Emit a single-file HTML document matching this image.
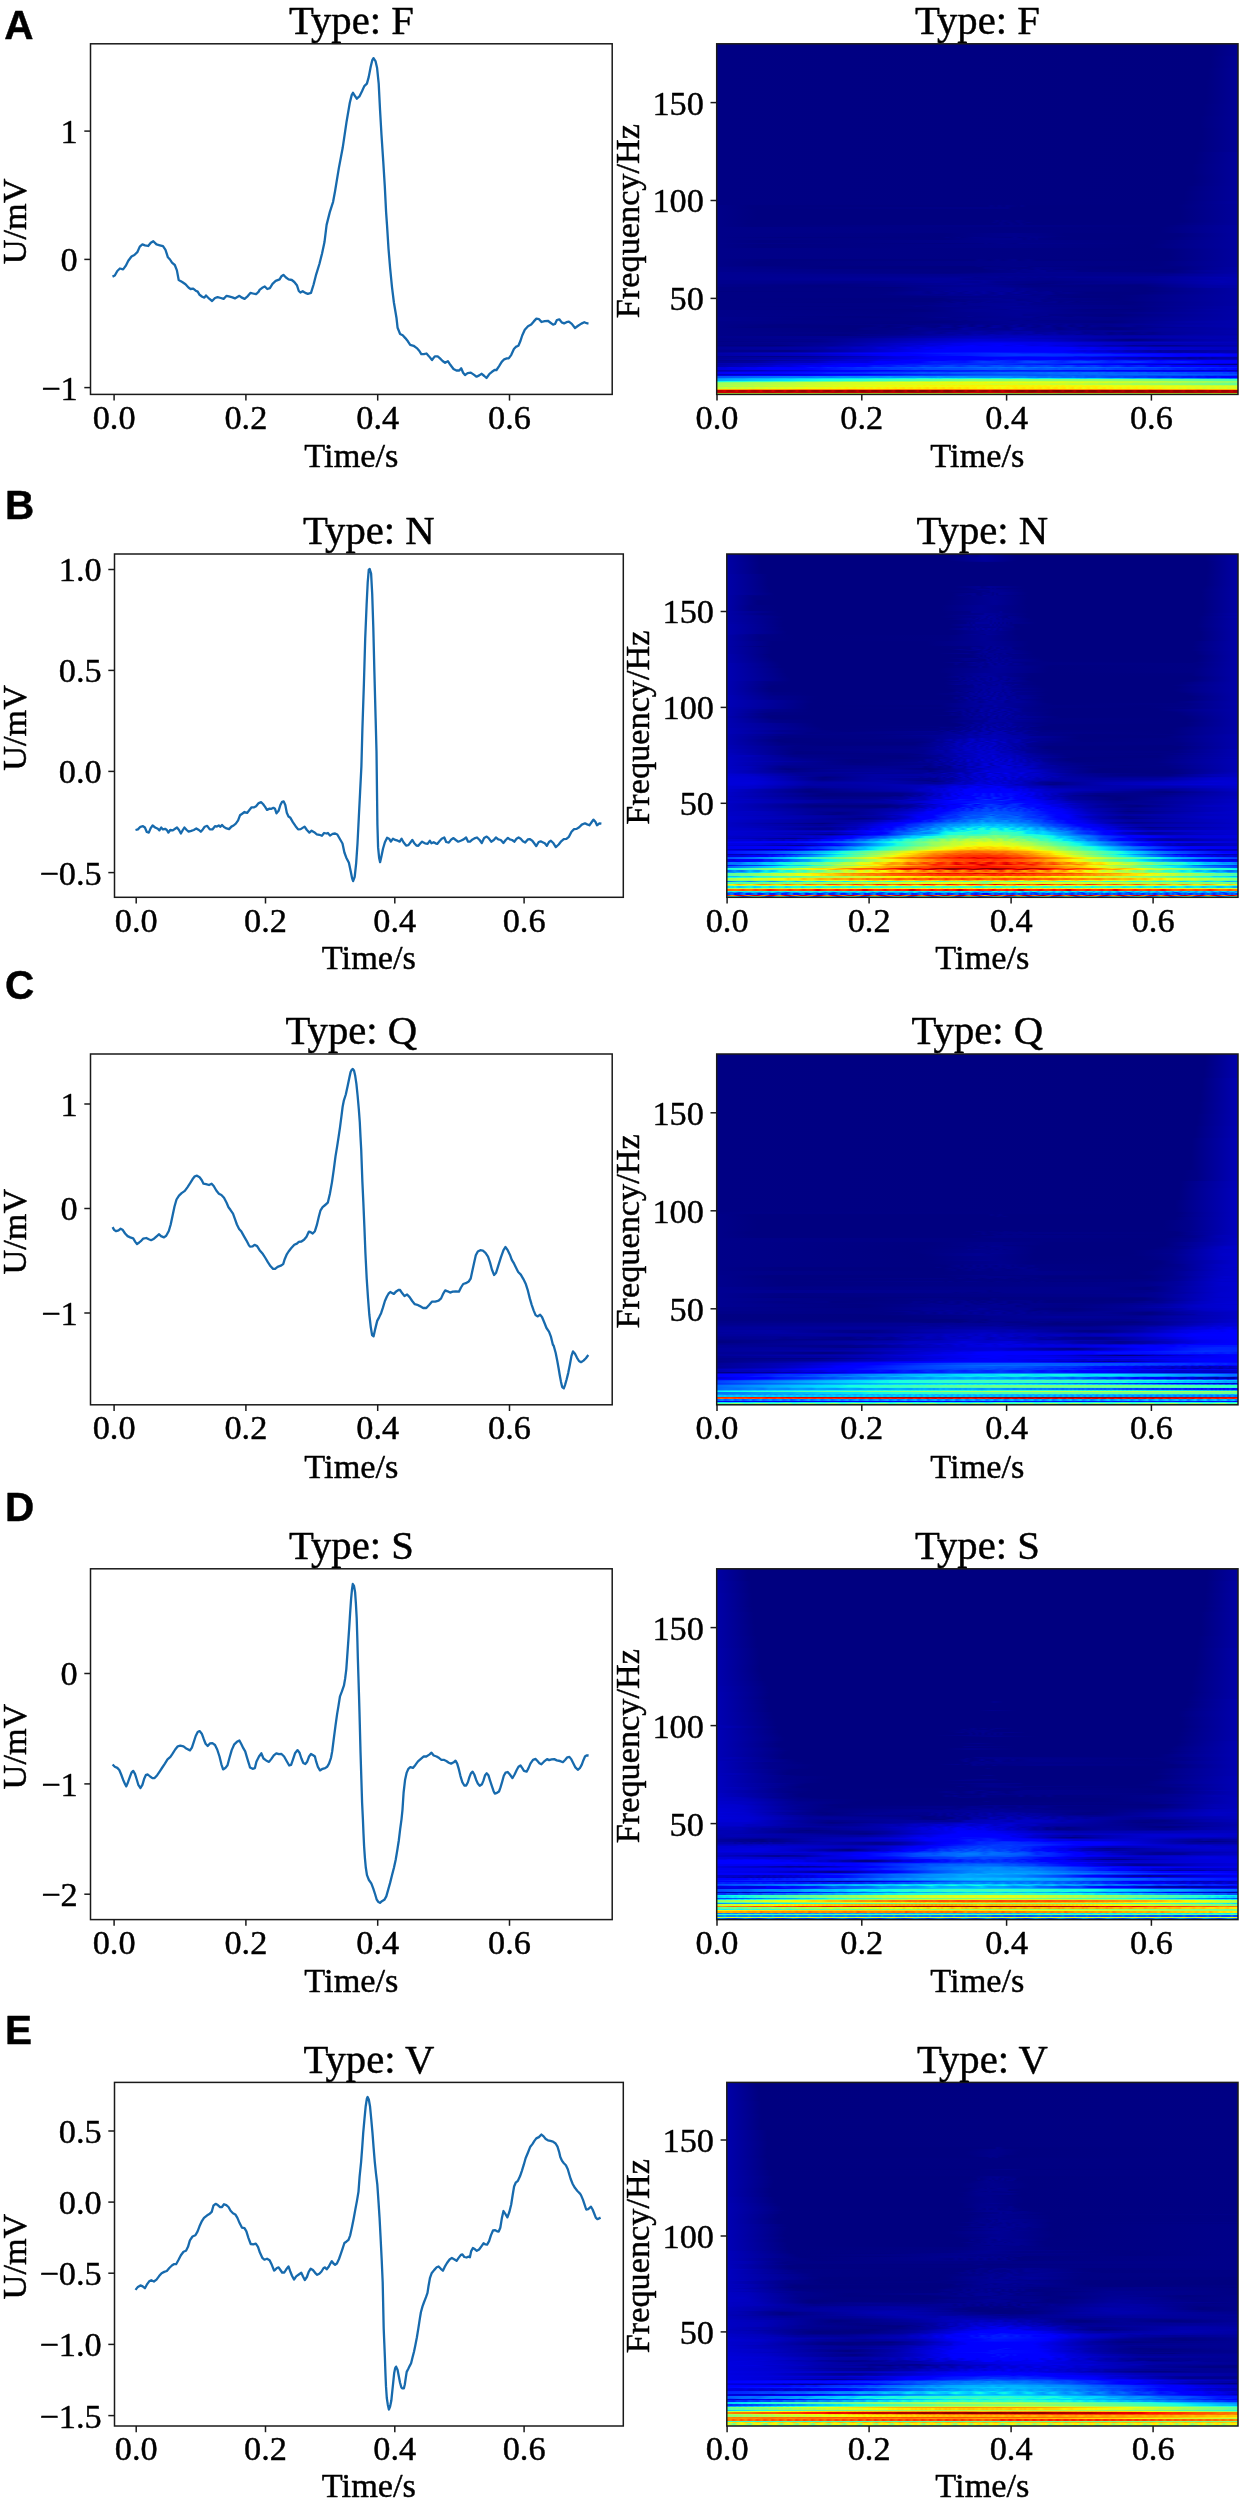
<!DOCTYPE html>
<html><head><meta charset="utf-8"><title>Figure</title>
<style>
html,body{margin:0;padding:0;background:#fff;}
#fig{position:relative;width:1245px;height:2500px;overflow:hidden;background:#fff;}
.sp{position:absolute;overflow:hidden;background:#00007f;}
.sp i{display:block;height:1px;background:linear-gradient(90deg,var(--g));}
.sp .h2{height:2px;}.sp .h3{height:3px;}.sp .h4{height:4px;}.sp .h5{height:5px;}.sp .h6{height:6px;}.sp .h7{height:7px;}.sp .h8{height:8px;}.sp .h9{height:9px;}.sp .h10{height:10px;}.sp .h11{height:11px;}.sp .h12{height:12px;}
svg{display:block;position:absolute;left:0;top:0;will-change:transform;}
text{fill:#000;stroke:#000;stroke-width:0.45px;stroke-linejoin:round;}
</style></head><body>
<div id="fig">
<div class="sp" style="left:717px;top:44px;width:521px;height:350px"><i class=h12 style="--g:#000084,#000080 494px,#000092"></i><i class=h12 style="--g:#000084,#000080 493px,#000095"></i><i class=h12 style="--g:#000084,#000080 491px,#000096"></i><i class=h12 style="--g:#000084,#000080 489px,#000096"></i><i class=h12 style="--g:#000084,#000080 489px,#000096"></i><i class=h12 style="--g:#000084,#000080 486px,#000096"></i><i class=h12 style="--g:#000084,#000080 483px,#000096"></i><i class=h12 style="--g:#000084,#000080 485px,#000096"></i><i class=h12 style="--g:#000084,#000080 481px,#000096"></i><i class=h12 style="--g:#000084,#000080 478px,#00009b"></i><i class=h10 style="--g:#000084,#000080 475px,#00009b"></i><i style="--g:#000084,#000080 476px,#00009b"></i><i class=h8 style="--g:#000084,#000080 477px,#00009b"></i><i class=h3 style="--g:#000084,#000080 475px,#00009b"></i><i class=h5 style="--g:#000084,#000080 469px,#00009b"></i><i class=h10 style="--g:#000084,#000080 467px,#00009b"></i><i class=h3 style="--g:#000084,#000080 465px,#00009e"></i><i style="--g:#000084,#000080 462px,#00009b"></i><i class=h2 style="--g:#000089,#000080 35px,#000080 271px,#000089 274px,#000080 279px,#000089 282px,#000080 287px,#000089 290px,#000080 302px,#000089 305px,#000080 309px,#000080 460px,#00009b"></i><i class=h2 style="--g:#000089,#000080 36px,#000089 291px,#000080 294px,#000080 461px,#00009b"></i><i class=h11 style="--g:#000089,#000080 40px,#000080 463px,#00009b"></i><i class=h2 style="--g:#000089,#000080 32px,#000080 276px,#000089 280px,#000080 283px,#000089 286px,#000080 297px,#000089 300px,#000080 311px,#000080 467px,#00009b"></i><i style="--g:#000089,#000080 35px,#000080 274px,#000089 277px,#000080 281px,#000089 284px,#000080 289px,#000089 292px,#000080 299px,#000089 302px,#000080 307px,#000089 311px,#000080 316px,#000080 464px,#00009b"></i><i class=h2 style="--g:#000089,#000080 32px,#000080 281px,#000089 284px,#000080 291px,#000089 294px,#000080 301px,#000089 304px,#000080 310px,#000080 458px,#00009b"></i><i class=h2 style="--g:#000089,#000080 36px,#000089 297px,#000080 448px,#00009f"></i><i class=h6 style="--g:#000089,#000080 443px,#00009f"></i><i class=h3 style="--g:#000089,#000080 227px,#00008d 296px,#000080 348px,#000080 461px,#00009f"></i><i style="--g:#000089,#000080 223px,#00008d 306px,#000080 356px,#000080 462px,#00009f"></i><i style="--g:#000089,#000080 62px,#000080 226px,#000089 230px,#000080 235px,#000089 242px,#000080 245px,#00008d 258px,#000084 294px,#000092 298px,#000084 302px,#00008d 318px,#000080 340px,#000080 455px,#00009f"></i><i class=h2 style="--g:#000089,#000080 227px,#00008d 272px,#00008d 304px,#000084 307px,#00008d 312px,#000084 316px,#00008d 320px,#000084 322px,#000080 348px,#000080 454px,#00009f"></i><i class=h3 style="--g:#000089,#000080 45px,#00008a 279px,#000080 436px,#00009f"></i><i style="--g:#000089,#000080 223px,#000084 266px,#00008d 269px,#000084 272px,#00008d 285px,#000084 298px,#00008d 303px,#000080 435px,#00009f"></i><i class=h4 style="--g:#000089,#000080 47px,#000089 290px,#000080 431px,#00009f"></i><i style="--g:#000089,#000080 443px,#00009f"></i><i class=h6 style="--g:#000089,#000080 451px,#00009f"></i><i style="--g:#000089,#000080 451px,#00009f"></i><i class=h2 style="--g:#000089,#000080 451px,#00009f"></i><i style="--g:#000089,#000080 453px,#00009f"></i><i class=h2 style="--g:#000089,#000080 54px,#000080 257px,#000089 262px,#000080 273px,#000089 281px,#000080 286px,#00008d 298px,#000080 302px,#000089 312px,#000080 319px,#000080 452px,#00009f"></i><i class=h5 style="--g:#000089,#000080 43px,#000089 294px,#000081 441px,#00009f"></i><i style="--g:#000089,#000080 107px,#000080 257px,#000089 262px,#000080 266px,#00008d 309px,#000084 312px,#000080 413px,#000084 459px,#00009f"></i><i class=h2 style="--g:#00008d,#000080 115px,#000080 265px,#000089 268px,#000084 312px,#00008d 319px,#000080 382px,#000084 463px,#0000a4"></i><i style="--g:#00008d,#000080 267px,#00008d 284px,#000084 292px,#000092 297px,#000084 302px,#000092 307px,#000084 315px,#000092 321px,#000084 326px,#00008d 335px,#000084 338px,#000080 456px,#0000a4"></i><i class=h2 style="--g:#00008d,#000080 265px,#000092 328px,#000089 330px,#00008d 356px,#000084 362px,#000080 455px,#00009b 489px,#0000a4"></i><i style="--g:#000092,#000080 239px,#000089 298px,#000092 301px,#000089 306px,#000092 328px,#000084 457px,#0000a8"></i><i style="--g:#000092,#000084 235px,#000092 290px,#000089 449px,#0000a8"></i><i class=h2 style="--g:#000092,#00008d 441px,#0000ad"></i><i style="--g:#000092,#000092 422px,#0000ad"></i><i style="--g:#000092,#000096 254px,#00008d 258px,#000096 280px,#00008d 285px,#000096 293px,#00008d 299px,#000096 306px,#00008d 312px,#000096 318px,#00008d 323px,#000096 330px,#00008d 336px,#000096 343px,#000096 437px,#0000b2 507px,#0000ad"></i><i class=h2 style="--g:#000092,#00009b 241px,#000092 247px,#00008d 338px,#000096 427px,#0000b2"></i><i style="--g:#00008d,#00009b 259px,#000089 331px,#000096 435px,#0000b2 499px,#0000ad"></i><i class=h2 style="--g:#00008d,#00008d 161px,#00009b 219px,#000092 261px,#00009b 267px,#00008d 280px,#000084 336px,#000092 432px,#0000b2 505px,#0000ad"></i><i style="--g:#00008d,#000089 147px,#000096 242px,#00009f 245px,#000080 329px,#00008d 365px,#00008d 434px,#0000ad 493px,#0000ad"></i><i style="--g:#000089,#000084 132px,#00009b 253px,#000080 313px,#000089 340px,#000084 423px,#0000ad 501px,#0000ad"></i><i class=h2 style="--g:#000089,#000080 108px,#000096 273px,#000084 317px,#000080 424px,#0000a4 488px,#0000a8"></i><i style="--g:#000084,#000080 180px,#000092 211px,#00009b 274px,#000089 311px,#000080 433px,#0000a4 492px,#0000a8"></i><i class=h3 style="--g:#000084,#000083 175px,#000099 246px,#000099 296px,#00008d 300px,#000095 306px,#00008a 320px,#000080 429px,#0000a4"></i><i style="--g:#000080,#000084 176px,#000092 204px,#000089 211px,#000096 217px,#00008d 225px,#00009b 229px,#00008d 237px,#00009f 242px,#00008d 249px,#00009f 254px,#000092 260px,#00009f 266px,#000092 272px,#00009f 278px,#000092 284px,#00009f 293px,#00008d 297px,#00009b 306px,#000089 310px,#000096 319px,#000089 322px,#000092 331px,#000084 336px,#00008d 344px,#000084 346px,#000080 435px,#0000a4"></i><i class=h2 style="--g:#000084,#000084 166px,#000092 203px,#000089 212px,#000096 219px,#00008d 230px,#00009b 235px,#00008d 244px,#00009b 249px,#000092 262px,#00009f 267px,#00008d 276px,#00009f 284px,#00008d 292px,#00009f 299px,#00008d 306px,#000092 334px,#000084 339px,#00008d 350px,#000080 370px,#000080 427px,#0000a4"></i><i style="--g:#000084,#000084 157px,#000092 209px,#000089 227px,#000096 232px,#00008d 253px,#00009f 259px,#000092 265px,#000092 278px,#00009f 285px,#000092 289px,#00008d 301px,#00009b 310px,#000089 317px,#000092 334px,#000084 341px,#000080 414px,#0000a4"></i><i style="--g:#000084,#000084 170px,#000096 260px,#00008d 270px,#00009b 278px,#00008d 283px,#000096 302px,#000089 317px,#000092 327px,#000084 334px,#000080 401px,#0000a4"></i><i class=h2 style="--g:#000084,#000084 200px,#000092 309px,#000080 359px,#000080 404px,#0000a4"></i><i style="--g:#000084,#000080 224px,#00008d 237px,#000096 283px,#00008d 287px,#000092 326px,#000084 332px,#00008d 338px,#000080 402px,#0000a4"></i><i class=h2 style="--g:#000084,#000080 218px,#000096 297px,#000089 301px,#000092 322px,#000089 325px,#000080 400px,#0000a4"></i><i style="--g:#000084,#000080 216px,#000089 227px,#000080 232px,#00008d 236px,#000084 248px,#000092 252px,#000089 264px,#000096 272px,#00008d 277px,#000096 307px,#000089 313px,#000096 322px,#000084 328px,#000092 338px,#000084 343px,#00008d 355px,#000080 360px,#000089 365px,#000080 409px,#0000a4"></i><i style="--g:#000084,#000080 127px,#000084 223px,#00008d 228px,#000084 235px,#000092 241px,#000089 261px,#000096 266px,#00008d 271px,#000096 314px,#000089 318px,#000092 338px,#000084 342px,#00008d 350px,#000084 354px,#000080 416px,#0000a4"></i><i class=h2 style="--g:#000084,#000084 209px,#000092 241px,#000089 248px,#000092 252px,#000096 299px,#00008d 306px,#000096 311px,#00008d 314px,#000080 410px,#0000a4"></i><i style="--g:#000084,#000084 173px,#000096 279px,#000084 420px,#0000a4"></i><i style="--g:#000084,#000080 113px,#000084 195px,#00008d 199px,#000084 209px,#000092 231px,#00008d 262px,#00009b 301px,#00008d 326px,#000084 415px,#0000a8"></i><i class=h2 style="--g:#000084,#000084 200px,#000096 290px,#000084 424px,#0000a8"></i><i style="--g:#000084,#000080 200px,#000096 262px,#00008d 289px,#00009b 297px,#000080 378px,#000080 417px,#0000a4 497px,#0000a4"></i><i class=h2 style="--g:#000089,#000080 208px,#000092 250px,#000096 317px,#000084 369px,#000084 420px,#0000a8"></i><i class=h2 style="--g:#000089,#000082 181px,#000096 299px,#000084 392px,#0000a8"></i><i class=h2 style="--g:#000089,#000084 185px,#000096 304px,#00008d 307px,#000092 330px,#000089 333px,#000080 401px,#0000a8"></i><i style="--g:#000089,#000080 147px,#00008d 249px,#000096 252px,#00008d 258px,#000096 314px,#000089 329px,#000092 337px,#000084 354px,#00008d 359px,#000080 390px,#0000a8"></i><i style="--g:#00008d,#000080 155px,#000084 204px,#000092 227px,#000089 237px,#000096 314px,#000089 320px,#000092 326px,#000089 409px,#0000a8"></i><i class=h2 style="--g:#00008d,#000084 86px,#000084 195px,#000092 275px,#000089 400px,#0000a8"></i><i style="--g:#00008d,#000084 109px,#000084 235px,#00008d 243px,#000084 249px,#00008d 252px,#000092 289px,#000089 296px,#000092 304px,#000089 311px,#000092 319px,#000089 323px,#000084 400px,#0000ad"></i><i class=h2 style="--g:#000089,#000080 223px,#000092 295px,#000080 395px,#0000a4 472px,#0000ad"></i><i style="--g:#000089,#000080 179px,#000092 315px,#000089 395px,#0000ad"></i><i style="--g:#000089,#000080 69px,#000089 189px,#000080 193px,#00008d 225px,#000084 243px,#000092 250px,#000084 255px,#000092 261px,#000089 281px,#000096 287px,#00008d 295px,#00009b 300px,#000089 306px,#000096 312px,#00008d 317px,#000096 326px,#000089 331px,#000096 337px,#000089 343px,#000096 350px,#000089 356px,#000092 360px,#000089 368px,#0000ad"></i><i class=h2 style="--g:#000089,#000080 52px,#000080 155px,#000089 164px,#000080 172px,#00008d 193px,#000084 222px,#000092 226px,#000092 233px,#000084 238px,#000096 243px,#000096 249px,#000084 255px,#00009b 261px,#00009b 265px,#000084 271px,#00009b 277px,#00009b 282px,#000089 288px,#00009f 297px,#000089 304px,#00009b 312px,#000089 321px,#00009b 332px,#000089 337px,#000096 349px,#000084 354px,#000096 364px,#000084 370px,#000092 375px,#000089 388px,#000096 412px,#00008d 420px,#0000a4 464px,#0000ad"></i><i style="--g:#000089,#000080 34px,#000080 143px,#000089 156px,#000080 168px,#00008d 183px,#000080 191px,#000096 201px,#000084 218px,#000096 223px,#00009b 231px,#000084 242px,#00009b 249px,#00009f 255px,#000084 267px,#0000a4 276px,#000089 290px,#0000a4 304px,#000089 316px,#00009b 331px,#000084 341px,#000096 353px,#000080 366px,#00008d 372px,#000080 391px,#0000ad"></i><i class=h2 style="--g:#000089,#000080 139px,#000089 147px,#000084 189px,#000096 197px,#000089 239px,#0000a4 247px,#000096 257px,#00008d 292px,#0000a4 297px,#0000a8 302px,#000096 309px,#000092 336px,#000084 342px,#000096 356px,#000089 363px,#000080 402px,#00009b 444px,#0000a8"></i><i style="--g:#000089,#000080 143px,#00009b 249px,#000092 414px,#0000ad"></i><i style="--g:#000089,#000080 130px,#00008d 200px,#00009b 216px,#000092 228px,#0000a8 264px,#000096 274px,#0000a4 284px,#0000a8 314px,#000096 320px,#00009f 362px,#000092 366px,#00009b 402px,#000092 420px,#0000ad"></i><i class=h2 style="--g:#000089,#000084 152px,#000092 202px,#00009f 213px,#000092 224px,#0000a4 232px,#00009b 250px,#0000a8 256px,#00009f 274px,#0000ad 291px,#00009f 299px,#0000ad 314px,#00009b 319px,#0000a8 338px,#000096 343px,#00009f 362px,#00008d 368px,#000096 386px,#000084 394px,#00008d 400px,#000084 416px,#000092 425px,#000089 436px,#000096 445px,#0000ad"></i><i style="--g:#000089,#000080 129px,#00008d 149px,#00008d 186px,#00009b 195px,#000092 201px,#0000a4 225px,#00009f 236px,#0000ad 242px,#00009f 251px,#0000b2 258px,#0000a4 268px,#0000b6 275px,#0000a8 281px,#0000b6 290px,#0000a8 297px,#0000b2 308px,#0000a4 312px,#0000b2 323px,#00009f 328px,#0000ad 338px,#00009b 345px,#0000a4 356px,#000096 360px,#00009b 373px,#00008d 378px,#000096 388px,#000089 392px,#000092 404px,#000089 406px,#000089 426px,#0000a4 477px,#0000a8"></i><i style="--g:#000089,#000080 129px,#0000bb 282px,#0000ad 366px,#00009f 386px,#0000ad"></i><i class=h2 style="--g:#00008d,#000092 149px,#0000c4 269px,#0000bb 280px,#0000c4 314px,#0000a8 396px,#0000b2"></i><i style="--g:#000089,#000096 127px,#0000c4 229px,#0000c8 291px,#0000d1 294px,#0000bf 314px,#00009b 418px,#0000b2 493px,#0000ad"></i><i class=h2 style="--g:#000089,#00008d 100px,#0000d6 257px,#0000c4 334px,#000080 414px,#00009f 461px,#0000b2"></i><i style="--g:#000084,#000089 100px,#0000cd 213px,#0000df 267px,#0000d6 317px,#0000a4 408px,#0000b6"></i><i style="--g:#000089,#000092 105px,#0000ed 265px,#0000e8 326px,#0000c4 398px,#0000bb"></i><i class=h2 style="--g:#000089,#000089 54px,#00009b 118px,#0000d1 192px,#0000d1 207px,#0000df 213px,#0000df 229px,#0000ed 237px,#0000fa 285px,#0000e8 316px,#0000ed 329px,#0000b6 426px,#0000b6"></i><i style="--g:#000084,#000080 65px,#00009b 106px,#000096 115px,#0000a8 127px,#0000a8 144px,#0000bb 153px,#0000bb 167px,#0000d1 180px,#0000c8 189px,#0000e3 203px,#0000da 216px,#0000f1 226px,#0000ed 243px,#0000ff 255px,#0000f1 264px,#0000ff 283px,#0000ed 289px,#0000ff 304px,#0000e3 315px,#0000f1 330px,#0000da 339px,#0000df 352px,#0000c4 366px,#0000c4 382px,#0000ad 389px,#0000ad 405px,#000092 416px,#00009b 430px,#00008d 436px,#00008d 459px,#00009b 468px,#0000ad"></i><i style="--g:#00008d,#00008d 54px,#00009f 106px,#0000ff 247px,#0000f6 325px,#0000bb 396px,#0000a4 440px,#0000b2"></i><i class=h2 style="--g:#000096,#0000a8 106px,#0000b6 114px,#0000b6 131px,#0000c4 137px,#0000c4 154px,#0000da 164px,#0000d1 176px,#0000ed 191px,#0000e3 201px,#0000fa 209px,#0000f1 224px,#0000ff 230px,#0000ff 355px,#0000ed 364px,#0000f6 376px,#0000e3 385px,#0000e8 399px,#0000d6 412px,#0000da 425px,#0000cd 435px,#0000bf"></i><i style="--g:#000092,#0000a4 107px,#0000c8 159px,#0000df 175px,#0000da 183px,#0000f1 198px,#0000f1 212px,#0000ff 219px,#0000ff 361px,#0000d6 422px,#0000bf"></i><i class=h2 style="--g:#00008d,#000084 71px,#0000a8 123px,#0000ff 215px,#0000ff 344px,#0000df 368px,#0000e8 372px,#0000d6 378px,#0000d6 388px,#0000c4 395px,#0000c8 404px,#0000b6 410px,#0000b6 421px,#0000a4 432px,#0000ad 437px,#00009b 443px,#0000a4 446px,#00009b 460px,#0000ad"></i><i style="--g:#00009b,#0000b2 89px,#0000ff 189px,#0014ff 269px,#0000ff 355px,#0000a4 452px,#0000ad 455px,#0000a4 458px,#0000ad 461px,#0000a4 463px,#0000ad 467px,#0000a4 469px,#0000ad 479px,#0000a4 489px,#0000b2 491px,#0000a8 501px,#0000b2 503px,#0000ad 519px,#0000b6"></i><i style="--g:#0000a8,#0000c4 73px,#0000ff 157px,#0000ff 189px,#001cff 230px,#0018ff 245px,#002cff 281px,#002cff 298px,#0020ff 306px,#0028ff 326px,#001cff 336px,#0020ff 347px,#0010ff 356px,#0018ff 365px,#000cff 370px,#000cff 393px,#0000ff 398px,#0000ff 443px,#0000ed 461px,#0000f6 469px,#0000e8 479px,#0000ed 490px,#0000e3 493px,#0000e8 503px,#0000da 509px,#0000da"></i><i class=h2 style="--g:#0000a4,#0000bf 89px,#0000ff 177px,#0000ff 202px,#0034ff 299px,#0028ff 379px,#0000ff 463px,#0000ff 503px,#0000f1"></i><i style="--g:#000092,#000089 61px,#000096 91px,#0000bf 148px,#0000e8 181px,#0000e8 196px,#0000ff 210px,#0000ff 254px,#0014ff 268px,#001cff 287px,#0010ff 309px,#001cff 336px,#0014ff 356px,#0008ff 358px,#0010ff 374px,#0000ff 396px,#0000ff 452px,#0000e8 475px,#0000e3"></i><i class=h2 style="--g:#000096,#0000a8 97px,#0000ff 223px,#0000ff 338px,#0000f1 352px,#0000f6 360px,#0000e8 364px,#0000ed 372px,#0000df 375px,#0000d6 396px,#0000c8 400px,#0000bf 420px,#0000b2 424px,#0000b6 432px,#0000a8 435px,#0000ad 444px,#00009f 447px,#0000a4 469px,#000096 472px,#0000a4 481px,#000096 483px,#0000a8 493px,#00009b 495px,#0000a8 502px,#0000a8"></i><i style="--g:#00009b,#0000c8 123px,#0000d6 132px,#0000df 160px,#0000ed 165px,#0000f1 192px,#0000ff 197px,#0000ff 274px,#000cff 279px,#0000ff 284px,#000cff 294px,#0000ff 303px,#0000ff 363px,#0000e8 388px,#0000ed 394px,#0000df 398px,#0000e8 400px,#0000cd 430px,#0000d6 433px,#0000c4 446px,#0000cd 449px,#0000bf 461px,#0000c8 466px,#0000bb 479px,#0000c8 481px,#0000bb 485px,#0000c4 497px,#0000bb"></i><i style="--g:#00008d,#000092 40px,#0000b2 100px,#0000da 141px,#0000d6 151px,#0000ed 164px,#0000e8 175px,#0000ff 187px,#0000ff 227px,#0010ff 236px,#0008ff 248px,#0020ff 261px,#0010ff 273px,#0028ff 284px,#0018ff 299px,#0030ff 310px,#001cff 320px,#0030ff 337px,#0018ff 347px,#002cff 362px,#0014ff 371px,#0028ff 385px,#0010ff 394px,#0020ff 409px,#0008ff 418px,#0014ff 434px,#0000ff 442px,#000cff 454px,#0000ff 464px,#0000f6"></i><i class=h2 style="--g:#000096,#00009b 38px,#0000bb 64px,#0000bb 97px,#0000df 116px,#0000df 150px,#0000ff 160px,#0000ff 203px,#0020ff 217px,#0010ff 248px,#003cff 266px,#0020ff 297px,#0040ff 307px,#004cff 317px,#0024ff 345px,#0040ff 357px,#0048ff 368px,#0020ff 394px,#0038ff 417px,#0010ff 442px,#0020ff 465px,#0000ff 489px,#0000ff"></i><i style="--g:#0000ad,#0000c8 62px,#0000ff 138px,#0000ff 169px,#0030ff 271px,#002cff 337px,#0000ff 423px,#0000ff 457px,#0000da"></i><i style="--g:#0000a4,#0000bb 30px,#0000b6 42px,#0000da 77px,#0000d6 90px,#0000e8 98px,#0000e8 112px,#0000ff 125px,#0000ff 163px,#0010ff 173px,#0008ff 185px,#001cff 193px,#0014ff 209px,#0024ff 219px,#001cff 230px,#002cff 237px,#0020ff 253px,#002cff 269px,#0020ff 280px,#0030ff 286px,#001cff 302px,#0020ff 317px,#0014ff 324px,#0020ff 336px,#0008ff 350px,#0000ff 394px,#0000f1 410px,#0000df 417px,#0000e3 431px,#0000b2 465px,#0000b6 477px,#00009f 491px,#00008d"></i><i class=h2 style="--g:#0000ad,#0000d1 55px,#0000df 60px,#0000da 73px,#0000f6 87px,#0000f1 102px,#0000ff 106px,#0004ff 149px,#001cff 157px,#0014ff 173px,#002cff 181px,#0020ff 197px,#003cff 207px,#002cff 220px,#0044ff 228px,#0044ff 235px,#0030ff 243px,#004cff 253px,#004cff 259px,#0034ff 268px,#0050ff 277px,#0050ff 283px,#003cff 289px,#0050ff 305px,#0038ff 312px,#004cff 330px,#0030ff 338px,#0048ff 351px,#0044ff 355px,#0028ff 361px,#003cff 378px,#001cff 387px,#0030ff 401px,#0010ff 410px,#0024ff 422px,#0020ff 427px,#0004ff 433px,#0014ff 451px,#0000ff 455px,#0000ff 501px,#0000ed 503px,#0000f6"></i><i style="--g:#0000df,#0000da 8px,#0000ed 14px,#0000e3 23px,#0000f6 29px,#0000ed 38px,#0000ff 43px,#0000ff 87px,#0014ff 94px,#000cff 103px,#0020ff 111px,#0018ff 119px,#0028ff 125px,#0024ff 136px,#0034ff 141px,#002cff 151px,#0040ff 158px,#0040ff 182px,#0054ff 191px,#004cff 200px,#005cff 206px,#0054ff 216px,#0064ff 223px,#0060ff 248px,#0070ff 268px,#0068ff 280px,#0074ff 286px,#0068ff 295px,#007cff 302px,#0068ff 310px,#0078ff 318px,#0068ff 325px,#0078ff 336px,#0064ff 342px,#0074ff 350px,#0064ff 357px,#0070ff 368px,#005cff 374px,#0068ff 381px,#0058ff 390px,#0060ff 401px,#0054ff 405px,#0048ff 448px,#0038ff 455px,#0040ff 463px,#0030ff 471px,#0034ff 481px,#0028ff 485px,#002cff 494px,#0014ff"></i><i class=h2 style="--g:#0000da,#0000ff 51px,#0004ff 95px,#0028ff 140px,#0030ff 169px,#003cff 174px,#003cff 193px,#0048ff 198px,#0040ff 205px,#004cff 209px,#004cff 243px,#005cff 269px,#0054ff 279px,#0060ff 282px,#0054ff 292px,#0064ff 306px,#0054ff 323px,#005cff 331px,#0050ff 340px,#005cff 342px,#0050ff 347px,#0050ff 379px,#0040ff 388px,#004cff 390px,#003cff 399px,#0040ff 415px,#0030ff 424px,#0034ff 439px,#0024ff 447px,#002cff 452px,#001cff 460px,#0020ff 475px,#0010ff 483px,#0018ff 488px,#0008ff 496px,#0010ff 501px,#0000ff 509px,#000cff 511px,#0000ff"></i><i style="--g:#0000ad,#0000bf 28px,#0000bb 44px,#0000d1 56px,#0000d6 83px,#0000f1 103px,#0000ff 134px,#0000ff 179px,#0014ff 190px,#0010ff 218px,#0024ff 237px,#0018ff 266px,#0028ff 276px,#0018ff 303px,#0024ff 326px,#000cff 351px,#0014ff 373px,#0000ff 386px,#0000ff 424px,#0000f6 428px,#0000ff 431px,#0000ed 437px,#0000e8 446px,#0000f1 451px,#0000e3 456px,#0000f1 459px,#0000da 466px,#0000e3 469px,#0000d1 475px,#0000da 479px,#0000c8 486px,#0000d6 489px,#0000c8 493px,#0000c8 497px,#0000d6 499px,#0000c4 504px,#0000d1 507px,#0000bb 513px,#0000c4 518px,#0000b6"></i><i style="--g:#0000c4,#0000ff 96px,#0000ff 135px,#0018ff 171px,#0018ff 198px,#0024ff 203px,#001cff 214px,#0028ff 219px,#001cff 237px,#0024ff 255px,#0030ff 258px,#0030ff 282px,#0024ff 286px,#0038ff 297px,#0028ff 326px,#002cff 364px,#0020ff 366px,#0028ff 372px,#001cff 374px,#0024ff 388px,#0018ff 390px,#0020ff 396px,#0014ff 398px,#001cff 404px,#0010ff 414px,#0018ff 420px,#000cff 422px,#0014ff 428px,#0008ff 430px,#0010ff 436px,#0004ff 439px,#000cff 445px,#0000ff 447px,#0000ff 493px,#0000f6 495px,#0000ff 501px,#0000f1 503px,#0000ff 509px,#0000ed 511px,#0000fa 517px,#0000e8 519px,#0000f1"></i><i class=h2 style="--g:#0000f1,#0000ff 16px,#0000ff 54px,#0014ff 102px,#0024ff 112px,#002cff 149px,#003cff 157px,#003cff 183px,#0054ff 207px,#004cff 212px,#0058ff 215px,#004cff 231px,#005cff 235px,#0060ff 242px,#005cff 274px,#006cff 283px,#0064ff 315px,#0070ff 323px,#0068ff 328px,#0074ff 332px,#0068ff 340px,#0074ff 346px,#0064ff 354px,#006cff 360px,#0060ff 362px,#0070ff 366px,#0070ff 380px,#0064ff 382px,#006cff 386px,#0060ff 389px,#006cff 394px,#005cff 402px,#0068ff 420px,#005cff 422px,#0064ff 429px,#0058ff 431px,#005cff 442px,#0050ff 445px,#005cff 448px,#0050ff 451px,#005cff 457px,#004cff 465px,#0054ff 469px,#0048ff 471px,#0048ff 505px,#003cff 507px,#0044ff 511px,#0038ff 513px,#0040ff 517px,#0030ff 519px,#0034ff"></i><i style="--g:#0000bf,#0000da 70px,#0000ff 115px,#0000ff 149px,#004cff 266px,#006cff 356px,#006cff 441px,#0050ff"></i><i style="--g:#0000e3,#0000ff 46px,#0000ff 88px,#0030ff 184px,#003cff 189px,#0038ff 200px,#0044ff 205px,#003cff 209px,#005cff 260px,#0064ff 301px,#0058ff 312px,#0058ff 328px,#0064ff 334px,#0058ff 344px,#0064ff 350px,#0058ff 360px,#0064ff 366px,#0058ff 370px,#0064ff 372px,#0058ff 376px,#0064ff 382px,#0058ff 386px,#0060ff 399px,#0054ff 402px,#005cff 421px,#0050ff 424px,#0050ff 469px,#0044ff 472px,#004cff 479px,#0040ff 483px,#004cff 485px,#003cff 489px,#0048ff 495px,#003cff 498px,#0040ff 511px,#0030ff"></i><i class=h2 style="--g:#0050ff,#0078ff 76px,#0074ff 90px,#0084ff 100px,#007cff 114px,#008cff 125px,#0084ff 140px,#0090ff 148px,#0088ff 163px,#0098ff 173px,#008cff 177px,#008cff 191px,#0098ff 197px,#008cff 212px,#0090ff 219px,#009cff 221px,#008cff 229px,#0098ff 246px,#008cff 253px,#008cff 294px,#0080ff 297px,#0088ff 308px,#0078ff 312px,#0080ff 318px,#0070ff 321px,#0070ff 330px,#007cff 332px,#006cff 336px,#0074ff 342px,#0064ff 346px,#0068ff 354px,#0074ff 356px,#0060ff 360px,#0068ff 366px,#0058ff 369px,#0058ff 378px,#0064ff 380px,#0048ff 394px,#0048ff 402px,#0054ff 405px,#0044ff 408px,#0048ff 415px,#0038ff 418px,#0044ff 429px,#0034ff 432px,#0038ff 438px,#0028ff 442px,#0034ff 453px,#0024ff 456px,#0028ff 463px,#0018ff 466px,#0018ff 475px,#0024ff 477px,#0010ff 481px,#0018ff 487px,#0008ff 490px,#0008ff 499px,#0014ff 501px,#0000ff 505px,#0000ff"></i><i style="--g:#008cff,#00a0ff 19px,#009cff 26px,#00b0ff 35px,#00acff 52px,#00b8ff 54px,#00c4ff 68px,#00bcff 74px,#00d0ff 84px,#00ccff 100px,#00dcfe 106px,#00e0fb 116px,#00d8ff 123px,#02e8f4 133px,#00e0fb 149px,#0cf4eb 159px,#02e8f4 171px,#0ff8e7 187px,#06ecf1 197px,#13fce4 201px,#16ffe1 210px,#0cf4eb 215px,#13fce4 217px,#09f0ee 219px,#0ff8e7 221px,#06ecf1 223px,#13fce4 226px,#16ffe1 231px,#0cf4eb 237px,#13fce4 239px,#09f0ee 241px,#19ffde 257px,#09f0ee 272px,#16ffe1 275px,#16ffe1 283px,#06ecf1 293px,#0ff8e7 296px,#13fce4 306px,#00e0fb 320px,#0cf4eb 324px,#0cf4eb 332px,#00dcfe 342px,#02e8f4 345px,#02e8f4 358px,#00d8ff 360px,#00e0fb 362px,#00d0ff 364px,#00d8ff 366px,#00ccff 368px,#00e0fb 372px,#00e0fb 380px,#00c0ff 394px,#00d4ff 398px,#00d4ff 402px,#00b4ff 416px,#00c4ff 420px,#00c4ff 428px,#00a4ff 442px,#00b4ff 446px,#00b4ff 455px,#0094ff 465px,#00a4ff 468px,#00a0ff 477px,#0084ff 487px,#008cff 489px,#007cff 491px,#0090ff 494px,#0090ff 503px,#0084ff 505px,#008cff 507px,#007cff 509px,#0084ff 511px,#0070ff 513px,#0084ff 517px,#0078ff 519px,#0080ff"></i><i class=h2 style="--g:#00a4ff,#00dcfe 68px,#16ffe1 105px,#5aff9d 217px,#80ff77 255px,#7dff7a 286px,#8dff6a 299px,#80ff77 326px,#87ff70 380px,#7dff7a 420px,#46ffb1"></i><i style="--g:#0cf4eb,#1cffdb 10px,#1fffd7 26px,#30ffc7 32px,#36ffc1 52px,#46ffb1 58px,#49ffad 74px,#5dff9a 84px,#5aff9d 96px,#6dff8a 106px,#6dff8a 122px,#7dff7a 128px,#77ff80 143px,#90ff66 158px,#8aff6d 165px,#9dff5a 177px,#9aff5d 193px,#adff49 203px,#a4ff53 213px,#baff3c 229px,#b1ff46 241px,#c1ff36 251px,#b7ff40 263px,#c7ff30 273px,#beff39 284px,#caff2c 300px,#beff39 311px,#ceff29 321px,#c4ff33 338px,#d1ff26 344px,#c1ff36 360px,#ceff29 374px,#beff39 386px,#caff2c 392px,#baff3c 402px,#c4ff33 418px,#b4ff43 428px,#baff3c 444px,#aaff4d 456px,#adff49 467px,#9dff5a 477px,#a4ff53 489px,#94ff63 499px,#90ff66 519px,#87ff70"></i><i style="--g:#7dff7a,#a7ff50 42px,#9aff5d 44px,#b4ff43 66px,#aaff4d 68px,#b1ff46 78px,#beff39 80px,#b7ff40 83px,#c4ff33 90px,#baff3c 96px,#d1ff26 114px,#c7ff30 121px,#d4ff23 124px,#dbff1c 138px,#d1ff26 145px,#deff19 148px,#d7ff1f 155px,#e4ff13 163px,#dbff1c 169px,#e7ff0f 172px,#deff19 179px,#eeff09 187px,#e1ff16 189px,#eeff09 197px,#e4ff13 203px,#f4f802 211px,#e4ff13 217px,#f4f802 221px,#e7ff0f 223px,#f1fc06 225px,#e7ff0f 227px,#f8f500 235px,#e7ff0f 241px,#f8f500 245px,#ebff0c 247px,#f8f500 259px,#ebff0c 266px,#f8f500 269px,#eeff09 271px,#f4f802 284px,#e7ff0f 290px,#f4f802 293px,#e7ff0f 296px,#e7ff0f 305px,#f1fc06 307px,#e7ff0f 314px,#f1fc06 318px,#e1ff16 320px,#e7ff0f 322px,#deff19 324px,#ebff0c 342px,#dbff1c 344px,#e4ff13 346px,#d7ff1f 348px,#d7ff1f 353px,#e4ff13 356px,#d7ff1f 358px,#e1ff16 360px,#d7ff1f 362px,#e4ff13 366px,#d1ff26 368px,#dbff1c 370px,#ceff29 372px,#d7ff1f 374px,#ceff29 377px,#deff19 380px,#ceff29 382px,#dbff1c 390px,#caff2c 392px,#d1ff26 394px,#c4ff33 396px,#ceff29 398px,#c4ff33 401px,#d1ff26 404px,#c4ff33 411px,#d1ff26 414px,#c1ff36 416px,#baff3c 420px,#c1ff36 422px,#b7ff40 425px,#c4ff33 428px,#baff3c 435px,#c4ff33 438px,#adff49 445px,#b4ff43 447px,#aaff4d 449px,#b7ff40 453px,#aaff4d 459px,#b4ff43 463px,#a4ff53 465px,#a7ff50 471px,#9aff5d 473px,#a7ff50 476px,#9aff5d 483px,#a7ff50 487px,#97ff60 489px,#97ff60 495px,#8aff6d 497px,#9aff5d 501px,#8aff6d 507px,#97ff60 511px,#83ff73 513px,#8aff6d 515px,#7dff7a 517px,#87ff70 519px,#7aff7d"></i><i class=h2 style="--g:#a0ff56,#d7ff1f 137px,#deff19 267px,#d1ff26 276px,#d7ff1f 300px,#ceff29 302px,#ceff29 332px,#c4ff33 334px,#c7ff30 348px,#baff3c 356px,#c1ff36 364px,#b4ff43 372px,#baff3c 380px,#adff49 384px,#aaff4d 412px,#9dff5a 416px,#a0ff56 428px,#63ff94"></i><i style="--g:#a7ff50,#baff3c 20px,#b1ff46 24px,#beff39 26px,#b4ff43 30px,#c1ff36 32px,#b7ff40 36px,#c4ff33 38px,#baff3c 42px,#caff2c 56px,#c4ff33 60px,#ceff29 62px,#c4ff33 66px,#d1ff26 68px,#c7ff30 72px,#dbff1c 92px,#d1ff26 96px,#e1ff16 110px,#d7ff1f 114px,#e4ff13 117px,#dbff1c 120px,#e7ff0f 129px,#deff19 132px,#eeff09 147px,#e4ff13 150px,#eeff09 153px,#e7ff0f 157px,#f1fc06 159px,#e7ff0f 169px,#f4f802 171px,#ebff0c 181px,#f8f500 183px,#ebff0c 187px,#f8f500 189px,#eeff09 199px,#fbf100 201px,#eeff09 205px,#fbf100 207px,#eeff09 211px,#fbf100 213px,#f1fc06 223px,#feed00 225px,#f1fc06 229px,#feed00 231px,#f1fc06 235px,#feed00 237px,#f1fc06 241px,#feed00 243px,#f4f802 253px,#feed00 255px,#f4f802 259px,#feed00 261px,#f4f802 265px,#feed00 267px,#f4f802 271px,#feed00 273px,#f4f802 277px,#feed00 279px,#f4f802 283px,#feed00 285px,#f4f802 289px,#feed00 292px,#f4f802 295px,#feed00 298px,#f4f802 302px,#feed00 304px,#f4f802 308px,#feed00 310px,#f1fc06 314px,#feed00 316px,#f1fc06 319px,#feed00 322px,#f1fc06 325px,#fbf100 328px,#eeff09 332px,#fbf100 334px,#eeff09 338px,#fbf100 340px,#eeff09 343px,#fbf100 346px,#ebff0c 350px,#f8f500 352px,#ebff0c 356px,#f8f500 358px,#e7ff0f 362px,#f8f500 364px,#e7ff0f 368px,#f4f802 370px,#e7ff0f 374px,#f4f802 376px,#e4ff13 380px,#f1fc06 382px,#e4ff13 386px,#eeff09 389px,#e1ff16 392px,#eeff09 394px,#e1ff16 398px,#ebff0c 401px,#deff19 404px,#ebff0c 406px,#deff19 410px,#e7ff0f 412px,#dbff1c 416px,#e4ff13 425px,#d7ff1f 428px,#e1ff16 431px,#d4ff23 434px,#deff19 443px,#ceff29 452px,#d7ff1f 461px,#caff2c 464px,#d4ff23 467px,#c7ff30 470px,#d1ff26 473px,#c4ff33 476px,#ceff29 479px,#beff39 489px,#caff2c 491px,#baff3c 495px,#c7ff30 497px,#b7ff40 501px,#c4ff33 503px,#b4ff43 507px,#c1ff36 509px,#b1ff46 513px,#beff39 515px,#adff49 519px,#baff3c"></i><i style="--g:#a0ff56,#9dff5a 10px,#b1ff46 28px,#a7ff50 32px,#b7ff40 42px,#adff49 44px,#c4ff33 76px,#beff39 85px,#caff2c 90px,#c7ff30 106px,#d7ff1f 124px,#d7ff1f 155px,#e7ff0f 173px,#deff19 176px,#f1fc06 213px,#e7ff0f 230px,#f4f802 235px,#ebff0c 238px,#f8f500 249px,#eeff09 287px,#feed00 297px,#f4f802 300px,#feed00 332px,#f1fc06 336px,#feed00 346px,#f4f802 348px,#fbf100 358px,#f1fc06 360px,#fbf100 366px,#fbf100 380px,#eeff09 388px,#f8f500 393px,#eeff09 396px,#f4f802 428px,#e7ff0f 436px,#eeff09 443px,#e4ff13 445px,#ebff0c 454px,#e1ff16 458px,#ebff0c 463px,#dbff1c 485px,#deff19 503px,#d4ff23 505px,#deff19 517px,#d4ff23"></i><i class=h2 style="--g:#caff2c,#beff39 4px,#d1ff26 9px,#c1ff36 12px,#d4ff23 18px,#c4ff33 20px,#d7ff1f 26px,#c7ff30 28px,#dbff1c 33px,#caff2c 36px,#dbff1c 39px,#deff19 42px,#ceff29 44px,#e1ff16 50px,#d1ff26 52px,#e4ff13 58px,#d4ff23 60px,#e7ff0f 66px,#d7ff1f 68px,#ebff0c 74px,#dbff1c 76px,#eeff09 82px,#deff19 84px,#f1fc06 90px,#e1ff16 92px,#f1fc06 97px,#e4ff13 100px,#f4f802 106px,#e7ff0f 109px,#f8f500 114px,#e7ff0f 117px,#f8f500 122px,#eeff09 126px,#fbf100 130px,#ebff0c 133px,#fbf100 138px,#ebff0c 141px,#feed00 146px,#eeff09 149px,#feed00 155px,#eeff09 157px,#ffea00 162px,#f1fc06 165px,#ffea00 171px,#f1fc06 173px,#ffe600 179px,#f1fc06 181px,#feed00 183px,#ffe200 187px,#f4f802 189px,#ffe200 195px,#f4f802 197px,#ffe200 203px,#f4f802 205px,#ffde00 211px,#f4f802 213px,#ffde00 219px,#f8f500 221px,#ffde00 227px,#f8f500 229px,#ffde00 235px,#f8f500 238px,#ffde00 243px,#f8f500 245px,#ffe200 251px,#f4f802 253px,#ffea00 259px,#eeff09 261px,#ffea00 267px,#eeff09 270px,#feed00 275px,#eeff09 278px,#feed00 283px,#eeff09 285px,#feed00 291px,#eeff09 294px,#ffe600 299px,#f4f802 302px,#ffe200 307px,#f4f802 310px,#ffe200 316px,#f4f802 318px,#ffe200 324px,#f4f802 326px,#ffe200 332px,#f1fc06 334px,#ffe600 338px,#ffe600 340px,#f1fc06 342px,#feed00 344px,#ffe600 348px,#eeff09 350px,#ffe200 356px,#eeff09 358px,#ffe600 364px,#eeff09 366px,#ffe600 372px,#ebff0c 374px,#ffea00 379px,#ebff0c 382px,#ffea00 388px,#ebff0c 390px,#feed00 395px,#ebff0c 398px,#feed00 404px,#e7ff0f 406px,#feed00 412px,#e7ff0f 414px,#fbf100 420px,#e7ff0f 422px,#f8f500 428px,#e4ff13 431px,#f8f500 436px,#e1ff16 439px,#f4f802 444px,#deff19 447px,#eeff09 452px,#dbff1c 455px,#eeff09 460px,#d7ff1f 463px,#ebff0c 468px,#d7ff1f 471px,#e7ff0f 477px,#d4ff23 479px,#e7ff0f 484px,#d1ff26 487px,#e4ff13 492px,#ceff29 495px,#e4ff13 501px,#ceff29 503px,#e1ff16 509px,#caff2c 511px,#deff19 516px,#c7ff30 519px,#d4ff23"></i><i style="--g:#ffa700,#ffa300 30px,#ff9100 36px,#ff9f00 50px,#ff9c00 69px,#ff8900 84px,#ff9100 119px,#ff8d00 128px,#ff7e00 132px,#ff8d00 147px,#ff8600 177px,#ff7700 181px,#ff8200 184px,#ff8600 216px,#ff8200 226px,#ff7300 229px,#ff8200 233px,#ff8600 243px,#ff8600 273px,#ff7a00 278px,#ff8d00 291px,#ff8900 330px,#ff7a00 336px,#ff8600 340px,#ff9100 368px,#ff8600 374px,#ff9100 378px,#ff8200 385px,#ff9400 398px,#ff9800 429px,#ff8900 433px,#ff9800 437px,#ff9400 443px,#ff9f00 447px,#ffa700 467px,#ff9c00 471px,#ffa700 476px,#ff9800 481px,#ffae00 495px,#ffb200"></i><i class=h2 style="--g:#b20000,#bf0000 5px,#da0000 8px,#b60000 10px,#ad0000 14px,#bb0000 17px,#da0000 20px,#b60000 22px,#ad0000 27px,#bf0000 30px,#da0000 32px,#b20000 34px,#a80000 38px,#bb0000 42px,#da0000 44px,#b20000 46px,#a40000 50px,#b60000 54px,#d60000 56px,#a80000 59px,#9f0000 62px,#b20000 66px,#d10000 68px,#ad0000 70px,#9b0000 74px,#ad0000 78px,#cd0000 80px,#ad0000 82px,#9b0000 85px,#9b0000 88px,#c80000 92px,#9f0000 95px,#960000 98px,#9f0000 101px,#c40000 104px,#bf0000 105px,#a80000 106px,#960000 109px,#960000 112px,#bf0000 116px,#9b0000 119px,#920000 122px,#9b0000 125px,#bb0000 128px,#bb0000 129px,#9b0000 131px,#920000 136px,#a80000 139px,#bb0000 140px,#bb0000 141px,#960000 143px,#8d0000 147px,#b60000 152px,#b60000 153px,#920000 155px,#8d0000 159px,#b60000 165px,#920000 167px,#8d0000 172px,#b60000 177px,#8d0000 179px,#890000 183px,#960000 186px,#b60000 189px,#890000 191px,#890000 196px,#9b0000 199px,#b60000 201px,#890000 203px,#840000 207px,#920000 210px,#b20000 213px,#890000 215px,#840000 219px,#920000 222px,#b20000 225px,#8d0000 227px,#840000 231px,#9b0000 235px,#b60000 237px,#8d0000 240px,#890000 243px,#960000 246px,#bb0000 249px,#9b0000 251px,#920000 253px,#960000 257px,#c40000 261px,#a40000 263px,#960000 267px,#9b0000 270px,#bf0000 273px,#9f0000 276px,#960000 280px,#a40000 283px,#c40000 285px,#c40000 286px,#a40000 288px,#960000 293px,#b20000 298px,#920000 300px,#840000 304px,#840000 306px,#a40000 310px,#890000 312px,#800000 316px,#800000 318px,#a40000 322px,#890000 324px,#800000 330px,#a80000 334px,#890000 336px,#800000 340px,#800000 342px,#a80000 346px,#890000 348px,#800000 354px,#ad0000 358px,#890000 360px,#800000 366px,#ad0000 370px,#890000 372px,#840000 377px,#840000 378px,#ad0000 382px,#8d0000 384px,#890000 388px,#8d0000 391px,#ad0000 394px,#8d0000 397px,#8d0000 402px,#ad0000 406px,#8d0000 409px,#8d0000 414px,#ad0000 418px,#8d0000 421px,#920000 426px,#ad0000 430px,#8d0000 433px,#920000 438px,#ad0000 442px,#920000 445px,#960000 451px,#ad0000 454px,#ad0000 455px,#920000 457px,#960000 462px,#b20000 467px,#920000 469px,#9b0000 475px,#b60000 479px,#960000 481px,#9b0000 486px,#bb0000 491px,#9b0000 493px,#9b0000 494px,#9f0000 499px,#bf0000 503px,#9b0000 505px,#9f0000 511px,#c40000 515px,#9f0000 517px,#a40000"></i><i style="--g:#d10000,#c80000 9px,#da0000 14px,#cd0000 16px,#c40000 25px,#d60000 30px,#c80000 32px,#bf0000 38px,#d10000 46px,#c40000 48px,#bb0000 56px,#d10000 61px,#bb0000 72px,#d60000 78px,#c40000 80px,#bb0000 86px,#bb0000 89px,#d10000 93px,#bb0000 106px,#d10000 110px,#b60000 119px,#cd0000 126px,#bf0000 129px,#b60000 138px,#cd0000 142px,#bb0000 145px,#b20000 151px,#c80000 158px,#b20000 170px,#c80000 175px,#ad0000 184px,#c80000 191px,#b60000 193px,#ad0000 199px,#ad0000 202px,#c40000 207px,#b60000 209px,#a80000 217px,#c40000 223px,#b60000 225px,#ad0000 233px,#c80000 239px,#b20000 249px,#d10000 255px,#bb0000 265px,#d10000 270px,#bf0000 282px,#d60000 287px,#b20000 299px,#bf0000 304px,#a80000 314px,#bb0000 320px,#a80000 330px,#bb0000 336px,#a80000 346px,#bb0000 352px,#a80000 362px,#bb0000 368px,#a80000 378px,#bb0000 384px,#a80000 395px,#bb0000 400px,#a80000 411px,#bb0000 416px,#a80000 427px,#bb0000 432px,#a80000 443px,#bb0000 449px,#a80000 458px,#a80000 461px,#bb0000 465px,#a80000 475px,#bb0000 481px,#ad0000 490px,#ad0000 494px,#bf0000 497px,#ad0000 507px,#bf0000 513px,#b60000"></i><i style="--g:#c1ff36,#c1ff36 2px,#adff49 4px,#beff39 9px,#b7ff40 19px,#c7ff30 26px,#b1ff46 28px,#c4ff33 38px,#baff3c 45px,#caff2c 50px,#b4ff43 52px,#c4ff33 61px,#baff3c 68px,#caff2c 74px,#b7ff40 76px,#c4ff33 85px,#baff3c 91px,#caff2c 98px,#b7ff40 100px,#c7ff30 110px,#beff39 117px,#caff2c 122px,#b7ff40 125px,#c7ff30 134px,#beff39 140px,#caff2c 146px,#b7ff40 149px,#c4ff33 153px,#beff39 163px,#caff2c 171px,#b4ff43 173px,#c7ff30 179px,#beff39 188px,#caff2c 195px,#b4ff43 197px,#c7ff30 201px,#c1ff36 212px,#caff2c 219px,#b7ff40 221px,#c7ff30 225px,#baff3c 233px,#c4ff33 243px,#adff49 245px,#c4ff33 250px,#b4ff43 257px,#beff39 267px,#aaff4d 269px,#c4ff33 275px,#b4ff43 282px,#beff39 289px,#b7ff40 292px,#a4ff53 294px,#c1ff36 298px,#caff2c 303px,#beff39 307px,#c4ff33 315px,#a7ff50 318px,#caff2c 324px,#beff39 331px,#c4ff33 339px,#a7ff50 342px,#caff2c 348px,#beff39 355px,#c4ff33 364px,#a7ff50 366px,#caff2c 372px,#caff2c 376px,#beff39 380px,#c4ff33 388px,#a7ff50 390px,#caff2c 397px,#beff39 404px,#c4ff33 412px,#aaff4d 414px,#ceff29 424px,#c1ff36 427px,#c7ff30 436px,#adff49 439px,#caff2c 445px,#ceff29 449px,#c1ff36 452px,#caff2c 460px,#adff49 463px,#d1ff26 472px,#c1ff36 477px,#caff2c 484px,#adff49 487px,#d1ff26 497px,#c1ff36 501px,#caff2c 509px,#adff49 511px,#d4ff23"></i></div>
<div class="sp" style="left:727px;top:554px;width:511px;height:343px"><i style="--g:#0000a4,#000080 33px,#000080 235px,#000096 258px,#000080 288px,#000080 479px,#0000a4"></i><i class=h2 style="--g:#0000a4,#000080 33px,#000080 235px,#000092 241px,#000089 250px,#00009b 255px,#000080 289px,#000080 479px,#0000a4"></i><i class=h4 style="--g:#0000a4,#000080 33px,#000080 221px,#00009a 258px,#000080 290px,#000080 478px,#0000a4"></i><i style="--g:#0000a4,#000080 33px,#000080 229px,#000096 259px,#000080 286px,#000080 480px,#0000a4"></i><i class=h12 style="--g:#0000a5,#000080 34px,#000080 480px,#0000a4"></i><i class=h12 style="--g:#0000a8,#000080 41px,#000080 479px,#0000a4"></i><i class=h2 style="--g:#0000a8,#000080 42px,#000080 228px,#000092 252px,#000084 255px,#000096 262px,#000080 297px,#000080 477px,#0000a4"></i><i style="--g:#0000a8,#000080 42px,#000080 240px,#00008d 248px,#000084 262px,#000092 264px,#000084 266px,#000092 268px,#000084 270px,#000080 298px,#000080 476px,#0000a4"></i><i style="--g:#0000a8,#000080 43px,#000080 233px,#000084 247px,#000096 252px,#000080 299px,#000080 475px,#0000a4"></i><i class=h2 style="--g:#0000a8,#000080 43px,#000080 218px,#000089 262px,#000096 264px,#000080 298px,#000080 474px,#0000a4"></i><i style="--g:#0000a8,#000080 45px,#000080 237px,#000084 254px,#000092 256px,#000084 262px,#000092 264px,#000084 266px,#000092 268px,#000092 278px,#000080 301px,#000080 475px,#0000a4"></i><i class=h2 style="--g:#0000a8,#000080 48px,#000080 225px,#000092 248px,#000084 250px,#000092 264px,#000084 266px,#000096 268px,#000084 270px,#000096 272px,#000080 301px,#000080 474px,#0000a4"></i><i style="--g:#0000a8,#000089 23px,#000080 47px,#000080 227px,#00008d 234px,#000084 243px,#000092 246px,#000084 254px,#00009b 257px,#000089 266px,#00009b 268px,#00008d 270px,#000080 298px,#000080 474px,#0000a4"></i><i class=h4 style="--g:#0000a8,#000084 27px,#000080 50px,#000080 223px,#000094 266px,#000080 301px,#000080 474px,#0000a4"></i><i class=h5 style="--g:#0000a8,#000080 31px,#000080 218px,#000095 268px,#000080 299px,#000080 476px,#0000a4"></i><i class=h6 style="--g:#0000a8,#000086 24px,#000080 49px,#000080 214px,#000095 254px,#000080 301px,#000080 476px,#0000a4"></i><i class=h2 style="--g:#0000a8,#000080 51px,#000080 213px,#000086 243px,#000096 245px,#00008e 272px,#00009b 274px,#00008b 276px,#000080 300px,#000080 476px,#0000a4"></i><i class=h2 style="--g:#0000a8,#000084 35px,#000080 57px,#000080 217px,#00008d 256px,#00009b 258px,#000080 302px,#000080 475px,#0000a8"></i><i style="--g:#0000a8,#000080 51px,#000080 217px,#00009f 260px,#00008d 262px,#00009b 268px,#000089 270px,#00009b 272px,#000089 278px,#000080 302px,#000080 475px,#0000a4"></i><i class=h2 style="--g:#0000a8,#000080 57px,#000080 212px,#00008d 248px,#00009f 258px,#00008d 260px,#00009f 263px,#000084 280px,#000092 282px,#000080 300px,#000080 472px,#0000a8"></i><i style="--g:#0000a8,#000080 54px,#000080 225px,#000096 244px,#000089 247px,#00009f 250px,#00008d 252px,#00009f 255px,#00008d 259px,#0000a4 262px,#00008d 264px,#00009f 268px,#000089 270px,#00009b 274px,#000089 276px,#000096 279px,#000084 282px,#000092 284px,#000080 304px,#000080 472px,#0000a4"></i><i style="--g:#0000a8,#000080 54px,#000080 219px,#000096 248px,#000089 251px,#00009f 253px,#000092 255px,#00009b 268px,#00008d 272px,#00009b 274px,#000089 276px,#000096 278px,#000080 306px,#000080 471px,#0000a4"></i><i class=h2 style="--g:#0000a8,#000080 57px,#000080 229px,#00009b 262px,#00008d 264px,#00009b 266px,#000080 302px,#000080 471px,#0000a8"></i><i class=h2 style="--g:#0000aa,#000080 56px,#000080 223px,#000084 239px,#000092 241px,#000086 243px,#000096 244px,#00008b 247px,#00009d 249px,#00009d 262px,#00008e 264px,#00009f 266px,#000089 268px,#00009d 270px,#000084 272px,#00009d 274px,#000084 276px,#000098 278px,#000084 280px,#000092 282px,#000082 284px,#00008d 286px,#000080 309px,#000080 471px,#0000a8"></i><i class=h2 style="--g:#0000ad,#000080 56px,#000080 223px,#000096 242px,#000089 244px,#00009f 247px,#000092 248px,#000092 262px,#0000a4 264px,#000089 266px,#00009f 268px,#000089 270px,#00009b 272px,#000089 274px,#000096 276px,#000080 288px,#000080 470px,#0000a8"></i><i style="--g:#0000ad,#000080 55px,#000080 227px,#000096 257px,#00008d 286px,#000080 288px,#000080 469px,#0000a8"></i><i style="--g:#0000ad,#000080 58px,#000080 235px,#00008d 237px,#000089 247px,#00009b 249px,#00008d 251px,#00009f 254px,#00008d 256px,#00008d 268px,#00009b 270px,#000089 272px,#00008d 286px,#000080 288px,#000080 471px,#0000a8"></i><i class=h2 style="--g:#0000ad,#000080 57px,#000080 221px,#000096 239px,#00008d 243px,#00009b 245px,#00008d 248px,#00009f 250px,#000092 254px,#0000a4 256px,#000092 259px,#0000a4 262px,#000092 265px,#00009f 268px,#00008d 271px,#00009b 274px,#00008d 276px,#000080 294px,#000080 472px,#0000a8"></i><i style="--g:#0000ad,#000080 58px,#000080 229px,#000096 251px,#000089 256px,#00009f 259px,#00008d 263px,#00009b 267px,#000089 270px,#000096 273px,#000080 289px,#000080 471px,#0000a8"></i><i class=h3 style="--g:#0000ad,#000080 60px,#000080 228px,#000096 260px,#000080 290px,#000080 473px,#0000a8"></i><i style="--g:#0000ad,#000089 30px,#000080 61px,#000080 228px,#000096 248px,#000089 258px,#00009b 260px,#000080 289px,#000080 473px,#0000a8"></i><i class=h6 style="--g:#0000a8,#000085 33px,#000080 69px,#000082 221px,#000094 257px,#000080 293px,#000080 473px,#0000a8"></i><i class=h5 style="--g:#0000a8,#000080 45px,#000080 200px,#000094 263px,#000080 302px,#000080 466px,#0000a8"></i><i style="--g:#0000a8,#000080 33px,#000080 219px,#000089 254px,#00009b 262px,#000084 264px,#000096 266px,#000096 270px,#000080 300px,#000080 464px,#0000a8"></i><i class=h2 style="--g:#0000a8,#000080 45px,#000080 213px,#000084 243px,#000096 246px,#000089 256px,#00009b 260px,#000089 263px,#00009b 268px,#000089 270px,#000096 276px,#000089 278px,#000092 284px,#000084 286px,#000080 302px,#000080 466px,#0000a8"></i><i style="--g:#0000a8,#000080 45px,#000080 224px,#000092 233px,#000084 243px,#00009f 252px,#00008d 255px,#00009b 258px,#000084 262px,#00009b 265px,#000089 268px,#00009f 272px,#000089 274px,#000092 286px,#000084 288px,#000080 302px,#000080 464px,#0000a8"></i><i style="--g:#0000a8,#000080 45px,#000080 231px,#000092 245px,#000089 254px,#000096 256px,#000089 260px,#000096 262px,#000089 266px,#000096 275px,#000080 303px,#000080 464px,#0000a8"></i><i class=h2 style="--g:#0000a8,#000080 45px,#000080 229px,#000084 249px,#00009b 260px,#000089 262px,#000096 270px,#000080 307px,#000080 468px,#0000a8"></i><i style="--g:#0000a8,#000080 45px,#000080 212px,#000092 240px,#000084 246px,#00009b 253px,#000089 256px,#000096 258px,#000089 260px,#00009b 262px,#000089 274px,#00009b 278px,#000084 280px,#000092 286px,#000080 307px,#000080 468px,#0000a8"></i><i style="--g:#0000ad,#000080 41px,#000080 235px,#000096 266px,#000084 268px,#00009b 270px,#00008d 272px,#000096 280px,#000089 282px,#000080 306px,#000080 469px,#0000a8"></i><i class=h2 style="--g:#0000ad,#000080 43px,#000080 244px,#000092 252px,#000084 254px,#000092 257px,#000084 258px,#000096 260px,#000080 309px,#000080 472px,#0000a8"></i><i style="--g:#0000ad,#000080 44px,#000080 231px,#000084 251px,#000092 252px,#000089 264px,#00009b 266px,#000089 268px,#00009b 270px,#000089 272px,#00009b 274px,#00008d 276px,#000096 284px,#000089 286px,#000080 313px,#000080 471px,#0000a8"></i><i style="--g:#0000ad,#000080 46px,#000080 221px,#000096 250px,#000089 252px,#000096 260px,#000084 262px,#00009f 264px,#000092 266px,#00009f 270px,#000089 272px,#00009b 274px,#000089 276px,#00009b 278px,#000089 286px,#000080 316px,#000080 471px,#0000a8"></i><i class=h2 style="--g:#0000ad,#000080 47px,#000080 231px,#00008d 238px,#000084 258px,#00009b 261px,#000089 264px,#00009b 266px,#00008d 273px,#00009b 276px,#000089 280px,#000096 282px,#000080 317px,#000080 470px,#0000a8"></i><i style="--g:#0000ad,#000080 50px,#000080 243px,#000096 265px,#000080 323px,#000080 469px,#0000a8"></i><i style="--g:#0000ad,#000080 52px,#000080 215px,#000092 233px,#000084 237px,#00009b 247px,#000089 252px,#00009f 256px,#00008d 258px,#0000a4 262px,#00008d 265px,#0000a4 270px,#00008d 272px,#00009f 276px,#00008d 278px,#00009b 284px,#000089 286px,#000084 300px,#000080 465px,#0000a8"></i><i class=h2 style="--g:#0000b2,#000080 53px,#000080 226px,#00008d 229px,#000080 234px,#000096 254px,#000089 260px,#00009f 264px,#000089 268px,#00009f 272px,#00008d 276px,#00009b 280px,#000089 284px,#000096 288px,#000084 299px,#000084 472px,#0000a8"></i><i style="--g:#0000b2,#000080 55px,#000080 223px,#000084 239px,#000096 246px,#00008d 254px,#00009b 256px,#00008d 259px,#00009f 266px,#000092 268px,#00009f 276px,#00008d 282px,#000080 327px,#000084 471px,#0000a8"></i><i class=h2 style="--g:#0000b2,#000080 53px,#000080 217px,#000089 250px,#00009b 254px,#000089 256px,#00009b 268px,#000080 322px,#000084 470px,#0000a8"></i><i class=h5 style="--g:#0000b2,#000080 58px,#000080 212px,#000098 270px,#000080 321px,#000084 467px,#0000a8"></i><i class=h3 style="--g:#0000b2,#000080 60px,#000080 219px,#00009c 258px,#000080 305px,#000081 464px,#0000a8"></i><i style="--g:#0000b2,#000080 61px,#000080 219px,#000092 231px,#000084 235px,#000092 240px,#000089 244px,#00009f 247px,#00008d 251px,#00009b 255px,#000092 259px,#0000a4 262px,#00008d 274px,#00009f 277px,#00008d 282px,#000080 303px,#000080 467px,#0000a8"></i><i style="--g:#0000b2,#000080 62px,#000080 214px,#00009f 261px,#00008d 264px,#0000a4 266px,#000092 273px,#00009b 277px,#000080 305px,#000080 469px,#0000a8"></i><i class=h2 style="--g:#0000b2,#000080 64px,#000080 217px,#000084 231px,#000092 233px,#000084 237px,#000096 240px,#00008d 247px,#00009f 251px,#00008d 254px,#00009f 262px,#000089 264px,#00009f 266px,#00009f 270px,#00008d 274px,#00009b 278px,#000089 282px,#000096 284px,#000080 301px,#000080 468px,#0000a8"></i><i style="--g:#0000b2,#000080 64px,#000080 219px,#000092 229px,#000089 235px,#00009b 237px,#00008d 242px,#0000a4 245px,#000089 249px,#0000a4 252px,#000092 257px,#0000a8 260px,#000092 263px,#0000a8 267px,#00008d 272px,#0000a4 274px,#000089 280px,#00009b 283px,#000089 287px,#000092 291px,#000080 303px,#000080 466px,#0000a8"></i><i style="--g:#0000b2,#000089 38px,#000080 64px,#000080 219px,#000084 233px,#000092 235px,#000084 239px,#000096 241px,#000092 253px,#0000a4 256px,#000092 258px,#0000a4 262px,#000092 268px,#00009f 276px,#000080 307px,#000080 462px,#0000a8"></i><i class=h2 style="--g:#0000b2,#000084 43px,#000080 62px,#000080 217px,#00009f 254px,#000092 256px,#00009f 272px,#00008d 280px,#000080 310px,#000080 453px,#0000a8"></i><i style="--g:#0000b2,#000084 41px,#000080 59px,#000080 219px,#000096 231px,#000089 239px,#00009b 241px,#00008d 245px,#00009f 247px,#00008d 254px,#0000ad 256px,#000092 260px,#00009f 262px,#000092 264px,#0000a8 267px,#00008d 270px,#0000a8 273px,#00008d 276px,#00009b 278px,#00008d 280px,#00009f 282px,#000089 286px,#00009b 288px,#000084 296px,#000080 311px,#000080 449px,#0000a8"></i><i style="--g:#0000b2,#000080 46px,#000080 223px,#00008d 246px,#0000a4 249px,#000092 252px,#0000a4 258px,#000096 260px,#000096 270px,#0000a4 272px,#00008d 284px,#00009b 286px,#00008d 288px,#000080 314px,#000080 444px,#0000a8"></i><i class=h2 style="--g:#0000b2,#000080 44px,#000080 217px,#00008d 246px,#00009b 248px,#00009f 274px,#000092 276px,#0000a4 278px,#00008d 286px,#000080 316px,#000080 450px,#0000a8"></i><i style="--g:#0000b2,#000080 42px,#000080 219px,#00009f 260px,#00008d 262px,#0000a4 265px,#000080 319px,#000080 448px,#0000a8"></i><i class=h2 style="--g:#0000b2,#000080 44px,#000080 224px,#00009b 252px,#00008d 254px,#0000a4 257px,#000092 260px,#00009f 262px,#00009f 274px,#000092 276px,#00009f 280px,#00008d 286px,#000080 321px,#000080 446px,#0000a8"></i><i style="--g:#0000b2,#000080 45px,#000080 227px,#00008d 230px,#000080 233px,#000096 240px,#000084 243px,#00009f 250px,#000089 252px,#0000a4 255px,#000092 262px,#0000a4 264px,#000096 272px,#0000a4 274px,#00008d 276px,#00009f 278px,#00009f 284px,#000089 286px,#000096 290px,#000080 319px,#000080 448px,#0000a8"></i><i style="--g:#0000b2,#000084 45px,#000080 81px,#000080 221px,#000092 232px,#000084 241px,#00009f 243px,#00008d 247px,#0000a8 249px,#00008d 252px,#00009f 254px,#000096 257px,#0000a4 260px,#00008d 262px,#0000ad 265px,#0000ad 266px,#000089 268px,#0000a8 270px,#0000a8 272px,#000092 274px,#0000a4 276px,#00008d 278px,#0000a4 282px,#000089 284px,#00009f 286px,#00008d 290px,#000080 316px,#000080 451px,#0000a8"></i><i class=h2 style="--g:#0000b2,#000084 47px,#000080 83px,#000080 207px,#00008d 239px,#00009f 246px,#000092 250px,#0000a4 252px,#000096 256px,#0000a8 258px,#000096 261px,#0000a8 264px,#000096 267px,#0000a8 270px,#000096 272px,#0000a4 276px,#000096 278px,#00009f 282px,#00008d 290px,#000080 321px,#000080 458px,#0000a8"></i><i style="--g:#0000b6,#000089 44px,#000080 85px,#000080 229px,#00009f 254px,#000096 266px,#0000a4 268px,#000096 272px,#00009f 278px,#000092 280px,#00009f 282px,#00008d 286px,#000096 292px,#000080 320px,#000080 461px,#0000a8"></i><i style="--g:#0000b6,#00008d 42px,#000080 93px,#000080 215px,#000084 232px,#000096 235px,#000089 241px,#00009f 244px,#000084 248px,#0000a4 252px,#000092 258px,#0000b2 261px,#000092 265px,#0000ad 270px,#00008d 274px,#0000a8 278px,#00008d 282px,#00009f 287px,#00008d 290px,#000096 295px,#000080 314px,#000080 465px,#0000a8"></i><i class=h2 style="--g:#0000b6,#00008d 44px,#000080 89px,#000080 225px,#000092 229px,#000084 235px,#0000a4 240px,#000089 243px,#0000a4 249px,#00008d 253px,#0000a8 257px,#000096 264px,#0000ad 266px,#0000ad 268px,#000096 270px,#0000a8 278px,#000092 280px,#00009f 288px,#00008d 290px,#000096 296px,#000080 318px,#000080 463px,#0000a8"></i><i style="--g:#0000b6,#00008d 48px,#000080 87px,#000080 221px,#000089 239px,#00009b 242px,#00008d 245px,#000096 260px,#0000ad 268px,#000096 271px,#0000a8 280px,#000096 282px,#00009b 292px,#00008d 294px,#000080 317px,#000080 465px,#0000a8"></i><i style="--g:#0000b6,#000080 85px,#000084 230px,#000092 233px,#000089 238px,#00009f 243px,#00008d 246px,#00009f 249px,#000096 256px,#0000ad 260px,#000096 262px,#0000a8 276px,#00008d 280px,#00009b 284px,#000080 318px,#000080 461px,#0000a8"></i><i class=h2 style="--g:#0000b6,#000080 87px,#000084 228px,#00009f 249px,#00008d 253px,#0000a8 264px,#00009b 268px,#0000a4 276px,#000092 278px,#00009b 290px,#000080 319px,#000080 448px,#0000a8"></i><i class=h2 style="--g:#0000b6,#000080 84px,#000084 216px,#0000a4 262px,#000080 327px,#000084 461px,#0000aa"></i><i class=h2 style="--g:#0000b6,#000080 83px,#000080 213px,#00009f 251px,#000092 254px,#00009f 257px,#000096 265px,#0000ad 268px,#00009f 271px,#000084 317px,#000080 419px,#000084 458px,#0000a8"></i><i style="--g:#0000b2,#000080 84px,#000084 223px,#000096 240px,#00008d 245px,#00009b 248px,#000092 254px,#0000a4 258px,#000096 276px,#0000a8 280px,#000092 288px,#000084 315px,#000080 416px,#000089 467px,#0000a8"></i><i style="--g:#0000b2,#000080 84px,#000084 227px,#0000a4 259px,#000096 266px,#0000ad 270px,#00009b 272px,#000096 282px,#0000a4 286px,#00008d 298px,#000080 331px,#000080 423px,#000084 458px,#0000a8"></i><i class=h2 style="--g:#0000b2,#00008d 40px,#000080 83px,#000080 217px,#000096 236px,#000089 240px,#00009f 246px,#000089 251px,#0000a8 254px,#000096 262px,#0000ad 264px,#000096 272px,#0000ad 276px,#000092 284px,#0000a4 288px,#00008d 296px,#000080 326px,#000080 431px,#0000a8"></i><i style="--g:#0000b2,#00008d 35px,#000080 85px,#000080 215px,#000096 227px,#000084 233px,#00009f 237px,#000084 241px,#0000a4 245px,#000084 250px,#0000b2 254px,#000092 259px,#0000b2 264px,#00008d 268px,#0000b2 272px,#00008d 278px,#0000ad 282px,#000092 288px,#00009f 292px,#00008d 296px,#000080 328px,#000080 442px,#0000a8"></i><i style="--g:#0000b2,#000084 45px,#000080 90px,#000080 227px,#000096 239px,#000089 243px,#00009b 247px,#000092 254px,#0000a4 258px,#000096 263px,#0000a8 269px,#000096 272px,#0000a8 278px,#000096 280px,#0000a4 286px,#000096 288px,#000080 327px,#000080 448px,#0000a8"></i><i class=h2 style="--g:#0000b2,#000084 38px,#000080 91px,#000080 221px,#00008d 225px,#000084 233px,#000096 236px,#00008d 240px,#00009f 243px,#00008d 246px,#0000a4 255px,#000096 260px,#0000ad 262px,#000096 266px,#0000a8 274px,#000096 279px,#0000ad 282px,#000096 285px,#000080 325px,#000080 451px,#0000a8"></i><i style="--g:#0000b2,#000080 44px,#000080 204px,#00008d 235px,#00009b 238px,#00008d 241px,#0000a4 244px,#000092 247px,#0000a8 250px,#000092 253px,#0000ad 256px,#000096 259px,#0000b2 262px,#000096 264px,#0000b2 268px,#000096 271px,#0000b2 274px,#000092 276px,#0000ad 280px,#000092 282px,#0000a8 286px,#000092 288px,#0000a4 292px,#00008d 294px,#00009b 298px,#00008d 300px,#000080 328px,#000080 454px,#0000a8"></i><i class=h2 style="--g:#0000ad,#000080 42px,#000080 229px,#000096 241px,#000089 245px,#00009b 247px,#000092 255px,#0000a4 257px,#000092 261px,#0000a8 267px,#000092 270px,#0000a4 272px,#00009b 276px,#0000a8 278px,#000096 280px,#0000a4 284px,#000092 286px,#00009f 288px,#000080 334px,#000080 458px,#0000a8"></i><i style="--g:#0000b2,#000080 47px,#000080 223px,#00009f 252px,#000096 260px,#0000a8 265px,#000092 268px,#0000a8 276px,#000096 280px,#00009f 290px,#000092 292px,#000084 321px,#000080 459px,#0000a8"></i><i style="--g:#0000b2,#000084 48px,#000080 91px,#000080 220px,#00009f 254px,#000092 257px,#0000a8 268px,#00009b 270px,#0000a4 280px,#000092 282px,#00009f 290px,#000084 322px,#000080 461px,#0000a8"></i><i class=h2 style="--g:#0000b2,#000089 45px,#000080 88px,#000080 221px,#000096 260px,#0000a8 262px,#000084 322px,#000080 462px,#0000a8"></i><i style="--g:#0000b2,#000089 49px,#000080 88px,#000080 223px,#000092 237px,#000089 244px,#00009b 247px,#000092 256px,#0000a4 258px,#000096 278px,#0000a8 280px,#000092 288px,#000084 318px,#000080 459px,#0000a8"></i><i style="--g:#0000b2,#000080 88px,#000080 229px,#000092 237px,#000089 246px,#0000a4 250px,#000092 256px,#0000a8 260px,#000092 268px,#0000a8 270px,#000096 278px,#0000a8 284px,#000096 288px,#000084 311px,#000080 460px,#0000a8"></i><i class=h2 style="--g:#0000b2,#000080 90px,#000080 233px,#00009b 246px,#000092 254px,#0000ad 256px,#000096 260px,#0000a8 268px,#000096 276px,#0000a8 278px,#00009b 280px,#0000a4 284px,#000096 286px,#000080 324px,#000080 460px,#0000a8"></i><i style="--g:#0000b2,#000080 92px,#000084 231px,#000096 234px,#000084 237px,#00009b 240px,#000089 243px,#0000a4 246px,#00008d 249px,#0000a8 252px,#000092 255px,#0000b2 258px,#000096 261px,#0000b2 264px,#00009b 266px,#00009b 268px,#0000b6 270px,#00009b 273px,#0000b2 276px,#000096 280px,#0000ad 282px,#000096 285px,#0000a8 288px,#000092 291px,#00009f 294px,#00008d 297px,#000092 306px,#000080 316px,#000080 456px,#0000a8"></i><i style="--g:#0000b2,#000080 95px,#000080 211px,#00008d 214px,#000084 227px,#000096 229px,#000089 235px,#00009b 237px,#000084 241px,#0000a8 244px,#00008d 248px,#0000a4 252px,#00008d 254px,#0000b2 258px,#000092 262px,#0000ad 265px,#000092 268px,#0000b2 272px,#000092 276px,#0000a8 278px,#000092 282px,#0000a8 286px,#00008d 290px,#00009b 292px,#000089 296px,#000096 300px,#000084 304px,#000080 317px,#000080 448px,#0000a8"></i><i class=h2 style="--g:#0000b6,#000080 98px,#000084 224px,#00009b 253px,#0000b2 256px,#000096 260px,#0000b2 264px,#00009f 271px,#000080 319px,#000080 446px,#0000a8"></i><i style="--g:#0000b6,#00008d 56px,#000080 117px,#000084 211px,#000096 215px,#000080 221px,#00009b 225px,#000089 233px,#0000a8 237px,#000089 243px,#0000b2 247px,#000092 253px,#0000b6 257px,#000096 262px,#0000b6 268px,#000096 273px,#0000b2 276px,#0000b2 278px,#000092 284px,#0000a8 287px,#00008d 294px,#00009b 298px,#000084 313px,#000080 444px,#0000a8"></i><i style="--g:#0000b6,#00008d 55px,#000080 122px,#000092 208px,#000084 215px,#00009b 221px,#000084 227px,#0000a8 235px,#00008d 239px,#0000b6 248px,#000092 253px,#0000bf 261px,#000092 266px,#0000a8 268px,#0000bb 274px,#000092 278px,#0000b2 286px,#00008d 290px,#00009f 298px,#000089 302px,#000092 310px,#000084 314px,#000080 443px,#0000a8"></i><i class=h2 style="--g:#0000b6,#000084 84px,#00008d 213px,#00009b 223px,#000092 233px,#0000a8 244px,#00009b 249px,#0000b2 254px,#0000b2 260px,#00009f 263px,#0000b2 266px,#0000b2 278px,#00009b 282px,#0000a4 294px,#000092 298px,#000089 313px,#000080 444px,#0000a8"></i><i style="--g:#0000b2,#000089 54px,#000084 157px,#00008d 210px,#0000a4 230px,#000096 236px,#0000b2 242px,#0000a4 247px,#0000b6 254px,#00009f 260px,#0000bb 268px,#0000a8 272px,#0000b2 282px,#000096 286px,#0000a4 294px,#000089 312px,#000080 357px,#000084 454px,#0000ad"></i><i style="--g:#0000b2,#000084 63px,#000084 150px,#00009b 228px,#0000ad 233px,#00009b 237px,#0000b2 244px,#00009f 250px,#0000b6 255px,#0000b6 267px,#00009f 300px,#00008d 304px,#000080 354px,#000080 442px,#0000ad"></i><i class=h2 style="--g:#0000b2,#000084 53px,#000084 144px,#00008d 198px,#0000b6 268px,#000080 352px,#000080 437px,#0000ad"></i><i style="--g:#0000b2,#000080 59px,#000089 195px,#0000a8 239px,#0000bf 243px,#0000b2 251px,#0000c8 255px,#0000b6 259px,#0000b2 285px,#00009f 292px,#0000ad 297px,#000096 305px,#000080 350px,#000084 448px,#0000ad"></i><i class=h2 style="--g:#0000b2,#000080 51px,#000084 185px,#00008d 207px,#00009f 211px,#000096 215px,#0000b2 224px,#00009f 227px,#0000b6 233px,#0000a8 237px,#0000cd 246px,#0000ad 250px,#0000c4 255px,#0000b2 262px,#0000cd 268px,#0000ad 274px,#0000bb 278px,#0000a8 282px,#0000b6 292px,#00009f 295px,#000096 304px,#000080 355px,#000084 447px,#0000ad"></i><i style="--g:#0000b2,#000080 53px,#000084 195px,#00009f 225px,#0000b6 229px,#0000ad 241px,#0000c8 245px,#0000ad 256px,#0000da 260px,#0000bf 263px,#0000ad 270px,#0000c8 274px,#0000a8 282px,#0000b6 290px,#000096 300px,#0000a4 306px,#00008d 313px,#000080 358px,#000084 447px,#0000ad"></i><i style="--g:#0000b2,#000080 58px,#000080 191px,#000089 203px,#00009b 207px,#000092 215px,#0000ad 219px,#00009b 227px,#0000c4 231px,#0000a4 238px,#0000d6 243px,#0000ad 248px,#0000d1 255px,#0000ad 260px,#0000d6 266px,#0000a8 272px,#0000cd 276px,#0000cd 278px,#0000b2 280px,#0000a4 284px,#0000bb 289px,#000096 296px,#0000a8 301px,#000092 306px,#000084 336px,#000084 451px,#0000ad"></i><i class=h2 style="--g:#0000b2,#000084 55px,#000080 92px,#000080 187px,#0000a4 223px,#0000bb 230px,#0000a8 235px,#0000c8 241px,#0000b2 245px,#0000c4 248px,#0000bb 265px,#0000cd 268px,#0000ad 272px,#0000bb 279px,#0000a4 286px,#0000a8 296px,#000092 300px,#000084 327px,#000084 453px,#0000ad"></i><i style="--g:#0000b6,#000089 52px,#000080 96px,#000084 188px,#00009f 219px,#0000ad 221px,#0000a4 225px,#0000bb 229px,#0000ad 234px,#0000c8 237px,#0000b2 241px,#0000cd 245px,#0000b6 249px,#0000da 252px,#0000ad 256px,#0000d6 260px,#0000bb 262px,#0000cd 266px,#0000b2 270px,#0000c4 274px,#0000ad 278px,#0000bb 282px,#0000a4 286px,#0000ad 290px,#00009b 294px,#0000a4 298px,#000092 302px,#000084 323px,#000080 444px,#0000ad"></i><i style="--g:#0000b6,#000084 70px,#000089 194px,#000092 207px,#0000a8 211px,#000096 215px,#0000ad 217px,#00009f 221px,#0000b6 224px,#0000a4 227px,#0000bf 231px,#0000ad 235px,#0000c8 237px,#0000b6 241px,#0000cd 243px,#0000b2 247px,#0000d1 251px,#0000b2 254px,#0000d1 258px,#0000b6 260px,#0000da 264px,#0000a8 268px,#0000c8 271px,#0000ad 274px,#0000c4 278px,#0000a8 280px,#0000bb 284px,#00009b 288px,#0000ad 292px,#000096 294px,#0000a4 298px,#000092 300px,#000080 320px,#000080 452px,#0000ad"></i><i class=h2 style="--g:#0000b6,#000084 68px,#000089 187px,#0000a8 225px,#0000c4 239px,#0000bb 248px,#0000cd 251px,#0000bf 254px,#0000cd 257px,#0000bb 260px,#0000cd 263px,#0000b6 266px,#0000c8 269px,#0000b2 272px,#0000c4 274px,#0000ad 278px,#0000bb 281px,#0000a4 284px,#0000b2 287px,#00009f 290px,#0000a8 293px,#000096 296px,#00009f 299px,#000080 319px,#000080 451px,#0000ad"></i><i style="--g:#0000bb,#000084 67px,#00008d 193px,#000096 207px,#0000a8 211px,#00009b 213px,#0000a4 221px,#0000bb 226px,#0000b2 235px,#0000cd 241px,#0000bb 250px,#0000cd 253px,#0000bf 263px,#0000d1 267px,#0000bb 270px,#0000c4 274px,#0000b2 276px,#0000bf 284px,#0000a8 286px,#00009f 292px,#000080 328px,#000080 448px,#0000b2"></i><i style="--g:#0000bb,#000084 63px,#00008d 197px,#0000ad 215px,#00009b 219px,#0000bf 229px,#0000a8 233px,#0000c8 238px,#0000bb 247px,#0000d1 251px,#0000d1 254px,#0000b6 257px,#0000cd 260px,#0000d1 267px,#0000b2 270px,#0000c4 276px,#0000a8 284px,#0000b2 290px,#00009b 294px,#000084 322px,#000080 442px,#0000b2"></i><i class=h2 style="--g:#0000bb,#000080 70px,#00008d 196px,#0000a8 216px,#00009f 219px,#0000bf 231px,#0000b6 237px,#0000c8 246px,#0000bb 249px,#0000d1 256px,#0000bf 262px,#0000cd 264px,#0000c8 272px,#0000b2 274px,#0000bb 283px,#0000a8 288px,#0000a8 297px,#000096 300px,#000084 327px,#000084 450px,#0000b2"></i><i style="--g:#0000bf,#000080 69px,#000084 181px,#0000bb 245px,#0000cd 249px,#0000c4 260px,#0000d6 262px,#00008d 317px,#000084 340px,#000080 433px,#0000b2"></i><i style="--g:#0000bf,#000084 65px,#000084 191px,#00009f 209px,#000096 213px,#0000a8 217px,#0000ad 228px,#0000bf 231px,#0000b2 235px,#0000c4 238px,#0000bf 249px,#0000d6 252px,#0000c4 256px,#0000d1 262px,#0000bf 270px,#0000d1 274px,#0000bb 278px,#0000bf 284px,#0000a8 293px,#0000b2 296px,#000096 310px,#000084 337px,#000084 446px,#0000b2"></i><i class=h2 style="--g:#0000bf,#0000bb 21px,#000089 67px,#000080 174px,#000096 215px,#0000a8 219px,#0000a8 229px,#0000c4 233px,#0000b2 237px,#0000d1 256px,#0000c4 264px,#0000df 266px,#0000bf 271px,#0000c8 281px,#0000b6 288px,#0000c4 290px,#0000a8 297px,#000084 341px,#000080 431px,#0000b2"></i><i style="--g:#0000c4,#000089 77px,#000080 176px,#000089 203px,#0000a4 214px,#000096 218px,#0000bb 229px,#0000a8 234px,#0000c4 237px,#0000bb 248px,#0000d6 252px,#0000bb 256px,#0000d6 258px,#0000c4 262px,#0000d6 267px,#0000bb 272px,#0000d1 274px,#0000bf 278px,#0000cd 282px,#0000b2 287px,#0000bf 290px,#0000b6 298px,#00009f 303px,#0000a8 306px,#000080 349px,#000080 430px,#0000b6"></i><i style="--g:#0000c4,#00008d 77px,#000080 177px,#00008d 203px,#0000bf 246px,#0000cd 248px,#0000c8 264px,#0000d6 266px,#0000c8 268px,#0000d6 272px,#0000c4 275px,#0000d1 278px,#0000bf 282px,#0000cd 284px,#0000b6 288px,#0000c4 290px,#0000a8 300px,#0000b2 302px,#00009b 311px,#000080 341px,#000084 437px,#0000b2"></i><i class=h2 style="--g:#0000c4,#000096 64px,#000080 126px,#000089 196px,#00009b 200px,#000092 211px,#0000a8 213px,#00009f 225px,#0000bf 227px,#0000ad 231px,#0000bf 235px,#0000ad 238px,#0000d6 241px,#0000bb 245px,#0000cd 249px,#0000b6 252px,#0000e3 255px,#0000c4 259px,#0000d6 262px,#0000bb 266px,#0000e3 269px,#0000bf 274px,#0000d6 276px,#0000b6 280px,#0000d6 282px,#0000da 284px,#0000b6 288px,#0000c8 290px,#0000ad 294px,#0000c4 297px,#0000a8 301px,#0000b2 304px,#00009f 307px,#0000a8 312px,#000096 316px,#000080 341px,#000084 432px,#0000b6"></i><i style="--g:#0000c4,#000080 126px,#000089 190px,#000096 193px,#000089 197px,#00009b 201px,#00008d 205px,#0000a8 209px,#00008d 213px,#0000b2 217px,#000096 221px,#0000bf 225px,#00009b 229px,#0000c8 233px,#0000a4 237px,#0000d1 241px,#0000ad 245px,#0000d6 249px,#0000bf 253px,#0000d1 258px,#0000c4 262px,#0000e3 266px,#0000bb 270px,#0000e3 274px,#0000b6 278px,#0000da 282px,#0000b2 286px,#0000d1 290px,#0000ad 294px,#0000c4 298px,#0000a4 302px,#0000b6 306px,#00009f 310px,#0000a8 314px,#000096 317px,#000080 350px,#000084 430px,#0000b6"></i><i style="--g:#0000c4,#00009b 57px,#000080 131px,#000096 209px,#0000a4 211px,#00009b 217px,#0000d1 264px,#0000cd 284px,#0000ad 302px,#0000b2 309px,#000096 323px,#000084 349px,#000084 427px,#0000b6"></i><i class=h2 style="--g:#0000c4,#000096 63px,#000084 127px,#00008d 204px,#00009f 209px,#000092 215px,#0000ad 221px,#00009b 227px,#0000bb 231px,#0000a8 239px,#0000cd 243px,#0000b2 251px,#0000da 257px,#0000da 260px,#0000b2 264px,#0000df 268px,#0000c4 276px,#0000da 282px,#0000bb 289px,#0000cd 294px,#0000b2 301px,#0000bb 306px,#000096 325px,#000084 361px,#000084 434px,#0000b6"></i><i style="--g:#0000c4,#000092 59px,#000089 160px,#000096 199px,#000089 203px,#0000a8 213px,#00008d 218px,#0000bb 228px,#000092 233px,#0000bf 239px,#0000cd 245px,#0000ad 250px,#0000e3 260px,#0000e3 262px,#0000ad 266px,#0000d6 270px,#0000e3 278px,#0000b2 282px,#0000d1 286px,#0000d6 294px,#0000ad 298px,#0000bf 305px,#0000a4 314px,#0000a4 327px,#000092 333px,#000080 398px,#000089 448px,#0000b6"></i><i class=h2 style="--g:#0000c4,#0000bb 21px,#00008d 55px,#000092 195px,#000084 198px,#000096 209px,#000089 213px,#00009b 218px,#00008d 223px,#0000ad 227px,#0000b6 235px,#0000a4 238px,#0000bb 241px,#0000ad 246px,#0000cd 250px,#0000d6 256px,#0000bb 262px,#0000d1 265px,#0000c8 272px,#0000df 276px,#0000da 284px,#0000bb 288px,#0000c8 290px,#0000c4 305px,#0000a8 314px,#000084 362px,#000084 439px,#0000b6"></i><i style="--g:#0000c4,#0000bb 19px,#000084 58px,#000096 157px,#000080 201px,#000096 223px,#0000ad 230px,#0000a4 237px,#0000c4 241px,#0000cd 246px,#0000b2 253px,#0000cd 260px,#0000da 281px,#0000c8 288px,#0000d1 298px,#0000b2 304px,#000080 375px,#000084 442px,#0000b6"></i><i style="--g:#0000c8,#0000bb 21px,#000080 61px,#000096 105px,#000096 169px,#000080 206px,#0000d6 268px,#0000cd 298px,#000096 339px,#000080 374px,#000084 449px,#0000b6"></i><i class=h2 style="--g:#0000c8,#000089 65px,#00009b 169px,#000092 200px,#000084 203px,#00009f 215px,#000096 219px,#0000ad 238px,#0000c8 243px,#0000b6 250px,#0000e8 260px,#0000d6 263px,#0000da 288px,#0000c8 292px,#0000d6 303px,#0000a8 325px,#000080 367px,#000080 443px,#0000b6"></i><i style="--g:#0000c8,#000092 62px,#00009f 143px,#000092 189px,#00009f 210px,#000092 215px,#0000b6 225px,#0000a8 229px,#0000bf 234px,#0000ad 238px,#0000b6 244px,#0000da 250px,#0000da 256px,#0000c4 261px,#0000ed 272px,#0000da 274px,#0000e3 279px,#0000cd 284px,#0000df 296px,#0000bf 305px,#0000bf 317px,#00009f 332px,#000080 369px,#000080 445px,#0000bb"></i><i style="--g:#0000cd,#000096 71px,#000096 195px,#0000ad 201px,#000092 207px,#00009f 213px,#0000bf 217px,#00009b 223px,#0000a4 227px,#0000d6 233px,#0000a8 239px,#0000b6 243px,#0000e3 248px,#0000bb 253px,#0000c4 258px,#0000fa 263px,#0000c8 268px,#0000cd 274px,#0000fa 279px,#0000cd 284px,#0000cd 290px,#0000ed 294px,#0000c4 300px,#0000d1 311px,#0000b6 316px,#0000b6 327px,#000092 350px,#000080 428px,#000084 452px,#0000bf"></i><i class=h2 style="--g:#0000d1,#0000cd 20px,#000096 74px,#000092 110px,#0000a4 147px,#0000a4 217px,#0000ad 229px,#0000c4 236px,#0000b6 241px,#0000d1 247px,#0000c8 258px,#0000df 262px,#0000e3 270px,#0000d1 275px,#0000e3 282px,#0000cd 286px,#0000da 294px,#0000c8 298px,#0000cd 307px,#00009f 339px,#000084 393px,#000084 442px,#0000b6 485px,#0000bf"></i><i style="--g:#0000d6,#0000cd 27px,#000089 99px,#0000a4 150px,#00009b 194px,#0000a8 209px,#00009b 211px,#0000b2 216px,#0000a4 221px,#0000bf 225px,#00009f 229px,#0000cd 234px,#0000b2 239px,#0000d1 243px,#0000bf 248px,#0000df 252px,#0000bb 257px,#0000ed 262px,#0000cd 266px,#0000e3 270px,#0000cd 276px,#0000e3 280px,#0000d1 284px,#0000e3 290px,#0000c4 294px,#0000df 299px,#0000c8 302px,#0000c4 317px,#0000b2 321px,#0000bb 327px,#0000a4 340px,#00008d 379px,#00008d 440px,#0000c4"></i><i style="--g:#0000d6,#0000d1 28px,#000080 98px,#0000a4 145px,#0000a4 191px,#000096 194px,#0000a4 199px,#000096 203px,#0000a8 207px,#000096 210px,#0000ad 215px,#000096 217px,#0000bb 221px,#00009b 225px,#0000c4 229px,#0000a4 233px,#0000d1 237px,#0000ad 241px,#0000da 245px,#0000bf 249px,#0000d6 252px,#0000c4 256px,#0000e3 260px,#0000d1 264px,#0000ed 266px,#0000e8 268px,#0000c4 270px,#0000ed 274px,#0000e3 276px,#0000bf 278px,#0000ed 282px,#0000bf 286px,#0000e3 290px,#0000bb 294px,#0000da 298px,#0000bb 302px,#0000d1 306px,#0000b6 310px,#0000c8 314px,#0000b2 318px,#0000bf 322px,#0000ad 325px,#0000b6 330px,#0000a8 333px,#000096 376px,#000096 433px,#0000c8 493px,#0000c8"></i><i class=h2 style="--g:#0000da,#0000cd 36px,#000084 96px,#0000a4 145px,#00008d 209px,#0000a4 215px,#00009b 226px,#0000bf 234px,#0000c4 241px,#0000b2 244px,#0000d6 248px,#0000c8 252px,#0000da 255px,#0000bf 259px,#0000e3 268px,#0000d1 272px,#0000df 274px,#0000c4 278px,#0000e3 282px,#0000cd 286px,#0000da 288px,#0000bf 292px,#0000cd 302px,#0000b2 312px,#0000bf 316px,#0000ad 325px,#00009f 365px,#00009f 432px,#0000c8 483px,#0000cd"></i><i style="--g:#0000da,#0000d6 28px,#00008d 96px,#0000a8 159px,#000084 201px,#0000da 262px,#0000a4 331px,#0000a8 426px,#0000d1 488px,#0000d1"></i><i style="--g:#0000da,#0000d6 31px,#00009b 94px,#0000a8 167px,#000092 203px,#000080 207px,#000096 217px,#0000ad 220px,#00009b 224px,#0000b2 229px,#0000ad 233px,#0000cd 236px,#0000b6 240px,#0000d1 245px,#0000bf 249px,#0000da 253px,#0000c8 258px,#0000ed 262px,#0000c8 267px,#0000d6 270px,#0000c8 274px,#0000e8 278px,#0000bf 284px,#0000d1 286px,#0000bb 290px,#0000d1 294px,#0000b2 298px,#0000bb 302px,#0000a8 306px,#0000b6 310px,#00009f 314px,#00009b 321px,#0000b6 432px,#0000d6 487px,#0000d1"></i><i class=h2 style="--g:#0000da,#0000da 26px,#0000a4 88px,#0000ad 152px,#000096 202px,#0000a4 222px,#0000c8 234px,#0000bb 238px,#0000c4 246px,#0000df 251px,#0000cd 260px,#0000e3 265px,#0000d1 268px,#0000df 273px,#0000c8 276px,#0000d6 280px,#0000c4 284px,#0000d1 289px,#000096 313px,#000089 329px,#0000b2 377px,#0000d6"></i><i style="--g:#0000da,#0000d6 28px,#0000a8 82px,#0000a4 117px,#0000b2 169px,#0000a8 193px,#0000b6 199px,#0000a8 211px,#0000cd 225px,#0000bf 238px,#0000d6 241px,#0000d1 245px,#0000e8 250px,#0000e3 259px,#0000c8 264px,#0000df 267px,#0000e3 277px,#0000d6 284px,#0000b2 290px,#0000bf 292px,#0000b6 302px,#000084 323px,#0000b6 383px,#0000d6 481px,#0000d1"></i><i style="--g:#0000d6,#0000d6 19px,#0000a4 81px,#0000a4 129px,#0000bf 207px,#0000ed 245px,#0000da 251px,#0000fa 264px,#0000e3 268px,#00009b 326px,#0000d1"></i><i class=h2 style="--g:#0000d1,#0000cd 28px,#00009b 79px,#0000a8 152px,#0000bb 195px,#0000d1 205px,#0000c4 215px,#0000ed 228px,#0000d6 237px,#0000ff 250px,#0000e3 258px,#0000ff 272px,#0000d6 282px,#0000e3 294px,#0000bf 303px,#0000bf 316px,#0000a8 327px,#0000b2 446px,#0000cd"></i><i style="--g:#0000d1,#0000cd 20px,#00008d 85px,#0000b2 180px,#0000f1 235px,#0000e3 238px,#0000ff 243px,#0000f1 254px,#0000ff 268px,#0000ed 271px,#0000ff 276px,#0000ed 280px,#0000f1 286px,#0000df 288px,#0000e8 292px,#0000d6 297px,#0000e3 300px,#0000cd 305px,#0000b6 329px,#0000ad 365px,#0000a4 452px,#0000c8"></i><i class=h2 style="--g:#0000cd,#000084 82px,#0000b2 185px,#0000c8 193px,#0000c4 203px,#0000da 207px,#0000d1 211px,#0000df 215px,#0000d1 217px,#0000f1 223px,#0000e8 227px,#0000f6 231px,#0000e3 234px,#0000ff 237px,#0000ff 248px,#0000f1 250px,#0000ff 254px,#0000ff 269px,#0000ed 272px,#0000ff 274px,#0000ff 284px,#0000e3 288px,#0000f6 294px,#0000e3 296px,#0000ed 300px,#0000d1 304px,#0000df 310px,#0000c4 320px,#000092 434px,#0000c4"></i><i style="--g:#0000cd,#000080 82px,#0000a8 180px,#0000ff 239px,#0000ff 288px,#0000da 308px,#0000a8 355px,#000084 439px,#0000bf"></i><i style="--g:#0000c8,#000084 82px,#000092 169px,#0000ad 194px,#0000e3 217px,#0000da 221px,#0000fa 230px,#0000ed 234px,#0000ff 237px,#0000ff 293px,#0000ed 296px,#0000f1 306px,#0000da 310px,#0000a4 350px,#000080 442px,#0000bb"></i><i class=h2 style="--g:#0000c8,#000080 100px,#000089 174px,#0000a8 197px,#0000bf 201px,#0000b6 205px,#0000d1 209px,#0000c4 213px,#0000e3 217px,#0000d1 221px,#0000f6 225px,#0000e3 229px,#0000ff 232px,#0000ed 236px,#0000ff 238px,#0000ff 246px,#0010ff 248px,#0000ff 254px,#0014ff 256px,#0000ff 262px,#001cff 265px,#0000ff 269px,#0014ff 274px,#0000ff 276px,#000cff 282px,#0000ff 292px,#0000ed 294px,#0000ff 298px,#0000df 302px,#0000f6 306px,#0000d6 310px,#0000e3 314px,#0000c8 317px,#0000d1 322px,#0000bb 325px,#0000c4 329px,#0000ad 333px,#000089 371px,#000089 438px,#0000bb"></i><i style="--g:#0000c8,#000080 92px,#000084 175px,#000096 178px,#00008d 183px,#0000ad 189px,#000096 193px,#0000bb 197px,#0000ad 203px,#0000d6 207px,#0000bf 213px,#0000f1 217px,#0000d1 222px,#0000ff 226px,#0000fa 229px,#0000df 231px,#0000ff 235px,#0000f1 241px,#0000ff 244px,#0014ff 246px,#0000ff 253px,#001cff 256px,#0000ff 262px,#0020ff 265px,#0000ff 269px,#0000ff 272px,#0018ff 274px,#0000ff 277px,#0010ff 284px,#0000f1 290px,#0000ff 291px,#0000ff 296px,#0000e3 299px,#0000fa 304px,#0000d1 309px,#0000e3 314px,#0000bf 319px,#0000cd 323px,#0000b2 328px,#0000b6 334px,#000092 347px,#000080 372px,#00008d 433px,#0000bb"></i><i style="--g:#0000c4,#000084 90px,#000089 163px,#000096 168px,#00008d 174px,#0000a4 181px,#00009b 185px,#0000cd 205px,#0000c4 209px,#0000e8 217px,#0000df 222px,#0000ff 228px,#0000f1 232px,#0000ff 235px,#0000ff 250px,#0014ff 258px,#0008ff 261px,#0014ff 266px,#0000ff 270px,#000cff 275px,#0000ff 292px,#00009f 340px,#000080 378px,#00008d 432px,#0000bf"></i><i class=h2 style="--g:#0000c8,#000089 98px,#00008d 141px,#00009f 180px,#0000b6 185px,#0000b6 197px,#0000d1 203px,#0000d1 214px,#0000f6 219px,#0000ed 230px,#0000ff 232px,#0000ff 247px,#001cff 250px,#0000ff 263px,#0028ff 267px,#0000ff 278px,#0000ff 281px,#0018ff 284px,#0000ff 288px,#0000ff 302px,#0000d6 312px,#0000e3 316px,#0000bb 327px,#0000bf 332px,#00009f 343px,#000080 392px,#0000bf"></i><i style="--g:#0000c4,#0000c4 21px,#000096 84px,#000096 151px,#0000a8 159px,#00009f 174px,#0000c4 183px,#0000b6 198px,#0000f6 209px,#0000da 223px,#0000ff 228px,#0014ff 233px,#0000ff 249px,#0030ff 259px,#0000ff 271px,#0000ff 275px,#0020ff 282px,#0000ff 291px,#0000ed 297px,#0000ff 300px,#0000ff 309px,#0000bf 323px,#0000c8 332px,#00009f 346px,#000080 390px,#0000c4"></i><i style="--g:#0000c4,#000096 119px,#00009f 157px,#0000bb 173px,#0000b2 187px,#0000ff 221px,#000cff 225px,#0000ff 242px,#0018ff 253px,#0014ff 268px,#0030ff 274px,#0000ff 286px,#0000ff 306px,#0000df 319px,#0000df 326px,#0000ad 340px,#000084 392px,#0000c4"></i><i class=h2 style="--g:#0000c8,#000096 116px,#0000a8 166px,#0000ff 222px,#001cff 257px,#0000ff 308px,#0000ad 350px,#00008d 387px,#000092 425px,#0000c4"></i><i style="--g:#0000c4,#00008d 97px,#000092 150px,#0000bb 186px,#0000ad 193px,#0000f1 207px,#0000e8 214px,#0000ff 222px,#0000ff 239px,#0038ff 251px,#001cff 255px,#0020ff 274px,#0004ff 280px,#001cff 285px,#0028ff 294px,#0008ff 299px,#0000ff 314px,#0000da 325px,#0000d6 339px,#0000ad 357px,#000092 387px,#000096 433px,#0000c8"></i><i style="--g:#0000c4,#000089 83px,#00008d 163px,#0000a8 175px,#00009f 185px,#0000d6 197px,#0000bf 205px,#0000ff 217px,#0000ed 227px,#0000ff 232px,#0030ff 243px,#0004ff 248px,#0000ff 251px,#0020ff 255px,#0040ff 264px,#000cff 274px,#0034ff 288px,#0000ff 297px,#000cff 312px,#0000ff 315px,#0000e8 321px,#0000e8 333px,#0000bf 343px,#000089 398px,#0000c8"></i><i class=h2 style="--g:#0000c4,#000080 89px,#000080 158px,#00009f 185px,#0000e3 212px,#0000df 216px,#0000ff 223px,#0000ff 234px,#001cff 244px,#000cff 248px,#0024ff 252px,#001cff 256px,#0030ff 261px,#0034ff 273px,#001cff 278px,#002cff 282px,#0028ff 290px,#0010ff 294px,#0000ff 322px,#0000ed 325px,#00009b 372px,#000080 410px,#0000bf 480px,#0000c8"></i><i style="--g:#0000c4,#000089 84px,#000084 159px,#000096 165px,#00008d 171px,#0000a8 177px,#00009f 183px,#0000bf 189px,#0000b2 195px,#0000da 201px,#0000cd 207px,#0000ff 213px,#0000e8 218px,#0000ff 222px,#0000ff 232px,#0024ff 236px,#0008ff 243px,#0034ff 248px,#0018ff 251px,#0014ff 254px,#004cff 259px,#0020ff 264px,#0044ff 269px,#0020ff 276px,#0040ff 282px,#001cff 287px,#0030ff 294px,#000cff 300px,#001cff 306px,#0000ff 310px,#0000fa 329px,#0000da 336px,#0000df 341px,#0000c8 345px,#00009f 370px,#000089 403px,#0000c8"></i><i style="--g:#0000c4,#000092 85px,#00008d 142px,#0000a4 164px,#00009b 170px,#0000b2 174px,#0000a4 180px,#0000bb 183px,#0000b6 189px,#0000d6 193px,#0000c8 199px,#0000f1 203px,#0000d1 207px,#0000ff 211px,#0000ff 214px,#0000e8 217px,#0000ff 220px,#0000ff 228px,#0020ff 231px,#000cff 237px,#0034ff 240px,#000cff 245px,#0038ff 250px,#0020ff 255px,#004cff 260px,#0028ff 264px,#0050ff 268px,#0024ff 272px,#0024ff 274px,#0050ff 278px,#0020ff 282px,#0040ff 288px,#0018ff 292px,#0034ff 296px,#0034ff 298px,#0010ff 302px,#0028ff 306px,#0000ff 310px,#0010ff 315px,#0000ff 319px,#0000ff 327px,#0000ed 330px,#0000f6 335px,#0000da 339px,#0000e3 343px,#0000c4 349px,#0000cd 353px,#0000b6 358px,#000092 403px,#0000c8"></i><i class=h2 style="--g:#0000c4,#000096 89px,#000096 135px,#0000b2 172px,#0000da 197px,#0000ed 200px,#0000e8 204px,#0000ff 208px,#0000ff 221px,#0020ff 232px,#0018ff 236px,#0030ff 240px,#001cff 245px,#0040ff 248px,#0034ff 253px,#0048ff 256px,#0048ff 262px,#0034ff 266px,#004cff 270px,#0034ff 274px,#0048ff 277px,#0030ff 282px,#0044ff 286px,#0028ff 290px,#003cff 294px,#0020ff 298px,#002cff 302px,#0014ff 306px,#0020ff 310px,#0008ff 314px,#0000fa 334px,#0000bb 360px,#00008d 401px,#0000c8"></i><i style="--g:#0000c4,#0000c4 24px,#000092 93px,#000092 127px,#0000ad 162px,#0000e3 196px,#0000ff 201px,#0000ff 217px,#001cff 226px,#0018ff 231px,#0038ff 235px,#0030ff 240px,#0044ff 246px,#0038ff 251px,#0048ff 260px,#003cff 264px,#0058ff 268px,#0048ff 275px,#0050ff 280px,#0038ff 284px,#003cff 294px,#0028ff 298px,#0038ff 302px,#0000ff 324px,#0000fa 337px,#0000b6 364px,#000080 402px,#0000cd"></i><i class=h2 style="--g:#0000c8,#0000bb 40px,#000084 112px,#00009f 146px,#0000d1 181px,#0000ff 201px,#0000ff 211px,#003cff 238px,#0054ff 261px,#0048ff 291px,#0004ff 324px,#0000ff 334px,#0000bb 365px,#000092 398px,#000092 422px,#0000c4 483px,#0000c8"></i><i style="--g:#0000c8,#0000bb 42px,#000084 106px,#00009f 146px,#0000f6 193px,#0000ff 206px,#004cff 241px,#0050ff 260px,#0070ff 264px,#0054ff 270px,#0060ff 274px,#0048ff 286px,#0050ff 290px,#0000ff 331px,#0000ff 338px,#0000b6 374px,#00009f 400px,#0000c8"></i><i style="--g:#0000c8,#000096 123px,#0000b6 167px,#0000f1 187px,#0000ff 206px,#0018ff 210px,#0014ff 215px,#0034ff 223px,#0024ff 229px,#0048ff 233px,#0040ff 239px,#0060ff 247px,#0054ff 253px,#0068ff 260px,#0048ff 266px,#006cff 270px,#0054ff 276px,#0064ff 283px,#003cff 290px,#0058ff 294px,#0038ff 300px,#003cff 307px,#0018ff 313px,#0024ff 318px,#000cff 323px,#0000ff 333px,#0000ff 341px,#0000d6 351px,#0000da 356px,#0000b6 372px,#00009f 398px,#0000c8"></i><i class=h2 style="--g:#0000cd,#000096 133px,#0000a8 157px,#0000c4 166px,#0000bf 172px,#0000d1 181px,#0000ff 191px,#0000ff 207px,#0034ff 217px,#0028ff 223px,#0038ff 233px,#0064ff 239px,#0050ff 244px,#0054ff 255px,#007cff 264px,#0060ff 270px,#0054ff 279px,#0068ff 290px,#0044ff 296px,#002cff 307px,#0030ff 316px,#0000ff 329px,#0000ff 341px,#0000c4 359px,#00008d 398px,#0000c4 478px,#0000c8"></i><i style="--g:#0000cd,#0000bb 57px,#000084 137px,#0000b6 169px,#0000ff 195px,#0000ff 202px,#0050ff 235px,#0058ff 248px,#007cff 255px,#0084ff 263px,#006cff 270px,#0068ff 284px,#0048ff 303px,#0000ff 333px,#0000fa 343px,#0000a8 377px,#000089 404px,#0000c4 483px,#0000c8"></i><i style="--g:#0000cd,#00008d 128px,#0000b2 164px,#0000ed 182px,#0000e3 185px,#0000ff 191px,#0000ff 197px,#0018ff 203px,#0010ff 209px,#002cff 213px,#0050ff 225px,#0040ff 231px,#0068ff 237px,#0078ff 247px,#0060ff 253px,#0080ff 258px,#0084ff 267px,#0060ff 278px,#0074ff 284px,#006cff 293px,#0044ff 300px,#004cff 306px,#003cff 315px,#0018ff 321px,#0000ff 337px,#0000da 360px,#0000c4 365px,#00009f 401px,#0000c8"></i><i class=h2 style="--g:#0000c8,#00009f 87px,#00009f 122px,#0000ad 145px,#0000da 164px,#0000d1 169px,#0000ff 184px,#0000ff 193px,#0020ff 198px,#0010ff 203px,#0038ff 209px,#002cff 213px,#005cff 221px,#0048ff 227px,#006cff 233px,#0060ff 238px,#0088ff 244px,#0074ff 250px,#0098ff 255px,#0074ff 260px,#0090ff 266px,#0078ff 270px,#0090ff 280px,#0068ff 284px,#007cff 290px,#0060ff 294px,#006cff 302px,#0044ff 308px,#0048ff 314px,#002cff 318px,#0030ff 325px,#0010ff 331px,#0014ff 336px,#0000ff 340px,#0000ff 348px,#0000bf 374px,#00009f 407px,#0000c8"></i><i style="--g:#0000c4,#000096 101px,#0000b6 138px,#0000ff 173px,#0000ff 181px,#007cff 231px,#0074ff 235px,#0090ff 245px,#0088ff 250px,#00a8ff 256px,#0094ff 259px,#009cff 268px,#0070ff 300px,#0000ff 342px,#0000f1 356px,#00009f 389px,#000089 408px,#0000c8"></i><i style="--g:#0000c4,#000080 96px,#0000bb 138px,#0000ff 168px,#0000ff 175px,#0070ff 217px,#00acff 258px,#008cff 294px,#0000ff 345px,#0000ff 353px,#0000ad 385px,#000092 408px,#0000c4"></i><i class=h2 style="--g:#0000c4,#000096 94px,#0000b6 130px,#0000fa 160px,#0000ff 169px,#000cff 177px,#0028ff 181px,#0034ff 191px,#0050ff 195px,#0058ff 205px,#0078ff 209px,#007cff 218px,#009cff 223px,#0090ff 227px,#00a8ff 237px,#0098ff 240px,#00b8ff 245px,#00b0ff 253px,#00c8ff 256px,#00b0ff 266px,#00c8ff 271px,#00a4ff 280px,#00bcff 284px,#0090ff 294px,#00a0ff 298px,#0080ff 303px,#0074ff 312px,#0054ff 316px,#005cff 320px,#003cff 328px,#0040ff 332px,#0000ff 351px,#0000ff 361px,#0000bb 391px,#0000a8 416px,#0000c8"></i><i style="--g:#0000c4,#0000a4 98px,#0000bf 129px,#0000ff 157px,#0000ff 164px,#0048ff 193px,#0078ff 205px,#0074ff 209px,#0090ff 213px,#0088ff 217px,#00a4ff 221px,#009cff 225px,#00b4ff 229px,#00a8ff 232px,#00c4ff 237px,#00b8ff 241px,#00e0fb 252px,#00ccff 257px,#02e8f4 260px,#00c4ff 266px,#00d8ff 270px,#00c0ff 274px,#00d0ff 278px,#00b4ff 282px,#00c4ff 286px,#00a8ff 290px,#00b4ff 294px,#009cff 298px,#008cff 310px,#005cff 322px,#0060ff 325px,#0048ff 329px,#0000ff 358px,#0000a8 416px,#0000c8"></i><i style="--g:#0000c8,#000096 102px,#0000b6 129px,#0000ff 157px,#0000ff 165px,#001cff 170px,#001cff 175px,#003cff 179px,#0030ff 183px,#005cff 189px,#0050ff 195px,#0070ff 199px,#006cff 203px,#008cff 209px,#0084ff 212px,#00b4ff 217px,#009cff 221px,#00ccff 227px,#00b0ff 231px,#00e0fb 237px,#00c0ff 241px,#09f0ee 246px,#00ccff 252px,#0ff8e7 256px,#00ccff 262px,#02e8f4 267px,#00d0ff 270px,#00e0fb 276px,#00c8ff 280px,#06ecf1 284px,#00b8ff 290px,#00d8ff 294px,#00a8ff 299px,#00c0ff 304px,#0090ff 309px,#00a4ff 314px,#0070ff 320px,#0078ff 324px,#0058ff 329px,#0058ff 333px,#0040ff 337px,#0048ff 341px,#0024ff 347px,#002cff 351px,#0008ff 357px,#0000ff 363px,#0000fa 372px,#0000df 377px,#0000df 382px,#0000ad 397px,#000089 422px,#0000c8"></i><i class=h2 style="--g:#0000c8,#0000c4 29px,#000092 83px,#000092 104px,#0000a4 110px,#00009f 116px,#0000bb 122px,#0000b6 128px,#0000da 135px,#0000d1 140px,#0000fa 146px,#0000f1 152px,#0000ff 156px,#0010ff 159px,#0004ff 165px,#0034ff 171px,#0024ff 177px,#005cff 183px,#0048ff 189px,#0084ff 194px,#0068ff 201px,#00acff 206px,#0088ff 213px,#00d0ff 218px,#00a4ff 224px,#06ecf1 229px,#06ecf1 231px,#00bcff 236px,#00e0fb 239px,#19ffde 241px,#0ff8e7 244px,#00ccff 248px,#00dcfe 250px,#19ffde 252px,#26ffd1 255px,#19ffde 257px,#00e0fb 260px,#00e4f8 262px,#19ffde 264px,#26ffd1 266px,#16ffe1 270px,#00d0ff 274px,#00e4f8 276px,#19ffde 278px,#1cffdb 280px,#00e0fb 283px,#00c0ff 286px,#0cf4eb 291px,#00acff 298px,#00d8ff 303px,#0094ff 310px,#00b4ff 314px,#00a4ff 317px,#0074ff 321px,#008cff 327px,#0050ff 334px,#0064ff 338px,#0030ff 345px,#003cff 350px,#0010ff 357px,#0018ff 362px,#0000ff 366px,#0000ff 375px,#0000df 381px,#0000df 387px,#0000c4 394px,#00009f 425px,#0000c8"></i><i style="--g:#0000cd,#0000b6 94px,#0000bf 110px,#0000f6 138px,#0000ff 151px,#0018ff 163px,#003cff 171px,#0040ff 178px,#0070ff 187px,#0070ff 194px,#00a4ff 203px,#00a0ff 210px,#00d4ff 219px,#00c8ff 226px,#0ff8e7 235px,#00e4f8 241px,#16ffe1 246px,#26ffd1 270px,#09f0ee 276px,#16ffe1 278px,#19ffde 285px,#00dcfe 292px,#02e8f4 300px,#00bcff 307px,#00bcff 315px,#0090ff 323px,#0088ff 332px,#0060ff 339px,#0054ff 348px,#0030ff 355px,#0000ff 376px,#0000ff 385px,#0000c8 420px,#0000d1"></i><i style="--g:#0000d1,#0000c4 87px,#0000d6 98px,#0000cd 109px,#0000f1 123px,#0000e3 130px,#0000ff 140px,#0010ff 146px,#0004ff 154px,#0030ff 166px,#0058ff 171px,#0048ff 179px,#0078ff 191px,#00a8ff 196px,#0094ff 203px,#00b8ff 209px,#00b4ff 213px,#00dcfe 217px,#0cf4eb 219px,#00d4ff 227px,#0cf4eb 232px,#09f0ee 237px,#1cffdb 240px,#39ffbe 243px,#16ffe1 250px,#26ffd1 255px,#1cffdb 262px,#46ffb1 267px,#19ffde 276px,#1fffd7 283px,#0cf4eb 288px,#2cffca 292px,#1cffdb 295px,#00dcfe 300px,#00e0fb 305px,#00c0ff 311px,#00d8ff 316px,#009cff 324px,#007cff 335px,#0088ff 340px,#004cff 350px,#002cff 361px,#0034ff 365px,#000cff 373px,#0000ff 380px,#0000ff 391px,#0000e8 396px,#0000df 412px,#0000c8 421px,#0000d1"></i><i class=h2 style="--g:#0000d1,#0000ad 105px,#0000ff 144px,#0000ff 155px,#0008ff 160px,#0034ff 165px,#0090ff 191px,#0080ff 199px,#00a4ff 209px,#00acff 211px,#02e8f4 215px,#16ffe1 222px,#33ffc4 238px,#13fce4 248px,#23ffd4 254px,#1cffdb 260px,#49ffad 265px,#33ffc4 290px,#16ffe1 296px,#00dcfe 300px,#00dcfe 306px,#00c4ff 310px,#00dcfe 316px,#007cff 342px,#0044ff 351px,#0024ff 361px,#0028ff 366px,#0000ff 377px,#0000ff 383px,#0000c8 397px,#0000a8 412px,#00009b 428px,#0000c8 477px,#0000d1"></i><i style="--g:#0000d1,#0000c4 44px,#000089 103px,#0000bb 126px,#0000ff 146px,#0000ff 152px,#00d8ff 210px,#16ffe1 222px,#49ffad 259px,#40ffb7 283px,#16ffe1 306px,#00d8ff 318px,#0000ff 379px,#0000ff 385px,#0000d1 399px,#0000a4 423px,#0000d1"></i><i style="--g:#0000cd,#0000c4 104px,#0000ff 128px,#0000ff 135px,#002cff 157px,#005cff 169px,#009cff 177px,#00a0ff 182px,#00bcff 187px,#00b0ff 195px,#00d4ff 205px,#19ffde 215px,#50ffa7 223px,#49ffad 229px,#5dff9a 234px,#40ffb7 239px,#46ffb1 249px,#53ffa4 259px,#7dff7a 268px,#66ff90 274px,#6aff8d 280px,#40ffb7 285px,#23ffd4 304px,#2cffca 313px,#16ffe1 318px,#02e8f4 326px,#00d4ff 328px,#00c0ff 330px,#007cff 349px,#006cff 361px,#0030ff 375px,#0000ff 395px,#0000ff 408px,#0000d6 442px,#0000da"></i><i class=h2 style="--g:#0000c8,#0000bb 68px,#0000d1 85px,#0000c8 89px,#0000ff 115px,#0000ff 125px,#0034ff 140px,#0034ff 146px,#0060ff 154px,#0060ff 158px,#0084ff 164px,#00b8ff 182px,#00d4ff 185px,#00d8ff 193px,#16ffe1 198px,#1fffd7 205px,#39ffbe 209px,#29ffce 215px,#56ffa0 222px,#53ffa4 228px,#6dff8a 233px,#56ffa0 239px,#7dff7a 245px,#73ff83 252px,#83ff73 258px,#70ff87 263px,#83ff73 269px,#70ff87 273px,#77ff80 280px,#53ffa4 284px,#6aff8d 292px,#4dffaa 298px,#50ffa7 303px,#29ffce 308px,#33ffc4 315px,#13fce4 322px,#13fce4 326px,#00c8ff 333px,#00d0ff 338px,#007cff 357px,#0080ff 360px,#0038ff 378px,#001cff 395px,#0000ff 402px,#0000ff 420px,#0000da 450px,#0000da"></i><i style="--g:#0000c4,#0000b2 32px,#000089 65px,#0000bf 95px,#0000e3 102px,#0000e8 109px,#0000ff 114px,#0004ff 123px,#0034ff 132px,#0040ff 142px,#006cff 148px,#007cff 158px,#00acff 164px,#00b0ff 172px,#00d0ff 176px,#06ecf1 179px,#06ecf1 188px,#19ffde 191px,#39ffbe 195px,#36ffc1 205px,#66ff90 211px,#5dff9a 221px,#8aff6d 227px,#73ff83 236px,#a4ff53 244px,#83ff73 251px,#b4ff43 258px,#80ff77 266px,#a0ff56 272px,#73ff83 282px,#8dff6a 288px,#56ffa0 298px,#66ff90 304px,#30ffc7 313px,#39ffbe 319px,#19ffde 325px,#00e4f8 330px,#06ecf1 335px,#00d4ff 339px,#00a8ff 345px,#00a8ff 351px,#0078ff 358px,#0064ff 368px,#003cff 374px,#002cff 383px,#0000ff 393px,#0000ff 401px,#0000e3 406px,#0000c4 420px,#0000ad 441px,#0000bb 446px,#0000b2 459px,#0000c8 477px,#0000d1"></i><i class=h2 style="--g:#0000d6,#0000d1 24px,#0000bf 33px,#0000cd 37px,#0000bb 44px,#0000c8 51px,#0000b6 57px,#0000cd 59px,#0000bf 69px,#0000d6 71px,#0000cd 80px,#0000e8 84px,#0000e3 92px,#0000ff 95px,#0000ff 105px,#0014ff 109px,#0010ff 115px,#0038ff 121px,#0034ff 126px,#0060ff 132px,#005cff 138px,#008cff 144px,#0088ff 150px,#00bcff 156px,#00b4ff 162px,#00d0ff 165px,#09f0ee 168px,#00e0fb 174px,#16ffe1 177px,#33ffc4 181px,#23ffd4 186px,#5aff9d 193px,#40ffb7 197px,#7dff7a 205px,#5dff9a 209px,#97ff60 215px,#9aff5d 217px,#77ff80 221px,#b1ff46 228px,#8dff6a 233px,#c1ff36 240px,#a4ff53 245px,#c4ff33 251px,#a4ff53 257px,#c4ff33 262px,#97ff60 267px,#baff3c 274px,#8aff6d 278px,#aaff4d 284px,#a7ff50 286px,#77ff80 290px,#90ff66 297px,#5dff9a 302px,#70ff87 308px,#6aff8d 310px,#3cffba 314px,#49ffad 320px,#19ffde 326px,#19ffde 334px,#00d8ff 337px,#00d8ff 344px,#00a4ff 349px,#00a0ff 357px,#0074ff 361px,#006cff 369px,#0044ff 373px,#0040ff 379px,#0018ff 385px,#0000ff 395px,#0000f6 405px,#0000d6 410px,#0000d1 417px,#0000b6 422px,#00009f 444px,#0000cd"></i><i style="--g:#0000e3,#0000ff 66px,#0010ff 84px,#006cff 126px,#00acff 142px,#00acff 146px,#00d4ff 152px,#00d8ff 157px,#19ffde 167px,#1fffd7 173px,#40ffb7 179px,#3cffba 183px,#66ff90 189px,#60ff97 193px,#8dff6a 207px,#83ff73 211px,#a4ff53 215px,#9aff5d 221px,#c4ff33 227px,#b1ff46 231px,#c7ff30 236px,#caff2c 245px,#baff3c 249px,#d1ff26 254px,#baff3c 258px,#dbff1c 264px,#beff39 268px,#baff3c 282px,#9dff5a 286px,#adff49 291px,#8aff6d 296px,#9dff5a 301px,#7aff7d 306px,#77ff80 312px,#5dff9a 320px,#43ffb4 323px,#43ffb4 329px,#1fffd7 334px,#29ffce 338px,#1cffdb 341px,#02e8f4 345px,#00d8ff 351px,#00c4ff 357px,#00a4ff 361px,#00a0ff 366px,#005cff 382px,#0000ff 419px,#0000e3 457px,#0000da"></i><i style="--g:#0000f1,#0000ff 59px,#001cff 84px,#0058ff 114px,#00d8ff 153px,#16ffe1 163px,#9aff5d 206px,#e7ff0f 253px,#dbff1c 256px,#e4ff13 262px,#caff2c 270px,#d7ff1f 274px,#c1ff36 278px,#ceff29 282px,#b4ff43 286px,#beff39 290px,#a4ff53 294px,#adff49 297px,#19ffde 346px,#06ecf1 349px,#00d4ff 356px,#0044ff 397px,#0000ff 429px,#0000da"></i><i class=h2 style="--g:#0000e3,#0000df 34px,#0000cd 47px,#0000d6 59px,#0000c8 61px,#0000da 67px,#0000cd 75px,#0000df 79px,#0000e3 89px,#0000f6 92px,#0000ff 104px,#0054ff 132px,#00d8ff 161px,#00e4f8 166px,#19ffde 170px,#6aff8d 192px,#6dff8a 199px,#97ff60 205px,#adff49 221px,#c7ff30 225px,#beff39 233px,#e1ff16 239px,#ceff29 247px,#ebff0c 252px,#ebff0c 258px,#dbff1c 268px,#e7ff0f 272px,#c4ff33 280px,#d7ff1f 286px,#b7ff40 294px,#aaff4d 305px,#7dff7a 314px,#83ff73 319px,#56ffa0 329px,#40ffb7 339px,#19ffde 346px,#0ff8e7 353px,#00dcfe 357px,#0068ff 382px,#0064ff 387px,#0030ff 397px,#0000ff 415px,#0000ff 421px,#0000bf 443px,#0000cd 446px,#0000b2 452px,#0000bf 454px,#0000ad 466px,#0000c8"></i><i style="--g:#0000da,#0000cd 29px,#00009b 69px,#0000ad 81px,#0000f6 102px,#0000ff 111px,#00d8ff 161px,#16ffe1 170px,#c1ff36 221px,#e7ff0f 245px,#eeff09 268px,#d1ff26 292px,#94ff63 316px,#16ffe1 352px,#00d8ff 360px,#0000ff 414px,#0000ff 422px,#0000c8 437px,#0000a8 460px,#0000c4"></i><i style="--g:#0000ed,#0000ff 72px,#0014ff 87px,#004cff 107px,#004cff 112px,#0080ff 124px,#007cff 128px,#00b0ff 138px,#00d8ff 151px,#16ffe1 162px,#3cffba 170px,#4dffaa 179px,#73ff83 186px,#80ff77 195px,#a0ff56 200px,#aaff4d 210px,#d1ff26 217px,#d1ff26 227px,#f1fc06 233px,#eeff09 244px,#ffe600 248px,#f8f500 254px,#ffde00 263px,#f1fc06 268px,#ffea00 275px,#eeff09 280px,#e4ff13 286px,#f4f802 290px,#d1ff26 297px,#d1ff26 306px,#aaff4d 314px,#a7ff50 321px,#73ff83 333px,#77ff80 337px,#3cffba 349px,#43ffb4 353px,#16ffe1 362px,#0cf4eb 369px,#00d8ff 373px,#007cff 397px,#0080ff 401px,#0060ff 406px,#0054ff 416px,#0034ff 422px,#0038ff 426px,#0014ff 438px,#0000ff 453px,#0000e3"></i><i class=h2 style="--g:#0000ed,#0000ff 59px,#0014ff 77px,#0030ff 85px,#002cff 91px,#006cff 109px,#006cff 114px,#00bcff 132px,#00bcff 138px,#00d8ff 142px,#16ffe1 154px,#56ffa0 169px,#60ff97 177px,#a7ff50 193px,#a4ff53 199px,#c7ff30 205px,#d7ff1f 215px,#ebff0c 217px,#e1ff16 224px,#feed00 229px,#fbf100 236px,#ffd300 241px,#ffea00 248px,#ffc400 253px,#ffe200 261px,#ffcc00 266px,#ffe200 272px,#ffd300 280px,#f4f802 286px,#ffe600 290px,#eeff09 295px,#eeff09 302px,#c7ff30 309px,#ceff29 314px,#aaff4d 322px,#adff49 326px,#83ff73 333px,#8aff6d 337px,#63ff94 344px,#5dff9a 351px,#36ffc1 357px,#36ffc1 363px,#16ffe1 368px,#00dcfe 379px,#009cff 394px,#001cff 442px,#0000ff 463px,#0000e8"></i><i style="--g:#0000c8,#0000a4 37px,#0000ad 45px,#00009f 47px,#0000ad 49px,#00009f 51px,#0000ad 53px,#00009f 55px,#0000b2 57px,#0000a4 59px,#0000bb 61px,#0000b2 63px,#0000cd 67px,#0000cd 73px,#0000ff 86px,#0004ff 94px,#00d4ff 144px,#16ffe1 152px,#baff3c 196px,#ceff29 205px,#e7ff0f 209px,#e7ff0f 216px,#ffea00 221px,#ffe200 229px,#ffc800 234px,#ffd300 242px,#ffbd00 247px,#ffc100 256px,#ffb200 259px,#ffcc00 268px,#ffc100 276px,#ffd700 282px,#ffe600 298px,#eeff09 303px,#f4f802 306px,#ceff29 314px,#a0ff56 333px,#7aff7d 340px,#66ff90 349px,#16ffe1 368px,#00d8ff 378px,#0034ff 416px,#0000ff 433px,#0000ed 448px,#0000c8 456px,#0000c4 470px,#0000b6 472px,#0000bf 478px,#0000ad 481px,#0000bf 503px,#0000b6"></i><i style="--g:#0000e8,#0000e3 29px,#0000ff 51px,#0004ff 69px,#0060ff 101px,#00d8ff 130px,#16ffe1 139px,#f8f500 202px,#ff8600 246px,#ff9c00 256px,#ff9100 262px,#ffa300 266px,#ffa700 280px,#ffea00 308px,#eeff09 314px,#19ffde 375px,#00d8ff 384px,#0050ff 416px,#0004ff 440px,#0000ff 450px,#0000e8 456px,#0000f1 458px,#0000da 464px,#0000c4 483px,#0000bf"></i><i class=h2 style="--g:#000cff,#0040ff 45px,#0090ff 81px,#02e8f4 110px,#16ffe1 115px,#f8f500 185px,#ff9f00 211px,#ff9f00 219px,#ff7300 233px,#ff7e00 241px,#ff6800 247px,#ff7a00 262px,#ff6f00 268px,#ff8200 272px,#ff7300 279px,#ff9800 288px,#ffa300 301px,#ffcc00 310px,#feed00 324px,#eeff09 327px,#16ffe1 394px,#00dcfe 401px,#00b4ff 416px,#0080ff 428px,#0044ff 453px,#0000ff 496px,#0000ff"></i><i style="--g:#0008ff,#0030ff 37px,#0048ff 43px,#0060ff 61px,#0080ff 67px,#00a4ff 85px,#00b8ff 87px,#02e8f4 102px,#1cffdb 110px,#f8f500 176px,#ffd700 182px,#ffd300 189px,#ffa700 195px,#ffab00 199px,#ff8900 208px,#ff8d00 213px,#ff6800 219px,#ff7300 223px,#ff5d00 229px,#ff6400 236px,#ff4700 241px,#ff5900 246px,#ff4700 256px,#ff6800 270px,#ff5500 276px,#ff6f00 280px,#ff6f00 288px,#ff8d00 293px,#ff8600 300px,#ffa300 304px,#ffab00 311px,#ffd000 318px,#ffcc00 322px,#feed00 327px,#f4f802 333px,#16ffe1 396px,#00d8ff 407px,#0080ff 432px,#0048ff 456px,#001cff 479px,#0000ff"></i><i style="--g:#0000b2,#0000bf 12px,#0000ad 15px,#0000c8 22px,#0000bb 25px,#0000d1 27px,#0000bf 31px,#0000f1 43px,#0000e8 47px,#0000fa 49px,#0000ff 57px,#0014ff 59px,#001cff 67px,#0030ff 69px,#0030ff 73px,#0044ff 75px,#0070ff 89px,#00d8ff 110px,#19ffde 121px,#43ffb4 128px,#50ffa7 136px,#83ff73 144px,#87ff70 150px,#beff39 159px,#caff2c 167px,#eeff09 172px,#feed00 176px,#ffea00 182px,#ffb200 192px,#ffb600 197px,#ff7e00 207px,#ff8600 214px,#ff5900 222px,#ff6400 230px,#ff4700 236px,#ff4e00 254px,#ff3f00 257px,#ff3f00 261px,#ff5d00 266px,#ff4a00 275px,#ff7300 282px,#ff6800 290px,#ff9800 298px,#ff9100 305px,#ffc800 314px,#ffc800 321px,#ffea00 327px,#eeff09 329px,#e1ff16 338px,#b4ff43 345px,#94ff63 357px,#73ff83 361px,#6aff8d 368px,#36ffc1 377px,#16ffe1 388px,#00dcfe 393px,#00ccff 400px,#0098ff 408px,#0080ff 417px,#0054ff 424px,#0058ff 428px,#001cff 440px,#0020ff 444px,#0000ff 449px,#0000ff 459px,#0000df 465px,#0000e8 469px,#0000d1 472px,#0000da 475px,#0000bf 481px,#0000cd 485px,#0000bb 487px,#0000c4 491px,#0000b2 497px,#0000bf"></i><i class=h2 style="--g:#0000e3,#0000e3 16px,#0000ff 25px,#0000ff 40px,#0014ff 43px,#0008ff 45px,#0034ff 55px,#0028ff 57px,#0044ff 61px,#003cff 63px,#0058ff 67px,#0050ff 69px,#006cff 73px,#007cff 81px,#00d8ff 101px,#16ffe1 111px,#eeff09 166px,#feed00 171px,#ff6400 211px,#ff3f00 229px,#ff2d00 252px,#ff3400 270px,#ff5d00 294px,#ffe600 335px,#eeff09 341px,#16ffe1 396px,#00dcfe 405px,#0064ff 432px,#0028ff 450px,#0030ff 452px,#0018ff 456px,#0020ff 458px,#0008ff 462px,#0000fa 482px,#0000e3 485px,#0000f1 487px,#0000da 491px,#0000e8 494px,#0000d6 497px,#0000e3 505px,#0000d1 509px,#0000df"></i><i style="--g:#0048ff,#0070ff 27px,#008cff 33px,#0090ff 41px,#00b0ff 47px,#00b4ff 55px,#00dcfe 64px,#00e4f8 70px,#16ffe1 76px,#5dff9a 103px,#80ff77 110px,#80ff77 116px,#adff49 124px,#b4ff43 131px,#eeff09 145px,#ffea00 152px,#ffc800 159px,#ffc800 164px,#ff9800 172px,#ff9c00 178px,#ff6800 186px,#ff7700 191px,#ff3f00 201px,#ff4300 211px,#ff1600 219px,#ff2d00 225px,#ff1300 230px,#ed0400 233px,#ff1e00 238px,#f60b00 244px,#df0000 247px,#ff1300 251px,#ff1300 258px,#e40000 261px,#ff1e00 272px,#fa0f00 280px,#ff3800 286px,#ff2500 294px,#ff5200 300px,#ff4e00 309px,#ff8200 320px,#ff8900 328px,#ffb200 334px,#ffb900 342px,#ffe200 347px,#ffea00 355px,#e7ff0f 359px,#ceff29 371px,#6dff8a 395px,#60ff97 404px,#46ffb1 408px,#16ffe1 426px,#0ff8e7 432px,#00dcfe 437px,#009cff 457px,#0094ff 466px,#007cff 470px,#0030ff"></i><i style="--g:#0050ff,#0080ff 31px,#00e4f8 67px,#16ffe1 73px,#5dff9a 101px,#f8f500 149px,#ff9400 176px,#ff4a00 203px,#ff1300 241px,#fa0f00 248px,#e80000 251px,#ff1600 260px,#f60b00 269px,#ff3b00 301px,#ff7a00 325px,#ffea00 357px,#eeff09 362px,#16ffe1 432px,#00d8ff 442px,#0060ff 490px,#0040ff"></i><i class=h2 style="--g:#0000f1,#0000df 7px,#0000fa 10px,#0008ff 35px,#0024ff 38px,#0024ff 45px,#003cff 47px,#0040ff 55px,#0058ff 57px,#0058ff 61px,#0078ff 66px,#00a4ff 82px,#00c0ff 85px,#00d0ff 93px,#02e8f4 95px,#1cffdb 104px,#70ff87 130px,#aaff4d 142px,#adff49 148px,#ceff29 152px,#eeff09 165px,#ffea00 170px,#ff8200 200px,#ff8900 205px,#ff5d00 211px,#ff6400 217px,#ff4300 229px,#ff4300 244px,#ff3000 248px,#ff3f00 253px,#ff3000 257px,#ff4700 263px,#ff2d00 267px,#ff5d00 290px,#ff5900 296px,#ff9100 310px,#ff8600 316px,#ffa700 321px,#ffea00 343px,#eeff09 346px,#e1ff16 353px,#9aff5d 369px,#a0ff56 372px,#7aff7d 379px,#19ffde 407px,#00dcfe 415px,#00a8ff 426px,#0098ff 434px,#0084ff 436px,#0078ff 443px,#0040ff 456px,#0038ff 463px,#0008ff 474px,#0000ff 491px,#0000e8 493px,#0000f6 501px,#0000da 504px,#0000e8"></i><i style="--g:#0000df,#0000fa 7px,#0000e8 10px,#0000ff 14px,#0000ff 24px,#0018ff 31px,#000cff 33px,#0030ff 40px,#002cff 45px,#005cff 55px,#004cff 57px,#0080ff 66px,#0078ff 69px,#00a4ff 76px,#00a4ff 81px,#00c4ff 85px,#00d4ff 93px,#16ffe1 99px,#19ffde 105px,#3cffba 110px,#3cffba 116px,#60ff97 121px,#66ff90 128px,#90ff66 134px,#90ff66 140px,#b7ff40 145px,#baff3c 152px,#dbff1c 156px,#ebff0c 165px,#ffea00 168px,#ffe600 175px,#ffb900 181px,#ffc100 187px,#ff9400 193px,#ff9f00 199px,#ff7700 205px,#ff8200 211px,#ff5900 217px,#ff6c00 223px,#ff4a00 227px,#ff5900 235px,#ff3b00 239px,#ff5200 246px,#ff2d00 251px,#ff5d00 258px,#ff3400 266px,#ff5200 271px,#ff3b00 278px,#ff5d00 284px,#ff4a00 290px,#ff6f00 296px,#ff6000 302px,#ff8600 308px,#ff7a00 313px,#ff9f00 318px,#ff9c00 325px,#ffc100 330px,#ffc100 336px,#ffea00 342px,#ffea00 347px,#ebff0c 352px,#d7ff1f 361px,#b7ff40 366px,#adff49 373px,#90ff66 377px,#87ff70 384px,#66ff90 389px,#5dff9a 396px,#43ffb4 400px,#16ffe1 415px,#00e4f8 422px,#00a4ff 436px,#00acff 438px,#007cff 448px,#0070ff 455px,#0054ff 460px,#005cff 462px,#0034ff 471px,#003cff 474px,#0014ff 483px,#001cff 486px,#0000ff 494px,#0000fa"></i><i class=h2 style="--g:#0064ff,#007cff 4px,#0074ff 13px,#00a4ff 21px,#0098ff 29px,#00c8ff 37px,#00c8ff 47px,#0cf4eb 53px,#0cf4eb 63px,#33ffc4 69px,#33ffc4 78px,#5dff9a 85px,#60ff97 95px,#8aff6d 101px,#8aff6d 111px,#baff3c 118px,#b4ff43 126px,#e7ff0f 132px,#e1ff16 142px,#f8f500 145px,#ffd000 148px,#ffcc00 150px,#ffde00 158px,#ff9800 165px,#ffab00 175px,#ff6800 181px,#ff8600 190px,#ff3f00 197px,#ff4300 200px,#ff6800 205px,#ff6000 207px,#ff2500 211px,#ff1e00 215px,#ff4e00 221px,#ff4700 223px,#ff1a00 226px,#e80000 229px,#ff1600 233px,#ff3b00 237px,#ff1a00 241px,#e80000 243px,#da0000 246px,#ed0400 249px,#ff1300 250px,#ff3800 254px,#ff1a00 258px,#e80000 261px,#da0000 264px,#ed0400 266px,#ff3400 271px,#ff1300 275px,#f10800 276px,#e40000 280px,#ff1a00 283px,#ff4300 288px,#ff1600 292px,#fa0f00 295px,#ff5500 303px,#ff2900 310px,#ff7300 319px,#ff4e00 326px,#ff9800 335px,#ff7a00 342px,#ffc400 351px,#ffab00 358px,#f8f500 367px,#ffde00 373px,#feed00 377px,#ebff0c 379px,#ceff29 383px,#deff19 387px,#d7ff1f 391px,#a4ff53 398px,#b1ff46 404px,#a7ff50 408px,#7aff7d 414px,#7aff7d 424px,#4dffaa 430px,#56ffa0 436px,#26ffd1 446px,#2cffca 452px,#16ffe1 458px,#00e4f8 462px,#02e8f4 471px,#00b8ff 478px,#00bcff 488px,#0090ff 496px,#0098ff 503px,#0070ff"></i><i style="--g:#0070ff,#0070ff 7px,#0094ff 16px,#00a8ff 31px,#00d4ff 40px,#00e4f8 53px,#16ffe1 58px,#2cffca 63px,#39ffbe 76px,#70ff87 88px,#80ff77 103px,#baff3c 112px,#c7ff30 128px,#fbf100 134px,#ffe200 142px,#ffea00 150px,#ff9400 161px,#ffa700 173px,#ff5200 183px,#ff6c00 197px,#ff1a00 207px,#ff3f00 221px,#ff1a00 226px,#e40000 229px,#da0000 232px,#ff1600 237px,#ff2500 243px,#ff1a00 248px,#e40000 251px,#c80000 255px,#fa0f00 261px,#ff2900 270px,#fa0f00 275px,#d10000 279px,#e80000 284px,#ff1300 286px,#ff3b00 295px,#f60b00 304px,#ff4a00 312px,#ff6400 319px,#ff3b00 327px,#ff7e00 336px,#ff9c00 343px,#ff7a00 351px,#ffb900 359px,#ffd700 368px,#ffc800 375px,#feed00 380px,#ebff0c 383px,#ceff29 393px,#dbff1c 398px,#83ff73 417px,#8dff6a 424px,#46ffb1 440px,#4dffaa 447px,#0cf4eb 464px,#0ff8e7 471px,#00d8ff 478px,#00b4ff 488px,#00b8ff 493px,#0094ff 508px,#007cff"></i><i style="--g:#0004ff,#0030ff 15px,#003cff 31px,#0074ff 47px,#00d4ff 64px,#00d0ff 72px,#02e8f4 81px,#16ffe1 86px,#50ffa7 102px,#90ff66 111px,#8aff6d 120px,#9aff5d 128px,#ebff0c 151px,#feed00 153px,#ffb200 160px,#ffcc00 168px,#ffbd00 178px,#ff8900 191px,#ff8200 199px,#ff3800 206px,#ff2900 209px,#ff5500 217px,#ff5500 228px,#ff3b00 238px,#ff4300 246px,#ff1300 252px,#e40000 254px,#da0000 256px,#ed0400 259px,#ff1600 261px,#ff3800 265px,#ff4a00 274px,#ff4a00 289px,#ff6000 296px,#ff2900 306px,#ff7700 314px,#ffd300 345px,#ffb200 355px,#feed00 361px,#eeff09 363px,#8aff6d 393px,#90ff66 404px,#3cffba 417px,#16ffe1 430px,#00e4f8 438px,#00d0ff 443px,#00d8ff 452px,#009cff 464px,#0080ff 466px,#0058ff 478px,#0024ff"></i><i class=h2 style="--g:#005cff,#00d8ff 44px,#16ffe1 56px,#f8f500 133px,#ff6000 185px,#ff1600 234px,#ff1600 269px,#ff3400 295px,#ff8900 334px,#ffea00 365px,#eeff09 372px,#16ffe1 443px,#00e4f8 451px,#0080ff 482px,#0038ff"></i><i style="--g:#26ffd1,#26ffd1 12px,#7dff7a 35px,#a0ff56 51px,#94ff63 61px,#ceff29 70px,#eeff09 81px,#fbf100 83px,#ffd300 96px,#feed00 105px,#ffe200 108px,#ff9800 116px,#ff6800 128px,#ff4a00 145px,#ff7700 154px,#ff1a00 163px,#e80000 173px,#cd0000 189px,#e40000 193px,#ff1a00 196px,#ff1e00 201px,#da0000 204px,#9f0000 209px,#890000 222px,#960000 238px,#f10800 246px,#e80000 248px,#890000 255px,#800000 257px,#800000 267px,#9b0000 272px,#9f0000 281px,#b20000 284px,#e80000 288px,#ff1600 290px,#ff2200 292px,#fa0f00 295px,#c40000 299px,#b20000 302px,#c40000 313px,#e80000 319px,#ff1e00 331px,#ff6f00 339px,#ff3400 350px,#ff8900 374px,#ffe200 385px,#ffb900 393px,#ffb900 397px,#ffea00 409px,#eeff09 413px,#d1ff26 423px,#97ff60 432px,#adff49 444px,#2cffca 478px,#39ffbe 489px,#19ffde 501px,#00e0fb"></i><i style="--g:#13fce4,#06ecf1 2px,#0ff8e7 5px,#4dffaa 17px,#36ffc1 26px,#73ff83 35px,#87ff70 41px,#6aff8d 50px,#b1ff46 59px,#c1ff36 64px,#b1ff46 71px,#9dff5a 73px,#f8f500 85px,#dbff1c 96px,#ebff0c 99px,#ffcc00 103px,#ffae00 109px,#ffdb00 120px,#ff7e00 128px,#ff6c00 132px,#ff9f00 144px,#ff4700 151px,#ff3400 154px,#ff3400 158px,#ff6400 164px,#ff6800 168px,#fa0f00 175px,#e80000 178px,#f10800 182px,#ff4a00 189px,#ff3b00 192px,#ff1300 195px,#ed0400 196px,#c40000 199px,#b60000 203px,#d10000 207px,#fa0f00 210px,#ff2d00 213px,#ff1a00 216px,#e80000 218px,#a80000 222px,#9b0000 227px,#a80000 229px,#e40000 233px,#ff1600 236px,#ff1300 239px,#e40000 241px,#a80000 244px,#8d0000 247px,#a40000 251px,#ed0400 256px,#ff1300 260px,#e80000 262px,#a80000 266px,#920000 269px,#ad0000 275px,#df0000 278px,#ff1300 280px,#ff1300 285px,#e80000 287px,#a80000 292px,#b20000 296px,#df0000 300px,#ff1600 302px,#ff3000 304px,#ff3400 307px,#ff1600 311px,#e80000 313px,#d60000 316px,#e40000 320px,#ff1600 323px,#ff5900 328px,#ff5500 332px,#ff2900 337px,#ff2200 341px,#ff3800 345px,#ff6c00 349px,#ff8600 354px,#ff5900 364px,#ffbd00 377px,#ff9c00 388px,#ffb200 392px,#ffea00 397px,#f8f500 400px,#ffde00 409px,#ffea00 413px,#e7ff0f 417px,#caff2c 420px,#baff3c 425px,#ceff29 434px,#83ff73 444px,#94ff63 456px,#50ffa7 467px,#5aff9d 479px,#49ffad 484px,#19ffde 491px,#26ffd1 501px,#16ffe1 507px,#02e8f4"></i><i class=h2 style="--g:#0050ff,#009cff 8px,#0084ff 10px,#0070ff 15px,#00c4ff 23px,#00a0ff 28px,#00a0ff 32px,#00d4ff 36px,#0cf4eb 39px,#00c4ff 45px,#02e8f4 50px,#19ffde 52px,#36ffc1 55px,#0ff8e7 60px,#0ff8e7 63px,#5dff9a 71px,#33ffc4 78px,#83ff73 86px,#60ff97 91px,#60ff97 95px,#adff49 102px,#80ff77 109px,#90ff66 112px,#d7ff1f 118px,#a4ff53 125px,#f8f500 133px,#f8f500 135px,#c7ff30 140px,#eeff09 145px,#ffc400 150px,#f4f802 154px,#eeff09 158px,#ffe600 160px,#ffa300 165px,#ffe200 172px,#ffcc00 175px,#ff7e00 181px,#ffc400 188px,#ff6400 197px,#ffae00 203px,#ffab00 205px,#ff5500 211px,#ff4e00 213px,#ff9c00 219px,#ff9400 221px,#ff3f00 228px,#ff3f00 229px,#ff9100 235px,#ff8900 237px,#ff3b00 243px,#ff3f00 245px,#ff8600 250px,#ff8200 253px,#ff4a00 259px,#ff9100 266px,#ff3400 274px,#ff4300 276px,#ff9100 280px,#ff9800 282px,#ff4a00 288px,#ff4300 290px,#ffa300 297px,#ff9f00 299px,#ff5d00 304px,#ff5900 306px,#ffab00 311px,#ffb900 313px,#ff7300 321px,#ff7e00 323px,#ffc800 327px,#ffd300 329px,#ff9100 337px,#ffa300 339px,#ffea00 343px,#f8f500 345px,#ffb600 352px,#ffbd00 354px,#eeff09 358px,#dbff1c 361px,#ebff0c 364px,#ffde00 367px,#ffea00 370px,#e4ff13 372px,#baff3c 376px,#e4ff13 384px,#9aff5d 391px,#9aff5d 394px,#beff39 400px,#73ff83 407px,#94ff63 416px,#50ffa7 422px,#49ffad 424px,#6dff8a 430px,#6aff8d 432px,#29ffce 438px,#2cffca 443px,#46ffb1 446px,#1cffdb 451px,#00e4f8 455px,#19ffde 463px,#00e4f8 466px,#00b8ff 470px,#00bcff 474px,#00d8ff 478px,#008cff 487px,#00acff 494px,#0068ff 501px,#0068ff 505px,#0084ff 509px,#007cff"></i><i style="--g:#00a0ff,#0094ff 7px,#00b8ff 10px,#00b4ff 19px,#00d8ff 22px,#00dcfe 25px,#00d0ff 31px,#0cf4eb 34px,#13fce4 37px,#09f0ee 43px,#23ffd4 45px,#30ffc7 49px,#23ffd4 55px,#43ffb4 58px,#40ffb7 67px,#60ff97 71px,#5dff9a 79px,#73ff83 81px,#80ff77 85px,#77ff80 90px,#9aff5d 96px,#90ff66 102px,#b7ff40 108px,#aaff4d 114px,#d1ff26 120px,#c4ff33 126px,#e7ff0f 131px,#deff19 138px,#f8f500 141px,#ffea00 144px,#f4f802 150px,#ffd000 156px,#ffde00 161px,#ffbd00 166px,#ffc800 173px,#ffa700 179px,#ffb600 185px,#ff9100 191px,#ffa300 197px,#ff8200 203px,#ff9400 209px,#ff7700 214px,#ff8900 221px,#ff6c00 227px,#ff8200 233px,#ff6c00 237px,#ff7e00 245px,#ff6400 250px,#ff8600 257px,#ff7e00 268px,#ff6400 273px,#ff8600 280px,#ff6800 285px,#ff8900 290px,#ff7300 298px,#ff9400 302px,#ff8200 310px,#ffa300 314px,#ff9100 321px,#ffb600 327px,#ffa300 333px,#ffc800 338px,#ffb900 345px,#ffde00 350px,#ffd000 357px,#f4f802 362px,#ffea00 369px,#e1ff16 373px,#ebff0c 380px,#c7ff30 385px,#d1ff26 392px,#adff49 397px,#b7ff40 404px,#94ff63 409px,#9dff5a 416px,#80ff77 419px,#80ff77 428px,#60ff97 432px,#66ff90 440px,#4dffaa 442px,#43ffb4 445px,#4dffaa 451px,#29ffce 456px,#33ffc4 463px,#13fce4 467px,#16ffe1 475px,#00dcfe 479px,#00e4f8 487px,#00c0ff 490px,#00c8ff 499px,#00a8ff 501px,#00a0ff 503px,#00acff"></i><i style="--g:#53ffa4,#77ff80 14px,#6dff8a 19px,#b1ff46 41px,#c1ff36 51px,#b7ff40 57px,#d4ff23 61px,#d7ff1f 66px,#f1fc06 70px,#e7ff0f 75px,#ffea00 79px,#fbf100 83px,#ffc800 98px,#ffd700 105px,#ffb900 108px,#ff9400 117px,#ff9f00 122px,#ff8200 127px,#ff8d00 130px,#ff6f00 137px,#ff7a00 140px,#ff6800 146px,#ff7e00 151px,#ff3f00 164px,#ff4a00 170px,#ff3000 175px,#ff3f00 178px,#ff3000 184px,#ff4a00 189px,#ff2d00 193px,#ff2200 199px,#f60b00 201px,#ff1e00 207px,#ed0400 211px,#ff1a00 215px,#ed0400 221px,#ff1300 225px,#f10800 231px,#ff2900 236px,#f60b00 241px,#f60b00 245px,#df0000 248px,#f60b00 253px,#df0000 259px,#f60b00 263px,#ed0400 268px,#ff2900 273px,#fa0f00 278px,#ff1300 282px,#e40000 286px,#ff1600 290px,#f10800 297px,#ff2200 300px,#ff1300 306px,#ff2d00 310px,#ff2500 315px,#ff4e00 320px,#ff3000 334px,#ff4e00 339px,#ff4300 344px,#ff6000 348px,#ff5200 353px,#ff6f00 358px,#ff6c00 363px,#ff9800 369px,#ff8600 381px,#ffa300 385px,#ff9c00 391px,#ffb900 396px,#ffb900 401px,#ffe200 406px,#ffd700 419px,#f4f802 424px,#feed00 428px,#e1ff16 433px,#e7ff0f 438px,#ceff29 442px,#d1ff26 447px,#adff49 453px,#adff49 466px,#94ff63 471px,#83ff73 485px,#63ff94 490px,#63ff94 503px,#4dffaa"></i><i class=h2 style="--g:#5dff9a,#53ffa4 2px,#6dff8a 8px,#63ff94 11px,#7aff7d 15px,#73ff83 19px,#a7ff50 39px,#a0ff56 43px,#b7ff40 47px,#b1ff46 51px,#c7ff30 55px,#beff39 59px,#d7ff1f 63px,#ceff29 67px,#e4ff13 71px,#eeff09 83px,#feed00 86px,#fbf100 91px,#ffdb00 95px,#ffe600 97px,#ffcc00 102px,#ffd000 107px,#ffab00 118px,#ffb200 122px,#ff9c00 126px,#ffa700 128px,#ff8d00 134px,#ff9800 137px,#ff7e00 142px,#ff8900 145px,#ff7300 150px,#ff7e00 152px,#ff6800 158px,#ff7300 160px,#ff6000 165px,#ff4e00 192px,#ff3b00 197px,#ff4700 200px,#ff3400 205px,#ff4300 207px,#ff3000 213px,#ff3800 239px,#ff2900 244px,#ff5500 255px,#ff2500 265px,#ff2500 268px,#ff3b00 270px,#ff2500 274px,#ff2500 276px,#ff3f00 278px,#ff2900 284px,#ff4300 286px,#ff3000 292px,#ff4700 294px,#ff3400 299px,#ff4e00 302px,#ff3b00 307px,#ff5200 310px,#ff4e00 323px,#ff6000 325px,#ff5900 331px,#ff6c00 333px,#ff6000 338px,#ff7700 341px,#ff6c00 346px,#ff8200 349px,#ff7a00 355px,#ff9100 357px,#ff8600 362px,#ff9f00 365px,#ff8d00 367px,#ffab00 373px,#ff9c00 375px,#ffb900 381px,#ffab00 383px,#ffc400 389px,#ffc100 394px,#ffd300 396px,#ffe200 410px,#f8f500 412px,#ffea00 414px,#e7ff0f 420px,#f1fc06 423px,#d7ff1f 428px,#e4ff13 430px,#c7ff30 436px,#d4ff23 438px,#baff3c 444px,#c7ff30 446px,#adff49 452px,#b7ff40 454px,#9dff5a 460px,#a7ff50 462px,#8dff6a 468px,#97ff60 470px,#60ff97 491px,#6aff8d 493px,#50ffa7 499px,#5aff9d 502px,#3cffba 507px,#4dffaa 509px,#46ffb1"></i><i style="--g:#00c4ff,#00c4ff 10px,#06ecf1 15px,#00d4ff 24px,#09f0ee 27px,#19ffde 32px,#23ffd4 44px,#40ffb7 49px,#39ffbe 57px,#5dff9a 63px,#40ffb7 71px,#7dff7a 83px,#77ff80 91px,#90ff66 96px,#8aff6d 104px,#adff49 110px,#90ff66 118px,#c4ff33 128px,#c1ff36 138px,#deff19 144px,#c1ff36 152px,#f4f802 162px,#eeff09 171px,#fbf100 174px,#fbf100 185px,#ffd300 191px,#f1fc06 199px,#ffc400 209px,#ffd300 217px,#ffc100 223px,#ffcc00 233px,#ffb600 237px,#ffe200 246px,#ffb600 256px,#ffc800 264px,#ffb600 271px,#ffe600 280px,#ffbd00 291px,#ffd700 298px,#ffc800 303px,#ffe200 312px,#ffd300 318px,#feed00 323px,#eeff09 325px,#eeff09 330px,#ffe600 336px,#ebff0c 345px,#f1fc06 351px,#d4ff23 359px,#e1ff16 365px,#b4ff43 373px,#c4ff33 384px,#a7ff50 393px,#b1ff46 397px,#80ff77 407px,#90ff66 416px,#70ff87 426px,#6dff8a 436px,#56ffa0 440px,#5dff9a 445px,#33ffc4 454px,#3cffba 463px,#1cffdb 474px,#16ffe1 483px,#00dcfe 487px,#00e4f8 498px,#00c0ff 507px,#00c8ff"></i><i style="--g:#0cf4eb,#1cffdb 4px,#13fce4 8px,#26ffd1 10px,#19ffde 13px,#2cffca 16px,#23ffd4 19px,#36ffc1 22px,#2cffca 25px,#40ffb7 28px,#36ffc1 31px,#49ffad 34px,#40ffb7 37px,#53ffa4 40px,#49ffad 43px,#5dff9a 45px,#50ffa7 49px,#66ff90 51px,#5aff9d 55px,#70ff87 57px,#63ff94 61px,#7aff7d 63px,#6dff8a 67px,#83ff73 69px,#77ff80 73px,#8dff6a 75px,#8aff6d 84px,#a7ff50 93px,#a4ff53 102px,#beff39 110px,#b4ff43 114px,#c7ff30 116px,#baff3c 120px,#ceff29 122px,#c4ff33 126px,#d7ff1f 128px,#caff2c 132px,#e1ff16 134px,#d1ff26 138px,#e7ff0f 140px,#dbff1c 144px,#eeff09 146px,#e7ff0f 156px,#fbf100 158px,#f1fc06 162px,#ffea00 164px,#f4f802 167px,#ffde00 176px,#feed00 179px,#ffd700 182px,#ffe600 185px,#ffd300 189px,#ffe200 191px,#ffd000 193px,#ffde00 197px,#ffc800 199px,#ffdb00 203px,#ffc400 205px,#ffd700 209px,#ffc100 211px,#ffd300 215px,#ffbd00 217px,#ffd000 221px,#ffb900 223px,#ffcc00 227px,#ffb900 229px,#ffc800 233px,#ffb600 235px,#ffc400 238px,#ffb600 248px,#ffc400 250px,#ffb200 253px,#ffc400 256px,#ffb200 259px,#ffc400 262px,#ffb200 265px,#ffc400 268px,#ffb600 272px,#ffc800 274px,#ffb600 278px,#ffc800 280px,#ffb900 284px,#ffcc00 286px,#ffb900 290px,#ffd000 292px,#ffbd00 294px,#ffd000 298px,#ffc100 300px,#ffd300 304px,#ffc400 307px,#ffd700 310px,#ffc800 313px,#ffdb00 316px,#ffcc00 318px,#ffde00 322px,#ffd000 325px,#ffe200 327px,#ffd700 331px,#ffea00 333px,#ffdb00 337px,#fbf100 339px,#ffe200 343px,#f4f802 345px,#ffe600 349px,#eeff09 351px,#feed00 355px,#e7ff0f 357px,#f8f500 361px,#e1ff16 363px,#f1fc06 367px,#dbff1c 369px,#ebff0c 372px,#d4ff23 375px,#e4ff13 378px,#ceff29 381px,#dbff1c 384px,#c7ff30 387px,#d4ff23 389px,#c1ff36 393px,#ceff29 396px,#baff3c 398px,#c4ff33 402px,#b1ff46 405px,#beff39 408px,#aaff4d 410px,#b4ff43 414px,#a0ff56 416px,#adff49 420px,#97ff60 422px,#a4ff53 426px,#8dff6a 428px,#9aff5d 432px,#83ff73 434px,#94ff63 438px,#7aff7d 440px,#87ff70 444px,#70ff87 446px,#80ff77 449px,#6aff8d 452px,#77ff80 455px,#60ff97 458px,#6dff8a 461px,#56ffa0 464px,#63ff94 467px,#4dffaa 470px,#5aff9d 472px,#46ffb1 476px,#53ffa4 479px,#3cffba 481px,#49ffad 485px,#33ffc4 487px,#40ffb7 491px,#29ffce 493px,#36ffc1 497px,#1fffd7 499px,#2cffca 503px,#16ffe1 505px,#23ffd4 509px,#0cf4eb"></i><i class=h2 style="--g:#aaff4d,#a4ff53 7px,#c7ff30 14px,#baff3c 23px,#e1ff16 30px,#d1ff26 39px,#f8f500 45px,#eeff09 56px,#ffe600 60px,#ffd700 61px,#feed00 65px,#feed00 71px,#ffc100 77px,#ffd700 81px,#ffd700 86px,#ffab00 93px,#ffc100 102px,#ff9400 108px,#ffae00 118px,#ff9c00 122px,#ff7e00 124px,#ff9800 128px,#ff9c00 134px,#ff8900 136px,#ff8d00 138px,#ff6c00 140px,#ff8600 144px,#ff8900 148px,#ff7a00 154px,#ff5d00 156px,#ff7700 160px,#ff7a00 166px,#ff4e00 172px,#ff7300 180px,#ff6400 185px,#ff4300 187px,#ff5d00 191px,#ff6800 197px,#ff5900 201px,#ff3800 203px,#ff5500 207px,#ff6000 213px,#ff5200 217px,#ff3000 219px,#ff5200 223px,#ff5d00 227px,#ff4a00 233px,#ff3000 235px,#ff6000 243px,#ff4e00 248px,#ff3000 251px,#ff6400 258px,#ff6f00 264px,#ff5200 266px,#ff5900 270px,#ff3b00 278px,#ff6000 284px,#ff4300 292px,#ff6800 300px,#ff4e00 308px,#ff6f00 316px,#ff5900 324px,#ff7e00 333px,#ff6800 339px,#ff8d00 348px,#ff7700 356px,#ff9c00 363px,#ff8900 372px,#ffb200 379px,#ff9c00 387px,#ffc400 395px,#ffb200 403px,#ffdb00 411px,#ffc400 418px,#f8f500 427px,#ffdb00 434px,#ffea00 436px,#eeff09 440px,#e4ff13 444px,#f4f802 450px,#ceff29 458px,#dbff1c 466px,#baff3c 473px,#c4ff33 481px,#a0ff56 490px,#aaff4d 497px,#8aff6d 505px,#8aff6d"></i><i style="--g:#77ff80,#73ff83 2px,#90ff66 5px,#77ff80 11px,#83ff73 14px,#7aff7d 21px,#adff49 29px,#90ff66 35px,#a0ff56 37px,#90ff66 39px,#9dff5a 43px,#90ff66 45px,#adff49 47px,#a7ff50 49px,#c4ff33 51px,#caff2c 53px,#b7ff40 55px,#beff39 57px,#a7ff50 59px,#beff39 61px,#aaff4d 63px,#aaff4d 69px,#caff2c 71px,#c4ff33 73px,#e4ff13 76px,#c1ff36 83px,#d4ff23 85px,#c1ff36 87px,#ceff29 90px,#c4ff33 92px,#e1ff16 95px,#e1ff16 97px,#feed00 100px,#eeff09 102px,#d7ff1f 106px,#e7ff0f 108px,#d4ff23 116px,#f4f802 118px,#eeff09 120px,#ffd700 123px,#feed00 128px,#e4ff13 130px,#ffea00 132px,#e7ff0f 134px,#f4f802 138px,#e4ff13 140px,#ffde00 142px,#ffea00 144px,#ffc100 147px,#ffdb00 152px,#f8f500 154px,#ffde00 156px,#f8f500 158px,#f8f500 163px,#ffb200 170px,#ffc800 175px,#ffe200 177px,#ffd000 179px,#ffe600 182px,#ffdb00 185px,#ffea00 187px,#ffc400 189px,#ffc800 191px,#ffa700 194px,#ffbd00 199px,#ffdb00 201px,#ffc100 203px,#ffdb00 205px,#ffd000 209px,#ffe200 211px,#ffb600 213px,#ffc100 215px,#ff9c00 217px,#ffb900 223px,#ffd300 225px,#ffb900 227px,#ffd700 229px,#ffc400 231px,#ffd700 235px,#ffb200 237px,#ffb900 239px,#ffa300 240px,#ff9c00 242px,#ffd000 248px,#ffbd00 250px,#ffd300 253px,#ffc400 255px,#ffde00 258px,#ffc100 260px,#ffc800 262px,#ffb600 265px,#ffdb00 268px,#ffde00 272px,#ffb600 274px,#ffbd00 276px,#ff9800 278px,#ff9f00 280px,#ffbd00 282px,#ffb900 284px,#ffd300 286px,#ffb900 288px,#ffdb00 290px,#ffe600 292px,#ffe600 296px,#ffb900 298px,#ffc100 300px,#ffa300 302px,#ffde00 310px,#ffcc00 312px,#feed00 315px,#ffea00 320px,#ffc800 322px,#ffd000 323px,#ffb200 326px,#ffea00 333px,#ffde00 336px,#eeff09 339px,#f8f500 341px,#ebff0c 343px,#ffdb00 345px,#ffe200 347px,#ffc400 349px,#ffea00 353px,#ffe600 355px,#eeff09 357px,#ffea00 359px,#e1ff16 362px,#dbff1c 367px,#feed00 369px,#f4f802 371px,#ffd700 373px,#ffe600 375px,#eeff09 377px,#dbff1c 381px,#ebff0c 383px,#caff2c 387px,#ceff29 391px,#e7ff0f 393px,#e4ff13 395px,#f8f500 397px,#c7ff30 404px,#d1ff26 407px,#b1ff46 410px,#b1ff46 414px,#ceff29 416px,#c7ff30 418px,#deff19 420px,#aaff4d 428px,#beff39 430px,#97ff60 434px,#a4ff53 436px,#97ff60 438px,#b7ff40 440px,#aaff4d 442px,#c4ff33 444px,#a0ff56 448px,#a4ff53 450px,#90ff66 452px,#a0ff56 454px,#7dff7a 458px,#80ff77 462px,#9aff5d 464px,#a4ff53 468px,#77ff80 475px,#80ff77 478px,#60ff97 481px,#60ff97 485px,#7aff7d 487px,#73ff83 489px,#87ff70 491px,#56ffa0 499px,#66ff90 501px,#43ffb4 505px,#50ffa7 507px,#43ffb4 509px,#60ff97"></i><i style="--g:#0068ff,#00b0ff 10px,#00bcff 14px,#00acff 19px,#0088ff 22px,#008cff 24px,#00d8ff 35px,#00c8ff 39px,#00a0ff 43px,#00a0ff 47px,#00d4ff 55px,#13fce4 61px,#00e4f8 67px,#00bcff 69px,#00d8ff 74px,#19ffde 79px,#26ffd1 83px,#13fce4 87px,#00d8ff 90px,#00dcfe 96px,#19ffde 101px,#40ffb7 108px,#2cffca 114px,#06ecf1 117px,#06ecf1 120px,#16ffe1 123px,#4dffaa 130px,#5aff9d 134px,#3cffba 140px,#1cffdb 142px,#1cffdb 144px,#5aff9d 152px,#66ff90 156px,#26ffd1 164px,#26ffd1 167px,#77ff80 181px,#5dff9a 187px,#3cffba 189px,#39ffbe 191px,#77ff80 199px,#83ff73 203px,#6dff8a 207px,#40ffb7 211px,#3cffba 213px,#8dff6a 228px,#70ff87 234px,#49ffad 238px,#8aff6d 247px,#90ff66 251px,#50ffa7 258px,#49ffad 261px,#94ff63 276px,#46ffb1 286px,#56ffa0 291px,#8dff6a 298px,#94ff63 302px,#4dffaa 310px,#4dffaa 312px,#80ff77 319px,#8aff6d 324px,#3cffba 333px,#83ff73 349px,#3cffba 358px,#70ff87 367px,#77ff80 371px,#29ffce 381px,#66ff90 396px,#53ffa4 400px,#19ffde 406px,#4dffaa 418px,#53ffa4 423px,#0ff8e7 432px,#3cffba 440px,#40ffb7 444px,#16ffe1 450px,#00dcfe 453px,#02e8f4 459px,#16ffe1 463px,#26ffd1 470px,#16ffe1 473px,#00c8ff 479px,#0ff8e7 488px,#0ff8e7 492px,#00d8ff 496px,#00a8ff 501px,#00ccff"></i><i class=h2 style="--g:#36ffc1,#4dffaa 2px,#3cffba 4px,#50ffa7 6px,#40ffb7 8px,#53ffa4 10px,#46ffb1 12px,#56ffa0 14px,#49ffad 15px,#5aff9d 18px,#4dffaa 20px,#5dff9a 21px,#50ffa7 24px,#60ff97 26px,#53ffa4 27px,#66ff90 29px,#56ffa0 31px,#6aff8d 33px,#56ffa0 35px,#6dff8a 37px,#5dff9a 39px,#70ff87 41px,#60ff97 43px,#77ff80 45px,#60ff97 47px,#7aff7d 49px,#63ff94 51px,#80ff77 53px,#66ff90 55px,#83ff73 57px,#6aff8d 59px,#87ff70 61px,#6dff8a 63px,#8aff6d 65px,#70ff87 67px,#8dff6a 69px,#73ff83 71px,#90ff66 73px,#77ff80 75px,#90ff66 77px,#7dff7a 79px,#94ff63 81px,#80ff77 83px,#97ff60 85px,#83ff73 87px,#97ff60 89px,#87ff70 91px,#9aff5d 93px,#8dff6a 94px,#9dff5a 100px,#90ff66 102px,#a0ff56 104px,#97ff60 107px,#a7ff50 108px,#97ff60 110px,#aaff4d 112px,#9aff5d 114px,#adff49 116px,#9dff5a 118px,#b4ff43 120px,#9dff5a 122px,#b7ff40 124px,#a0ff56 126px,#baff3c 128px,#a4ff53 130px,#beff39 132px,#a7ff50 134px,#c4ff33 136px,#aaff4d 138px,#c4ff33 140px,#aaff4d 142px,#c4ff33 144px,#adff49 146px,#c7ff30 148px,#b1ff46 150px,#c7ff30 152px,#b4ff43 154px,#caff2c 156px,#b7ff40 158px,#caff2c 160px,#b7ff40 162px,#caff2c 164px,#beff39 166px,#d1ff26 168px,#c1ff36 170px,#d4ff23 172px,#c4ff33 173px,#d7ff1f 176px,#c7ff30 177px,#dbff1c 179px,#caff2c 181px,#deff19 183px,#caff2c 185px,#e1ff16 187px,#caff2c 189px,#e1ff16 191px,#caff2c 193px,#e4ff13 195px,#ceff29 197px,#e7ff0f 199px,#ceff29 201px,#e7ff0f 203px,#ceff29 205px,#ebff0c 207px,#ceff29 209px,#eeff09 211px,#d1ff26 213px,#ebff0c 215px,#d1ff26 217px,#eeff09 219px,#d4ff23 221px,#eeff09 223px,#d4ff23 225px,#ebff0c 227px,#d4ff23 229px,#ebff0c 231px,#d4ff23 233px,#ebff0c 235px,#d7ff1f 237px,#ebff0c 239px,#d7ff1f 241px,#e7ff0f 243px,#d4ff23 244px,#dbff1c 246px,#c1ff36 248px,#beff39 250px,#83ff73 256px,#94ff63 258px,#8aff6d 260px,#adff49 262px,#b1ff46 264px,#dbff1c 266px,#deff19 267px,#e4ff13 270px,#d4ff23 272px,#e4ff13 274px,#d4ff23 276px,#e4ff13 278px,#d4ff23 280px,#e4ff13 282px,#d4ff23 284px,#e4ff13 286px,#d4ff23 288px,#e4ff13 290px,#d4ff23 292px,#e4ff13 294px,#d1ff26 296px,#e1ff16 298px,#d1ff26 300px,#e1ff16 306px,#d1ff26 308px,#deff19 310px,#d1ff26 312px,#deff19 318px,#ceff29 331px,#dbff1c 333px,#caff2c 339px,#d7ff1f 345px,#c4ff33 351px,#d4ff23 357px,#c1ff36 359px,#d4ff23 361px,#c1ff36 363px,#d1ff26 365px,#beff39 367px,#ceff29 373px,#baff3c 379px,#c7ff30 385px,#aaff4d 410px,#b7ff40 412px,#a7ff50 414px,#b4ff43 416px,#a4ff53 418px,#b1ff46 420px,#a0ff56 422px,#b1ff46 424px,#a0ff56 426px,#adff49 428px,#9aff5d 434px,#aaff4d 436px,#97ff60 438px,#a7ff50 440px,#94ff63 442px,#a4ff53 444px,#94ff63 446px,#a0ff56 448px,#90ff66 450px,#9aff5d 456px,#87ff70 462px,#83ff73 487px,#70ff87 493px,#7dff7a 495px,#6dff8a 497px,#77ff80 503px,#63ff94 505px,#73ff83 507px,#63ff94 509px,#70ff87"></i><i style="--g:#f4f802,#feed00 6px,#ffae00 12px,#feed00 24px,#ff8900 35px,#ff9400 40px,#ffcc00 49px,#ffc100 53px,#ff7700 60px,#ffc100 71px,#ffab00 75px,#ff6400 81px,#ff6400 83px,#ffab00 93px,#ff9c00 96px,#ff4e00 102px,#ff4300 104px,#ff5200 109px,#ff9c00 118px,#ff8900 122px,#ff3b00 128px,#ff3b00 130px,#ff7e00 138px,#ff8600 141px,#ff7a00 144px,#ff1e00 151px,#ff2d00 156px,#ff7a00 165px,#ff6400 170px,#ff1a00 176px,#ff7700 188px,#ff6800 191px,#fa0f00 197px,#f10800 199px,#fa0f00 202px,#ff6800 213px,#ff5d00 217px,#f60b00 223px,#ff6f00 235px,#ff6000 238px,#fa0f00 245px,#ff1a00 248px,#ff6800 257px,#ff6000 260px,#ff1e00 265px,#e80000 268px,#ff2900 275px,#ff7700 282px,#ff6400 286px,#ff1300 292px,#ff2500 296px,#ff6c00 303px,#ff6c00 307px,#f60b00 315px,#ff3400 322px,#ff7e00 329px,#ff7700 333px,#ff2500 340px,#ff3f00 344px,#ff8d00 351px,#ff8200 355px,#ff5200 359px,#ff2900 361px,#ff2900 363px,#ff3b00 367px,#ff9400 377px,#ff8d00 381px,#ff4700 387px,#ff5d00 391px,#ffae00 399px,#ff9c00 403px,#ff5900 408px,#ff5200 411px,#ffbd00 424px,#ffb900 428px,#ff7300 434px,#ff8600 438px,#ffdb00 446px,#ffcc00 450px,#ff8d00 456px,#ff9f00 460px,#ffe200 467px,#ffe600 471px,#ff9c00 479px,#ffb900 485px,#f1fc06 492px,#ebff0c 497px,#ffe600 499px,#ffe200 501px,#ffc400 503px,#f1fc06"></i><i style="--g:#9aff5d,#9dff5a 2px,#d4ff23 8px,#beff39 10px,#deff19 17px,#adff49 21px,#a7ff50 23px,#c4ff33 29px,#e1ff16 31px,#caff2c 34px,#f1fc06 41px,#c1ff36 44px,#b4ff43 47px,#d4ff23 53px,#f4f802 55px,#d7ff1f 57px,#f1fc06 63px,#ffea00 65px,#d4ff23 67px,#c4ff33 71px,#e7ff0f 77px,#ffea00 79px,#e4ff13 81px,#f8f500 84px,#ffe600 89px,#eeff09 90px,#ceff29 94px,#ebff0c 100px,#ffde00 102px,#f1fc06 105px,#ffd000 112px,#f1fc06 114px,#d7ff1f 118px,#e7ff0f 121px,#fbf100 124px,#ffcc00 126px,#fbf100 128px,#ffc100 136px,#f4f802 138px,#dbff1c 142px,#e4ff13 144px,#ffea00 146px,#ffe600 148px,#ffc400 150px,#ffea00 152px,#ffbd00 159px,#ffc100 160px,#f8f500 162px,#e7ff0f 167px,#ffea00 169px,#ffc400 173px,#ffde00 176px,#ffb600 183px,#feed00 186px,#eeff09 191px,#ffde00 193px,#ffde00 195px,#ffb900 197px,#ffdb00 199px,#ffae00 207px,#ffea00 209px,#e7ff0f 213px,#ffea00 216px,#ffdb00 219px,#ffb600 221px,#ffde00 223px,#ffb600 231px,#ffea00 233px,#eeff09 238px,#ffe200 240px,#ffc100 244px,#ffdb00 247px,#ffb200 254px,#feed00 257px,#ebff0c 260px,#ffea00 264px,#fbf100 266px,#ffd700 268px,#ebff0c 270px,#f1fc06 274px,#ffbd00 278px,#ffe600 280px,#ffcc00 282px,#ffd700 284px,#ffb900 288px,#f8f500 290px,#ffde00 292px,#f1fc06 293px,#deff19 294px,#ebff0c 298px,#ffc800 302px,#ffea00 304px,#ffd300 306px,#ffdb00 308px,#ffc400 311px,#f4f802 314px,#fbf100 316px,#e1ff16 317px,#d7ff1f 318px,#e7ff0f 322px,#ffd300 325px,#fbf100 328px,#ffcc00 335px,#f1fc06 337px,#f8f500 339px,#d1ff26 341px,#d7ff1f 345px,#feed00 348px,#ffdb00 349px,#eeff09 351px,#ffea00 353px,#f8f500 355px,#ffd700 359px,#f8f500 360px,#deff19 361px,#f1fc06 363px,#c1ff36 365px,#ceff29 369px,#e7ff0f 371px,#ffe600 373px,#eeff09 374px,#e1ff16 375px,#f4f802 377px,#ebff0c 379px,#ffea00 382px,#feed00 383px,#d4ff23 385px,#deff19 387px,#b7ff40 389px,#c4ff33 393px,#f1fc06 396px,#d7ff1f 399px,#f4f802 406px,#ceff29 408px,#aaff4d 412px,#baff3c 417px,#e4ff13 420px,#c7ff30 422px,#e7ff0f 430px,#b7ff40 432px,#b4ff43 434px,#97ff60 436px,#aaff4d 438px,#a4ff53 440px,#d4ff23 444px,#b4ff43 446px,#d4ff23 453px,#d1ff26 454px,#a4ff53 456px,#8aff6d 460px,#97ff60 464px,#beff39 467px,#a7ff50 470px,#c1ff36 477px,#9dff5a 479px,#7dff7a 483px,#80ff77 487px,#adff49 491px,#94ff63 493px,#adff49 501px,#83ff73 503px,#87ff70 505px,#66ff90 507px,#77ff80 509px,#6dff8a"></i><i class=h2 style="--g:#00d0ff,#0cf4eb 4px,#02e8f4 6px,#13fce4 8px,#00c8ff 12px,#16ffe1 23px,#0ff8e7 25px,#00d0ff 28px,#00e0fb 29px,#02e8f4 33px,#19ffde 35px,#13fce4 41px,#00d8ff 43px,#16ffe1 50px,#26ffd1 55px,#19ffde 57px,#00dcfe 59px,#1fffd7 66px,#1cffdb 69px,#2cffca 71px,#1cffdb 73px,#00e4f8 75px,#16ffe1 80px,#33ffc4 87px,#09f0ee 91px,#30ffc7 98px,#36ffc1 103px,#0ff8e7 107px,#3cffba 118px,#0ff8e7 122px,#43ffb4 134px,#13fce4 138px,#43ffb4 146px,#36ffc1 148px,#43ffb4 150px,#19ffde 154px,#43ffb4 162px,#46ffb1 166px,#1cffdb 170px,#43ffb4 177px,#49ffad 182px,#23ffd4 186px,#4dffaa 197px,#43ffb4 199px,#1fffd7 201px,#49ffad 209px,#3cffba 211px,#50ffa7 213px,#1fffd7 217px,#49ffad 225px,#40ffb7 227px,#4dffaa 229px,#23ffd4 233px,#49ffad 241px,#43ffb4 245px,#0ff8e7 249px,#0cf4eb 253px,#53ffa4 262px,#43ffb4 264px,#49ffad 267px,#1cffdb 270px,#2cffca 274px,#49ffad 276px,#50ffa7 282px,#19ffde 286px,#2cffca 290px,#49ffad 292px,#40ffb7 296px,#4dffaa 298px,#19ffde 302px,#46ffb1 308px,#49ffad 314px,#19ffde 318px,#43ffb4 324px,#46ffb1 329px,#16ffe1 334px,#40ffb7 340px,#36ffc1 343px,#43ffb4 345px,#36ffc1 347px,#0ff8e7 349px,#40ffb7 357px,#30ffc7 359px,#40ffb7 361px,#1cffdb 364px,#09f0ee 365px,#1cffdb 367px,#39ffbe 373px,#2cffca 375px,#39ffbe 377px,#16ffe1 380px,#09f0ee 381px,#33ffc4 388px,#33ffc4 393px,#06ecf1 397px,#2cffca 404px,#29ffce 409px,#00e4f8 413px,#29ffce 420px,#19ffde 426px,#00d8ff 428px,#06ecf1 432px,#23ffd4 436px,#16ffe1 441px,#00d4ff 444px,#00e4f8 448px,#16ffe1 450px,#16ffe1 456px,#00ccff 460px,#0ff8e7 468px,#0cf4eb 472px,#00c4ff 476px,#09f0ee 483px,#02e8f4 488px,#00bcff 491px,#00c4ff 495px,#00e4f8 499px,#00e0fb 503px,#00acff 507px,#00b8ff"></i><i style="--g:#9dff5a,#b4ff43 2px,#8dff6a 4px,#b7ff40 8px,#90ff66 10px,#b7ff40 14px,#94ff63 16px,#baff3c 20px,#9aff5d 22px,#c1ff36 25px,#9dff5a 28px,#c4ff33 31px,#a0ff56 34px,#caff2c 37px,#a4ff53 39px,#a4ff53 40px,#ceff29 43px,#a7ff50 45px,#a7ff50 46px,#d4ff23 49px,#a7ff50 51px,#b4ff43 53px,#d7ff1f 55px,#a7ff50 57px,#dbff1c 61px,#aaff4d 63px,#dbff1c 67px,#adff49 69px,#deff19 73px,#b1ff46 75px,#deff19 79px,#b4ff43 81px,#deff19 85px,#b7ff40 87px,#deff19 90px,#deff19 91px,#baff3c 93px,#e1ff16 96px,#beff39 99px,#e4ff13 102px,#e1ff16 103px,#c1ff36 105px,#ebff0c 108px,#c7ff30 110px,#caff2c 112px,#eeff09 114px,#c7ff30 116px,#c7ff30 117px,#f1fc06 120px,#c7ff30 122px,#c7ff30 123px,#f4f802 126px,#c7ff30 128px,#d1ff26 130px,#f8f500 132px,#c7ff30 134px,#d4ff23 136px,#fbf100 138px,#caff2c 140px,#d7ff1f 142px,#fbf100 144px,#caff2c 146px,#fbf100 150px,#ceff29 152px,#fbf100 156px,#d1ff26 158px,#fbf100 162px,#d1ff26 164px,#fbf100 167px,#fbf100 168px,#d4ff23 170px,#e7ff0f 172px,#feed00 173px,#d7ff1f 176px,#ebff0c 178px,#feed00 179px,#d7ff1f 182px,#eeff09 184px,#ffea00 185px,#dbff1c 188px,#f1fc06 190px,#ffe600 191px,#dbff1c 194px,#f4f802 196px,#ffe200 197px,#f8f500 198px,#deff19 199px,#e4ff13 201px,#ffde00 203px,#f4f802 204px,#dbff1c 205px,#e4ff13 207px,#ffdb00 209px,#f4f802 210px,#dbff1c 211px,#e7ff0f 213px,#ffdb00 215px,#deff19 217px,#ebff0c 219px,#ffdb00 221px,#f1fc06 222px,#deff19 223px,#ebff0c 225px,#ffde00 227px,#f1fc06 228px,#deff19 229px,#eeff09 231px,#ffde00 233px,#f1fc06 234px,#e1ff16 235px,#f1fc06 237px,#ffe200 239px,#eeff09 240px,#e1ff16 241px,#f4f802 243px,#ffe200 244px,#ffe200 245px,#eeff09 246px,#e7ff0f 248px,#ffde00 250px,#ebff0c 252px,#e7ff0f 254px,#ffde00 256px,#ebff0c 258px,#ebff0c 260px,#ffdb00 262px,#ffea00 263px,#e7ff0f 264px,#ebff0c 266px,#ffd700 268px,#ffea00 269px,#e7ff0f 270px,#ebff0c 272px,#ffd700 274px,#feed00 275px,#e4ff13 276px,#ebff0c 278px,#ffd300 280px,#feed00 281px,#e4ff13 282px,#ebff0c 284px,#ffd300 286px,#e1ff16 288px,#eeff09 290px,#ffd700 292px,#e4ff13 294px,#eeff09 296px,#ffd700 298px,#e4ff13 300px,#eeff09 302px,#ffdb00 304px,#e4ff13 306px,#f1fc06 308px,#ffde00 310px,#f1fc06 311px,#e4ff13 312px,#f1fc06 314px,#ffe200 315px,#ffe200 316px,#f1fc06 317px,#e7ff0f 319px,#ffe200 321px,#ffe200 322px,#eeff09 323px,#e7ff0f 325px,#ffe200 327px,#ebff0c 329px,#e7ff0f 331px,#ffde00 333px,#ffea00 334px,#e7ff0f 335px,#e1ff16 336px,#f4f802 338px,#ffde00 339px,#feed00 340px,#e4ff13 341px,#e4ff13 343px,#ffde00 345px,#e4ff13 347px,#e4ff13 349px,#ffde00 351px,#e1ff16 353px,#e4ff13 355px,#ffdb00 357px,#f8f500 358px,#deff19 359px,#e4ff13 361px,#ffde00 363px,#f4f802 364px,#dbff1c 365px,#e4ff13 367px,#ffe200 369px,#f1fc06 370px,#dbff1c 371px,#e4ff13 373px,#ffe600 375px,#eeff09 376px,#dbff1c 377px,#ffea00 381px,#ebff0c 382px,#dbff1c 384px,#feed00 387px,#d7ff1f 389px,#fbf100 392px,#fbf100 393px,#d7ff1f 395px,#fbf100 398px,#f8f500 399px,#d4ff23 401px,#fbf100 404px,#d4ff23 407px,#fbf100 410px,#d7ff1f 412px,#d4ff23 414px,#fbf100 416px,#d1ff26 419px,#f8f500 422px,#d1ff26 424px,#d1ff26 426px,#f8f500 428px,#ceff29 430px,#d1ff26 432px,#f8f500 434px,#caff2c 436px,#ceff29 438px,#f4f802 440px,#c7ff30 442px,#ceff29 444px,#f1fc06 446px,#c7ff30 448px,#ceff29 450px,#eeff09 452px,#c4ff33 454px,#e7ff0f 458px,#c4ff33 460px,#e4ff13 464px,#c1ff36 466px,#c1ff36 467px,#e1ff16 470px,#beff39 472px,#deff19 475px,#baff3c 478px,#deff19 481px,#c1ff36 483px,#baff3c 485px,#deff19 487px,#b7ff40 490px,#b7ff40 491px,#dbff1c 493px,#baff3c 495px,#b4ff43 497px,#dbff1c 499px,#b1ff46 502px,#d7ff1f 505px,#b1ff46 507px,#b1ff46 509px,#d7ff1f"></i><i class=h2 style="--g:#ff5d00,#ff7700 10px,#ff4a00 16px,#ff6c00 19px,#ff7300 24px,#ff4300 29px,#ff6800 33px,#ff4700 39px,#ff2500 41px,#ff1a00 43px,#ff6000 53px,#ff5900 59px,#ff2d00 63px,#ff5500 67px,#ff5d00 71px,#ff2d00 77px,#ff4e00 81px,#ff3400 86px,#ed0400 90px,#ed0400 92px,#ff2200 94px,#ff4a00 101px,#ff4300 106px,#ff1a00 110px,#ff4300 114px,#ff4a00 118px,#ff1a00 124px,#ff3f00 128px,#ff2900 130px,#ff1e00 134px,#df0000 136px,#df0000 140px,#ff1e00 142px,#ff1a00 144px,#ff3f00 148px,#ff3400 154px,#f60b00 158px,#ff3800 162px,#ff3b00 166px,#fa0f00 171px,#ff2d00 175px,#ff1300 181px,#d60000 183px,#c80000 185px,#cd0000 187px,#ff1300 190px,#ff1600 192px,#ff3800 195px,#ff2d00 201px,#ff1600 203px,#e80000 205px,#ff1600 207px,#ff2d00 209px,#ff2d00 215px,#ed0400 219px,#ff2900 223px,#ff1300 228px,#bf0000 232px,#cd0000 235px,#f60b00 237px,#ff1600 240px,#ff3400 243px,#ff2d00 248px,#ed0400 252px,#ff2500 256px,#ff2d00 260px,#ff1300 264px,#e80000 266px,#ff2d00 270px,#ff3000 275px,#fa0f00 280px,#ff3000 284px,#ff1300 288px,#f60b00 290px,#c80000 292px,#bf0000 294px,#cd0000 296px,#fa0f00 298px,#ff1300 301px,#ff3400 304px,#ff2900 310px,#f10800 314px,#ff3400 318px,#ff3800 322px,#f60b00 327px,#ff3400 331px,#ff1600 337px,#c80000 341px,#d10000 343px,#e80000 344px,#ff1300 345px,#ff1300 347px,#ff3b00 351px,#ff3800 357px,#fa0f00 361px,#ff3b00 365px,#ff4300 369px,#ff1600 375px,#ff3f00 379px,#ff1e00 385px,#e40000 387px,#df0000 390px,#ff1a00 392px,#ff4a00 399px,#ff4700 404px,#ff2200 408px,#ff4e00 413px,#ff5200 417px,#ff2d00 422px,#ff5200 426px,#ff3800 432px,#ff1300 434px,#f60b00 436px,#ff1600 438px,#ff3b00 440px,#ff3b00 442px,#ff6000 446px,#ff5d00 451px,#ff3800 456px,#ff6800 460px,#ff6800 464px,#ff4700 469px,#ff6400 474px,#ff5200 479px,#ff2500 483px,#ff7a00 493px,#ff7700 499px,#ff5200 503px,#ff7e00 507px,#ff8200"></i><i style="--g:#16ffe1,#06ecf1 4px,#26ffd1 6px,#06ecf1 11px,#26ffd1 14px,#06ecf1 19px,#26ffd1 22px,#06ecf1 27px,#26ffd1 30px,#06ecf1 35px,#26ffd1 37px,#06ecf1 43px,#26ffd1 45px,#06ecf1 51px,#29ffce 53px,#02e8f4 59px,#16ffe1 60px,#29ffce 61px,#06ecf1 67px,#29ffce 69px,#09f0ee 74px,#26ffd1 77px,#09f0ee 83px,#29ffce 85px,#06ecf1 90px,#26ffd1 93px,#06ecf1 98px,#26ffd1 101px,#02e8f4 106px,#26ffd1 109px,#02e8f4 114px,#23ffd4 116px,#00e4f8 122px,#26ffd1 124px,#00e0fb 130px,#13fce4 131px,#26ffd1 132px,#00e0fb 138px,#13fce4 139px,#26ffd1 140px,#00e4f8 146px,#16ffe1 147px,#26ffd1 148px,#00e4f8 153px,#00e4f8 154px,#16ffe1 155px,#23ffd4 156px,#02e8f4 161px,#23ffd4 164px,#00e0fb 169px,#1fffd7 172px,#00dcfe 177px,#19ffde 179px,#1cffdb 180px,#00d8ff 185px,#02e8f4 186px,#1cffdb 187px,#1cffdb 188px,#00d4ff 193px,#1cffdb 195px,#00d4ff 201px,#1fffd7 203px,#19ffde 204px,#00d0ff 209px,#23ffd4 211px,#00e0fb 215px,#00d0ff 217px,#1fffd7 219px,#02e8f4 222px,#00d4ff 225px,#1fffd7 227px,#00d4ff 232px,#00d8ff 233px,#0ff8e7 234px,#1cffdb 235px,#00d8ff 240px,#1cffdb 243px,#02e8f4 245px,#00bcff 248px,#00e0fb 250px,#00e0fb 251px,#0088ff 256px,#00bcff 258px,#00a8ff 262px,#00b0ff 264px,#00d8ff 265px,#1cffdb 266px,#26ffd1 267px,#13fce4 270px,#00c0ff 272px,#00dcfe 273px,#19ffde 274px,#13fce4 277px,#0cf4eb 278px,#00b8ff 280px,#00e0fb 281px,#1cffdb 282px,#13fce4 285px,#00b8ff 288px,#00e4f8 289px,#1fffd7 290px,#0ff8e7 293px,#00bcff 296px,#02e8f4 297px,#1fffd7 298px,#0ff8e7 301px,#00bcff 304px,#02e8f4 305px,#1cffdb 306px,#0cf4eb 309px,#00c4ff 311px,#00c0ff 312px,#06ecf1 313px,#1cffdb 314px,#13fce4 316px,#00e0fb 318px,#00c0ff 319px,#00c4ff 320px,#09f0ee 321px,#16ffe1 323px,#09f0ee 325px,#00bcff 327px,#16ffe1 330px,#06ecf1 333px,#00b8ff 335px,#00c8ff 336px,#0ff8e7 337px,#16ffe1 338px,#06ecf1 341px,#00b0ff 343px,#00ccff 344px,#0ff8e7 345px,#06ecf1 349px,#00b0ff 351px,#00d0ff 352px,#0ff8e7 353px,#13fce4 354px,#02e8f4 357px,#00a8ff 359px,#00d4ff 360px,#13fce4 361px,#02e8f4 365px,#00acff 367px,#00d4ff 368px,#0ff8e7 369px,#00e4f8 373px,#00acff 375px,#00d8ff 376px,#0ff8e7 377px,#06ecf1 380px,#00b0ff 383px,#0cf4eb 385px,#02e8f4 388px,#00b4ff 390px,#00b0ff 391px,#0cf4eb 393px,#00e4f8 396px,#00b0ff 398px,#00b4ff 399px,#09f0ee 401px,#06ecf1 403px,#00e4f8 404px,#00acff 406px,#00b8ff 407px,#00e0fb 408px,#06ecf1 410px,#00e0fb 412px,#00a8ff 414px,#00e4f8 416px,#06ecf1 418px,#00dcfe 420px,#00a0ff 422px,#00e4f8 424px,#06ecf1 425px,#00dcfe 428px,#009cff 430px,#02e8f4 432px,#00d8ff 436px,#009cff 438px,#02e8f4 440px,#00d4ff 444px,#009cff 446px,#00e4f8 448px,#00dcfe 451px,#009cff 454px,#00e4f8 456px,#00d8ff 459px,#00a0ff 462px,#00e0fb 464px,#00d4ff 467px,#00a4ff 469px,#00a4ff 470px,#00e0fb 472px,#00d4ff 475px,#00a0ff 477px,#00a4ff 478px,#00ccff 479px,#00dcfe 480px,#00dcfe 481px,#00d0ff 483px,#0098ff 485px,#00dcfe 488px,#00d0ff 491px,#0094ff 493px,#00d0ff 495px,#00d8ff 497px,#00ccff 499px,#0090ff 501px,#00d4ff 503px,#00d8ff 505px,#00ccff 507px,#0088ff 509px,#00d4ff"></i><i style="--g:#00a8ff,#007cff 2px,#0068ff 4px,#00a0ff 8px,#0058ff 11px,#0040ff 13px,#0048ff 14px,#00a4ff 17px,#00b0ff 18px,#008cff 23px,#009cff 24px,#00c4ff 25px,#00ccff 26px,#0098ff 30px,#0088ff 33px,#00d0ff 35px,#00d4ff 36px,#0098ff 40px,#0090ff 42px,#0094ff 43px,#00e0fb 45px,#0068ff 51px,#00a4ff 55px,#004cff 59px,#0044ff 61px,#00b4ff 65px,#008cff 69px,#0094ff 71px,#00d8ff 73px,#008cff 79px,#009cff 81px,#00e0fb 83px,#00a0ff 87px,#0094ff 90px,#00a4ff 91px,#00d0ff 92px,#00dcfe 93px,#0070ff 98px,#006cff 99px,#00a0ff 102px,#009cff 103px,#0054ff 106px,#0048ff 108px,#00acff 112px,#0090ff 117px,#00b8ff 120px,#00c0ff 122px,#00a0ff 124px,#0090ff 128px,#00e4f8 130px,#009cff 135px,#0094ff 137px,#0098ff 138px,#02e8f4 140px,#0068ff 146px,#00a4ff 150px,#005cff 153px,#0044ff 155px,#0048ff 156px,#00b0ff 160px,#0090ff 164px,#00bcff 169px,#0090ff 175px,#00d0ff 177px,#00dcfe 178px,#00a0ff 182px,#0098ff 185px,#00e0fb 187px,#00dcfe 188px,#006cff 193px,#0078ff 195px,#00a8ff 197px,#0048ff 201px,#003cff 203px,#00b4ff 207px,#0094ff 212px,#00bcff 215px,#00c0ff 217px,#00a0ff 219px,#0090ff 222px,#0098ff 223px,#00e0fb 225px,#00a4ff 229px,#0098ff 232px,#00a4ff 233px,#00d0ff 234px,#00e4f8 235px,#0070ff 240px,#0068ff 241px,#00a0ff 244px,#00a0ff 245px,#0050ff 248px,#0040ff 250px,#0064ff 252px,#00a8ff 254px,#00b0ff 255px,#0094ff 260px,#00b4ff 262px,#00bcff 264px,#0094ff 267px,#008cff 270px,#00d0ff 272px,#00a0ff 276px,#008cff 280px,#00e4f8 282px,#00a0ff 286px,#0090ff 288px,#00a8ff 290px,#02e8f4 292px,#0070ff 297px,#0068ff 298px,#00a4ff 302px,#0058ff 305px,#0040ff 307px,#0044ff 308px,#00b0ff 312px,#0090ff 317px,#00d0ff 320px,#0098ff 324px,#008cff 327px,#00d0ff 329px,#00d8ff 330px,#0090ff 335px,#009cff 337px,#00e0fb 339px,#0064ff 345px,#0074ff 347px,#00a4ff 349px,#0044ff 353px,#0038ff 355px,#00b0ff 359px,#008cff 363px,#008cff 365px,#00d0ff 367px,#0098ff 371px,#0088ff 374px,#0090ff 375px,#00d8ff 377px,#00a4ff 380px,#008cff 383px,#00dcfe 387px,#0088ff 390px,#0068ff 392px,#0064ff 393px,#0098ff 396px,#0098ff 397px,#004cff 400px,#0034ff 402px,#005cff 404px,#00a0ff 406px,#00a8ff 407px,#0084ff 412px,#00c4ff 414px,#00c4ff 415px,#0098ff 418px,#0084ff 422px,#00d0ff 424px,#0098ff 428px,#008cff 432px,#00e0fb 434px,#0074ff 438px,#005cff 440px,#0098ff 444px,#003cff 448px,#0038ff 449px,#0038ff 450px,#00a4ff 454px,#0084ff 459px,#00c4ff 462px,#0080ff 468px,#0080ff 469px,#00bcff 471px,#00c8ff 472px,#0084ff 477px,#0084ff 479px,#00c4ff 481px,#00c4ff 482px,#005cff 487px,#0064ff 489px,#0090ff 491px,#0040ff 495px,#0034ff 497px,#0098ff 501px,#007cff 505px,#0080ff 507px,#00c4ff 509px,#00a8ff"></i><i class=h2 style="--g:#0020ff,#0070ff 4px,#0074ff 5px,#0068ff 6px,#0010ff 8px,#0028ff 10px,#0024ff 12px,#0064ff 15px,#007cff 17px,#0068ff 18px,#002cff 19px,#0014ff 20px,#001cff 23px,#0068ff 27px,#007cff 29px,#0060ff 30px,#0028ff 31px,#0018ff 32px,#001cff 35px,#006cff 39px,#0080ff 41px,#001cff 43px,#001cff 47px,#0070ff 51px,#0084ff 53px,#0014ff 55px,#0024ff 57px,#0018ff 59px,#0074ff 63px,#0084ff 65px,#0014ff 67px,#0024ff 69px,#001cff 71px,#0078ff 75px,#0080ff 76px,#0078ff 77px,#0014ff 79px,#0020ff 83px,#0078ff 87px,#0080ff 88px,#0070ff 89px,#0038ff 90px,#0018ff 91px,#0024ff 95px,#0084ff 100px,#0068ff 101px,#002cff 102px,#0018ff 103px,#0028ff 107px,#0070ff 110px,#0088ff 112px,#0024ff 114px,#001cff 115px,#0020ff 118px,#0074ff 122px,#008cff 124px,#001cff 126px,#002cff 128px,#0020ff 130px,#0078ff 134px,#008cff 136px,#0018ff 138px,#0030ff 140px,#0024ff 142px,#0084ff 147px,#0080ff 148px,#0018ff 150px,#0030ff 152px,#0028ff 154px,#0058ff 156px,#0084ff 159px,#0074ff 160px,#003cff 161px,#001cff 162px,#0034ff 164px,#0030ff 166px,#006cff 169px,#0080ff 171px,#0068ff 172px,#0030ff 173px,#001cff 174px,#0030ff 178px,#005cff 180px,#0080ff 183px,#0028ff 185px,#0020ff 186px,#0030ff 187px,#0028ff 189px,#0070ff 193px,#0080ff 195px,#0020ff 197px,#0034ff 199px,#0024ff 201px,#0074ff 205px,#0080ff 207px,#0018ff 209px,#0034ff 211px,#0024ff 213px,#0054ff 215px,#007cff 218px,#007cff 219px,#0018ff 221px,#0034ff 223px,#0028ff 225px,#006cff 228px,#0080ff 230px,#0078ff 231px,#0040ff 232px,#0020ff 233px,#003cff 235px,#0030ff 237px,#0074ff 240px,#008cff 242px,#0078ff 243px,#0040ff 244px,#0024ff 245px,#0030ff 246px,#0014ff 249px,#004cff 253px,#0048ff 254px,#0000f6 256px,#0000e3 257px,#0000f1 258px,#0000e8 260px,#0000fa 261px,#0080ff 266px,#0040ff 268px,#0058ff 270px,#0024ff 274px,#007cff 278px,#0034ff 280px,#0058ff 282px,#0024ff 286px,#007cff 290px,#0034ff 292px,#005cff 294px,#0028ff 298px,#0070ff 301px,#0078ff 302px,#0038ff 304px,#0058ff 306px,#0034ff 308px,#002cff 310px,#0074ff 313px,#0074ff 314px,#004cff 315px,#003cff 316px,#0054ff 318px,#0028ff 321px,#0030ff 322px,#0078ff 325px,#006cff 326px,#0048ff 327px,#0050ff 330px,#0028ff 333px,#007cff 337px,#0040ff 339px,#0058ff 341px,#0024ff 345px,#007cff 349px,#003cff 351px,#005cff 353px,#0020ff 357px,#0080ff 361px,#003cff 363px,#0060ff 365px,#0024ff 369px,#007cff 373px,#0040ff 375px,#0060ff 377px,#0038ff 379px,#0028ff 381px,#0074ff 385px,#0044ff 387px,#0060ff 389px,#0028ff 392px,#0028ff 393px,#0070ff 396px,#004cff 399px,#0060ff 401px,#0024ff 404px,#0070ff 408px,#004cff 410px,#0068ff 412px,#0020ff 416px,#0074ff 420px,#0048ff 422px,#006cff 424px,#001cff 428px,#0078ff 432px,#0044ff 434px,#0070ff 436px,#001cff 440px,#0074ff 444px,#0044ff 446px,#0070ff 448px,#0020ff 452px,#0070ff 456px,#0048ff 458px,#006cff 460px,#0028ff 463px,#0024ff 464px,#0068ff 467px,#006cff 468px,#0050ff 469px,#004cff 470px,#0068ff 472px,#0024ff 475px,#0024ff 476px,#006cff 479px,#004cff 481px,#0068ff 483px,#0020ff 487px,#006cff 491px,#0048ff 493px,#0068ff 495px,#001cff 499px,#0070ff 503px,#0040ff 505px,#006cff 507px,#001cff"></i><i style="--g:#f10800,#ff7300 4px,#ff8600 6px,#f60b00 10px,#e80000 11px,#da0000 14px,#f60b00 16px,#ff6000 19px,#ff8200 21px,#ff7e00 22px,#f10800 26px,#da0000 28px,#df0000 31px,#fa0f00 32px,#ff6400 35px,#ff8600 37px,#ff5d00 39px,#ff1600 41px,#ed0400 42px,#d10000 45px,#df0000 47px,#ff1300 48px,#ff6400 51px,#ff8600 53px,#ff3400 56px,#e80000 58px,#cd0000 61px,#e40000 63px,#ff1a00 64px,#ff6800 67px,#ff8200 69px,#ff5200 71px,#ff2900 72px,#f10800 73px,#df0000 74px,#cd0000 76px,#ed0400 79px,#ff1e00 80px,#ff5200 82px,#ff7a00 85px,#ff2200 88px,#da0000 90px,#c80000 92px,#ed0400 95px,#ff2200 96px,#ff7a00 100px,#ff7700 101px,#ff1a00 104px,#ed0400 105px,#c80000 108px,#d60000 110px,#f10800 111px,#ff2500 112px,#ff7a00 116px,#ff5500 118px,#fa0f00 120px,#df0000 121px,#c40000 124px,#d60000 126px,#f60b00 127px,#ff2900 128px,#ff7e00 132px,#ff2900 135px,#f10800 136px,#da0000 137px,#c40000 139px,#d60000 142px,#fa0f00 143px,#ff5d00 146px,#ff7a00 148px,#ff2200 151px,#ed0400 152px,#d60000 153px,#bf0000 155px,#df0000 158px,#ff1300 159px,#ff7300 163px,#ff7300 164px,#ff1a00 167px,#e40000 168px,#bf0000 171px,#e40000 174px,#ff1a00 175px,#ff7300 179px,#ff6c00 180px,#fa0f00 183px,#df0000 184px,#c80000 185px,#bf0000 187px,#cd0000 189px,#e80000 190px,#ff1e00 191px,#ff7300 195px,#ff4a00 197px,#f10800 199px,#c40000 201px,#bb0000 203px,#cd0000 205px,#ed0400 206px,#ff2500 207px,#ff7700 211px,#ff2500 214px,#ed0400 215px,#d60000 216px,#bb0000 218px,#cd0000 221px,#f60b00 222px,#ff2900 223px,#ff5900 225px,#ff6f00 227px,#ff1a00 230px,#df0000 231px,#bb0000 233px,#b60000 236px,#c80000 237px,#f10800 238px,#ff4300 240px,#ff6400 242px,#ff6000 243px,#f60b00 246px,#da0000 247px,#cd0000 249px,#e40000 251px,#ff2200 253px,#ff9100 256px,#ffb900 258px,#ff9100 260px,#ff1e00 263px,#e80000 264px,#ad0000 268px,#cd0000 270px,#f10800 271px,#ff2500 272px,#ff7a00 276px,#ff2200 279px,#ed0400 280px,#df0000 281px,#ad0000 284px,#d10000 286px,#f60b00 287px,#ff6000 290px,#ff7700 292px,#ff1a00 295px,#e80000 296px,#b20000 300px,#d60000 302px,#fa0f00 303px,#ff6000 306px,#ff7300 308px,#ff1600 311px,#e40000 312px,#b20000 316px,#df0000 318px,#ff1600 319px,#ff5200 321px,#ff7300 323px,#ff6c00 324px,#fa0f00 327px,#e40000 328px,#b20000 331px,#b60000 332px,#e80000 334px,#ff1e00 335px,#ff7700 339px,#ff2500 342px,#df0000 344px,#b20000 347px,#cd0000 349px,#f10800 350px,#ff5d00 353px,#ff7a00 355px,#ff2200 358px,#ed0400 359px,#df0000 360px,#b20000 363px,#d10000 365px,#f60b00 366px,#ff2d00 367px,#ff6000 369px,#ff7700 371px,#ff1e00 374px,#da0000 376px,#b20000 379px,#da0000 381px,#ff1300 382px,#ff7700 386px,#ff7300 387px,#ff1600 390px,#e40000 391px,#bb0000 395px,#e80000 397px,#ff1e00 398px,#ff7700 402px,#ff6c00 403px,#ff1300 406px,#e40000 407px,#bb0000 410px,#bf0000 411px,#ed0400 413px,#ff2200 414px,#ff7e00 418px,#fa0f00 422px,#e40000 423px,#b60000 426px,#d10000 428px,#f60b00 429px,#ff6000 432px,#ff8600 434px,#ff2500 437px,#ed0400 438px,#df0000 439px,#bb0000 442px,#df0000 444px,#ff1600 445px,#ff6800 448px,#ff7a00 450px,#ff1e00 453px,#ed0400 454px,#df0000 455px,#bf0000 458px,#e80000 460px,#ff1e00 461px,#ff7a00 465px,#ff7a00 466px,#ff1e00 469px,#df0000 471px,#c40000 474px,#ed0400 476px,#ff2500 477px,#ff5d00 479px,#ff7e00 481px,#ff7300 482px,#ff1600 485px,#da0000 487px,#bf0000 489px,#da0000 491px,#fa0f00 492px,#ff6400 495px,#ff8600 497px,#ff3000 500px,#e80000 502px,#bf0000 505px,#df0000 507px,#ff1600 508px,#ff6c00"></i><i style="--g:#00c8ff,#09f0ee 1px,#23ffd4 2px,#1cffdb 4px,#4dffaa 7px,#4dffaa 8px,#29ffce 10px,#00e4f8 11px,#0094ff 14px,#0060ff 15px,#0044ff 16px,#0050ff 19px,#0070ff 21px,#00d0ff 24px,#13fce4 25px,#50ffa7 31px,#39ffbe 33px,#1cffdb 34px,#00d4ff 35px,#00acff 37px,#0050ff 39px,#0048ff 40px,#0054ff 43px,#0078ff 45px,#00e0fb 48px,#23ffd4 49px,#1fffd7 51px,#46ffb1 53px,#53ffa4 55px,#36ffc1 57px,#0ff8e7 58px,#00c8ff 59px,#00a8ff 61px,#0044ff 63px,#006cff 68px,#00c4ff 71px,#09f0ee 72px,#26ffd1 73px,#26ffd1 75px,#50ffa7 78px,#50ffa7 79px,#2cffca 81px,#02e8f4 82px,#00c4ff 83px,#0098ff 85px,#0044ff 87px,#0058ff 90px,#0078ff 92px,#00d4ff 95px,#16ffe1 96px,#53ffa4 102px,#40ffb7 104px,#1fffd7 105px,#00dcfe 106px,#00b0ff 108px,#0058ff 110px,#0048ff 111px,#005cff 114px,#007cff 116px,#00e0fb 119px,#23ffd4 120px,#23ffd4 122px,#49ffad 124px,#53ffa4 126px,#39ffbe 128px,#13fce4 129px,#00ccff 130px,#00acff 132px,#0048ff 134px,#0048ff 135px,#005cff 138px,#0084ff 140px,#00c4ff 142px,#09f0ee 143px,#29ffce 144px,#23ffd4 146px,#4dffaa 148px,#53ffa4 150px,#33ffc4 152px,#0cf4eb 153px,#00c8ff 154px,#00a0ff 156px,#0048ff 158px,#0058ff 161px,#0078ff 163px,#00d8ff 166px,#16ffe1 167px,#26ffd1 170px,#50ffa7 173px,#46ffb1 175px,#30ffc7 176px,#09f0ee 177px,#00d4ff 178px,#00c0ff 179px,#0060ff 181px,#004cff 182px,#0070ff 186px,#02e8f4 190px,#23ffd4 191px,#1cffdb 193px,#53ffa4 197px,#49ffad 199px,#26ffd1 200px,#02e8f4 201px,#00d0ff 202px,#00bcff 203px,#0050ff 205px,#0050ff 206px,#0064ff 209px,#008cff 211px,#00d0ff 213px,#0ff8e7 214px,#2cffca 215px,#1cffdb 217px,#46ffb1 219px,#53ffa4 221px,#43ffb4 223px,#1fffd7 224px,#00e4f8 225px,#00acff 227px,#004cff 229px,#006cff 233px,#00e4f8 237px,#1fffd7 238px,#30ffc7 239px,#2cffca 241px,#50ffa7 243px,#5aff9d 245px,#43ffb4 247px,#1fffd7 248px,#02e8f4 249px,#00ccff 250px,#0060ff 252px,#004cff 253px,#0084ff 259px,#00c0ff 262px,#00c0ff 264px,#00d8ff 265px,#13fce4 266px,#46ffb1 268px,#60ff97 270px,#39ffbe 274px,#06ecf1 275px,#00a0ff 276px,#0044ff 278px,#0094ff 284px,#00c4ff 286px,#00c0ff 288px,#00e4f8 289px,#1fffd7 290px,#50ffa7 292px,#60ff97 294px,#30ffc7 298px,#00d4ff 299px,#0090ff 300px,#0048ff 302px,#00c4ff 310px,#00ccff 312px,#26ffd1 314px,#53ffa4 316px,#5dff9a 318px,#40ffb7 321px,#1cffdb 322px,#00bcff 323px,#0080ff 324px,#0058ff 325px,#0050ff 326px,#0084ff 330px,#00c0ff 333px,#00c0ff 335px,#00d8ff 336px,#13fce4 337px,#49ffad 339px,#60ff97 341px,#3cffba 345px,#0cf4eb 346px,#00a4ff 347px,#0050ff 349px,#0078ff 353px,#00c8ff 357px,#00c0ff 359px,#00e4f8 360px,#1cffdb 361px,#50ffa7 363px,#63ff94 365px,#36ffc1 369px,#00dcfe 370px,#0094ff 371px,#004cff 373px,#0078ff 377px,#00ccff 381px,#00d0ff 383px,#26ffd1 385px,#53ffa4 387px,#5dff9a 389px,#40ffb7 392px,#23ffd4 393px,#00c8ff 394px,#0064ff 396px,#0054ff 397px,#007cff 401px,#00c4ff 404px,#00c8ff 406px,#00dcfe 407px,#13fce4 408px,#2cffca 409px,#60ff97 412px,#40ffb7 416px,#13fce4 417px,#00b4ff 418px,#0084ff 419px,#005cff 420px,#0058ff 421px,#0070ff 424px,#00ccff 428px,#00ccff 430px,#1fffd7 432px,#4dffaa 434px,#60ff97 436px,#3cffba 440px,#02e8f4 441px,#00a4ff 442px,#0054ff 444px,#0074ff 448px,#00d0ff 452px,#00d8ff 454px,#0ff8e7 455px,#26ffd1 456px,#50ffa7 458px,#5aff9d 460px,#29ffce 464px,#00d8ff 465px,#0070ff 467px,#0058ff 468px,#0078ff 472px,#00c4ff 475px,#00d8ff 477px,#19ffde 479px,#5dff9a 483px,#40ffb7 487px,#1cffdb 488px,#00c8ff 489px,#0068ff 491px,#0060ff 492px,#0070ff 495px,#0090ff 497px,#00d0ff 499px,#00dcfe 501px,#23ffd4 503px,#50ffa7 505px,#5dff9a 507px,#43ffb4 509px,#43ffb4"></i></div>
<div class="sp" style="left:717px;top:1054px;width:521px;height:351px"><i class=h12 style="--g:#000084,#000080 488px,#0000ad"></i><i class=h12 style="--g:#000084,#000080 487px,#0000ad"></i><i class=h12 style="--g:#000084,#000080 485px,#0000b2"></i><i class=h12 style="--g:#000084,#000080 483px,#0000b2"></i><i class=h12 style="--g:#000084,#000080 482px,#0000b2"></i><i class=h12 style="--g:#000084,#000080 480px,#0000b2"></i><i class=h12 style="--g:#000084,#000080 478px,#0000b4"></i><i class=h12 style="--g:#000084,#000080 475px,#0000b6"></i><i class=h12 style="--g:#000084,#000080 474px,#0000b6"></i><i class=h8 style="--g:#000084,#000080 474px,#0000b6"></i><i class=h11 style="--g:#000084,#000080 466px,#000086 480px,#0000b9"></i><i class=h7 style="--g:#000084,#000080 463px,#0000bb"></i><i class=h12 style="--g:#000084,#000080 462px,#0000bd"></i><i class=h12 style="--g:#000084,#000080 458px,#0000bf"></i><i class=h2 style="--g:#000086,#000080 462px,#0000bf"></i><i class=h2 style="--g:#000089,#000080 34px,#000080 272px,#000089 274px,#000080 279px,#000089 283px,#000080 287px,#000080 460px,#0000bf"></i><i style="--g:#000089,#000080 34px,#000080 278px,#000089 281px,#000080 284px,#000089 288px,#000080 292px,#000080 462px,#0000bf"></i><i class=h3 style="--g:#000089,#000080 39px,#000080 458px,#0000bf"></i><i class=h11 style="--g:#000089,#000080 41px,#000080 446px,#00008c 473px,#0000bf"></i><i style="--g:#000089,#000080 33px,#000080 257px,#000089 261px,#000080 271px,#000089 274px,#000080 285px,#000089 288px,#000080 300px,#000089 303px,#000080 307px,#000080 458px,#0000bf"></i><i class=h2 style="--g:#000089,#000080 32px,#000080 263px,#000089 266px,#000080 271px,#000089 285px,#000080 461px,#0000bf"></i><i style="--g:#000089,#000080 36px,#000080 254px,#000089 257px,#000080 263px,#000089 267px,#000080 273px,#000089 277px,#000080 283px,#000089 287px,#000080 294px,#000089 297px,#000080 304px,#000089 308px,#000080 314px,#000080 459px,#0000bf"></i><i style="--g:#000089,#000080 37px,#000080 276px,#000089 279px,#000080 461px,#000096 485px,#0000b6 504px,#0000bf"></i><i class=h2 style="--g:#000089,#000080 40px,#000080 257px,#000089 276px,#000080 453px,#00008d 477px,#0000b2 501px,#0000bf"></i><i class=h4 style="--g:#000089,#000080 446px,#00008d 471px,#0000c4"></i><i class=h3 style="--g:#000089,#000080 214px,#00008c 278px,#000080 331px,#000080 448px,#0000c4"></i><i style="--g:#000089,#000080 209px,#00008d 285px,#000084 287px,#000080 325px,#000080 448px,#0000c8"></i><i style="--g:#000089,#000080 199px,#000084 248px,#00008d 251px,#000084 259px,#000092 265px,#000084 270px,#000092 275px,#000080 316px,#000080 444px,#00008d 467px,#0000c4 508px,#0000c8"></i><i class=h2 style="--g:#000089,#000080 205px,#00008d 290px,#000080 320px,#000080 437px,#00008d 464px,#0000c8 509px,#0000c8"></i><i style="--g:#000089,#000080 201px,#000089 250px,#000092 252px,#000089 255px,#000092 259px,#000089 273px,#000092 275px,#000084 280px,#000092 284px,#000084 287px,#00008d 292px,#000080 318px,#000080 429px,#00008d 459px,#0000bf 499px,#0000c8"></i><i class=h3 style="--g:#000089,#000080 192px,#00008d 280px,#000080 319px,#000080 413px,#00008d 457px,#0000c4 502px,#0000cb"></i><i style="--g:#000089,#000080 200px,#000092 265px,#000089 272px,#000092 275px,#000080 318px,#000080 416px,#000092 461px,#0000c8 506px,#0000cd"></i><i class=h2 style="--g:#000089,#000080 205px,#000092 261px,#000080 317px,#000080 412px,#00008d 454px,#0000c8 505px,#0000cd"></i><i class=h4 style="--g:#000089,#000080 205px,#00008d 274px,#000080 318px,#000081 422px,#00008d 456px,#0000c4 502px,#0000cd"></i><i style="--g:#000089,#000080 214px,#000092 267px,#000080 318px,#000080 441px,#0000cd"></i><i class=h3 style="--g:#000089,#000080 209px,#00008d 284px,#000081 312px,#000080 443px,#0000cd"></i><i style="--g:#000089,#000080 219px,#000092 280px,#000084 312px,#000080 439px,#00008d 462px,#0000bf 500px,#0000cd"></i><i class=h2 style="--g:#000089,#000080 229px,#00008d 242px,#000080 245px,#00008d 248px,#000084 254px,#000092 257px,#000084 261px,#000092 265px,#000084 269px,#000092 273px,#000084 279px,#000092 283px,#000089 286px,#000092 292px,#000084 296px,#00008d 298px,#000084 304px,#00008d 316px,#000084 319px,#000080 437px,#00008d 461px,#0000c4 504px,#0000cd"></i><i style="--g:#000089,#000080 64px,#000080 217px,#000089 221px,#000080 226px,#00008d 257px,#00008d 309px,#000084 312px,#000080 435px,#000092 465px,#0000c8 509px,#0000c8"></i><i style="--g:#000089,#000080 66px,#000080 226px,#000089 233px,#000080 238px,#00008d 245px,#000080 249px,#000092 256px,#000084 261px,#000092 266px,#000084 273px,#000092 278px,#000084 287px,#000092 291px,#000084 299px,#000092 306px,#000084 311px,#00008d 320px,#000084 323px,#000080 434px,#000092 465px,#0000bb 496px,#0000cd"></i><i class=h2 style="--g:#000089,#000080 68px,#000080 227px,#000089 238px,#000080 241px,#00008d 253px,#000084 256px,#00008d 261px,#000084 275px,#00008d 278px,#000084 291px,#00008d 315px,#000084 323px,#000080 432px,#000096 469px,#0000c8 509px,#0000c8"></i><i class=h4 style="--g:#00008a,#000080 222px,#00008b 318px,#000080 419px,#00008d 454px,#0000c3 502px,#0000cd"></i><i style="--g:#00008d,#000080 56px,#000080 218px,#00008d 268px,#000084 273px,#000080 430px,#00008d 455px,#0000bf 495px,#0000cd"></i><i class=h2 style="--g:#00008d,#000080 50px,#000080 227px,#00008d 279px,#000080 330px,#000080 432px,#000096 465px,#0000cd 508px,#0000cd"></i><i style="--g:#00008d,#000080 63px,#000089 226px,#000080 237px,#00008d 243px,#000080 251px,#00008d 259px,#000080 265px,#00008d 273px,#000080 279px,#00008d 288px,#000080 294px,#000089 301px,#000080 309px,#000089 319px,#000080 325px,#000080 428px,#000092 460px,#0000c4 498px,#0000cd"></i><i class=h2 style="--g:#00008d,#000080 63px,#000084 438px,#000096 462px,#0000cd 505px,#0000cd"></i><i style="--g:#00008d,#000080 66px,#000089 194px,#000089 226px,#000080 229px,#00008d 233px,#000080 239px,#00008d 253px,#000080 275px,#000089 280px,#000080 302px,#000089 306px,#000080 311px,#000089 316px,#000080 320px,#000089 325px,#000080 330px,#000084 417px,#00008d 446px,#0000c4 496px,#0000cd"></i><i style="--g:#00008d,#000080 66px,#000089 429px,#00009b 460px,#0000cd 503px,#0000d1"></i><i class=h3 style="--g:#00008d,#000080 68px,#000089 426px,#00009c 461px,#0000cd 504px,#0000d1"></i><i style="--g:#00008d,#000084 58px,#000089 439px,#0000c8 498px,#0000d1"></i><i class=h3 style="--g:#000092,#000086 78px,#00008d 384px,#000080 431px,#0000c8 500px,#0000d1"></i><i class=h2 style="--g:#000092,#00008d 269px,#000084 273px,#00008d 277px,#000089 438px,#0000c8 497px,#0000d1"></i><i style="--g:#000092,#00008d 235px,#000084 239px,#00008d 245px,#000084 259px,#00008d 266px,#000084 281px,#00008d 286px,#000089 423px,#0000a4 468px,#0000cd 504px,#0000d1"></i><i style="--g:#000092,#000084 72px,#00008d 427px,#00009f 461px,#0000cd 502px,#0000d1"></i><i class=h3 style="--g:#000092,#000083 66px,#000089 394px,#000092 439px,#0000cd 502px,#0000d1"></i><i style="--g:#000092,#000080 63px,#000084 427px,#0000c4 491px,#0000d1"></i><i class=h2 style="--g:#000092,#000080 142px,#000089 217px,#000080 272px,#00008d 277px,#000084 281px,#000080 428px,#0000cd 500px,#0000d1"></i><i style="--g:#000092,#000080 150px,#000084 211px,#00008d 215px,#000084 219px,#00008d 247px,#000080 251px,#00008d 255px,#000080 261px,#00008d 266px,#000084 270px,#00008d 306px,#000080 321px,#000089 324px,#000080 330px,#000080 424px,#000096 454px,#0000cd 499px,#0000d1"></i><i class=h2 style="--g:#000092,#000084 66px,#000089 110px,#000080 115px,#000084 194px,#00008d 197px,#000084 218px,#000092 223px,#000084 229px,#000092 235px,#000084 241px,#000092 249px,#000084 255px,#00008d 258px,#000084 267px,#000092 273px,#000084 280px,#000092 288px,#000084 292px,#00008d 313px,#000080 318px,#000089 322px,#000080 330px,#000084 415px,#000092 431px,#00008d 440px,#0000c4 485px,#0000d6"></i><i style="--g:#000092,#000084 89px,#000084 191px,#00008d 195px,#000084 208px,#000092 215px,#000084 223px,#000092 235px,#000084 241px,#000092 245px,#000092 253px,#000084 258px,#000096 268px,#000084 273px,#000092 279px,#000092 288px,#000084 292px,#000092 299px,#000084 308px,#00008d 315px,#000084 380px,#00009b 444px,#0000d1 500px,#0000d6"></i><i style="--g:#000092,#000080 146px,#000092 224px,#000089 236px,#000096 252px,#000089 260px,#000096 279px,#000084 285px,#000092 292px,#000092 304px,#000084 308px,#00008d 316px,#000084 360px,#000096 429px,#0000cd 491px,#0000d1"></i><i class=h2 style="--g:#000092,#000080 150px,#000096 246px,#000089 249px,#000092 254px,#000092 297px,#000084 300px,#00008d 306px,#000084 355px,#000092 406px,#0000a8 450px,#0000c8 479px,#0000d6"></i><i style="--g:#00008d,#000080 145px,#000092 210px,#000092 288px,#000084 347px,#000096 411px,#0000cd 491px,#0000d6"></i><i class=h2 style="--g:#00008d,#000084 159px,#000096 216px,#000092 258px,#00009f 264px,#00008d 277px,#000092 310px,#000084 319px,#000080 356px,#00009f 439px,#0000ad 463px,#0000bf 473px,#0000d6"></i><i style="--g:#00008d,#000084 155px,#000089 202px,#000096 207px,#00008d 226px,#00009b 230px,#00008d 249px,#00009f 253px,#00008d 272px,#00009f 279px,#000089 292px,#000096 303px,#000080 318px,#00008d 325px,#000080 347px,#00009f 455px,#0000ad 460px,#0000b2 477px,#0000c4 488px,#0000cd"></i><i style="--g:#000089,#000084 165px,#000092 191px,#000089 198px,#000096 221px,#000092 282px,#00009b 286px,#00008d 293px,#000096 304px,#000089 312px,#000092 320px,#000084 348px,#000092 389px,#00008d 435px,#0000c4 499px,#0000c8"></i><i class=h2 style="--g:#000089,#000084 182px,#000092 198px,#000089 206px,#000096 211px,#000089 218px,#00009b 223px,#00008d 228px,#00009b 234px,#00008d 240px,#00009b 249px,#00008d 254px,#00009f 258px,#00008d 266px,#00009f 270px,#000092 275px,#00009f 283px,#00008d 287px,#00009b 292px,#00008d 299px,#00009b 307px,#00008d 311px,#000096 316px,#00008d 323px,#000096 329px,#00008d 334px,#000092 381px,#000080 432px,#0000b2 482px,#0000c8"></i><i style="--g:#000084,#000080 147px,#00009b 279px,#000092 298px,#00009b 302px,#000092 306px,#000092 394px,#000080 428px,#0000a4 477px,#0000b2 481px,#0000c8"></i><i style="--g:#000084,#000080 162px,#00008d 266px,#000096 269px,#00008d 429px,#0000c8"></i><i class=h2 style="--g:#000084,#000080 177px,#00009b 338px,#000092 418px,#0000c8"></i><i style="--g:#000084,#000080 173px,#000096 314px,#000092 405px,#00009f 451px,#0000c8"></i><i class=h2 style="--g:#000084,#000080 240px,#00008d 259px,#000084 269px,#000092 275px,#00008d 415px,#0000cd"></i><i style="--g:#000089,#000080 249px,#00008d 254px,#000084 263px,#00008d 266px,#000089 312px,#000092 319px,#000089 322px,#000084 417px,#0000cd"></i><i style="--g:#000089,#000089 200px,#000080 211px,#000089 235px,#000080 242px,#00008d 248px,#000084 267px,#000092 273px,#000092 286px,#000084 291px,#00008d 324px,#000080 342px,#000089 348px,#000080 418px,#0000d1"></i><i class=h2 style="--g:#00008d,#000096 279px,#000080 338px,#000084 404px,#000092 440px,#0000d1 503px,#0000d6"></i><i style="--g:#000092,#000092 201px,#00009b 209px,#000092 216px,#00009b 230px,#000092 274px,#00009b 282px,#00008d 289px,#000096 307px,#000089 315px,#000084 374px,#00009f 442px,#0000da 505px,#0000d1 508px,#0000d6"></i><i style="--g:#000096,#000096 189px,#00009f 194px,#000096 223px,#0000a4 231px,#00009b 235px,#00009f 278px,#000096 285px,#00009f 290px,#000092 306px,#00008d 371px,#0000a8 438px,#0000b6 444px,#0000bf 469px,#0000d6 485px,#0000d1 493px,#0000e3 503px,#0000da 506px,#0000df"></i><i class=h2 style="--g:#00009b,#00009b 184px,#0000a8 280px,#00009b 301px,#000096 382px,#0000a8 426px,#0000b6 432px,#0000b6 443px,#0000df 481px,#0000da 491px,#0000e8 496px,#0000df 501px,#0000f1 513px,#0000e3 517px,#0000e8"></i><i style="--g:#00009b,#000096 169px,#0000ad 231px,#0000ad 287px,#000096 349px,#000096 392px,#0000bf 446px,#0000df 472px,#0000da 477px,#0000f1 497px,#0000e8 501px,#0000f6 509px,#0000ed 519px,#0000f6"></i><i class=h2 style="--g:#00009f,#0000a4 58px,#000089 128px,#000089 158px,#0000a8 205px,#0000bb 268px,#0000ad 287px,#0000b6 296px,#0000a8 302px,#0000ad 312px,#000084 368px,#000084 382px,#0000a8 422px,#0000e3 465px,#0000fa 501px,#0000f1 505px,#0000ff 513px,#0000fa"></i><i style="--g:#00009b,#0000a4 62px,#000084 146px,#0000c4 273px,#0000b6 285px,#0000b6 306px,#000092 378px,#000096 394px,#0000fa 486px,#0000ff"></i><i style="--g:#00009f,#0000a4 69px,#000096 156px,#0000c8 268px,#0000bb 284px,#0000c4 297px,#0000ad 342px,#0000b2 358px,#0000a8 362px,#0000b2 368px,#0000a8 372px,#0000b2 376px,#0000ad 392px,#0000bf 406px,#0000bb 412px,#0000f1 465px,#0000ed 470px,#0000fa 474px,#0000ff"></i><i class=h2 style="--g:#00009b,#00009f 163px,#0000bb 214px,#0000b6 224px,#0000c4 229px,#0000bf 248px,#0000cd 253px,#0000bb 259px,#0000cd 264px,#0000bf 272px,#0000d1 278px,#0000bf 284px,#0000c8 294px,#0000bb 298px,#0000c8 305px,#0000bb 309px,#0000c4 318px,#0000b6 322px,#0000bf 341px,#0000b2 359px,#0000cd 422px,#0000ff 477px,#0000ff"></i><i style="--g:#000096,#000096 142px,#0000a4 163px,#00009f 174px,#0000ad 179px,#0000a4 189px,#0000b6 196px,#0000ad 205px,#0000bf 211px,#0000b2 221px,#0000c8 229px,#0000b6 237px,#0000cd 243px,#0000bb 252px,#0000cd 259px,#0000bf 270px,#0000d1 277px,#0000bb 286px,#0000cd 295px,#0000b6 302px,#0000c4 312px,#0000b2 318px,#0000bf 326px,#0000ad 333px,#0000b6 343px,#0000a8 348px,#0000b2 355px,#0000a8 367px,#0000bf 415px,#0000fa 472px,#0000ff"></i><i class=h2 style="--g:#000092,#000096 59px,#00008d 68px,#000096 81px,#000084 133px,#000092 141px,#000089 153px,#00009b 163px,#000092 175px,#0000ad 188px,#0000a4 201px,#0000bb 210px,#0000b2 223px,#0000c4 231px,#0000bb 251px,#0000cd 256px,#0000cd 265px,#0000b6 274px,#0000cd 283px,#0000b2 299px,#0000bf 308px,#0000a4 324px,#0000ad 332px,#000096 345px,#00008d 384px,#0000fa 482px,#0000ff"></i><i style="--g:#00008d,#000092 56px,#000089 62px,#000084 141px,#000092 159px,#00008d 171px,#0000b2 199px,#0000ad 223px,#0000c4 232px,#0000cd 248px,#0000c8 266px,#0000b6 271px,#0000c4 278px,#0000c4 304px,#0000b6 317px,#00009f 324px,#000092 381px,#000096 397px,#0000c4 434px,#0000c4 447px,#0000f1 478px,#0000ff"></i><i style="--g:#000084,#000096 150px,#0000cd 252px,#0000a4 393px,#0000b6 431px,#0000ed 484px,#0000ff"></i><i class=h2 style="--g:#000080,#0000ad 178px,#0000c4 197px,#0000bf 223px,#0000cd 239px,#0000df 246px,#0000c8 269px,#0000df 293px,#0000bf 314px,#0000c4 340px,#00009f 363px,#00009f 385px,#00008d 401px,#0000a8 433px,#0000ed 485px,#0000ff"></i><i style="--g:#000089,#00009f 129px,#0000c4 196px,#0000bf 205px,#0000d1 221px,#0000df 270px,#0000df 293px,#0000d1 300px,#0000d6 318px,#0000c8 324px,#0000c4 344px,#0000ad 361px,#000092 402px,#0000a8 419px,#0000a4 427px,#0000c4 443px,#0000bf 450px,#0000da 459px,#0000e3 468px,#0000da 471px,#0000f6 482px,#0000ff"></i><i style="--g:#00008d,#00009b 136px,#0000a4 139px,#00009f 152px,#0000ad 158px,#0000a4 167px,#0000b6 175px,#0000ad 183px,#0000bf 190px,#0000b6 199px,#0000c8 205px,#0000bb 213px,#0000d6 222px,#0000c4 231px,#0000df 239px,#0000cd 245px,#0000e3 254px,#0000d1 262px,#0000e8 272px,#0000d6 278px,#0000ed 284px,#0000d6 292px,#0000e8 299px,#0000e8 303px,#0000d6 307px,#0000e8 318px,#0000d1 324px,#0000df 336px,#0000d1 339px,#0000da 352px,#0000cd 356px,#0000d6 368px,#0000c8 373px,#0000d1 386px,#0000c4 392px,#0000d1 397px,#0000c8 408px,#0000da 416px,#0000d1 424px,#0000e3 431px,#0000da 439px,#0000f1 447px,#0000e8 455px,#0000ff 464px,#0000ff"></i><i class=h2 style="--g:#000096,#000089 127px,#000096 163px,#0000c4 215px,#0000bf 221px,#0000cd 227px,#0000c8 234px,#0000d6 241px,#0000cd 247px,#0000da 251px,#0000e3 273px,#0000da 280px,#0000e3 284px,#0000df 363px,#0000ff 423px,#0000ff 457px,#000cff 462px,#0004ff 468px,#0010ff 473px,#0018ff"></i><i style="--g:#000096,#00009b 62px,#000089 138px,#0000d6 249px,#0000da 293px,#0000cd 308px,#0000c8 358px,#0000d6 386px,#0000ff 423px,#0000ff 443px,#0024ff 501px,#0020ff"></i><i class=h2 style="--g:#00009b,#00009f 123px,#0000cd 220px,#0000d6 277px,#000089 358px,#0000ff 430px,#0000ff 445px,#0024ff 484px,#0024ff"></i><i style="--g:#00009b,#0000ad 142px,#0000d1 199px,#0000c8 209px,#0000df 233px,#0000d6 243px,#0000df 247px,#0000d6 257px,#0000df 284px,#0000d1 291px,#0000d1 316px,#0000bf 326px,#0000bb 347px,#0000c4 350px,#0000bf 366px,#0000cd 371px,#0000c8 380px,#0000ff 418px,#0000ff 435px,#002cff 489px,#0028ff"></i><i style="--g:#00009b,#00009f 128px,#0000f6 275px,#0000ff 395px,#0030ff 487px,#0024ff"></i><i class=h2 style="--g:#000096,#000096 50px,#000080 109px,#00009f 153px,#0000da 210px,#0000da 221px,#0000e8 226px,#0000e8 237px,#0000f6 243px,#0000f1 254px,#0000ff 260px,#0000ff 376px,#000cff 382px,#000cff 428px,#0020ff 469px,#0018ff 477px,#0024ff 485px,#0018ff 489px,#0024ff 495px,#0018ff 504px,#0024ff 511px,#0014ff"></i><i style="--g:#00009b,#00009b 94px,#0000a8 140px,#0000bb 155px,#0000b6 163px,#0000c4 168px,#0000c8 187px,#0000d6 193px,#0000da 211px,#0000e8 217px,#0000ff 260px,#0000ff 332px,#0000f6 356px,#0000e8 363px,#0000ed 380px,#0000df 388px,#0000e8 394px,#0000da 398px,#0000e8 404px,#0000df 416px,#0000ed 422px,#0000e3 426px,#0000ed 434px,#0000e3 436px,#0000f1 439px,#0000fa 446px,#0000f1 451px,#0000ff 456px,#0000f6 460px,#0000ff 462px,#0004ff"></i><i style="--g:#00009b,#0000b2 127px,#0000c8 170px,#0000da 184px,#0000d6 196px,#0000e8 211px,#0000ff 285px,#0000f1 292px,#0000f6 305px,#0000d1 350px,#000080 406px,#000092 424px,#0000b6 438px,#0000bb 451px,#0000d6 461px,#0000d6 473px,#0000ed 483px,#0000e8 491px,#0000ff 505px,#0000fa"></i><i class=h2 style="--g:#000092,#0000a4 117px,#0000ff 267px,#0000ed 334px,#0000d1 384px,#0000ff"></i><i style="--g:#00008d,#000084 101px,#0000a4 153px,#0000b6 163px,#0000cd 203px,#0000df 213px,#0000da 224px,#0000ed 232px,#0000e8 247px,#0000fa 255px,#0000f1 267px,#0000ff 277px,#0000f6 287px,#0000ff 330px,#0000f1 358px,#0000ff"></i><i class=h2 style="--g:#00008d,#000096 101px,#0000bb 153px,#0000b6 162px,#0000cd 179px,#0000c8 185px,#0000ed 225px,#0000fa 264px,#0000f6 290px,#0000ed 292px,#0000f6 300px,#0000e3 316px,#0000ed 324px,#0000e3 338px,#0000d6 340px,#0000df 349px,#0000c8 368px,#0000da 372px,#0000c8 378px,#0000d1 386px,#0000c4 392px,#0000d1 396px,#0000c8 398px,#0000d6 405px,#0000cd 417px,#0000e3 430px,#0000da 437px,#0000f1 453px,#0000f1 471px,#0000ff 477px,#0000ff"></i><i style="--g:#000089,#0000a8 90px,#0000d1 157px,#0000ed 183px,#0000ff 226px,#0000f6 301px,#0000d6 327px,#0000d6 336px,#0000c4 343px,#0000c4 352px,#0000ad 360px,#0000b6 362px,#0000a8 366px,#0000b2 368px,#00009b 376px,#0000a4 379px,#000096 382px,#0000a4 384px,#000092 388px,#00009b 390px,#000092 392px,#000096 398px,#0000a4 400px,#0000a8 415px,#0000cd 437px,#0000f1 472px,#0000ff 493px,#0000ff"></i><i style="--g:#00008d,#0000a8 65px,#0000ff 170px,#0000ff 197px,#001cff 251px,#001cff 304px,#0000ff 380px,#0010ff 488px,#0008ff"></i><i class=h2 style="--g:#000096,#0000bf 78px,#0000ff 141px,#0000ff 161px,#0030ff 207px,#0050ff 255px,#0060ff 320px,#0050ff 404px,#0044ff 412px,#004cff 418px,#0040ff 426px,#0048ff 432px,#0034ff 455px,#0038ff 467px,#0028ff 475px,#0034ff 481px,#0024ff 489px,#002cff 495px,#001cff 503px,#0028ff 509px,#001cff 511px,#001cff"></i><i style="--g:#00009b,#0000a8 36px,#0000c8 79px,#0000ff 128px,#0000ff 145px,#0054ff 229px,#0070ff 276px,#0064ff 314px,#006cff 320px,#0060ff 330px,#0068ff 344px,#005cff 346px,#0064ff 352px,#0058ff 354px,#0060ff 360px,#0054ff 362px,#005cff 368px,#0050ff 370px,#0058ff 376px,#0048ff 378px,#0054ff 384px,#0044ff 386px,#0050ff 392px,#0040ff 396px,#004cff 400px,#0038ff 403px,#0044ff 408px,#0034ff 410px,#0040ff 416px,#002cff 419px,#003cff 424px,#0028ff 427px,#0038ff 432px,#0024ff 434px,#0030ff 440px,#001cff 443px,#002cff 447px,#0018ff 451px,#0028ff 456px,#0014ff 459px,#0024ff 464px,#000cff 467px,#001cff 473px,#0008ff 475px,#001cff 480px,#0004ff 483px,#0014ff 487px,#0014ff 489px,#0000ff 491px,#0010ff 496px,#0000ff 499px,#000cff 504px,#0000ff 506px,#0004ff"></i><i class=h2 style="--g:#000096,#0000b6 56px,#0000f1 114px,#0000ff 119px,#0004ff 144px,#003cff 197px,#005cff 256px,#0050ff 289px,#0058ff 298px,#0034ff 338px,#0030ff 356px,#0010ff 376px,#0010ff 384px,#0004ff 386px,#0000ff 415px,#0000f1 417px,#0000f6 422px,#0000e3 425px,#0000e8 432px,#0000d6 435px,#0000df 442px,#0000cd 447px,#0000da 452px,#0000bf 455px,#0000d6 463px,#0000bb 465px,#0000d6 472px,#0000b6 475px,#0000c8 481px,#0000ad 483px,#0000c8 490px,#0000c8 491px,#0000ad 493px,#0000c8 501px,#0000ad 503px,#0000cd 511px,#0000b2 513px,#0000d6"></i><i style="--g:#0000a4,#0000cd 62px,#0000ff 105px,#0004ff 134px,#0030ff 180px,#004cff 227px,#0048ff 270px,#0054ff 277px,#0044ff 283px,#004cff 290px,#0038ff 307px,#0040ff 314px,#0030ff 320px,#0038ff 326px,#0024ff 335px,#0030ff 338px,#001cff 344px,#0024ff 351px,#0010ff 357px,#001cff 362px,#0000ff 372px,#0010ff 374px,#0000ff 378px,#0000f6 395px,#0000ff 401px,#0000e8 407px,#0000fa 411px,#0000da 419px,#0000f1 423px,#0000cd 431px,#0000e3 435px,#0000bf 444px,#0000da 447px,#0000b6 456px,#0000d1 459px,#0000ad 467px,#0000b2 469px,#0000cd 471px,#0000a8 479px,#0000ad 481px,#0000c4 483px,#0000a8 490px,#0000a8 493px,#0000c4 495px,#0000a8 503px,#0000a8 505px,#0000bf 507px,#0000ad 514px,#0000bf"></i><i style="--g:#0000bb,#0000d6 56px,#0000ff 95px,#0004ff 136px,#0014ff 143px,#001cff 169px,#0034ff 191px,#0034ff 215px,#0040ff 220px,#0038ff 231px,#0048ff 238px,#0040ff 249px,#004cff 253px,#0040ff 265px,#0050ff 271px,#003cff 280px,#0048ff 289px,#0034ff 313px,#003cff 322px,#0030ff 328px,#002cff 353px,#001cff 362px,#0024ff 368px,#0014ff 377px,#0010ff 402px,#0004ff 408px,#0000ff 467px,#0000f1 475px,#0000fa 481px,#0000ed 494px,#0000f6 497px,#0000e8 503px,#0000ed 514px,#0000e3"></i><i class=h2 style="--g:#0000ad,#0000bb 18px,#0000b6 34px,#0000c4 40px,#0000bf 55px,#0000d6 66px,#0000cd 79px,#0000e3 89px,#0000df 103px,#0000fa 114px,#0000f1 128px,#0000ff 133px,#0000ff 156px,#0014ff 163px,#0004ff 176px,#0024ff 187px,#0010ff 199px,#0030ff 210px,#001cff 224px,#0038ff 234px,#0020ff 248px,#003cff 258px,#0024ff 270px,#003cff 284px,#0020ff 295px,#0020ff 302px,#0034ff 310px,#0014ff 320px,#0010ff 326px,#0024ff 334px,#0000ff 349px,#0010ff 356px,#0000ff 363px,#0000ff 387px,#0000ed 394px,#0000fa 398px,#0000ed 400px,#0000f6 407px,#0000df 416px,#0000e8 422px,#0000da 424px,#0000d6 447px,#0000c8 449px,#0000d1 452px,#0000c4 466px,#0000d1 478px,#0000c4 488px,#0000cd"></i><i style="--g:#000084,#000080 13px,#000096 36px,#000096 56px,#0000a8 64px,#0000a8 73px,#0000c4 86px,#0000c4 106px,#0000da 115px,#0000df 126px,#0000fa 136px,#0000f1 147px,#0000ff 157px,#0000ff 175px,#001cff 185px,#0014ff 205px,#0028ff 215px,#0020ff 225px,#003cff 235px,#002cff 245px,#002cff 276px,#0040ff 283px,#0028ff 302px,#0030ff 313px,#0018ff 324px,#0024ff 336px,#0000ff 370px,#0000ff 389px,#0000e8 402px,#0000e8 414px,#0000cd 422px,#0000da 427px,#0000bb 452px,#0000bf 467px,#0000b2 472px,#0000d1 475px,#0000b2 505px,#0000bf"></i><i style="--g:#0000c4,#0000da 42px,#0000ff 81px,#0000ff 103px,#0068ff 213px,#008cff 289px,#0080ff 368px,#0028ff"></i><i class=h2 style="--g:#0000ff,#0008ff 35px,#0038ff 71px,#0034ff 82px,#006cff 118px,#0064ff 129px,#0088ff 145px,#008cff 157px,#00a0ff 166px,#0098ff 178px,#00b8ff 191px,#00b8ff 203px,#00ccff 211px,#00c0ff 226px,#00e0fb 239px,#00dcfe 252px,#06ecf1 262px,#00dcfe 276px,#0cf4eb 285px,#09f0ee 301px,#13fce4 306px,#00e4f8 318px,#0ff8e7 338px,#0cf4eb 355px,#00d8ff 370px,#02e8f4 379px,#00e0fb 402px,#00c0ff 418px,#00c0ff 446px,#009cff 464px,#00a0ff 481px,#0094ff 495px,#0070ff 513px,#0074ff"></i><i style="--g:#0000ff,#0004ff 27px,#001cff 38px,#001cff 51px,#0038ff 62px,#0038ff 75px,#0054ff 88px,#0050ff 98px,#006cff 107px,#0064ff 118px,#0088ff 130px,#007cff 142px,#00a4ff 155px,#0098ff 167px,#00bcff 178px,#00acff 189px,#00d0ff 202px,#00bcff 213px,#00e0fb 226px,#00ccff 238px,#06ecf1 249px,#06ecf1 253px,#00d0ff 261px,#09f0ee 271px,#09f0ee 276px,#00d0ff 285px,#09f0ee 295px,#06ecf1 301px,#00ccff 309px,#06ecf1 318px,#06ecf1 323px,#00c4ff 333px,#00e4f8 344px,#00bcff 356px,#00c8ff 358px,#00d4ff 370px,#00acff 380px,#00bcff 382px,#00c4ff 392px,#009cff 403px,#00acff 407px,#00b0ff 416px,#0088ff 428px,#009cff 431px,#009cff 439px,#0074ff 452px,#0088ff 455px,#0088ff 462px,#0060ff 476px,#0074ff 479px,#0074ff 485px,#004cff 500px,#0060ff 503px,#0060ff 509px,#0044ff"></i><i class=h2 style="--g:#0000da,#0000ff 26px,#0000ff 50px,#0014ff 59px,#0038ff 101px,#004cff 109px,#0048ff 116px,#005cff 123px,#0058ff 131px,#006cff 138px,#0068ff 148px,#007cff 155px,#0078ff 165px,#008cff 171px,#0084ff 181px,#0098ff 187px,#0090ff 197px,#00a4ff 205px,#0094ff 213px,#00a8ff 219px,#009cff 228px,#00acff 234px,#009cff 243px,#00b0ff 250px,#009cff 259px,#00acff 266px,#009cff 274px,#00a8ff 283px,#008cff 291px,#00a0ff 300px,#0084ff 306px,#0094ff 316px,#0074ff 323px,#0088ff 331px,#0064ff 339px,#0078ff 347px,#0050ff 356px,#0064ff 360px,#0064ff 363px,#003cff 372px,#004cff 374px,#0050ff 379px,#0024ff 388px,#003cff 392px,#003cff 395px,#0010ff 404px,#0028ff 410px,#0000ff 418px,#0000ff 421px,#0010ff 423px,#0000ff 433px,#0000f1 436px,#0000ff 438px,#0000ff 445px,#0000da 451px,#0000fa 456px,#0000c4 468px,#0000e8 471px,#0000d6 477px,#0000ad 484px,#0000b2 485px,#0000d6 487px,#0000a4 499px,#0000a4 501px,#0000cd 503px,#0000a8 511px,#00009f 516px,#00009f 517px,#0000c8 519px,#0000bf"></i><i style="--g:#0000ff,#0000ff 19px,#0074ff 119px,#00b0ff 182px,#00a8ff 185px,#00b8ff 193px,#00b8ff 209px,#00c8ff 219px,#00c0ff 224px,#00ccff 229px,#00c8ff 247px,#00d4ff 251px,#00c8ff 258px,#00d4ff 267px,#00c8ff 271px,#00d8ff 277px,#00c8ff 282px,#00d0ff 291px,#00c4ff 293px,#00d0ff 300px,#00c0ff 306px,#00ccff 315px,#00b8ff 318px,#00c8ff 326px,#00b4ff 330px,#00c0ff 340px,#00a8ff 342px,#00b8ff 352px,#00a0ff 354px,#00b0ff 364px,#0098ff 366px,#00a8ff 376px,#0090ff 378px,#00a0ff 388px,#0084ff 390px,#0094ff 398px,#0094ff 400px,#007cff 402px,#008cff 412px,#0070ff 414px,#0084ff 424px,#0064ff 427px,#0078ff 436px,#0058ff 439px,#006cff 448px,#004cff 451px,#0060ff 460px,#0040ff 463px,#0058ff 472px,#0034ff 475px,#0050ff 484px,#002cff 487px,#0044ff 497px,#0020ff 499px,#0040ff 508px,#0040ff 509px,#001cff 511px,#0038ff"></i><i style="--g:#0030ff,#0084ff 77px,#00d8ff 140px,#00dcfe 152px,#16ffe1 178px,#49ffad 265px,#43ffb4 286px,#50ffa7 314px,#43ffb4 324px,#4dffaa 331px,#43ffb4 334px,#49ffad 352px,#40ffb7 354px,#49ffad 362px,#3cffba 364px,#43ffb4 370px,#36ffc1 372px,#3cffba 390px,#33ffc4 392px,#39ffbe 400px,#2cffca 402px,#33ffc4 410px,#26ffd1 413px,#2cffca 418px,#23ffd4 420px,#29ffce 428px,#1cffdb 431px,#23ffd4 438px,#16ffe1 441px,#19ffde 449px,#0cf4eb 451px,#0ff8e7 457px,#06ecf1 459px,#0cf4eb 466px,#00e4f8 469px,#06ecf1 476px,#00dcfe 479px,#00e4f8 487px,#00d0ff 490px,#00d8ff 497px,#00c8ff 499px,#00ccff 505px,#00bcff 507px,#00c4ff 515px,#00b8ff"></i><i class=h2 style="--g:#0040ff,#00c0ff 109px,#00d8ff 139px,#0ff8e7 165px,#0cf4eb 171px,#16ffe1 173px,#39ffbe 245px,#33ffc4 267px,#3cffba 269px,#30ffc7 283px,#39ffbe 286px,#30ffc7 308px,#39ffbe 310px,#2cffca 324px,#36ffc1 326px,#26ffd1 340px,#33ffc4 342px,#23ffd4 348px,#30ffc7 350px,#1fffd7 356px,#2cffca 358px,#1cffdb 364px,#29ffce 366px,#19ffde 372px,#26ffd1 374px,#16ffe1 380px,#1fffd7 383px,#13fce4 388px,#1cffdb 390px,#0ff8e7 396px,#16ffe1 400px,#0cf4eb 404px,#16ffe1 407px,#06ecf1 412px,#0ff8e7 414px,#00e0fb 428px,#06ecf1 431px,#00d8ff 436px,#00e4f8 438px,#00d4ff 444px,#00e0fb 447px,#00ccff 452px,#00d8ff 455px,#00c4ff 460px,#00d0ff 463px,#00bcff 468px,#00c8ff 471px,#00b4ff 477px,#00c0ff 479px,#00b0ff 484px,#00bcff 487px,#00acff 493px,#00b8ff 495px,#00a4ff 501px,#00b0ff 503px,#009cff 509px,#00a8ff 511px,#0094ff 517px,#009cff"></i><i style="--g:#0034ff,#00acff 134px,#00a8ff 147px,#00bcff 168px,#00bcff 207px,#00c8ff 223px,#00bcff 227px,#00c4ff 238px,#00b8ff 241px,#00c0ff 266px,#00acff 276px,#00b4ff 285px,#00a4ff 289px,#00b0ff 291px,#00b0ff 300px,#00a0ff 303px,#00a8ff 306px,#0098ff 310px,#00a0ff 320px,#0088ff 326px,#0094ff 328px,#0088ff 330px,#0094ff 334px,#0080ff 338px,#0090ff 340px,#007cff 346px,#008cff 348px,#0074ff 352px,#0084ff 354px,#0068ff 360px,#0078ff 362px,#0064ff 366px,#0074ff 368px,#0058ff 373px,#0064ff 376px,#0054ff 380px,#0064ff 382px,#0050ff 386px,#0064ff 388px,#0048ff 394px,#0058ff 396px,#003cff 400px,#004cff 402px,#0030ff 408px,#003cff 411px,#002cff 414px,#003cff 416px,#0024ff 420px,#0038ff 423px,#001cff 428px,#002cff 431px,#0018ff 434px,#0028ff 437px,#0008ff 442px,#0018ff 444px,#0008ff 449px,#0018ff 451px,#0000ff 454px,#0000ff 474px,#0000f6 476px,#0000ff 480px,#0000ed 483px,#0000ff 484px,#0000ff 486px,#0000da 490px,#0000da 491px,#0000f6 493px,#0000da 497px,#0000f6 499px,#0000c8 505px,#0000e8 507px,#0000c8 511px,#0000ed 513px,#0000c8 517px,#0000ed 519px,#0000da"></i><i style="--g:#0044ff,#0098ff 84px,#009cff 98px,#00a8ff 102px,#00a0ff 104px,#00acff 108px,#00b0ff 123px,#00bcff 126px,#00b4ff 129px,#00c0ff 132px,#00ccff 150px,#00c4ff 153px,#00d0ff 156px,#00c8ff 159px,#00d4ff 162px,#00ccff 165px,#00d8ff 168px,#00d0ff 171px,#00e0fb 181px,#00d4ff 183px,#00e4f8 187px,#00d8ff 189px,#02e8f4 198px,#00dcfe 201px,#06ecf1 205px,#00e0fb 207px,#06ecf1 210px,#00e0fb 213px,#09f0ee 217px,#00e4f8 219px,#09f0ee 222px,#00e4f8 225px,#0cf4eb 229px,#00e4f8 231px,#0cf4eb 235px,#02e8f4 237px,#0cf4eb 241px,#02e8f4 243px,#0cf4eb 246px,#02e8f4 250px,#0ff8e7 253px,#02e8f4 255px,#0ff8e7 259px,#02e8f4 261px,#0ff8e7 265px,#02e8f4 267px,#0ff8e7 271px,#02e8f4 273px,#0ff8e7 277px,#02e8f4 279px,#0cf4eb 290px,#00e4f8 292px,#0cf4eb 295px,#00e4f8 298px,#0cf4eb 301px,#00e0fb 304px,#09f0ee 307px,#00e0fb 310px,#09f0ee 314px,#00dcfe 316px,#06ecf1 319px,#00dcfe 322px,#06ecf1 326px,#00d8ff 328px,#02e8f4 332px,#00d4ff 334px,#02e8f4 338px,#00d0ff 340px,#00e4f8 343px,#00d0ff 346px,#00e4f8 350px,#00ccff 352px,#00e0fb 356px,#00c8ff 358px,#00e0fb 362px,#00c4ff 364px,#00dcfe 368px,#00c0ff 370px,#00d8ff 374px,#00bcff 376px,#00d4ff 380px,#00b8ff 382px,#00d0ff 386px,#00b4ff 388px,#00ccff 392px,#00b4ff 394px,#00c8ff 398px,#00b0ff 400px,#00c4ff 404px,#00acff 406px,#00c0ff 410px,#00a8ff 412px,#00bcff 416px,#00a4ff 419px,#00b8ff 422px,#009cff 425px,#00b4ff 428px,#0098ff 431px,#00b0ff 434px,#0094ff 437px,#00a8ff 440px,#0090ff 443px,#00a4ff 446px,#0088ff 449px,#00a0ff 452px,#0084ff 455px,#009cff 458px,#0080ff 461px,#0098ff 464px,#007cff 467px,#0090ff 470px,#0078ff 473px,#008cff 477px,#0070ff 479px,#0088ff 483px,#006cff 485px,#0084ff 489px,#0068ff 491px,#0084ff 495px,#0064ff 497px,#0080ff 501px,#005cff 503px,#007cff 507px,#0058ff 509px,#0078ff 513px,#0054ff 515px,#0074ff 519px,#0050ff"></i><i class=h2 style="--g:#006cff,#00d8ff 99px,#09f0ee 125px,#16ffe1 132px,#23ffd4 157px,#36ffc1 167px,#30ffc7 173px,#3cffba 177px,#39ffbe 189px,#4dffaa 199px,#43ffb4 205px,#56ffa0 214px,#4dffaa 221px,#5dff9a 225px,#60ff97 235px,#56ffa0 237px,#66ff90 241px,#6aff8d 247px,#60ff97 253px,#6dff8a 257px,#66ff90 270px,#77ff80 279px,#6dff8a 286px,#7dff7a 305px,#73ff83 308px,#80ff77 327px,#77ff80 340px,#83ff73 344px,#77ff80 350px,#83ff73 360px,#77ff80 366px,#80ff77 370px,#73ff83 372px,#80ff77 376px,#73ff83 382px,#7dff7a 392px,#70ff87 399px,#7aff7d 402px,#6dff8a 404px,#77ff80 408px,#6aff8d 415px,#73ff83 418px,#63ff94 430px,#6dff8a 440px,#5aff9d 447px,#63ff94 457px,#50ffa7 463px,#5aff9d 473px,#49ffad 479px,#53ffa4 489px,#3cffba 495px,#46ffb1 505px,#33ffc4 511px,#40ffb7 515px,#33ffc4 517px,#39ffbe"></i><i style="--g:#0068ff,#0090ff 46px,#00a4ff 53px,#00a8ff 70px,#00bcff 76px,#00c0ff 94px,#00d4ff 100px,#00d8ff 118px,#06ecf1 124px,#06ecf1 139px,#16ffe1 148px,#19ffde 167px,#29ffce 173px,#1fffd7 181px,#29ffce 183px,#26ffd1 191px,#39ffbe 197px,#2cffca 205px,#43ffb4 221px,#39ffbe 229px,#49ffad 235px,#43ffb4 239px,#50ffa7 245px,#43ffb4 253px,#56ffa0 270px,#4dffaa 273px,#5aff9d 284px,#4dffaa 298px,#60ff97 308px,#53ffa4 316px,#5dff9a 318px,#50ffa7 322px,#63ff94 332px,#50ffa7 346px,#60ff97 352px,#56ffa0 360px,#60ff97 362px,#53ffa4 364px,#5dff9a 366px,#4dffaa 370px,#60ff97 380px,#53ffa4 384px,#5dff9a 386px,#50ffa7 388px,#5aff9d 390px,#49ffad 394px,#5dff9a 404px,#4dffaa 408px,#50ffa7 415px,#43ffb4 418px,#53ffa4 429px,#3cffba 442px,#49ffad 453px,#39ffbe 457px,#40ffb7 463px,#33ffc4 466px,#40ffb7 477px,#30ffc7 481px,#29ffce 490px,#33ffc4 501px,#1fffd7 509px,#29ffce 511px,#1cffdb 519px,#26ffd1"></i><i class=h2 style="--g:#0068ff,#0074ff 9px,#0070ff 21px,#0084ff 35px,#0078ff 46px,#0090ff 52px,#0088ff 72px,#0094ff 74px,#009cff 84px,#0090ff 95px,#00a4ff 100px,#0094ff 120px,#00acff 132px,#009cff 143px,#00acff 149px,#00a4ff 153px,#00b0ff 159px,#009cff 169px,#00b4ff 181px,#00a0ff 191px,#00a0ff 195px,#00b0ff 197px,#00a4ff 200px,#00b0ff 203px,#00a8ff 205px,#00b4ff 207px,#00a0ff 213px,#00a8ff 215px,#0098ff 217px,#00a8ff 219px,#00a0ff 221px,#00b8ff 223px,#00a4ff 227px,#00b4ff 229px,#00a0ff 235px,#00a8ff 237px,#0098ff 239px,#00a4ff 241px,#0098ff 243px,#00a8ff 245px,#0098ff 249px,#00a8ff 251px,#00a0ff 253px,#00acff 255px,#0090ff 265px,#00a8ff 272px,#0098ff 275px,#009cff 282px,#0084ff 291px,#0094ff 294px,#0080ff 297px,#0094ff 304px,#0088ff 306px,#0090ff 308px,#0080ff 310px,#0088ff 312px,#0078ff 314px,#0088ff 316px,#007cff 318px,#0090ff 320px,#0078ff 324px,#0088ff 326px,#007cff 328px,#0088ff 330px,#0078ff 332px,#0080ff 334px,#0070ff 336px,#007cff 338px,#006cff 340px,#0080ff 342px,#0064ff 346px,#0078ff 348px,#006cff 350px,#0080ff 352px,#006cff 354px,#0078ff 356px,#0064ff 358px,#0074ff 360px,#005cff 362px,#0070ff 364px,#005cff 366px,#0078ff 368px,#0058ff 372px,#006cff 374px,#005cff 376px,#0070ff 378px,#0058ff 380px,#0068ff 382px,#0050ff 384px,#0060ff 386px,#004cff 388px,#0064ff 390px,#0058ff 392px,#0070ff 394px,#004cff 398px,#0060ff 400px,#004cff 402px,#0058ff 404px,#0044ff 406px,#0050ff 408px,#003cff 410px,#004cff 412px,#003cff 414px,#0054ff 416px,#0034ff 420px,#0048ff 422px,#003cff 424px,#0048ff 427px,#0034ff 432px,#0040ff 434px,#002cff 436px,#003cff 438px,#0030ff 440px,#0048ff 443px,#0028ff 446px,#0038ff 448px,#002cff 450px,#0038ff 453px,#0028ff 455px,#0030ff 457px,#0020ff 459px,#0030ff 461px,#0020ff 463px,#0038ff 465px,#0014ff 469px,#0028ff 471px,#0018ff 473px,#0028ff 475px,#0014ff 477px,#0024ff 479px,#0010ff 481px,#0020ff 483px,#000cff 485px,#0024ff 487px,#0014ff 489px,#0030ff 491px,#0008ff 495px,#001cff 497px,#0008ff 499px,#001cff 501px,#0004ff 503px,#0018ff 505px,#0000ff 507px,#0018ff 509px,#0004ff 511px,#0024ff 513px,#0004ff 516px,#0000ff 517px,#0014ff 519px,#0000ff"></i><i style="--g:#00b0ff,#00bcff 2px,#00b4ff 4px,#00c0ff 10px,#00b8ff 12px,#00c4ff 14px,#00c0ff 24px,#00ccff 26px,#00c4ff 32px,#00d4ff 38px,#00c8ff 40px,#00d8ff 46px,#00ccff 48px,#00dcfe 50px,#00d0ff 52px,#00e0fb 58px,#00d4ff 60px,#00e4f8 66px,#00d8ff 68px,#00e4f8 70px,#00dcfe 76px,#02e8f4 78px,#00dcfe 80px,#02e8f4 82px,#00e0fb 92px,#06ecf1 94px,#02e8f4 108px,#0cf4eb 110px,#06ecf1 141px,#0ff8e7 143px,#06ecf1 149px,#0ff8e7 151px,#09f0ee 157px,#13fce4 159px,#09f0ee 161px,#13fce4 163px,#09f0ee 165px,#16ffe1 167px,#0cf4eb 173px,#19ffde 175px,#0cf4eb 177px,#19ffde 179px,#0cf4eb 181px,#19ffde 183px,#0cf4eb 185px,#19ffde 187px,#0cf4eb 189px,#19ffde 191px,#0cf4eb 193px,#19ffde 195px,#0cf4eb 197px,#19ffde 199px,#0cf4eb 201px,#1cffdb 203px,#0cf4eb 205px,#1cffdb 207px,#0cf4eb 209px,#1cffdb 211px,#0ff8e7 213px,#1cffdb 215px,#0ff8e7 217px,#1cffdb 219px,#0ff8e7 221px,#1fffd7 227px,#13fce4 229px,#1fffd7 231px,#13fce4 233px,#1fffd7 235px,#13fce4 237px,#1fffd7 239px,#13fce4 241px,#1fffd7 243px,#13fce4 245px,#1cffdb 247px,#0ff8e7 249px,#16ffe1 252px,#0cf4eb 253px,#16ffe1 255px,#09f0ee 257px,#16ffe1 259px,#06ecf1 261px,#13fce4 263px,#06ecf1 265px,#13fce4 267px,#0cf4eb 269px,#19ffde 271px,#13fce4 273px,#23ffd4 275px,#19ffde 277px,#26ffd1 279px,#1cffdb 282px,#29ffce 283px,#1cffdb 285px,#26ffd1 287px,#1cffdb 290px,#29ffce 292px,#1cffdb 294px,#29ffce 296px,#1cffdb 298px,#29ffce 299px,#1cffdb 302px,#29ffce 303px,#1cffdb 306px,#29ffce 308px,#1cffdb 310px,#29ffce 312px,#1cffdb 314px,#29ffce 316px,#19ffde 318px,#29ffce 320px,#19ffde 322px,#29ffce 324px,#16ffe1 326px,#29ffce 328px,#16ffe1 330px,#26ffd1 332px,#16ffe1 334px,#26ffd1 336px,#13fce4 338px,#26ffd1 340px,#13fce4 342px,#26ffd1 344px,#0ff8e7 346px,#26ffd1 348px,#0ff8e7 350px,#23ffd4 352px,#0cf4eb 354px,#23ffd4 356px,#0cf4eb 358px,#23ffd4 360px,#09f0ee 362px,#1fffd7 364px,#09f0ee 366px,#1fffd7 368px,#06ecf1 370px,#1cffdb 372px,#06ecf1 374px,#1cffdb 376px,#06ecf1 378px,#19ffde 380px,#06ecf1 382px,#19ffde 384px,#06ecf1 386px,#19ffde 388px,#02e8f4 390px,#16ffe1 392px,#02e8f4 394px,#16ffe1 396px,#06ecf1 398px,#19ffde 400px,#06ecf1 402px,#16ffe1 404px,#02e8f4 406px,#16ffe1 408px,#02e8f4 410px,#13fce4 412px,#00e4f8 414px,#0ff8e7 416px,#00e4f8 418px,#0ff8e7 420px,#00e4f8 422px,#0cf4eb 424px,#00e0fb 426px,#09f0ee 428px,#00dcfe 430px,#06ecf1 432px,#00dcfe 434px,#06ecf1 436px,#00dcfe 438px,#06ecf1 441px,#00dcfe 442px,#02e8f4 445px,#00d8ff 447px,#02e8f4 448px,#00d8ff 450px,#02e8f4 453px,#00d4ff 455px,#02e8f4 457px,#00d4ff 459px,#00e4f8 461px,#00d0ff 463px,#00e4f8 465px,#00d0ff 467px,#00e0fb 469px,#00ccff 471px,#00e0fb 473px,#00c8ff 475px,#00dcfe 477px,#00c4ff 479px,#00d8ff 481px,#00c0ff 483px,#00d4ff 485px,#00bcff 487px,#00d0ff 489px,#00b4ff 491px,#00ccff 493px,#00b0ff 495px,#00c8ff 497px,#00acff 499px,#00c8ff 501px,#00acff 503px,#00c4ff 505px,#00a8ff 507px,#00c4ff 509px,#00a8ff 511px,#00c4ff 513px,#00a4ff 515px,#00c0ff 517px,#00a0ff 519px,#00bcff"></i><i style="--g:#06ecf1,#16ffe1 15px,#13fce4 24px,#2cffca 38px,#29ffce 54px,#3cffba 64px,#33ffc4 72px,#4dffaa 86px,#49ffad 98px,#60ff97 108px,#56ffa0 121px,#6dff8a 135px,#6aff8d 147px,#80ff77 161px,#73ff83 169px,#8dff6a 187px,#7dff7a 191px,#9aff5d 205px,#8dff6a 221px,#a4ff53 235px,#94ff63 243px,#aaff4d 257px,#a0ff56 266px,#b7ff40 276px,#a4ff53 288px,#b7ff40 302px,#b7ff40 310px,#aaff4d 314px,#baff3c 320px,#beff39 332px,#aaff4d 336px,#beff39 354px,#aaff4d 358px,#b4ff43 360px,#aaff4d 362px,#baff3c 364px,#b1ff46 366px,#beff39 368px,#b4ff43 370px,#c1ff36 372px,#b7ff40 374px,#c1ff36 380px,#adff49 384px,#b7ff40 386px,#adff49 388px,#b7ff40 390px,#b1ff46 396px,#beff39 398px,#b4ff43 400px,#baff3c 402px,#a7ff50 406px,#baff3c 420px,#b7ff40 429px,#a7ff50 432px,#b1ff46 451px,#9dff5a 454px,#a7ff50 461px,#a0ff56 467px,#aaff4d 469px,#a0ff56 471px,#aaff4d 473px,#97ff60 481px,#a0ff56 483px,#9aff5d 489px,#a4ff53 491px,#9aff5d 493px,#a4ff53 495px,#9aff5d 497px,#a0ff56 499px,#8dff6a 503px,#97ff60 505px,#8aff6d 507px,#94ff63 509px,#8aff6d 511px,#97ff60 513px,#8aff6d 515px,#97ff60 517px,#8dff6a 519px,#97ff60"></i><i class=h2 style="--g:#0070ff,#0084ff 28px,#009cff 42px,#0098ff 52px,#00a8ff 56px,#00acff 76px,#00bcff 80px,#00b8ff 87px,#00c4ff 90px,#00bcff 93px,#00d0ff 104px,#00d8ff 122px,#00e4f8 128px,#00e4f8 142px,#13fce4 153px,#0cf4eb 159px,#1fffd7 177px,#1cffdb 189px,#2cffca 197px,#29ffce 207px,#3cffba 225px,#36ffc1 231px,#49ffad 259px,#40ffb7 262px,#50ffa7 274px,#50ffa7 304px,#60ff97 317px,#56ffa0 328px,#63ff94 332px,#5dff9a 338px,#66ff90 341px,#5dff9a 352px,#6aff8d 356px,#63ff94 362px,#6dff8a 366px,#63ff94 376px,#70ff87 380px,#66ff90 401px,#73ff83 413px,#6aff8d 424px,#73ff83 428px,#6aff8d 448px,#73ff83 453px,#6aff8d 472px,#73ff83 487px,#66ff90 496px,#70ff87 501px,#63ff94"></i><i style="--g:#0080ff,#0094ff 3px,#0080ff 10px,#0090ff 13px,#0084ff 16px,#009cff 20px,#0084ff 26px,#0098ff 30px,#0088ff 32px,#00a0ff 35px,#0090ff 38px,#0098ff 40px,#0088ff 42px,#00a0ff 46px,#0090ff 48px,#00a8ff 52px,#0098ff 54px,#00a0ff 56px,#008cff 58px,#00a4ff 62px,#0098ff 64px,#00b0ff 67px,#0094ff 74px,#00acff 78px,#009cff 80px,#00b4ff 84px,#0098ff 90px,#00b0ff 94px,#00a0ff 96px,#00bcff 100px,#009cff 106px,#00b4ff 110px,#00a8ff 112px,#00c0ff 115px,#00a4ff 123px,#00b8ff 126px,#00acff 128px,#00c8ff 132px,#00a8ff 138px,#00bcff 142px,#00b0ff 145px,#00c8ff 147px,#00c8ff 149px,#00b4ff 151px,#00b8ff 153px,#00a8ff 155px,#00c0ff 158px,#00b0ff 161px,#00c8ff 163px,#00ccff 165px,#00b4ff 167px,#00bcff 169px,#00a8ff 171px,#00c4ff 175px,#00b4ff 177px,#00d0ff 180px,#00b8ff 183px,#00c0ff 185px,#00acff 187px,#00c8ff 191px,#00b4ff 193px,#00d4ff 197px,#00b8ff 199px,#00c4ff 201px,#00acff 203px,#00ccff 207px,#00b4ff 209px,#00d0ff 211px,#00d8ff 213px,#00bcff 215px,#00c8ff 217px,#00b0ff 219px,#00ccff 223px,#00b4ff 225px,#00d8ff 229px,#00bcff 231px,#00c8ff 233px,#00b0ff 235px,#00ccff 239px,#00b4ff 241px,#00d4ff 245px,#00bcff 247px,#00c8ff 249px,#00b0ff 251px,#00ccff 255px,#00b8ff 257px,#00d8ff 261px,#00c0ff 263px,#00c8ff 265px,#00b4ff 267px,#00c8ff 271px,#00acff 274px,#00c4ff 277px,#00b0ff 280px,#00bcff 281px,#00acff 284px,#00c8ff 287px,#00b0ff 290px,#00c8ff 293px,#00b4ff 295px,#00bcff 298px,#00acff 300px,#00c8ff 303px,#00b0ff 306px,#00c8ff 310px,#00b0ff 312px,#00c0ff 314px,#00acff 316px,#00c8ff 319px,#00b0ff 322px,#00c8ff 326px,#00b0ff 328px,#00c0ff 330px,#00acff 332px,#00ccff 336px,#00b0ff 338px,#00ccff 342px,#00b0ff 344px,#00c4ff 346px,#00a8ff 348px,#00ccff 352px,#00acff 354px,#00ccff 358px,#00acff 360px,#00c4ff 362px,#00a4ff 364px,#00ccff 368px,#00acff 370px,#00ccff 374px,#00acff 376px,#00c0ff 378px,#00a8ff 380px,#00ccff 384px,#00acff 386px,#00c8ff 390px,#00b0ff 392px,#00c0ff 394px,#00acff 396px,#00ccff 400px,#00b0ff 402px,#00c8ff 406px,#00b0ff 408px,#00bcff 410px,#00a8ff 412px,#00c8ff 416px,#00b0ff 418px,#00c4ff 422px,#00b0ff 424px,#00b8ff 427px,#00a8ff 428px,#00c4ff 432px,#00acff 435px,#00c4ff 438px,#00b0ff 440px,#00b8ff 443px,#00a8ff 445px,#00c4ff 448px,#00acff 451px,#00c4ff 454px,#00acff 457px,#00bcff 459px,#00a8ff 461px,#00c4ff 464px,#00a8ff 467px,#00c0ff 471px,#00acff 473px,#00bcff 475px,#00a4ff 477px,#00c0ff 480px,#00c0ff 481px,#00a4ff 483px,#00c0ff 487px,#00a8ff 489px,#00b8ff 491px,#00a0ff 493px,#00c0ff 497px,#00a4ff 499px,#00c0ff 503px,#00a8ff 505px,#00b8ff 507px,#009cff 509px,#00bcff 513px,#00a0ff 515px,#00c0ff 519px,#00a4ff"></i><i class=h2 style="--g:#00bcff,#00ccff 2px,#00bcff 6px,#00d0ff 8px,#00bcff 10px,#00bcff 12px,#00d0ff 14px,#00bcff 17px,#00d0ff 20px,#00bcff 24px,#00d4ff 26px,#00bcff 29px,#00d4ff 32px,#00bcff 35px,#00d4ff 38px,#00bcff 42px,#00d4ff 44px,#00b8ff 48px,#00d4ff 50px,#00bcff 53px,#00d4ff 56px,#00bcff 60px,#00d4ff 62px,#00bcff 66px,#00d4ff 68px,#00bcff 72px,#00d4ff 74px,#00bcff 78px,#00d4ff 80px,#00bcff 84px,#00d4ff 86px,#00bcff 90px,#00d4ff 92px,#00bcff 96px,#00d4ff 98px,#00bcff 102px,#00d4ff 104px,#00bcff 108px,#00d4ff 111px,#00bcff 114px,#00d4ff 117px,#00b8ff 120px,#00d4ff 123px,#00b8ff 126px,#00d4ff 129px,#00b8ff 132px,#00d4ff 135px,#00b8ff 138px,#00d4ff 141px,#00b8ff 144px,#00d4ff 147px,#00b8ff 150px,#00d4ff 153px,#00b8ff 157px,#00d4ff 159px,#00bcff 161px,#00b8ff 163px,#00d4ff 165px,#00bcff 167px,#00b8ff 169px,#00d4ff 171px,#00b4ff 175px,#00d4ff 177px,#00b4ff 181px,#00d4ff 183px,#00b0ff 187px,#00d4ff 189px,#00b0ff 193px,#00d4ff 195px,#00b0ff 199px,#00d4ff 201px,#00acff 205px,#00d4ff 207px,#00acff 211px,#00d4ff 213px,#00acff 217px,#00d0ff 219px,#00acff 223px,#00d0ff 225px,#00a8ff 229px,#00d0ff 231px,#00a8ff 235px,#00ccff 237px,#00a8ff 241px,#00ccff 243px,#00a8ff 247px,#00c8ff 249px,#00a4ff 253px,#00c8ff 255px,#00a4ff 259px,#00c4ff 261px,#00a4ff 265px,#00c4ff 267px,#00a4ff 271px,#00c4ff 273px,#00a4ff 277px,#00c4ff 280px,#00a0ff 283px,#00c4ff 286px,#00a0ff 289px,#00c4ff 292px,#00a0ff 295px,#00c0ff 298px,#00a0ff 302px,#00c0ff 304px,#009cff 307px,#00c0ff 310px,#009cff 313px,#009cff 314px,#00c0ff 316px,#00a4ff 318px,#009cff 320px,#00c0ff 322px,#0098ff 326px,#00c0ff 328px,#0098ff 331px,#0098ff 332px,#00c0ff 334px,#0098ff 337px,#0094ff 338px,#00bcff 340px,#0090ff 344px,#00bcff 346px,#0090ff 350px,#00bcff 352px,#008cff 356px,#00bcff 358px,#008cff 362px,#00bcff 364px,#0088ff 368px,#00b8ff 370px,#0088ff 374px,#00b8ff 376px,#0088ff 380px,#00b4ff 382px,#0084ff 386px,#00b4ff 388px,#0084ff 392px,#00b0ff 394px,#0084ff 398px,#00acff 400px,#0084ff 404px,#00acff 406px,#0080ff 410px,#00a8ff 412px,#00a8ff 413px,#0080ff 416px,#00a8ff 418px,#0080ff 422px,#00a4ff 424px,#00a4ff 425px,#0080ff 428px,#0088ff 429px,#00a4ff 430px,#00a4ff 431px,#007cff 434px,#00a0ff 436px,#00a4ff 437px,#007cff 440px,#00a4ff 443px,#007cff 446px,#00a4ff 449px,#007cff 452px,#00a0ff 455px,#0084ff 457px,#007cff 459px,#0098ff 460px,#00a0ff 461px,#0078ff 464px,#007cff 465px,#00a0ff 467px,#0078ff 470px,#0078ff 471px,#00a0ff 473px,#0078ff 476px,#0078ff 477px,#00a0ff 479px,#0078ff 482px,#0074ff 483px,#009cff 485px,#0070ff 489px,#009cff 491px,#0070ff 495px,#009cff 497px,#006cff 501px,#009cff 503px,#006cff 507px,#009cff 509px,#0068ff 513px,#0098ff 515px,#0068ff 519px,#0098ff"></i><i style="--g:#ff3400,#ff2900 2px,#ff2900 8px,#ff3800 13px,#ff1e00 22px,#ff2900 28px,#fa0f00 36px,#ff1e00 42px,#ff1300 48px,#ed0400 50px,#ff1600 62px,#f10800 64px,#f10800 68px,#e40000 70px,#f10800 76px,#d60000 85px,#e80000 90px,#cd0000 98px,#d60000 102px,#cd0000 104px,#df0000 109px,#c80000 118px,#d60000 124px,#b60000 132px,#c40000 139px,#ad0000 146px,#c40000 159px,#b20000 161px,#b60000 164px,#a80000 167px,#bb0000 173px,#a80000 175px,#ad0000 179px,#9f0000 182px,#b20000 187px,#9f0000 189px,#960000 195px,#a80000 199px,#9f0000 201px,#b20000 207px,#9f0000 209px,#9b0000 215px,#a80000 221px,#960000 223px,#960000 227px,#890000 229px,#9f0000 235px,#920000 237px,#890000 244px,#a40000 249px,#9b0000 251px,#a80000 255px,#960000 257px,#920000 264px,#9f0000 269px,#920000 271px,#890000 278px,#9b0000 284px,#840000 291px,#960000 298px,#800000 306px,#9f0000 317px,#8d0000 320px,#920000 324px,#840000 326px,#9b0000 331px,#8d0000 334px,#920000 338px,#840000 340px,#9b0000 346px,#8d0000 348px,#920000 352px,#840000 354px,#8d0000 360px,#a80000 366px,#960000 368px,#9b0000 372px,#8d0000 374px,#a40000 380px,#960000 382px,#9b0000 386px,#8d0000 388px,#a40000 394px,#920000 403px,#b60000 414px,#a40000 417px,#9f0000 422px,#b60000 428px,#a80000 430px,#ad0000 434px,#9f0000 436px,#b20000 442px,#a40000 451px,#c80000 462px,#b60000 470px,#cd0000 476px,#bb0000 485px,#d10000 491px,#c40000 493px,#c40000 499px,#e80000 510px,#da0000 513px,#e40000"></i><i style="--g:#ff5900,#ff5500 2px,#ff7300 4px,#ff4e00 9px,#ff4e00 10px,#ff6c00 12px,#ff4a00 18px,#ff6c00 20px,#ff5500 22px,#ff4700 26px,#ff6800 28px,#ff4a00 31px,#ff3f00 34px,#ff6400 36px,#ff4700 39px,#ff3b00 42px,#ff6000 44px,#ff4700 46px,#ff3400 50px,#ff5900 52px,#ff4300 54px,#ff3000 58px,#ff5500 60px,#ff3000 66px,#ff5500 68px,#ff2d00 74px,#ff5200 76px,#ff2900 82px,#ff4e00 84px,#ff2900 90px,#ff4a00 92px,#ff2500 98px,#ff4300 100px,#ff4300 101px,#ff2200 106px,#ff3f00 108px,#ff3f00 109px,#ff1e00 114px,#ff3f00 117px,#ff1a00 122px,#ff3b00 125px,#ff1600 130px,#ff3800 133px,#ff1300 138px,#ff3800 141px,#ff1600 145px,#ff1600 147px,#ff3800 149px,#fa0f00 154px,#ff1300 155px,#ff3400 157px,#fa0f00 162px,#fa0f00 163px,#ff3400 165px,#ff1600 168px,#fa0f00 171px,#ff3400 173px,#ff1a00 175px,#f60b00 178px,#f60b00 179px,#ff3000 181px,#ff1300 184px,#f10800 187px,#ff3000 189px,#ff1600 191px,#ed0400 195px,#ff1a00 196px,#ff2d00 197px,#ff1300 199px,#e80000 203px,#ff1600 204px,#ff2d00 205px,#ff1300 207px,#e80000 210px,#e40000 211px,#ff1300 212px,#ff2900 213px,#fa0f00 215px,#e80000 218px,#e40000 219px,#fa0f00 220px,#ff2500 221px,#e80000 226px,#e40000 227px,#fa0f00 228px,#ff2500 229px,#e80000 234px,#df0000 235px,#ff2200 237px,#e40000 243px,#fa0f00 244px,#ff2500 245px,#ed0400 251px,#ff1300 252px,#ff2900 253px,#ff2900 254px,#ed0400 259px,#ff1300 260px,#ff2d00 261px,#ff2d00 262px,#ed0400 267px,#ff2500 269px,#ff2900 270px,#fa0f00 272px,#df0000 275px,#e80000 276px,#ff1600 277px,#ff1a00 278px,#ed0400 280px,#d60000 283px,#df0000 284px,#fa0f00 285px,#ff1600 286px,#e80000 288px,#d60000 291px,#df0000 292px,#fa0f00 293px,#ff1600 294px,#e80000 296px,#d60000 299px,#da0000 300px,#f60b00 301px,#ff1600 302px,#e80000 304px,#d10000 307px,#ff1600 310px,#e80000 312px,#d10000 315px,#d60000 316px,#ff1600 318px,#e80000 320px,#d10000 323px,#d60000 324px,#ff1600 326px,#ed0400 328px,#d60000 331px,#d60000 332px,#ff1600 334px,#ed0400 336px,#d60000 339px,#d60000 340px,#ff1a00 342px,#ed0400 344px,#d10000 348px,#ed0400 349px,#ff1a00 350px,#ed0400 352px,#d10000 356px,#ed0400 357px,#ff1a00 358px,#ed0400 360px,#d10000 364px,#ed0400 365px,#ff1a00 366px,#ed0400 368px,#d10000 372px,#e80000 373px,#ff1a00 374px,#ed0400 376px,#d10000 380px,#e80000 381px,#ff1600 382px,#ff1300 383px,#e80000 385px,#d10000 388px,#e80000 389px,#ff1600 390px,#e80000 393px,#d60000 396px,#ed0400 397px,#ff1a00 398px,#ed0400 401px,#da0000 404px,#ed0400 405px,#ff1a00 406px,#ff1a00 407px,#e80000 410px,#da0000 412px,#ed0400 413px,#ff1a00 414px,#ff1a00 415px,#ed0400 417px,#d60000 420px,#e80000 421px,#ff1600 422px,#ff1300 424px,#df0000 428px,#ed0400 429px,#ff1a00 430px,#ff1600 432px,#df0000 436px,#ed0400 437px,#ff1a00 438px,#ff2200 439px,#df0000 444px,#e80000 445px,#ff1a00 446px,#ff2200 447px,#e80000 451px,#e80000 453px,#ff1a00 454px,#ff2200 455px,#f10800 458px,#e80000 461px,#ff1a00 462px,#ff2500 463px,#ff1300 465px,#e80000 468px,#ed0400 469px,#ff1a00 470px,#ff2500 471px,#ff1600 473px,#e80000 476px,#ed0400 477px,#ff1a00 478px,#ff2900 479px,#ff1300 482px,#ed0400 484px,#f10800 485px,#ff3000 487px,#f60b00 493px,#ff3800 495px,#f60b00 501px,#ff3800 503px,#f60b00 509px,#ff3b00 511px,#f60b00 517px,#ff3f00 519px,#ff2900"></i><i class=h2 style="--g:#0060ff,#0084ff 5px,#0080ff 6px,#0058ff 8px,#008cff 15px,#0088ff 16px,#0058ff 18px,#0084ff 24px,#004cff 26px,#0090ff 34px,#0054ff 36px,#009cff 44px,#0060ff 46px,#0094ff 54px,#0064ff 56px,#0098ff 64px,#0064ff 66px,#0068ff 68px,#0090ff 72px,#0058ff 74px,#0058ff 75px,#006cff 78px,#009cff 82px,#0064ff 84px,#0060ff 85px,#00a4ff 92px,#0070ff 94px,#006cff 95px,#00a0ff 102px,#0074ff 104px,#006cff 105px,#00a0ff 112px,#0068ff 115px,#00a0ff 122px,#0094ff 123px,#0074ff 124px,#006cff 125px,#00a0ff 130px,#0098ff 131px,#0068ff 133px,#00a8ff 140px,#00a0ff 141px,#006cff 143px,#00a8ff 150px,#00a0ff 151px,#0070ff 153px,#00a0ff 159px,#00a0ff 161px,#006cff 163px,#00a8ff 170px,#00a4ff 171px,#0070ff 173px,#00a8ff 179px,#0068ff 181px,#00acff 188px,#00b0ff 189px,#0070ff 191px,#00b4ff 199px,#0074ff 201px,#00b0ff 209px,#0070ff 211px,#00b4ff 219px,#0074ff 221px,#00b4ff 227px,#0074ff 229px,#0074ff 230px,#00b8ff 237px,#007cff 239px,#0078ff 240px,#00b8ff 247px,#0084ff 249px,#0080ff 250px,#00b4ff 257px,#0080ff 259px,#0078ff 260px,#00b4ff 267px,#0080ff 269px,#0078ff 270px,#00b4ff 275px,#00a8ff 276px,#0084ff 277px,#0074ff 278px,#00b8ff 285px,#0074ff 288px,#00b8ff 295px,#00b0ff 296px,#0080ff 298px,#00b8ff 305px,#00b0ff 306px,#008cff 307px,#007cff 308px,#00b8ff 315px,#00b4ff 316px,#007cff 318px,#00b4ff 323px,#00b4ff 324px,#0074ff 326px,#00bcff 333px,#00bcff 334px,#0078ff 336px,#00c0ff 343px,#00c0ff 344px,#0080ff 346px,#00c0ff 354px,#007cff 356px,#00b8ff 362px,#00c0ff 364px,#007cff 366px,#00c0ff 372px,#0078ff 374px,#008cff 377px,#00c4ff 382px,#0080ff 384px,#0080ff 385px,#00bcff 390px,#00c8ff 392px,#008cff 394px,#0088ff 395px,#00c4ff 402px,#0088ff 404px,#00c0ff 412px,#0088ff 414px,#0084ff 415px,#00bcff 420px,#00acff 421px,#0084ff 422px,#007cff 423px,#00c4ff 430px,#00b4ff 431px,#008cff 432px,#0080ff 433px,#00ccff 440px,#00c0ff 441px,#0098ff 442px,#0088ff 443px,#00c4ff 450px,#0088ff 453px,#00c8ff 460px,#00bcff 461px,#0084ff 463px,#00b8ff 468px,#00b4ff 469px,#0074ff 471px,#00c8ff 478px,#00c4ff 479px,#0080ff 481px,#00ccff 488px,#00ccff 489px,#0088ff 491px,#00c8ff 499px,#0088ff 501px,#00c8ff 508px,#00c8ff 509px,#0080ff 511px,#00c0ff 517px,#0074ff 519px,#0088ff"></i><i style="--g:#0000fa,#0000ff 162px,#000cff 165px,#0000ff 166px,#0000ff 174px,#000cff 177px,#0000ff 178px,#0000ff 186px,#0010ff 189px,#0000ff 190px,#0000ff 198px,#0014ff 201px,#0000ff 203px,#0000ff 209px,#0014ff 213px,#0000ff 215px,#0000ff 221px,#0014ff 225px,#0000ff 227px,#0000ff 231px,#0018ff 237px,#0000ff 239px,#0000ff 242px,#0020ff 249px,#0000ff 252px,#0024ff 261px,#0004ff 264px,#0020ff 273px,#0004ff 276px,#001cff 285px,#000cff 288px,#001cff 298px,#0008ff 300px,#001cff 309px,#000cff 315px,#0020ff 322px,#000cff 324px,#0020ff 333px,#0010ff 336px,#0010ff 340px,#0024ff 346px,#0010ff 348px,#0010ff 353px,#0024ff 358px,#0010ff 360px,#0010ff 365px,#0024ff 370px,#0010ff 372px,#0010ff 377px,#0024ff 382px,#0010ff 385px,#0014ff 391px,#0024ff 394px,#0010ff 397px,#0014ff 403px,#0024ff 406px,#0010ff 409px,#0014ff 415px,#0024ff 418px,#0010ff 421px,#0010ff 425px,#0024ff 430px,#0010ff 437px,#0024ff 442px,#0010ff 445px,#0020ff 455px,#000cff 459px,#0020ff 467px,#000cff 469px,#001cff 479px,#000cff 481px,#0008ff 485px,#001cff 491px,#0008ff 493px,#0004ff 496px,#0020ff 503px,#0008ff 505px,#000cff 512px,#0020ff 515px,#0008ff 517px,#0008ff"></i><i style="--g:#00e4f8,#06ecf1 6px,#00d8ff 12px,#06ecf1 23px,#00dcfe 29px,#09f0ee 38px,#00dcfe 45px,#09f0ee 56px,#00dcfe 61px,#0ff8e7 70px,#00e4f8 77px,#0ff8e7 86px,#02e8f4 92px,#0ff8e7 104px,#02e8f4 108px,#0ff8e7 118px,#02e8f4 124px,#0ff8e7 136px,#00e4f8 141px,#0ff8e7 150px,#00e4f8 157px,#0ff8e7 168px,#00e4f8 173px,#0ff8e7 182px,#02e8f4 191px,#13fce4 199px,#02e8f4 207px,#13fce4 215px,#02e8f4 221px,#0ff8e7 232px,#00e4f8 237px,#0cf4eb 242px,#00e0fb 252px,#06ecf1 264px,#00dcfe 270px,#16ffe1 278px,#1cffdb 282px,#0ff8e7 287px,#19ffde 298px,#0cf4eb 303px,#1cffdb 314px,#0cf4eb 319px,#1cffdb 330px,#0ff8e7 334px,#1cffdb 345px,#0ff8e7 350px,#1cffdb 361px,#0ff8e7 366px,#1cffdb 377px,#0ff8e7 384px,#1cffdb 393px,#13fce4 400px,#1cffdb 411px,#0ff8e7 416px,#1cffdb 435px,#19ffde 459px,#0ff8e7 462px,#19ffde 475px,#0cf4eb 479px,#16ffe1 491px,#09f0ee 495px,#19ffde 507px,#09f0ee 512px,#13fce4"></i><i class=h2 style="--g:#7aff7d,#6aff8d 2px,#46ffb1 4px,#53ffa4 9px,#87ff70 16px,#90ff66 19px,#77ff80 25px,#46ffb1 28px,#63ff94 36px,#90ff66 42px,#8dff6a 46px,#73ff83 50px,#46ffb1 52px,#63ff94 60px,#90ff66 66px,#87ff70 71px,#73ff83 74px,#49ffad 76px,#46ffb1 78px,#94ff63 91px,#73ff83 98px,#4dffaa 100px,#46ffb1 101px,#4dffaa 104px,#94ff63 115px,#90ff66 118px,#77ff80 122px,#46ffb1 125px,#53ffa4 129px,#83ff73 135px,#97ff60 139px,#94ff63 142px,#7dff7a 146px,#49ffad 149px,#50ffa7 152px,#97ff60 163px,#80ff77 170px,#4dffaa 173px,#4dffaa 174px,#56ffa0 177px,#87ff70 183px,#9aff5d 187px,#7aff7d 195px,#4dffaa 197px,#53ffa4 201px,#9aff5d 211px,#83ff73 218px,#7dff7a 219px,#50ffa7 221px,#4dffaa 222px,#50ffa7 225px,#83ff73 231px,#97ff60 235px,#7dff7a 243px,#53ffa4 245px,#49ffad 247px,#4dffaa 249px,#90ff66 259px,#7dff7a 267px,#53ffa4 269px,#49ffad 272px,#8aff6d 280px,#9dff5a 284px,#87ff70 291px,#5aff9d 293px,#49ffad 295px,#53ffa4 298px,#9dff5a 308px,#87ff70 315px,#4dffaa 318px,#49ffad 319px,#50ffa7 322px,#87ff70 328px,#9dff5a 332px,#87ff70 339px,#7dff7a 340px,#4dffaa 342px,#49ffad 343px,#50ffa7 346px,#87ff70 352px,#9dff5a 356px,#83ff73 364px,#4dffaa 366px,#49ffad 368px,#9dff5a 380px,#9aff5d 384px,#83ff73 388px,#50ffa7 390px,#4dffaa 391px,#53ffa4 394px,#94ff63 402px,#a4ff53 406px,#90ff66 411px,#4dffaa 415px,#50ffa7 418px,#94ff63 427px,#a4ff53 431px,#8dff6a 436px,#50ffa7 439px,#56ffa0 443px,#97ff60 452px,#a0ff56 455px,#8dff6a 460px,#60ff97 462px,#4dffaa 464px,#50ffa7 467px,#87ff70 474px,#a0ff56 479px,#8aff6d 484px,#4dffaa 487px,#56ffa0 493px,#7aff7d 497px,#9aff5d 503px,#97ff60 507px,#87ff70 509px,#50ffa7 511px,#56ffa0 517px,#77ff80"></i></div>
<div class="sp" style="left:717px;top:1569px;width:521px;height:351px"><i class=h12 style="--g:#0000a4,#000080 31px,#000080 490px,#00009f"></i><i class=h12 style="--g:#0000a6,#000080 34px,#000080 489px,#0000a3"></i><i class=h12 style="--g:#0000a8,#000080 35px,#000080 488px,#0000a4"></i><i style="--g:#0000a8,#000080 35px,#000080 487px,#0000a4"></i><i style="--g:#0000a8,#000080 34px,#000080 486px,#0000a4"></i><i class=h2 style="--g:#0000a8,#000080 36px,#000080 488px,#0000a4"></i><i style="--g:#0000a8,#000080 36px,#000080 487px,#0000a4"></i><i class=h2 style="--g:#0000a8,#000080 35px,#000080 486px,#0000a4"></i><i class=h12 style="--g:#0000a8,#000080 37px,#000080 484px,#0000a4"></i><i class=h12 style="--g:#0000a8,#000080 38px,#000080 484px,#0000a4"></i><i class=h12 style="--g:#0000a8,#000080 40px,#000080 481px,#0000a4"></i><i class=h12 style="--g:#0000aa,#000080 42px,#000080 480px,#0000a8"></i><i class=h5 style="--g:#0000ad,#000080 44px,#000080 478px,#0000a8"></i><i class=h2 style="--g:#0000ad,#000080 43px,#000080 478px,#0000a8"></i><i class=h3 style="--g:#0000ad,#000080 43px,#000080 477px,#0000a8"></i><i class=h2 style="--g:#0000ad,#000080 43px,#000080 477px,#0000a8"></i><i class=h2 style="--g:#0000ad,#000080 44px,#000080 477px,#0000a8"></i><i class=h3 style="--g:#0000ad,#000080 45px,#000080 476px,#0000a8"></i><i class=h4 style="--g:#0000ad,#000080 46px,#000080 475px,#0000a8"></i><i class=h2 style="--g:#0000ad,#000080 49px,#000080 474px,#0000a8"></i><i class=h3 style="--g:#0000ad,#000080 50px,#000080 474px,#0000a8"></i><i class=h6 style="--g:#0000b0,#000080 52px,#000080 474px,#0000a8"></i><i style="--g:#0000b2,#000080 53px,#000080 476px,#0000a8"></i><i style="--g:#0000b2,#000080 52px,#000080 474px,#0000a8"></i><i class=h2 style="--g:#0000b2,#000080 52px,#000080 473px,#0000a8"></i><i style="--g:#0000b2,#000080 51px,#000080 472px,#0000a8"></i><i class=h2 style="--g:#0000b2,#000080 50px,#000080 471px,#0000a8"></i><i style="--g:#0000b2,#000080 53px,#000080 471px,#0000ad"></i><i style="--g:#0000b2,#000080 50px,#000080 469px,#0000ad"></i><i class=h2 style="--g:#0000b2,#000080 51px,#000080 273px,#00008d 277px,#000080 286px,#000080 471px,#0000ad"></i><i style="--g:#0000b2,#000080 50px,#000080 469px,#0000ad"></i><i class=h2 style="--g:#0000b2,#000080 52px,#000080 470px,#0000ad"></i><i style="--g:#0000b2,#000080 52px,#000080 469px,#0000ad"></i><i style="--g:#0000b2,#000080 52px,#000080 469px,#0000ad"></i><i class=h2 style="--g:#0000b2,#000080 52px,#000080 465px,#0000ad"></i><i style="--g:#0000b2,#000080 53px,#000080 262px,#00008d 275px,#000080 300px,#000080 466px,#0000ad"></i><i style="--g:#0000b2,#000080 52px,#000080 462px,#0000ad"></i><i class=h2 style="--g:#0000b2,#000080 56px,#000080 462px,#0000ad"></i><i style="--g:#0000b2,#000080 56px,#000080 461px,#0000ad"></i><i class=h2 style="--g:#0000b2,#000080 57px,#000080 461px,#0000ad"></i><i style="--g:#0000b2,#000080 56px,#000080 465px,#0000ad"></i><i style="--g:#0000b2,#000080 57px,#000080 463px,#0000ad"></i><i class=h2 style="--g:#0000b2,#000080 58px,#000080 465px,#0000ad"></i><i class=h4 style="--g:#0000b2,#000080 59px,#000080 464px,#0000ad"></i><i style="--g:#0000b6,#000080 58px,#000080 465px,#0000ad"></i><i class=h2 style="--g:#0000b2,#0000b2 11px,#000080 61px,#000080 466px,#0000ad"></i><i style="--g:#0000b2,#000080 60px,#000080 250px,#00008d 257px,#000080 261px,#00008d 267px,#000080 272px,#00008d 280px,#000080 297px,#000080 463px,#0000ad"></i><i style="--g:#0000b2,#000080 59px,#000080 243px,#00008d 247px,#000080 251px,#00008d 256px,#000080 261px,#000080 272px,#00008d 275px,#000080 279px,#000080 463px,#0000ad"></i><i class=h2 style="--g:#0000b6,#000080 63px,#000080 229px,#00008d 268px,#000080 277px,#000080 464px,#0000ad"></i><i style="--g:#0000b6,#000080 62px,#000080 235px,#00008d 245px,#000080 249px,#00008d 253px,#000080 255px,#00008d 259px,#000084 263px,#000092 266px,#000084 269px,#00008d 293px,#000080 310px,#000080 462px,#0000ad"></i><i class=h2 style="--g:#0000b6,#000080 64px,#000080 251px,#00008d 254px,#000080 257px,#00008d 260px,#000080 263px,#00008d 266px,#000080 269px,#00008d 272px,#000080 275px,#00008d 278px,#000080 281px,#00008d 284px,#000080 287px,#000080 462px,#0000ad"></i><i style="--g:#0000b6,#000080 66px,#000080 217px,#00008d 251px,#000080 308px,#000080 462px,#0000ad"></i><i style="--g:#0000b6,#000080 66px,#000080 245px,#00008d 276px,#000080 322px,#000080 460px,#0000ad"></i><i class=h4 style="--g:#0000b6,#000080 68px,#000080 460px,#0000ad"></i><i class=h2 style="--g:#0000b6,#000080 64px,#000080 462px,#0000b2"></i><i style="--g:#0000b6,#000080 61px,#000080 243px,#00008d 261px,#000080 279px,#000080 460px,#0000b2"></i><i class=h2 style="--g:#0000b6,#000080 62px,#000080 459px,#0000b2"></i><i style="--g:#0000b6,#000080 61px,#000080 245px,#00008d 248px,#000080 299px,#000080 455px,#0000b2"></i><i style="--g:#0000b6,#000080 65px,#000080 454px,#0000b2"></i><i class=h2 style="--g:#0000b6,#000080 69px,#000080 229px,#00008d 252px,#000080 299px,#000080 452px,#0000b2"></i><i style="--g:#0000b6,#000080 73px,#000080 450px,#0000b2"></i><i style="--g:#0000b6,#000080 70px,#000080 454px,#0000b2"></i><i class=h2 style="--g:#0000b6,#000080 69px,#000080 450px,#0000b2"></i><i class=h3 style="--g:#0000b6,#000080 67px,#000080 442px,#0000b2"></i><i style="--g:#0000b6,#0000b2 17px,#000080 66px,#000080 254px,#00008d 260px,#000080 434px,#000089 466px,#0000b2"></i><i style="--g:#0000b6,#0000b6 12px,#000080 66px,#000080 247px,#00008d 250px,#000080 255px,#00008d 272px,#000084 456px,#0000b2"></i><i class=h2 style="--g:#0000b6,#000080 79px,#000080 241px,#00008d 248px,#000080 255px,#000084 261px,#000096 265px,#000084 269px,#000084 276px,#000092 279px,#000084 292px,#000092 296px,#000084 300px,#00008d 313px,#000080 430px,#000089 467px,#0000b2"></i><i style="--g:#0000bb,#000080 80px,#000080 244px,#000092 249px,#000080 253px,#00008d 259px,#000080 266px,#000092 270px,#000080 276px,#000092 283px,#000084 287px,#00008d 320px,#000080 443px,#0000b2"></i><i class=h2 style="--g:#0000bb,#00008d 50px,#000080 88px,#000080 251px,#00008d 255px,#000080 446px,#0000b2"></i><i style="--g:#0000bb,#00008d 53px,#000080 98px,#000080 222px,#00008d 241px,#000080 245px,#00008d 250px,#000080 253px,#000092 257px,#000084 261px,#000092 266px,#000084 269px,#00008d 328px,#000080 455px,#0000b2"></i><i style="--g:#0000bb,#00008d 55px,#000080 101px,#000080 253px,#00008d 256px,#000084 274px,#000092 277px,#000084 281px,#00008d 318px,#000080 457px,#0000b2"></i><i class=h2 style="--g:#0000bb,#00008d 53px,#000080 96px,#000080 456px,#0000b2"></i><i style="--g:#0000bb,#00008d 53px,#000080 95px,#000080 267px,#00008d 271px,#000080 275px,#000080 445px,#0000b2"></i><i style="--g:#0000bb,#000080 78px,#000080 439px,#0000b2"></i><i class=h2 style="--g:#0000bb,#000080 72px,#000080 440px,#0000b2"></i><i style="--g:#0000bb,#000080 70px,#000080 441px,#0000b2"></i><i class=h2 style="--g:#0000bb,#0000b6 17px,#000080 70px,#000080 436px,#0000b2"></i><i style="--g:#0000bb,#000080 82px,#000080 259px,#00008d 273px,#000080 279px,#000080 443px,#0000b2"></i><i class=h3 style="--g:#0000bf,#000089 67px,#000080 117px,#000080 441px,#0000b6"></i><i style="--g:#0000bf,#000089 66px,#000080 107px,#000080 240px,#00008d 263px,#00008d 277px,#000080 282px,#000080 435px,#0000b6"></i><i style="--g:#0000bf,#00008d 62px,#000080 106px,#000080 227px,#00008d 247px,#000080 302px,#000080 436px,#0000b6"></i><i class=h2 style="--g:#0000bf,#00008d 61px,#000080 107px,#000080 429px,#0000b6"></i><i style="--g:#0000bf,#000080 92px,#000080 226px,#00008d 264px,#00008d 303px,#000080 307px,#000080 429px,#0000b6"></i><i class=h2 style="--g:#0000bf,#000080 87px,#000080 248px,#00008d 275px,#000080 304px,#000080 418px,#00008d 464px,#0000b6"></i><i style="--g:#0000bf,#000080 83px,#000080 237px,#00008d 244px,#000080 250px,#00008d 268px,#000080 433px,#0000b6"></i><i style="--g:#0000bf,#0000bb 17px,#000080 82px,#000080 241px,#00008d 300px,#000080 308px,#000080 422px,#000084 449px,#0000b6"></i><i class=h2 style="--g:#0000bf,#0000b2 27px,#00008d 61px,#000080 95px,#000084 453px,#0000b6"></i><i style="--g:#0000bf,#000089 66px,#000080 97px,#000080 253px,#000092 264px,#000080 272px,#000080 298px,#00008d 308px,#000080 447px,#0000b2 502px,#0000b6"></i><i class=h2 style="--g:#0000bf,#000084 72px,#000080 91px,#000080 220px,#00008d 229px,#000080 243px,#000092 255px,#000080 262px,#000092 276px,#000080 289px,#00008d 299px,#000080 446px,#0000b6"></i><i style="--g:#0000c4,#000080 84px,#000080 230px,#00008d 237px,#000080 245px,#00008d 256px,#000080 260px,#000092 268px,#000084 273px,#00008d 287px,#000080 290px,#00008d 300px,#000084 448px,#0000b6"></i><i style="--g:#0000c4,#000080 82px,#000080 262px,#00008d 266px,#000084 432px,#0000b6"></i><i class=h2 style="--g:#0000c4,#000080 83px,#000080 225px,#00008d 229px,#000084 235px,#000092 238px,#000084 243px,#000089 263px,#000096 266px,#000084 271px,#000084 300px,#000092 304px,#000080 309px,#00008d 322px,#000080 327px,#00008d 332px,#000080 338px,#000084 403px,#000092 463px,#0000b2 498px,#0000b6"></i><i style="--g:#0000c4,#0000bf 20px,#000092 57px,#000080 94px,#000080 239px,#00008d 243px,#000080 292px,#000084 402px,#000092 455px,#0000bb"></i><i style="--g:#0000c8,#0000bb 27px,#00008d 69px,#000080 105px,#000080 382px,#00008d 445px,#0000bb"></i><i class=h2 style="--g:#0000c8,#0000bb 30px,#000089 82px,#000080 151px,#000080 385px,#00008d 445px,#0000bb"></i><i style="--g:#0000cd,#0000c4 24px,#00008d 83px,#000080 144px,#000080 265px,#00008d 269px,#000080 275px,#000080 391px,#00008d 452px,#0000bb"></i><i class=h2 style="--g:#0000cd,#0000bf 34px,#000092 77px,#000080 138px,#000084 429px,#0000bb"></i><i style="--g:#0000cd,#0000cd 17px,#000096 73px,#000080 118px,#000080 429px,#000084 450px,#0000b2 496px,#0000bb"></i><i style="--g:#0000d1,#0000cd 24px,#00009f 64px,#000080 115px,#000084 260px,#000092 269px,#000080 445px,#0000b2 495px,#0000bb"></i><i class=h2 style="--g:#0000d1,#0000cd 25px,#000092 81px,#000080 123px,#00008d 232px,#000084 243px,#000092 255px,#000089 275px,#000096 278px,#000089 285px,#000089 298px,#000096 303px,#000089 308px,#000092 326px,#000084 341px,#000084 444px,#0000b6 499px,#0000bb"></i><i style="--g:#0000d6,#0000cd 27px,#00009f 67px,#000084 108px,#000089 239px,#000096 258px,#000084 368px,#000089 435px,#0000bf"></i><i style="--g:#0000d6,#0000d1 21px,#000092 80px,#000084 110px,#000092 211px,#000089 225px,#000096 229px,#000089 241px,#000096 244px,#00008d 258px,#00009b 267px,#00009b 276px,#00008d 279px,#00009b 285px,#00008d 296px,#000096 318px,#000089 329px,#000084 384px,#000092 440px,#0000bb 494px,#0000bf"></i><i class=h2 style="--g:#0000d6,#0000cd 27px,#000084 102px,#00009b 263px,#000084 386px,#00009b 447px,#0000bf 496px,#0000bf"></i><i style="--g:#0000da,#0000d1 26px,#00009f 65px,#000080 104px,#000092 172px,#00008d 211px,#00009b 221px,#000092 233px,#000096 247px,#0000a4 251px,#000092 260px,#00009f 263px,#0000a4 272px,#000096 275px,#0000a8 285px,#00009b 289px,#0000a4 300px,#000096 309px,#000080 379px,#0000c4 500px,#0000c4"></i><i class=h2 style="--g:#0000d6,#0000cd 32px,#000096 76px,#000080 110px,#000092 151px,#00008d 212px,#00009b 215px,#00008d 219px,#00009b 223px,#00008d 228px,#00009f 231px,#00008d 235px,#00009f 239px,#000092 243px,#00009f 247px,#000092 251px,#0000a4 255px,#000096 260px,#0000a8 263px,#00009b 268px,#0000b2 273px,#00009b 277px,#0000a8 281px,#0000a8 299px,#00009b 302px,#0000a8 306px,#00009b 310px,#0000a4 314px,#000084 360px,#000084 379px,#0000c4 499px,#0000bf"></i><i style="--g:#0000da,#0000d1 29px,#000089 104px,#000089 208px,#000096 213px,#000089 218px,#00009b 223px,#000089 227px,#00009f 233px,#00008d 238px,#0000a4 243px,#000092 248px,#0000a8 253px,#00009b 257px,#0000a8 262px,#00009f 269px,#0000ad 272px,#00009f 276px,#00009f 286px,#0000b2 290px,#00009f 295px,#0000b2 302px,#00009f 306px,#0000ad 312px,#00009f 315px,#0000a8 323px,#00009b 326px,#00008d 388px,#0000c4 499px,#0000bf"></i><i style="--g:#0000d6,#0000d1 32px,#000096 91px,#000089 193px,#000092 200px,#000084 205px,#000084 217px,#000092 221px,#000084 227px,#000096 231px,#000092 249px,#0000a4 254px,#00009b 261px,#0000ad 265px,#0000a4 277px,#0000b2 280px,#0000a8 289px,#0000b6 294px,#0000a8 298px,#0000b6 306px,#0000a4 311px,#0000b2 320px,#00009f 324px,#0000ad 332px,#00009b 336px,#0000a8 343px,#000096 348px,#0000a4 354px,#000092 374px,#0000bf"></i><i class=h2 style="--g:#0000da,#0000d1 36px,#00009b 92px,#000092 187px,#00008d 203px,#000080 207px,#00008d 223px,#000084 235px,#00009f 240px,#00008d 251px,#0000ad 257px,#00009b 269px,#0000bf 274px,#0000a4 285px,#0000a8 288px,#0000bf 291px,#0000a4 302px,#0000bf 310px,#0000a4 319px,#0000b6 329px,#00009f 336px,#0000b2 343px,#00009f 351px,#0000a8 362px,#00009b 369px,#0000a4 376px,#000096 424px,#0000bf"></i><i style="--g:#0000d6,#0000d1 36px,#000096 97px,#00009b 179px,#000084 217px,#000084 227px,#00009f 233px,#000096 252px,#0000b2 257px,#0000b6 264px,#0000b2 275px,#0000a4 279px,#0000bf 284px,#0000bb 298px,#0000ad 302px,#0000bf 307px,#0000bf 313px,#0000bb 324px,#0000ad 328px,#0000b6 337px,#0000a4 353px,#0000ad 360px,#00008d 436px,#0000bb"></i><i class=h2 style="--g:#0000d6,#0000d6 29px,#0000a4 72px,#000089 112px,#00009f 192px,#000096 243px,#0000b6 249px,#0000c4 282px,#0000ad 295px,#0000c4 299px,#0000c4 318px,#0000bb 337px,#0000a8 345px,#0000b2 352px,#000089 416px,#000084 447px,#0000ad 489px,#0000b6"></i><i style="--g:#0000d1,#0000cd 32px,#000080 114px,#0000c8 285px,#0000bb 331px,#000080 428px,#0000b2"></i><i style="--g:#0000cd,#0000cd 30px,#000084 116px,#00009f 153px,#00009f 174px,#0000bf 208px,#0000b2 220px,#0000da 254px,#0000c4 262px,#0000c8 287px,#0000d6 292px,#0000b6 320px,#000089 425px,#00008d 463px,#0000b2"></i><i class=h2 style="--g:#0000cd,#0000cd 24px,#0000bf 31px,#0000bf 48px,#0000a4 72px,#000092 110px,#000096 138px,#0000b6 175px,#0000ad 183px,#0000c8 198px,#0000bb 208px,#0000da 223px,#0000c4 231px,#0000e3 246px,#0000c8 254px,#0000e3 271px,#0000c4 278px,#0000d6 285px,#0000d6 294px,#0000bb 301px,#0000c4 318px,#0000ad 324px,#000089 427px,#0000ad"></i><i style="--g:#0000c4,#0000c4 26px,#0000a8 60px,#00009b 115px,#00009f 140px,#0000c8 206px,#0000da 217px,#0000d1 222px,#0000e3 233px,#0000d6 238px,#0000e8 249px,#0000da 255px,#0000e8 267px,#0000d6 274px,#0000da 280px,#0000a8 322px,#0000ad 329px,#00009b 337px,#000096 404px,#000084 437px,#000084 454px,#0000b2"></i><i style="--g:#0000c4,#000096 92px,#0000ad 162px,#0000c4 179px,#0000bf 187px,#0000d1 193px,#0000c8 199px,#0000df 205px,#0000d1 211px,#0000e8 216px,#0000d6 223px,#0000f1 229px,#0000da 235px,#0000f6 241px,#0000df 247px,#0000f6 253px,#0000da 259px,#0000f6 265px,#0000d6 270px,#0000e3 274px,#0000cd 281px,#0000d6 289px,#0000bb 294px,#0000c8 300px,#0000ad 306px,#0000b6 312px,#00009f 317px,#0000a8 324px,#00008d 330px,#00009b 336px,#000089 340px,#000092 347px,#000084 351px,#000096 368px,#000096 405px,#000080 450px,#0000a8 492px,#0000b2"></i><i class=h2 style="--g:#0000bb,#0000bb 24px,#0000a8 36px,#0000ad 42px,#00009f 45px,#00009f 62px,#000092 64px,#00008d 93px,#0000ad 165px,#0000df 209px,#0000d6 213px,#0000ed 219px,#0000df 225px,#0000f1 229px,#0000e3 233px,#0000f6 238px,#0000f6 247px,#0000e3 253px,#0000f6 258px,#0000e3 261px,#0000f1 267px,#0000d6 279px,#0000df 285px,#0000c4 291px,#0000d1 295px,#0000bb 301px,#0000c4 306px,#00009f 318px,#0000a8 324px,#00008d 330px,#000096 335px,#000084 340px,#00009b 389px,#00008d 446px,#0000b6"></i><i style="--g:#0000b2,#0000b6 21px,#000080 91px,#0000a4 163px,#0000cd 202px,#0000da 205px,#0000d6 210px,#0000e3 213px,#0000df 218px,#0000ed 222px,#0000e3 226px,#0000f1 229px,#0000e8 234px,#0000f6 237px,#0000fa 245px,#0000f6 268px,#0000e3 273px,#0000ed 277px,#0000df 280px,#0000c4 310px,#0000b6 313px,#000096 354px,#0000a4 384px,#00009f 453px,#0000b6 481px,#0000bb"></i><i class=h2 style="--g:#0000b6,#0000b2 25px,#000089 76px,#00008d 145px,#00009f 169px,#0000da 207px,#0000f1 238px,#0000ff 241px,#0000f6 278px,#0000bb 326px,#0000ad 358px,#0000bf"></i><i style="--g:#0000b6,#000084 150px,#0000ff 242px,#0000ff 273px,#0000bb 352px,#0000c8"></i><i style="--g:#0000b2,#0000b6 24px,#00008d 149px,#0000ff 235px,#0000ff 284px,#0000f1 291px,#0000f6 298px,#0000e3 302px,#0000e3 314px,#0000d6 317px,#0000bb 349px,#0000d1 442px,#0000c8"></i><i class=h2 style="--g:#0000ad,#0000b6 14px,#0000a4 72px,#0000a4 147px,#0000b6 171px,#0000ed 205px,#0000e3 210px,#0000ff 224px,#0000ff 292px,#0000e8 296px,#0000ed 303px,#0000c8 320px,#0000a8 348px,#0000ad 354px,#00009f 358px,#0000d1 432px,#0000d1 495px,#0000c4"></i><i style="--g:#0000ad,#0000a4 69px,#0000b2 136px,#0000d6 187px,#0000ed 196px,#0000fa 209px,#0000f1 213px,#0000ff 217px,#0000ff 242px,#000cff 246px,#0000ff 295px,#0000c8 316px,#0000c8 324px,#0000a8 334px,#000080 356px,#0000b2 387px,#0000cd 422px,#0000bb"></i><i style="--g:#0000a8,#000096 56px,#0000bf 146px,#0000ff 214px,#0008ff 258px,#0018ff 271px,#0000ff 287px,#0000ff 303px,#0000ad 351px,#0000ad 371px,#0000c8 408px,#0000c8 436px,#0000ad 483px,#0000b2"></i><i class=h2 style="--g:#00009f,#000084 46px,#000092 52px,#000089 56px,#0000ad 96px,#0000cd 176px,#0000e3 198px,#0000ff 209px,#0000ff 239px,#001cff 253px,#000cff 263px,#0020ff 275px,#0004ff 286px,#0000ff 324px,#0000e3 334px,#0000e3 349px,#0000d1 357px,#0000cd 421px,#000096 482px,#0000a4 487px,#000096 497px,#0000a4"></i><i style="--g:#00009f,#00009b 18px,#00008d 24px,#000096 28px,#000084 38px,#000092 42px,#000084 44px,#000084 48px,#000092 52px,#000089 54px,#0000b2 116px,#0000b2 167px,#0000c4 189px,#0000f6 216px,#0000ff 236px,#0008ff 247px,#0018ff 251px,#0014ff 257px,#0024ff 262px,#001cff 282px,#0028ff 285px,#0020ff 299px,#0010ff 304px,#0018ff 313px,#0000ff 328px,#0000ff 359px,#0000d6 418px,#000080 490px,#00009b"></i><i class=h2 style="--g:#0000ad,#0000ad 16px,#00009f 18px,#0000ad 22px,#00009b 28px,#0000a8 32px,#00009b 34px,#0000a8 37px,#00009b 44px,#0000a8 48px,#00009b 50px,#0000ad 54px,#00009f 56px,#00009f 66px,#0000ad 70px,#0000a4 77px,#0000b2 102px,#00008d 159px,#0000a4 183px,#0000ff 227px,#0004ff 241px,#0018ff 257px,#002cff 263px,#0024ff 269px,#0034ff 290px,#0000ff 358px,#0000ff 382px,#00009b 475px,#0000a4"></i><i style="--g:#0000bb,#0000bb 86px,#000092 167px,#0000a4 182px,#0000ff 224px,#0038ff 281px,#0028ff 326px,#0000ff 364px,#0000ff 385px,#0000bf 458px,#0000c4 467px,#0000b6 471px,#0000b6"></i><i style="--g:#0000c8,#0000c4 18px,#0000d1 24px,#0000c4 32px,#0000d1 44px,#0000c4 47px,#0000d1 52px,#0000c4 54px,#0000cd 58px,#0000bf 66px,#0000c8 73px,#0000b2 147px,#0000bb 171px,#0000d6 195px,#0000ed 201px,#0000ed 208px,#0000ff 213px,#0000ff 226px,#0020ff 243px,#0028ff 257px,#0038ff 262px,#0030ff 271px,#0040ff 276px,#0034ff 285px,#0040ff 293px,#0030ff 299px,#0038ff 308px,#0000ff 355px,#0000ff 369px,#0000da 408px,#0000c8 469px,#0000d1 479px,#0000c4 484px,#0000cd 493px,#0000bf 498px,#0000c4"></i><i class=h2 style="--g:#0000d6,#0000d6 56px,#0000bb 134px,#0000d1 169px,#0000ff 199px,#0000ff 213px,#0030ff 241px,#002cff 247px,#0040ff 258px,#0038ff 263px,#0048ff 267px,#003cff 271px,#0034ff 300px,#0000ff 335px,#0000fa 349px,#0000c8 376px,#0000bb 400px,#0000d1 468px,#0000c8"></i><i style="--g:#0000d6,#0000df 46px,#0000a8 133px,#0000cd 169px,#0000ff 193px,#0000ff 209px,#0014ff 214px,#0010ff 219px,#0028ff 223px,#0020ff 229px,#0034ff 233px,#0028ff 239px,#0040ff 244px,#0034ff 249px,#0048ff 254px,#0038ff 259px,#004cff 263px,#003cff 268px,#0048ff 274px,#0038ff 278px,#0040ff 283px,#0034ff 286px,#0040ff 293px,#002cff 297px,#0034ff 303px,#001cff 308px,#0024ff 313px,#0010ff 317px,#0014ff 323px,#0000ff 326px,#0000ff 335px,#0000e3 346px,#0000e8 349px,#0000b6 366px,#00008d 391px,#0000c4 457px,#0000d1 503px,#0000c8"></i><i class=h2 style="--g:#0000da,#0000df 46px,#0000c4 82px,#000080 132px,#0000b2 153px,#0000b2 158px,#0000cd 165px,#0000cd 171px,#0000e8 177px,#0000e8 183px,#0000ff 187px,#0008ff 207px,#0024ff 213px,#001cff 219px,#0038ff 225px,#002cff 231px,#0048ff 237px,#003cff 244px,#0054ff 249px,#003cff 255px,#0058ff 261px,#0044ff 267px,#0054ff 273px,#003cff 281px,#0048ff 288px,#0030ff 293px,#0038ff 301px,#0020ff 305px,#0024ff 312px,#000cff 317px,#0000ff 338px,#0000ed 342px,#0000ed 349px,#0000d1 354px,#0000d1 362px,#0000bb 366px,#00009f 391px,#0000c8 488px,#0000c8"></i><i style="--g:#0000df,#0000e3 38px,#0000d1 60px,#0000d6 72px,#0000c8 78px,#0000cd 88px,#0000bf 93px,#0000c4 106px,#0000b6 111px,#0000b6 133px,#0000c8 140px,#0000c4 149px,#0000df 157px,#0000df 167px,#0000ff 174px,#0000ff 187px,#0014ff 193px,#000cff 200px,#0030ff 207px,#0028ff 217px,#004cff 224px,#003cff 233px,#0060ff 241px,#0048ff 249px,#0068ff 257px,#004cff 264px,#0064ff 275px,#0040ff 282px,#0058ff 291px,#0030ff 298px,#0044ff 306px,#0018ff 315px,#0028ff 324px,#0000ff 331px,#000cff 337px,#0000ff 345px,#0000f1 348px,#0000ff 354px,#0000d6 364px,#0000df 374px,#0000c4 380px,#0000c8 392px,#0000b6 396px,#0000bb 408px,#0000ad 413px,#0000a8 429px,#0000c4"></i><i style="--g:#0000d6,#0000da 119px,#0000ff 150px,#0000ff 170px,#0018ff 177px,#0024ff 196px,#0040ff 203px,#0044ff 221px,#0060ff 227px,#0064ff 239px,#0058ff 245px,#0070ff 251px,#006cff 263px,#0054ff 269px,#006cff 275px,#006cff 281px,#0058ff 291px,#0040ff 295px,#0054ff 303px,#0048ff 311px,#0020ff 320px,#002cff 326px,#0020ff 336px,#0000ff 343px,#0000ff 363px,#0000df 370px,#0000df 383px,#0000bb 395px,#000092 442px,#0000bf"></i><i class=h2 style="--g:#0000cd,#0000c4 82px,#0000cd 97px,#0000e8 109px,#0000e3 118px,#0000ff 148px,#002cff 184px,#0050ff 200px,#0058ff 213px,#004cff 217px,#0068ff 226px,#0068ff 237px,#007cff 249px,#0078ff 261px,#005cff 267px,#0070ff 274px,#005cff 304px,#004cff 312px,#0024ff 320px,#0030ff 330px,#0000ff 358px,#0000ff 366px,#0000e3 371px,#0000e8 380px,#00009b 424px,#000092 440px,#000096 466px,#0000ad 475px,#0000c4"></i><i style="--g:#0000c8,#00009b 56px,#00009b 76px,#0000ff 138px,#0000ff 150px,#0058ff 209px,#0074ff 251px,#0058ff 300px,#0000ff 359px,#0000ff 373px,#0000da 398px,#0000bf 431px,#0000cd"></i><i style="--g:#0000c4,#0000c4 23px,#000096 62px,#0000a8 64px,#0000a8 86px,#0000d6 111px,#0000ff 148px,#0014ff 176px,#002cff 189px,#0048ff 196px,#0048ff 223px,#005cff 237px,#0070ff 241px,#0054ff 265px,#0054ff 284px,#0060ff 290px,#0030ff 311px,#0020ff 335px,#0000ff 350px,#0000ff 367px,#0000ed 375px,#0000d1 420px,#0000d1 470px,#0000df 488px,#0000d6"></i><i class=h2 style="--g:#0000da,#0000cd 88px,#0000da 90px,#0000e8 132px,#0000ff 147px,#0000ff 170px,#0038ff 217px,#003cff 236px,#004cff 241px,#0040ff 261px,#0050ff 266px,#0024ff 312px,#0000ff 329px,#0000ff 342px,#0000c8 373px,#0000b6 396px,#0000e3 491px,#0000da"></i><i style="--g:#0000ed,#0000e8 8px,#0000f6 12px,#0000e8 24px,#0000f6 28px,#0000e8 40px,#0000f6 44px,#0000e3 56px,#0000f1 58px,#0000df 72px,#0000ed 77px,#0000da 87px,#0000e3 95px,#0000cd 118px,#0000d6 127px,#0000c8 133px,#0000d6 141px,#0000c8 149px,#0000da 157px,#0000d1 165px,#0000e8 171px,#0000df 180px,#0000ff 187px,#0000ff 213px,#0020ff 219px,#0010ff 228px,#0034ff 237px,#001cff 243px,#003cff 251px,#0024ff 260px,#0044ff 267px,#0028ff 273px,#0038ff 283px,#001cff 289px,#002cff 298px,#000cff 306px,#0018ff 314px,#0000ff 319px,#0000ff 333px,#0000e3 339px,#0000ed 347px,#0000c4 355px,#0000cd 362px,#0000a8 370px,#0000a8 379px,#00008d 386px,#000089 394px,#000089 408px,#0000a4 418px,#0000d6 467px,#0000df"></i><i class=h2 style="--g:#0000ff,#0000ff 51px,#0000ed 66px,#0000f6 72px,#0000e3 78px,#0000e8 85px,#0000d6 90px,#0000da 98px,#0000c8 102px,#0000cd 109px,#0000b6 114px,#0000bb 121px,#0000a4 126px,#0000a4 133px,#00008d 139px,#000084 148px,#000089 157px,#0000bb 174px,#0000bf 182px,#0000da 187px,#0000da 194px,#0000f6 200px,#0000f1 206px,#0000ff 209px,#0000ff 220px,#0014ff 225px,#0008ff 230px,#0020ff 235px,#0014ff 243px,#002cff 248px,#0020ff 255px,#0034ff 260px,#0028ff 264px,#0034ff 272px,#0024ff 275px,#0034ff 283px,#0020ff 288px,#002cff 295px,#0018ff 301px,#0024ff 306px,#000cff 312px,#0014ff 320px,#0000ff 324px,#0000ff 345px,#0000df 361px,#0000c4 397px,#0000e3"></i><i style="--g:#0000ff,#0000ff 73px,#0000d6 140px,#0000df 162px,#0000f6 175px,#0000ed 180px,#0000ff 184px,#0000ff 201px,#0018ff 213px,#0018ff 228px,#002cff 233px,#0028ff 239px,#0040ff 251px,#002cff 256px,#003cff 261px,#0030ff 268px,#0040ff 271px,#0034ff 275px,#0040ff 290px,#0028ff 295px,#0034ff 300px,#0020ff 305px,#002cff 309px,#001cff 315px,#0020ff 328px,#0008ff 333px,#000cff 340px,#0000ff 343px,#0000ff 368px,#0000ed 372px,#0000f6 378px,#0000df 392px,#0000d1 430px,#0000e3"></i><i style="--g:#0000ff,#0000ff 136px,#0040ff 213px,#0054ff 260px,#004cff 266px,#0058ff 271px,#0034ff 313px,#0000ff 346px,#0000ff 357px,#0000d1 382px,#0000ad 414px,#0000da"></i><i class=h2 style="--g:#0000f1,#0000ed 68px,#0000e3 70px,#0000ed 80px,#0000e3 82px,#0000f1 88px,#0000e8 91px,#0000fa 114px,#0000f1 117px,#0000ff 120px,#0000ff 141px,#004cff 201px,#0044ff 207px,#0058ff 213px,#0054ff 221px,#0068ff 233px,#0060ff 242px,#006cff 247px,#0060ff 253px,#006cff 261px,#0064ff 283px,#0050ff 289px,#0058ff 297px,#0048ff 303px,#0044ff 317px,#0028ff 324px,#002cff 330px,#0000ff 355px,#0000ff 364px,#0000bb 395px,#000096 420px,#00009f 443px,#0000cd 485px,#0000da"></i><i style="--g:#0000df,#0000c8 40px,#00009f 72px,#0000a4 82px,#000096 84px,#0000a4 88px,#00009b 91px,#0000a8 94px,#00009f 97px,#0000ad 100px,#0000b2 109px,#0000ff 147px,#0000ff 157px,#0054ff 207px,#0078ff 249px,#0078ff 280px,#0060ff 311px,#0000ff 379px,#0000ff 400px,#0000e3 426px,#0000da 457px,#0000e3"></i><i style="--g:#0000df,#0000c8 40px,#0000d1 46px,#0000bf 56px,#0000c8 63px,#0000b6 72px,#0000c8 78px,#0000bb 82px,#0000bf 92px,#0000cd 94px,#0000c4 104px,#0000da 110px,#0000d6 120px,#0000f1 127px,#0000ff 154px,#0070ff 224px,#0090ff 282px,#007cff 290px,#0088ff 298px,#0074ff 306px,#007cff 316px,#0068ff 322px,#0054ff 348px,#0040ff 356px,#0004ff 408px,#0000e3"></i><i class=h2 style="--g:#0000ed,#0000ed 76px,#0000fa 82px,#0000f1 87px,#0000ff 102px,#0000ff 138px,#001cff 155px,#0018ff 162px,#002cff 168px,#0034ff 185px,#004cff 192px,#0054ff 208px,#0068ff 215px,#0070ff 233px,#0080ff 238px,#0080ff 254px,#0090ff 261px,#0084ff 272px,#0094ff 277px,#0080ff 295px,#008cff 303px,#0070ff 320px,#0078ff 323px,#0064ff 330px,#0058ff 347px,#0040ff 354px,#0034ff 370px,#0014ff 382px,#0014ff 390px,#0000ff 396px,#0000ff 410px,#0000ed 416px,#0000ed 423px,#0000da 426px,#0000df 433px,#0000cd 436px,#0000d1 447px,#0000bb 461px,#0000cd"></i><i style="--g:#0000f6,#0000d6 117px,#0000e3 139px,#0000ff 154px,#0000ff 167px,#0058ff 219px,#0084ff 258px,#0090ff 282px,#0080ff 317px,#0060ff 343px,#0000ff 395px,#0000ff 404px,#0000b2 438px,#000092 461px,#0000a4 464px,#00009f 487px,#0000b2 490px,#0000b6 509px,#0000c8"></i><i class=h2 style="--g:#0000f1,#0000df 49px,#000092 118px,#0000b6 140px,#0000ff 170px,#0000ff 179px,#0050ff 218px,#0084ff 253px,#0084ff 263px,#0094ff 268px,#0094ff 315px,#0000ff 445px,#0000ff 491px,#0000f1 497px,#0000fa 503px,#0000ed"></i><i style="--g:#0000fa,#0004ff 131px,#0028ff 159px,#0028ff 169px,#0044ff 181px,#0054ff 201px,#0068ff 207px,#0070ff 223px,#0088ff 232px,#0084ff 245px,#00a0ff 252px,#0094ff 267px,#00a8ff 273px,#00a0ff 295px,#00acff 300px,#0098ff 313px,#00a4ff 322px,#0088ff 337px,#0090ff 347px,#0080ff 352px,#0078ff 371px,#0060ff 384px,#0060ff 394px,#004cff 403px,#0030ff 436px,#0000ff"></i><i style="--g:#0000f6,#0000ff 77px,#0010ff 101px,#0058ff 169px,#006cff 175px,#0068ff 183px,#0084ff 199px,#0080ff 207px,#009cff 223px,#0094ff 232px,#00acff 247px,#00a0ff 256px,#00b0ff 261px,#00a0ff 275px,#00acff 284px,#009cff 288px,#0094ff 302px,#009cff 308px,#008cff 312px,#0084ff 331px,#0054ff 360px,#0058ff 366px,#0034ff 382px,#003cff 387px,#0010ff 427px,#0000ff 464px,#0000ff"></i><i class=h2 style="--g:#0000c8,#0000c8 22px,#0000b6 32px,#0000c4 38px,#0000b6 42px,#0000c4 44px,#0000b2 48px,#0000bf 50px,#0000b6 52px,#0000c8 54px,#0000bb 57px,#0000c8 60px,#0000bb 64px,#0000d1 70px,#0000c8 74px,#0000d6 76px,#0000c8 80px,#0000e8 86px,#0000da 90px,#0000e8 92px,#0000df 96px,#0000ff 102px,#0004ff 123px,#0068ff 179px,#0068ff 187px,#0090ff 211px,#0098ff 237px,#00a8ff 244px,#008cff 299px,#0040ff 347px,#0008ff 369px,#0000ff 383px,#0000cd 401px,#0000d1 404px,#0000ad 417px,#0000ad 424px,#00009f 426px,#0000a4 430px,#000096 432px,#0000a4 436px,#00009f 449px,#0000ad 452px,#0000da 494px,#0000e8"></i><i style="--g:#0000c8,#0000c8 8px,#0000bb 10px,#0000c4 14px,#0000b6 16px,#0000bf 20px,#0000b2 22px,#0000bf 26px,#0000ad 28px,#0000bf 32px,#0000ad 34px,#0000bf 38px,#0000a8 40px,#0000bf 44px,#0000a8 46px,#0000bf 50px,#0000ad 52px,#0000bf 56px,#0000ad 58px,#0000c4 62px,#0000b6 64px,#0000c8 68px,#0000bb 70px,#0000cd 74px,#0000c4 77px,#0000d6 80px,#0000cd 83px,#0000df 86px,#0000d6 89px,#0000e8 92px,#0000df 94px,#0000fa 104px,#0000ff 120px,#006cff 182px,#00a8ff 245px,#00a8ff 275px,#0094ff 305px,#0000ff 410px,#0000ff 443px,#0000f1 452px,#0000ff"></i><i class=h2 style="--g:#0000ff,#0000ff 30px,#0010ff 34px,#0004ff 36px,#0010ff 40px,#0000ff 42px,#0018ff 48px,#000cff 50px,#0018ff 54px,#0008ff 56px,#0018ff 60px,#000cff 62px,#0020ff 68px,#0014ff 70px,#0020ff 74px,#0018ff 77px,#002cff 82px,#0020ff 84px,#002cff 87px,#0024ff 91px,#0038ff 96px,#0030ff 98px,#003cff 102px,#0030ff 105px,#0044ff 110px,#0044ff 125px,#0058ff 130px,#004cff 133px,#0050ff 139px,#0064ff 143px,#0060ff 153px,#007cff 164px,#0070ff 167px,#0088ff 177px,#0088ff 187px,#0098ff 191px,#008cff 197px,#00a4ff 206px,#009cff 215px,#00b4ff 227px,#00acff 233px,#00c0ff 253px,#00b4ff 258px,#00c0ff 267px,#00b4ff 278px,#00c0ff 287px,#00b4ff 293px,#00bcff 303px,#00acff 307px,#00b8ff 317px,#00a4ff 326px,#00a8ff 338px,#0098ff 342px,#009cff 352px,#008cff 356px,#0094ff 364px,#0080ff 370px,#0084ff 378px,#0070ff 389px,#0058ff 428px,#0048ff 433px,#004cff 442px,#003cff 451px,#0010ff"></i><i style="--g:#000cff,#0020ff 32px,#0020ff 74px,#0040ff 153px,#00a0ff 254px,#00a8ff 278px,#0098ff 343px,#0038ff 435px,#003cff 441px,#0030ff 443px,#0038ff 448px,#002cff 450px,#0028ff 465px,#001cff 467px,#0024ff 473px,#0018ff 475px,#0014ff 497px,#0008ff 499px,#0008ff"></i><i style="--g:#0000ff,#0000fa 50px,#0000da 66px,#0000df 72px,#0000b2 103px,#0000b6 108px,#00009b 113px,#0000ad 117px,#00009f 123px,#0000b2 126px,#0000a8 133px,#0000bf 138px,#0000b6 142px,#0000cd 148px,#0000c8 153px,#0000e3 159px,#0000df 162px,#0000ff 174px,#0008ff 191px,#001cff 196px,#0018ff 201px,#002cff 207px,#0028ff 211px,#003cff 217px,#0064ff 245px,#0070ff 289px,#007cff 293px,#0068ff 318px,#0074ff 325px,#0060ff 329px,#0058ff 352px,#0044ff 358px,#0048ff 364px,#0038ff 366px,#003cff 372px,#0028ff 377px,#002cff 384px,#001cff 386px,#0014ff 403px,#0004ff 406px,#0000ff 423px,#0000ed 426px,#0000f6 432px,#0000df 435px,#0000e8 442px,#0000d1 445px,#0000df 451px,#0000cd 455px,#0000d6 463px,#0000bf 465px,#0000d1 472px,#0000bb 475px,#0000c8 481px,#0000b2 483px,#0000c4 489px,#0000b2 494px,#0000c8 500px,#0000b6 503px,#0000cd 510px,#0000bf 513px,#0000cd"></i><i class=h2 style="--g:#0014ff,#0024ff 6px,#0018ff 10px,#0024ff 18px,#0018ff 22px,#0024ff 30px,#0018ff 38px,#0024ff 44px,#0014ff 46px,#0024ff 56px,#0014ff 58px,#0020ff 68px,#0010ff 70px,#0020ff 79px,#0010ff 82px,#0020ff 92px,#0010ff 94px,#0020ff 103px,#0010ff 106px,#0020ff 114px,#0014ff 120px,#0024ff 126px,#0018ff 131px,#002cff 137px,#0020ff 144px,#0038ff 150px,#0028ff 155px,#0044ff 163px,#0034ff 167px,#004cff 174px,#0040ff 179px,#0058ff 186px,#004cff 191px,#0068ff 199px,#0058ff 203px,#0074ff 211px,#0064ff 217px,#007cff 223px,#0070ff 229px,#0084ff 234px,#0074ff 241px,#0090ff 247px,#0080ff 254px,#0094ff 260px,#007cff 267px,#0098ff 273px,#0078ff 279px,#0090ff 286px,#0074ff 291px,#008cff 298px,#0070ff 303px,#0088ff 310px,#006cff 315px,#0084ff 322px,#0064ff 328px,#0078ff 334px,#0058ff 340px,#006cff 346px,#004cff 352px,#0060ff 358px,#0040ff 364px,#0050ff 370px,#0030ff 376px,#003cff 382px,#0020ff 389px,#002cff 394px,#0010ff 402px,#0014ff 410px,#0000ff 414px,#0000ff 436px,#0000f1 438px,#0000ff 447px,#0000e3 450px,#0000f1 459px,#0000d6 463px,#0000da 468px,#0000ed 471px,#0000cd 475px,#0000d1 480px,#0000e3 483px,#0000c8 487px,#0000cd 492px,#0000e3 495px,#0000c4 500px,#0000c8 504px,#0000df 507px,#0000c4 512px,#0000c4 515px,#0000df 519px,#0000d6"></i><i style="--g:#004cff,#0088ff 83px,#0098ff 90px,#0094ff 100px,#00a4ff 106px,#00a0ff 116px,#00b0ff 122px,#00a8ff 130px,#00bcff 138px,#00b4ff 147px,#00c8ff 154px,#00bcff 163px,#00d0ff 173px,#00c4ff 179px,#00dcfe 187px,#00ccff 196px,#00e4f8 203px,#00ccff 211px,#02e8f4 219px,#00d0ff 227px,#02e8f4 234px,#00d4ff 245px,#06ecf1 253px,#00d0ff 259px,#02e8f4 270px,#00c4ff 277px,#00e0fb 286px,#00bcff 293px,#00d4ff 303px,#00b0ff 310px,#00ccff 318px,#00c8ff 321px,#00a8ff 326px,#00c0ff 336px,#009cff 342px,#00b0ff 352px,#008cff 360px,#00a4ff 368px,#0080ff 374px,#0094ff 384px,#006cff 392px,#0084ff 400px,#0060ff 407px,#0074ff 416px,#0050ff 424px,#0064ff 433px,#0040ff 441px,#0054ff 449px,#0034ff 457px,#0044ff 466px,#0028ff 473px,#0038ff 482px,#001cff 489px,#002cff 498px,#0010ff 507px,#0020ff 514px,#000cff"></i><i style="--g:#003cff,#0034ff 3px,#0050ff 18px,#0048ff 28px,#0068ff 42px,#0060ff 53px,#0080ff 65px,#0074ff 76px,#009cff 90px,#008cff 101px,#00bcff 116px,#00a0ff 126px,#00d0ff 139px,#00b4ff 150px,#02e8f4 163px,#00c4ff 175px,#00e0fb 182px,#0ff8e7 187px,#0ff8e7 190px,#00dcfe 194px,#00ccff 199px,#13fce4 210px,#16ffe1 214px,#00e4f8 218px,#00d0ff 223px,#13fce4 233px,#16ffe1 238px,#00e4f8 242px,#00d0ff 247px,#13fce4 258px,#16ffe1 262px,#00e4f8 266px,#00c8ff 270px,#09f0ee 287px,#00d4ff 291px,#00b0ff 296px,#00dcfe 311px,#009cff 320px,#00c4ff 336px,#0088ff 344px,#00a8ff 358px,#009cff 362px,#0070ff 368px,#0084ff 374px,#0088ff 384px,#005cff 392px,#006cff 398px,#006cff 409px,#0044ff 417px,#0054ff 422px,#0054ff 433px,#002cff 442px,#003cff 446px,#003cff 458px,#0020ff 465px,#002cff 483px,#0014ff 490px,#0020ff 495px,#001cff 508px,#0008ff 515px,#0010ff"></i><i class=h2 style="--g:#0000df,#0000f1 18px,#0000df 26px,#0000e3 48px,#0000ff 50px,#0000ff 61px,#0018ff 68px,#0008ff 75px,#001cff 89px,#0018ff 98px,#0060ff 117px,#004cff 126px,#0060ff 133px,#0064ff 147px,#0074ff 155px,#00a0ff 165px,#008cff 173px,#00a0ff 186px,#0094ff 197px,#00a8ff 207px,#00ccff 215px,#00a8ff 223px,#00b4ff 240px,#00a4ff 252px,#00c8ff 265px,#00a0ff 272px,#00a0ff 286px,#0084ff 297px,#0098ff 314px,#0068ff 322px,#0068ff 331px,#003cff 348px,#0048ff 364px,#0018ff 372px,#0000ff 388px,#0000fa 413px,#0000c4 425px,#0000c8 428px,#0000a4 444px,#0000ad 461px,#00009b 467px,#0000b2 472px,#0000a4 475px,#0000a4 483px,#0000bb 498px,#0000bf 515px,#0000d1"></i><i style="--g:#0000d6,#0000ff 47px,#0000ff 63px,#009cff 172px,#00ccff 234px,#00c0ff 300px,#002cff 445px,#0008ff"></i><i class=h2 style="--g:#004cff,#0060ff 21px,#005cff 31px,#0074ff 37px,#008cff 54px,#0084ff 64px,#0094ff 82px,#00a8ff 85px,#00c4ff 102px,#00b8ff 112px,#00ccff 119px,#00c8ff 128px,#00dcfe 131px,#0ff8e7 148px,#00e4f8 160px,#13fce4 166px,#16ffe1 177px,#30ffc7 192px,#2cffca 199px,#19ffde 205px,#33ffc4 213px,#2cffca 223px,#43ffb4 238px,#40ffb7 246px,#26ffd1 255px,#40ffb7 262px,#46ffb1 284px,#40ffb7 292px,#26ffd1 299px,#39ffbe 307px,#2cffca 324px,#36ffc1 332px,#30ffc7 339px,#0ff8e7 347px,#1fffd7 355px,#16ffe1 381px,#00d8ff 394px,#00e4f8 405px,#00ccff 420px,#00d0ff 428px,#00a4ff 444px,#00b0ff 453px,#009cff 475px,#007cff 489px,#0080ff 498px,#0068ff"></i><i style="--g:#0048ff,#003cff 5px,#0060ff 20px,#0050ff 28px,#0078ff 43px,#0064ff 52px,#0090ff 65px,#0090ff 72px,#0080ff 74px,#0080ff 77px,#00a8ff 88px,#00a8ff 94px,#0094ff 99px,#00bcff 106px,#00c4ff 112px,#00c0ff 120px,#00acff 123px,#00dcfe 133px,#00dcfe 141px,#00c0ff 147px,#00dcfe 152px,#09f0ee 155px,#0ff8e7 159px,#09f0ee 167px,#00d8ff 172px,#16ffe1 178px,#1fffd7 187px,#19ffde 191px,#02e8f4 195px,#19ffde 200px,#2cffca 204px,#2cffca 211px,#0ff8e7 220px,#33ffc4 227px,#39ffbe 231px,#2cffca 239px,#19ffde 243px,#3cffba 252px,#1fffd7 266px,#39ffbe 272px,#3cffba 277px,#1cffdb 290px,#36ffc1 297px,#36ffc1 301px,#13fce4 314px,#2cffca 322px,#13fce4 336px,#06ecf1 339px,#1cffdb 346px,#16ffe1 351px,#09f0ee 356px,#0ff8e7 358px,#00dcfe 362px,#09f0ee 372px,#00c4ff 388px,#00d4ff 396px,#00acff 412px,#00b8ff 419px,#00a0ff 428px,#00a8ff 431px,#0098ff 434px,#009cff 442px,#0080ff 452px,#008cff 455px,#0080ff 458px,#0084ff 464px,#0064ff 476px,#0070ff 479px,#0048ff 501px,#0058ff 503px,#003cff"></i><i style="--g:#0000b2,#0000cd 7px,#0000b2 10px,#0000b6 17px,#0000da 24px,#0000bb 26px,#0000bf 31px,#0000ed 40px,#0000cd 42px,#0000d1 46px,#0000ff 56px,#0000e8 58px,#0000ff 68px,#0000ff 83px,#001cff 88px,#000cff 94px,#0034ff 104px,#0028ff 106px,#002cff 114px,#0050ff 120px,#0044ff 122px,#0044ff 129px,#0064ff 136px,#005cff 145px,#007cff 152px,#0074ff 162px,#0094ff 169px,#0088ff 177px,#00a8ff 185px,#009cff 195px,#00b8ff 201px,#00acff 211px,#00c4ff 217px,#00b8ff 227px,#00d0ff 233px,#00c0ff 243px,#00dcfe 250px,#00c4ff 258px,#00d8ff 265px,#00c8ff 275px,#00e4f8 280px,#00c0ff 289px,#00d8ff 295px,#00bcff 304px,#00d0ff 312px,#00acff 321px,#00bcff 329px,#009cff 338px,#00b0ff 344px,#008cff 353px,#009cff 360px,#0074ff 371px,#0084ff 374px,#0084ff 378px,#005cff 388px,#006cff 393px,#0044ff 404px,#0054ff 408px,#0050ff 411px,#002cff 419px,#003cff 424px,#0014ff 435px,#0020ff 442px,#0000ff 449px,#0000ff 463px,#0000ed 468px,#0000ff 473px,#0000d1 484px,#0000e3 490px,#0000bb 499px,#0000cd 505px,#0000a4 515px,#0000a4 517px,#0000bf 519px,#0000bb"></i><i class=h2 style="--g:#0038ff,#002cff 8px,#0048ff 10px,#0038ff 20px,#0054ff 22px,#0040ff 32px,#005cff 34px,#005cff 40px,#004cff 44px,#0068ff 46px,#0068ff 52px,#0058ff 56px,#0074ff 58px,#0068ff 68px,#0080ff 70px,#0078ff 80px,#0090ff 83px,#0088ff 92px,#009cff 94px,#00a0ff 98px,#0094ff 104px,#00acff 107px,#00b0ff 113px,#00a4ff 116px,#00bcff 119px,#00c0ff 125px,#00b4ff 128px,#00d0ff 135px,#00c8ff 141px,#00e0fb 147px,#00d8ff 153px,#06ecf1 158px,#00e4f8 165px,#0ff8e7 170px,#09f0ee 177px,#16ffe1 182px,#13fce4 189px,#23ffd4 195px,#19ffde 201px,#33ffc4 219px,#2cffca 237px,#40ffb7 255px,#33ffc4 272px,#46ffb1 279px,#36ffc1 284px,#43ffb4 292px,#33ffc4 296px,#40ffb7 304px,#30ffc7 308px,#3cffba 316px,#26ffd1 322px,#30ffc7 328px,#23ffd4 330px,#29ffce 340px,#19ffde 345px,#23ffd4 352px,#13fce4 354px,#19ffde 364px,#09f0ee 367px,#13fce4 376px,#00e4f8 379px,#06ecf1 388px,#00d8ff 390px,#00e0fb 400px,#00c8ff 405px,#00d4ff 412px,#00bcff 415px,#00b8ff 420px,#00c8ff 424px,#00b0ff 427px,#00b4ff 436px,#00a0ff 439px,#009cff 443px,#00a4ff 449px,#0090ff 451px,#0094ff 461px,#0080ff 463px,#0088ff 472px,#0074ff 475px,#0078ff 485px,#0064ff 487px,#0068ff 497px,#0054ff 499px,#0060ff 509px,#0048ff 511px,#0054ff"></i><i style="--g:#00e4f8,#16ffe1 21px,#2cffca 40px,#39ffbe 42px,#3cffba 58px,#5aff9d 70px,#56ffa0 78px,#66ff90 82px,#7aff7d 100px,#73ff83 108px,#8dff6a 119px,#a0ff56 146px,#adff49 149px,#a4ff53 155px,#c4ff33 177px,#beff39 184px,#caff2c 187px,#beff39 195px,#d7ff1f 205px,#ceff29 213px,#deff19 235px,#d1ff26 241px,#e4ff13 263px,#e1ff16 275px,#d1ff26 281px,#e1ff16 293px,#c4ff33 328px,#c1ff36 351px,#b4ff43 356px,#baff3c 361px,#a0ff56 377px,#97ff60 400px,#7aff7d 416px,#7dff7a 427px,#6dff8a 431px,#16ffe1 505px,#02e8f4"></i><i class=h2 style="--g:#00dcfe,#00ccff 2px,#02e8f4 8px,#00d4ff 10px,#0cf4eb 16px,#00e4f8 18px,#16ffe1 24px,#09f0ee 26px,#1fffd7 32px,#0ff8e7 34px,#2cffca 40px,#1cffdb 42px,#36ffc1 48px,#26ffd1 50px,#40ffb7 56px,#30ffc7 58px,#49ffad 64px,#3cffba 66px,#56ffa0 72px,#46ffb1 74px,#60ff97 80px,#50ffa7 82px,#66ff90 87px,#5aff9d 91px,#70ff87 96px,#63ff94 98px,#7aff7d 104px,#6dff8a 107px,#83ff73 112px,#77ff80 114px,#8aff6d 120px,#7dff7a 123px,#94ff63 128px,#87ff70 131px,#9dff5a 136px,#90ff66 139px,#a7ff50 144px,#9aff5d 147px,#adff49 151px,#a0ff56 155px,#b4ff43 161px,#a7ff50 163px,#baff3c 167px,#adff49 171px,#c4ff33 176px,#b4ff43 179px,#c7ff30 183px,#baff3c 187px,#ceff29 191px,#c1ff36 195px,#d1ff26 201px,#c4ff33 203px,#d7ff1f 207px,#c7ff30 211px,#dbff1c 215px,#ceff29 219px,#deff19 225px,#ceff29 227px,#deff19 233px,#d1ff26 235px,#e4ff13 240px,#d7ff1f 243px,#e4ff13 246px,#d7ff1f 251px,#e4ff13 256px,#d1ff26 259px,#ebff0c 273px,#deff19 275px,#e7ff0f 281px,#dbff1c 283px,#e7ff0f 287px,#d7ff1f 291px,#e4ff13 296px,#d4ff23 299px,#e1ff16 304px,#d1ff26 307px,#deff19 311px,#c7ff30 316px,#d4ff23 318px,#c1ff36 324px,#ceff29 327px,#baff3c 332px,#caff2c 334px,#b4ff43 340px,#c4ff33 342px,#adff49 348px,#beff39 350px,#a7ff50 356px,#b7ff40 358px,#9dff5a 364px,#b1ff46 366px,#97ff60 372px,#a7ff50 374px,#90ff66 380px,#a0ff56 383px,#8aff6d 388px,#97ff60 391px,#80ff77 396px,#8dff6a 399px,#77ff80 404px,#87ff70 406px,#6dff8a 412px,#7aff7d 415px,#63ff94 420px,#70ff87 423px,#5aff9d 428px,#66ff90 431px,#50ffa7 436px,#5dff9a 439px,#46ffb1 444px,#53ffa4 447px,#3cffba 452px,#49ffad 455px,#33ffc4 461px,#40ffb7 463px,#26ffd1 469px,#33ffc4 471px,#1cffdb 476px,#29ffce 479px,#0ff8e7 485px,#1fffd7 487px,#06ecf1 493px,#16ffe1 495px,#00e0fb 501px,#0cf4eb 503px,#00d0ff 509px,#00e4f8 511px,#00c4ff 517px,#00dcfe 519px,#00d0ff"></i><i style="--g:#0040ff,#0048ff 8px,#003cff 10px,#005cff 16px,#0050ff 18px,#0060ff 21px,#0054ff 24px,#0060ff 28px,#0058ff 30px,#0084ff 36px,#0074ff 44px,#0098ff 50px,#008cff 52px,#0098ff 55px,#0090ff 58px,#00acff 64px,#00acff 78px,#00d4ff 84px,#00c8ff 92px,#02e8f4 98px,#00e4f8 107px,#13fce4 112px,#16ffe1 118px,#13fce4 126px,#30ffc7 132px,#29ffce 141px,#3cffba 147px,#39ffbe 160px,#5aff9d 167px,#4dffaa 175px,#60ff97 181px,#5aff9d 189px,#6aff8d 195px,#63ff94 209px,#7aff7d 215px,#70ff87 222px,#7dff7a 229px,#77ff80 258px,#87ff70 263px,#73ff83 288px,#87ff70 298px,#73ff83 305px,#70ff87 326px,#5dff9a 337px,#63ff94 347px,#53ffa4 352px,#30ffc7 396px,#16ffe1 412px,#06ecf1 420px,#09f0ee 431px,#00dcfe 434px,#00b8ff 459px,#009cff 468px,#0098ff 479px,#0088ff 482px,#008cff 485px,#005cff 505px,#0064ff 513px,#004cff 517px,#0048ff"></i><i style="--g:#00c8ff,#00c4ff 2px,#00dcfe 4px,#00c8ff 8px,#00e4f8 10px,#00d4ff 14px,#06ecf1 16px,#00dcfe 20px,#0ff8e7 22px,#00e4f8 26px,#16ffe1 28px,#06ecf1 32px,#1cffdb 34px,#0cf4eb 38px,#26ffd1 40px,#16ffe1 44px,#2cffca 46px,#1cffdb 50px,#33ffc4 52px,#23ffd4 56px,#3cffba 58px,#2cffca 62px,#43ffb4 64px,#33ffc4 68px,#49ffad 70px,#3cffba 74px,#50ffa7 77px,#43ffb4 80px,#56ffa0 82px,#49ffad 86px,#60ff97 89px,#53ffa4 92px,#66ff90 95px,#5aff9d 98px,#6dff8a 101px,#60ff97 104px,#73ff83 106px,#66ff90 110px,#7dff7a 113px,#70ff87 116px,#83ff73 119px,#77ff80 122px,#8aff6d 125px,#7dff7a 128px,#90ff66 131px,#83ff73 134px,#97ff60 137px,#8aff6d 141px,#9dff5a 143px,#90ff66 147px,#a0ff56 149px,#97ff60 153px,#a7ff50 155px,#9dff5a 159px,#adff49 161px,#a0ff56 165px,#b4ff43 167px,#a7ff50 171px,#b7ff40 173px,#aaff4d 177px,#beff39 179px,#adff49 183px,#c1ff36 185px,#b4ff43 189px,#c4ff33 192px,#b7ff40 195px,#caff2c 197px,#baff3c 201px,#ceff29 203px,#beff39 207px,#d1ff26 209px,#c1ff36 213px,#d1ff26 215px,#c4ff33 219px,#d4ff23 221px,#c7ff30 225px,#d7ff1f 227px,#caff2c 231px,#dbff1c 234px,#ceff29 237px,#dbff1c 241px,#ceff29 243px,#deff19 246px,#d1ff26 249px,#deff19 253px,#d1ff26 255px,#deff19 257px,#d4ff23 262px,#e1ff16 264px,#d4ff23 267px,#e1ff16 270px,#d4ff23 273px,#e1ff16 276px,#d4ff23 279px,#deff19 289px,#d1ff26 292px,#deff19 294px,#d1ff26 297px,#dbff1c 302px,#ceff29 304px,#dbff1c 307px,#ceff29 310px,#d7ff1f 314px,#caff2c 316px,#d7ff1f 319px,#c7ff30 322px,#d4ff23 325px,#c4ff33 328px,#d1ff26 331px,#c1ff36 334px,#ceff29 338px,#beff39 340px,#caff2c 344px,#b7ff40 346px,#c4ff33 348px,#b4ff43 352px,#c1ff36 356px,#b1ff46 358px,#beff39 362px,#aaff4d 364px,#baff3c 368px,#a7ff50 370px,#b4ff43 374px,#a0ff56 376px,#b1ff46 380px,#9dff5a 382px,#aaff4d 386px,#97ff60 388px,#a4ff53 392px,#90ff66 394px,#9dff5a 398px,#8dff6a 400px,#97ff60 403px,#87ff70 406px,#90ff66 410px,#80ff77 412px,#8aff6d 415px,#7aff7d 418px,#83ff73 422px,#73ff83 424px,#7dff7a 428px,#6dff8a 431px,#77ff80 434px,#66ff90 436px,#70ff87 440px,#5dff9a 443px,#6aff8d 446px,#56ffa0 449px,#60ff97 451px,#50ffa7 455px,#5aff9d 458px,#46ffb1 461px,#53ffa4 464px,#40ffb7 467px,#49ffad 469px,#39ffbe 473px,#43ffb4 477px,#30ffc7 479px,#3cffba 483px,#29ffce 485px,#33ffc4 489px,#1fffd7 491px,#2cffca 495px,#19ffde 497px,#26ffd1 500px,#13fce4 503px,#1fffd7 507px,#09f0ee 509px,#19ffde 513px,#02e8f4 515px,#0ff8e7 519px,#00e0fb"></i><i class=h2 style="--g:#94ff63,#90ff66 8px,#aaff4d 15px,#a7ff50 24px,#c4ff33 31px,#baff3c 40px,#deff19 48px,#d1ff26 56px,#f1fc06 64px,#ebff0c 73px,#ffea00 78px,#f8f500 88px,#ffcc00 96px,#ffdb00 104px,#ffb900 112px,#ffc400 121px,#ffa300 128px,#ffb200 137px,#ff9100 144px,#ff9f00 153px,#ff7e00 161px,#ff9100 169px,#ff6f00 176px,#ff8200 185px,#ff6000 193px,#ff6c00 195px,#ff6800 199px,#ff7700 201px,#ff6400 203px,#ff5500 209px,#ff6400 211px,#ff5d00 215px,#ff6c00 217px,#ff4e00 224px,#ff5500 231px,#ff6400 233px,#ff4700 241px,#ff4e00 247px,#ff5d00 249px,#ff4300 256px,#ff5900 266px,#ff5500 276px,#ff3f00 283px,#ff5500 291px,#ff4300 300px,#ff5900 308px,#ff4300 316px,#ff5d00 324px,#ff4e00 332px,#ff6800 340px,#ff5900 348px,#ff7300 356px,#ff6400 364px,#ff7e00 372px,#ff7300 380px,#ff8200 382px,#ff7e00 386px,#ff8d00 388px,#ff8600 396px,#ff9f00 404px,#ff9400 412px,#ffb200 420px,#ffab00 428px,#ffc800 437px,#ffbd00 444px,#ffde00 453px,#ffd300 460px,#f8f500 469px,#feed00 477px,#f1fc06 479px,#e1ff16 485px,#e7ff0f 493px,#caff2c 501px,#d1ff26 509px,#b4ff43 517px,#baff3c"></i><i style="--g:#3cffba,#30ffc7 2px,#49ffad 6px,#39ffbe 8px,#49ffad 10px,#3cffba 12px,#4dffaa 14px,#3cffba 16px,#56ffa0 20px,#46ffb1 22px,#5dff9a 24px,#4dffaa 26px,#6aff8d 30px,#56ffa0 32px,#6aff8d 34px,#5aff9d 36px,#6dff8a 38px,#5aff9d 40px,#77ff80 44px,#63ff94 46px,#7aff7d 48px,#66ff90 50px,#87ff70 54px,#73ff83 56px,#87ff70 58px,#77ff80 60px,#8aff6d 62px,#77ff80 64px,#90ff66 68px,#80ff77 70px,#97ff60 72px,#83ff73 74px,#a4ff53 78px,#94ff63 80px,#a4ff53 82px,#94ff63 84px,#a7ff50 86px,#94ff63 89px,#aaff4d 92px,#9dff5a 94px,#b1ff46 96px,#a7ff50 99px,#c1ff36 102px,#b1ff46 104px,#c1ff36 110px,#b1ff46 113px,#c4ff33 116px,#baff3c 118px,#c7ff30 120px,#c1ff36 123px,#dbff1c 126px,#ceff29 129px,#dbff1c 130px,#d1ff26 133px,#deff19 135px,#caff2c 137px,#deff19 141px,#d1ff26 143px,#e4ff13 145px,#d7ff1f 147px,#f4f802 151px,#e4ff13 153px,#f4f802 155px,#e7ff0f 157px,#f4f802 159px,#e1ff16 161px,#f4f802 165px,#e7ff0f 167px,#fbf100 169px,#eeff09 171px,#ffe600 173px,#ffde00 175px,#fbf100 177px,#ffde00 179px,#fbf100 181px,#ffdb00 183px,#f4f802 185px,#f4f802 187px,#ffe200 189px,#f8f500 191px,#ffd700 193px,#feed00 195px,#ffd000 197px,#ffc800 199px,#ffde00 201px,#ffc400 203px,#ffdb00 205px,#ffc400 207px,#ffe600 210px,#ffd000 213px,#ffe200 215px,#ffc400 217px,#ffdb00 219px,#ffb600 223px,#ffcc00 225px,#ffb600 227px,#ffc800 229px,#ffb600 231px,#ffd000 233px,#ffc100 237px,#ffd300 239px,#ffbd00 241px,#ffc800 243px,#ffab00 247px,#ffbd00 249px,#ffab00 251px,#ffb900 253px,#ffab00 255px,#ffc100 257px,#ffb900 261px,#ffcc00 263px,#ffb600 265px,#ffc100 267px,#ffab00 270px,#ffc100 273px,#ffb200 275px,#ffb600 278px,#ffa700 279px,#ffb200 282px,#ffa300 285px,#ffb600 287px,#ffab00 294px,#ffc100 297px,#ffae00 300px,#ffb900 302px,#ffa700 304px,#ffb600 306px,#ffa300 309px,#ffb600 312px,#ffa700 314px,#ffb600 316px,#ffa700 318px,#ffc100 321px,#ffae00 324px,#ffbd00 326px,#ffa700 328px,#ffb900 330px,#ffa700 332px,#ffc100 336px,#ffab00 338px,#ffbd00 340px,#ffab00 342px,#ffc800 346px,#ffb200 348px,#ffc400 350px,#ffae00 352px,#ffc400 354px,#ffb200 357px,#ffcc00 360px,#ffb600 362px,#ffc800 364px,#ffb600 366px,#ffd700 370px,#ffc100 372px,#ffd300 374px,#ffb900 376px,#ffd000 378px,#ffbd00 380px,#ffd700 384px,#ffc400 386px,#ffd700 388px,#ffc400 390px,#ffe600 394px,#ffd300 396px,#ffe200 398px,#ffd000 400px,#ffde00 402px,#ffd300 406px,#ffea00 408px,#ffd700 414px,#f4f802 418px,#ffea00 420px,#f4f802 422px,#ffe600 424px,#fbf100 426px,#ffe600 429px,#f1fc06 432px,#fbf100 439px,#e1ff16 442px,#eeff09 448px,#e4ff13 451px,#f1fc06 453px,#dbff1c 457px,#e7ff0f 459px,#dbff1c 461px,#e4ff13 463px,#c7ff30 467px,#d4ff23 469px,#caff2c 471px,#d7ff1f 473px,#caff2c 475px,#d7ff1f 477px,#c1ff36 481px,#ceff29 487px,#adff49 491px,#baff3c 493px,#adff49 495px,#beff39 497px,#b1ff46 499px,#beff39 501px,#a4ff53 505px,#b4ff43 507px,#a7ff50 509px,#b4ff43 511px,#90ff66 515px,#a0ff56 517px,#90ff66 519px,#a0ff56"></i><i style="--g:#0094ff,#0090ff 5px,#00b8ff 16px,#00acff 20px,#00b0ff 28px,#00d4ff 38px,#00c8ff 46px,#00d8ff 48px,#00d8ff 55px,#0ff8e7 63px,#06ecf1 72px,#16ffe1 81px,#26ffd1 85px,#1cffdb 94px,#26ffd1 103px,#40ffb7 111px,#33ffc4 126px,#5aff9d 137px,#4dffaa 147px,#6aff8d 159px,#5dff9a 175px,#7dff7a 185px,#6dff8a 199px,#8aff6d 207px,#83ff73 215px,#77ff80 217px,#83ff73 219px,#7dff7a 226px,#94ff63 233px,#80ff77 249px,#9aff5d 256px,#87ff70 266px,#90ff66 267px,#8aff6d 275px,#9dff5a 281px,#80ff77 297px,#9dff5a 308px,#83ff73 322px,#97ff60 329px,#94ff63 334px,#7dff7a 340px,#8aff6d 342px,#77ff80 346px,#90ff66 356px,#70ff87 370px,#87ff70 378px,#66ff90 388px,#70ff87 394px,#63ff94 398px,#73ff83 404px,#5dff9a 410px,#5dff9a 416px,#49ffad 420px,#60ff97 431px,#46ffb1 440px,#4dffaa 443px,#3cffba 446px,#49ffad 453px,#30ffc7 463px,#39ffbe 465px,#23ffd4 468px,#36ffc1 479px,#1cffdb 485px,#23ffd4 491px,#0ff8e7 495px,#1cffdb 497px,#19ffde 505px,#09f0ee 507px,#0ff8e7 509px,#00e4f8 511px,#0cf4eb 513px,#00d4ff 517px,#00e0fb 519px,#00d8ff"></i><i class=h2 style="--g:#b7ff40,#caff2c 2px,#baff3c 4px,#ceff29 6px,#c1ff36 8px,#d4ff23 10px,#c4ff33 12px,#d7ff1f 14px,#c7ff30 16px,#dbff1c 18px,#caff2c 20px,#e1ff16 22px,#ceff29 24px,#e4ff13 26px,#d1ff26 28px,#e4ff13 30px,#d4ff23 32px,#ebff0c 34px,#dbff1c 36px,#f1fc06 38px,#deff19 40px,#f4f802 42px,#deff19 44px,#f8f500 46px,#e4ff13 48px,#fbf100 50px,#e7ff0f 52px,#feed00 54px,#ebff0c 56px,#ffea00 58px,#eeff09 60px,#ffe600 62px,#f1fc06 64px,#ffe200 66px,#f4f802 68px,#ffde00 70px,#f8f500 72px,#ffde00 74px,#fbf100 76px,#ffdb00 78px,#feed00 80px,#ffd700 82px,#ffea00 84px,#ffd300 86px,#ffe600 88px,#ffd300 90px,#ffe600 92px,#ffd000 94px,#ffe200 96px,#ffcc00 98px,#ffde00 100px,#ffcc00 102px,#ffdb00 104px,#ffc800 106px,#ffd700 108px,#ffc400 110px,#ffd300 112px,#ffc400 114px,#ffd300 116px,#ffc400 118px,#ffd300 120px,#ffc400 122px,#ffd000 125px,#ffbd00 127px,#ffc800 129px,#ffb900 130px,#ffc400 133px,#ffb600 135px,#ffc400 137px,#ffb200 139px,#ffc100 140px,#ffb200 143px,#ffc100 145px,#ffae00 147px,#ffbd00 149px,#ffab00 151px,#ffbd00 153px,#ffae00 154px,#ffbd00 157px,#ffab00 159px,#ffbd00 161px,#ffa700 163px,#ffb900 165px,#ffa700 167px,#ffb900 169px,#ffa300 171px,#ffb600 173px,#ffa300 175px,#ffb900 177px,#ffa300 179px,#ffb600 181px,#ff9f00 183px,#ffb600 185px,#ff9f00 187px,#ffb600 189px,#ff9c00 191px,#ffb600 193px,#ff9c00 195px,#ffb600 197px,#ff9c00 199px,#ffb200 201px,#ff9800 203px,#ffb200 205px,#ff9800 207px,#ffb600 209px,#ff9c00 211px,#ffb200 213px,#ff9800 215px,#ffb200 217px,#ff9800 219px,#ffb200 221px,#ff9c00 223px,#ffb200 225px,#ff9c00 227px,#ffb200 229px,#ff9c00 231px,#ffb200 233px,#ff9c00 235px,#ffb200 237px,#ff9f00 239px,#ffb600 241px,#ffa300 243px,#ffb900 245px,#ffa700 247px,#ffbd00 249px,#ffab00 251px,#ffc100 253px,#ffb200 255px,#ffc800 257px,#ffbd00 259px,#ffd700 261px,#ffc800 263px,#ffd700 265px,#ffb200 275px,#ffbd00 277px,#ffb200 280px,#ffc100 281px,#ffb600 283px,#ffc100 285px,#ffb600 287px,#ffc400 289px,#ffb900 292px,#ffc800 294px,#ffb900 296px,#ffc800 297px,#ffbd00 299px,#ffc800 302px,#ffb900 304px,#ffc800 306px,#ffb900 308px,#ffc800 310px,#ffb600 312px,#ffc400 314px,#ffb600 316px,#ffc400 318px,#ffb600 320px,#ffc800 322px,#ffb600 324px,#ffc800 326px,#ffb900 328px,#ffcc00 330px,#ffb900 332px,#ffd000 334px,#ffbd00 336px,#ffd300 338px,#ffc100 340px,#ffd700 342px,#ffc400 344px,#ffdb00 346px,#ffc800 348px,#ffde00 350px,#ffc800 352px,#ffe200 354px,#ffcc00 356px,#ffe200 358px,#ffcc00 360px,#ffe600 362px,#ffd000 364px,#ffea00 366px,#ffd300 368px,#feed00 370px,#ffd700 372px,#fbf100 374px,#ffdb00 376px,#fbf100 378px,#ffe200 380px,#f4f802 382px,#ffe600 384px,#f1fc06 386px,#feed00 388px,#eeff09 390px,#feed00 392px,#eeff09 394px,#fbf100 396px,#e7ff0f 398px,#f4f802 400px,#e4ff13 402px,#f1fc06 404px,#e1ff16 406px,#eeff09 408px,#deff19 410px,#ebff0c 412px,#dbff1c 414px,#e7ff0f 416px,#d7ff1f 422px,#e1ff16 424px,#d1ff26 426px,#d7ff1f 429px,#caff2c 430px,#d4ff23 433px,#c7ff30 434px,#d1ff26 437px,#c4ff33 439px,#ceff29 441px,#c1ff36 442px,#c7ff30 445px,#baff3c 446px,#c1ff36 453px,#b1ff46 455px,#beff39 457px,#adff49 459px,#baff3c 461px,#aaff4d 463px,#b4ff43 465px,#a4ff53 467px,#b1ff46 469px,#a0ff56 471px,#adff49 473px,#9dff5a 475px,#aaff4d 477px,#97ff60 479px,#a7ff50 481px,#94ff63 483px,#a0ff56 485px,#90ff66 487px,#9dff5a 489px,#8aff6d 491px,#9aff5d 493px,#87ff70 495px,#94ff63 497px,#80ff77 499px,#90ff66 501px,#7dff7a 503px,#8dff6a 505px,#7aff7d 507px,#8aff6d 509px,#77ff80 511px,#87ff70 513px,#70ff87 515px,#80ff77 517px,#6aff8d 519px,#7aff7d"></i><i style="--g:#ff8900,#ff9100 6px,#ff6000 16px,#ff7300 28px,#ff4300 38px,#ff5900 54px,#ff3000 60px,#ff2500 64px,#ff3f00 76px,#fa0f00 85px,#ff2900 98px,#ff1300 103px,#e80000 106px,#da0000 113px,#ff1300 124px,#e80000 127px,#bf0000 134px,#df0000 147px,#a80000 157px,#b20000 164px,#cd0000 168px,#d60000 173px,#a40000 179px,#960000 183px,#bf0000 191px,#b60000 193px,#c40000 195px,#ad0000 197px,#890000 205px,#960000 213px,#bb0000 217px,#b60000 219px,#c40000 221px,#8d0000 227px,#840000 231px,#b60000 243px,#800000 253px,#b60000 265px,#800000 275px,#800000 279px,#bb0000 291px,#840000 301px,#a40000 310px,#bb0000 313px,#890000 324px,#a40000 332px,#cd0000 336px,#c40000 338px,#d10000 340px,#a40000 346px,#9b0000 350px,#ad0000 354px,#d60000 358px,#cd0000 360px,#da0000 362px,#b20000 368px,#ad0000 372px,#c40000 380px,#f10800 384px,#e80000 386px,#fa0f00 388px,#e80000 390px,#e40000 392px,#cd0000 394px,#c80000 398px,#e80000 404px,#ff1300 406px,#fa0f00 414px,#e40000 416px,#e80000 422px,#ff1300 429px,#ff2d00 432px,#ff3800 436px,#ff1a00 443px,#ff1a00 447px,#ff4a00 458px,#ff3000 465px,#ff3000 469px,#ff6800 481px,#ff4a00 491px,#ff5d00 499px,#ff8200 503px,#ff7a00 505px,#ff8900 507px,#ff6c00 513px,#ff7a00"></i><i class=h2 style="--g:#5aff9d,#53ffa4 2px,#66ff90 6px,#80ff77 8px,#63ff94 12px,#77ff80 14px,#73ff83 16px,#8aff6d 18px,#6aff8d 21px,#66ff90 26px,#7aff7d 28px,#77ff80 30px,#97ff60 32px,#77ff80 36px,#8dff6a 38px,#87ff70 40px,#a4ff53 42px,#7aff7d 46px,#87ff70 48px,#7aff7d 50px,#8dff6a 52px,#8aff6d 54px,#aaff4d 56px,#8aff6d 60px,#a0ff56 62px,#9dff5a 64px,#b7ff40 66px,#90ff66 70px,#90ff66 74px,#a0ff56 76px,#9dff5a 78px,#baff3c 80px,#a0ff56 84px,#b1ff46 88px,#c7ff30 90px,#a4ff53 94px,#a4ff53 98px,#b4ff43 102px,#caff2c 104px,#b4ff43 108px,#dbff1c 114px,#b7ff40 119px,#b7ff40 122px,#ceff29 124px,#caff2c 126px,#e1ff16 129px,#c7ff30 132px,#eeff09 139px,#ceff29 142px,#caff2c 146px,#e7ff0f 149px,#deff19 151px,#f1fc06 153px,#dbff1c 157px,#eeff09 161px,#ffea00 163px,#e7ff0f 165px,#deff19 167px,#deff19 171px,#fbf100 173px,#ebff0c 175px,#ffe600 177px,#eeff09 179px,#e7ff0f 181px,#fbf100 185px,#ffd300 187px,#f8f500 189px,#ebff0c 195px,#ffde00 197px,#f8f500 199px,#ffd300 201px,#fbf100 203px,#f8f500 205px,#ffe200 207px,#ffe200 209px,#ffc100 211px,#fbf100 215px,#fbf100 219px,#ffd000 221px,#ffe200 223px,#ffc400 225px,#ffe200 227px,#ffe600 229px,#ffd300 233px,#ffb600 235px,#ffde00 239px,#ffe200 243px,#ffc400 245px,#ffd300 247px,#ffbd00 249px,#ffdb00 253px,#ffbd00 258px,#ffab00 259px,#ffd700 263px,#ffdb00 267px,#ffc100 269px,#ffc800 271px,#ffb600 273px,#ffd700 277px,#ffc800 281px,#ffae00 283px,#ffc800 287px,#ffc100 291px,#ffa700 294px,#ffb900 296px,#ffab00 298px,#ffc800 300px,#ffcc00 302px,#ffa700 308px,#ffc100 312px,#ffb600 316px,#ff9f00 318px,#ffb200 320px,#ff9f00 322px,#ffbd00 324px,#ffc400 326px,#ffb600 330px,#ff9c00 332px,#ffb600 336px,#ffab00 340px,#ff9400 342px,#ffae00 344px,#ff9c00 346px,#ffb900 348px,#ffc100 350px,#ffb900 353px,#ff9800 356px,#ffb200 358px,#ffb600 360px,#ffab00 364px,#ff9400 366px,#ffae00 368px,#ff9c00 370px,#ffb900 372px,#ffbd00 376px,#ffb600 378px,#ff9800 380px,#ffb600 384px,#ffab00 388px,#ff9400 390px,#ffae00 392px,#ff9f00 394px,#ffc100 398px,#ffbd00 401px,#ff9f00 404px,#ffb600 407px,#ffb600 410px,#ff9c00 414px,#ffb900 417px,#ffc400 421px,#ffbd00 426px,#ffa700 428px,#ffbd00 432px,#ffb900 436px,#ffa700 438px,#ffc100 441px,#ffcc00 446px,#ffcc00 449px,#ffb200 452px,#ffc400 456px,#ffb200 463px,#ffcc00 465px,#ffd700 472px,#ffbd00 477px,#ffd000 479px,#ffd300 482px,#ffbd00 487px,#ffd700 489px,#ffe200 493px,#ffe200 497px,#ffc800 501px,#ffdb00 503px,#ffde00 507px,#ffc800 511px,#ffe200 513px,#fbf100"></i><i style="--g:#1fffd7,#33ffc4 2px,#1cffdb 4px,#0cf4eb 8px,#2cffca 12px,#1fffd7 15px,#3cffba 18px,#26ffd1 20px,#16ffe1 24px,#1cffdb 26px,#39ffbe 28px,#26ffd1 30px,#46ffb1 34px,#30ffc7 36px,#33ffc4 38px,#1fffd7 40px,#26ffd1 42px,#43ffb4 44px,#33ffc4 47px,#53ffa4 50px,#3cffba 52px,#2cffca 57px,#4dffaa 60px,#3cffba 62px,#43ffb4 64px,#5dff9a 66px,#36ffc1 73px,#53ffa4 76px,#49ffad 80px,#63ff94 82px,#40ffb7 90px,#5aff9d 92px,#53ffa4 96px,#6dff8a 98px,#49ffad 105px,#63ff94 109px,#5dff9a 112px,#73ff83 114px,#53ffa4 121px,#6aff8d 125px,#60ff97 128px,#7aff7d 131px,#5aff9d 138px,#73ff83 141px,#66ff90 143px,#83ff73 147px,#63ff94 154px,#7dff7a 157px,#70ff87 160px,#8dff6a 163px,#6aff8d 171px,#83ff73 173px,#7dff7a 177px,#97ff60 179px,#83ff73 181px,#6dff8a 187px,#8aff6d 189px,#80ff77 193px,#9dff5a 195px,#73ff83 203px,#90ff66 205px,#83ff73 209px,#a0ff56 211px,#77ff80 219px,#94ff63 221px,#8dff6a 225px,#a7ff50 227px,#7dff7a 235px,#97ff60 237px,#8dff6a 241px,#a4ff53 243px,#7dff7a 251px,#97ff60 253px,#8dff6a 257px,#a4ff53 259px,#80ff77 267px,#94ff63 269px,#83ff73 273px,#9aff5d 276px,#83ff73 283px,#97ff60 286px,#83ff73 289px,#9aff5d 292px,#87ff70 299px,#9aff5d 302px,#8aff6d 306px,#a0ff56 308px,#8dff6a 315px,#a0ff56 318px,#8aff6d 322px,#a0ff56 324px,#8aff6d 332px,#a0ff56 334px,#8aff6d 338px,#a0ff56 340px,#8aff6d 348px,#a0ff56 350px,#8aff6d 354px,#a0ff56 356px,#97ff60 362px,#87ff70 364px,#a0ff56 366px,#8aff6d 370px,#a0ff56 372px,#97ff60 378px,#87ff70 380px,#9dff5a 382px,#87ff70 386px,#9dff5a 388px,#97ff60 394px,#87ff70 396px,#9aff5d 399px,#87ff70 402px,#9aff5d 404px,#9aff5d 406px,#97ff60 410px,#87ff70 412px,#94ff63 415px,#80ff77 418px,#97ff60 421px,#97ff60 426px,#87ff70 428px,#94ff63 431px,#80ff77 434px,#94ff63 439px,#80ff77 445px,#8dff6a 448px,#7dff7a 450px,#90ff66 455px,#7aff7d 461px,#8aff6d 463px,#7aff7d 467px,#8dff6a 469px,#8dff6a 471px,#87ff70 475px,#73ff83 477px,#83ff73 479px,#73ff83 483px,#8aff6d 486px,#80ff77 491px,#6dff8a 493px,#7dff7a 495px,#6dff8a 499px,#83ff73 502px,#7dff7a 507px,#66ff90 509px,#77ff80 512px,#66ff90 515px,#7dff7a 517px,#80ff77 519px,#70ff87"></i><i style="--g:#feed00,#f4f802 4px,#ffea00 6px,#f8f500 10px,#ffe600 13px,#fbf100 16px,#ffe600 20px,#fbf100 22px,#ffe200 25px,#feed00 28px,#ffde00 32px,#feed00 34px,#ffde00 36px,#ffea00 40px,#ffdb00 43px,#ffea00 46px,#ffdb00 48px,#ffe600 52px,#ffd700 56px,#ffe600 58px,#ffd700 61px,#ffe200 64px,#ffd300 68px,#ffe200 70px,#ffd300 73px,#ffde00 76px,#ffd000 80px,#ffde00 82px,#ffd000 86px,#ffdb00 88px,#ffd000 92px,#ffdb00 100px,#ffcc00 104px,#ffd700 106px,#ffcc00 109px,#ffd700 112px,#ffcc00 115px,#ffd700 118px,#ffcc00 129px,#ffd700 131px,#ffc800 134px,#ffd700 137px,#ffc800 140px,#ffd700 143px,#ffc800 146px,#ffd700 149px,#ffc800 152px,#ffd700 155px,#ffc800 158px,#ffd700 161px,#ffc800 164px,#ffd700 167px,#ffc800 170px,#ffd700 173px,#ffcc00 175px,#ffd700 185px,#ffcc00 195px,#ffdb00 197px,#ffcc00 200px,#ffdb00 203px,#ffcc00 206px,#ffdb00 209px,#ffcc00 213px,#ffdb00 215px,#ffd000 219px,#ffde00 221px,#ffd000 224px,#ffde00 227px,#ffd000 231px,#ffde00 233px,#ffd300 243px,#ffe200 245px,#ffd300 249px,#ffe200 251px,#ffd700 261px,#ffe600 263px,#ffdb00 273px,#ffea00 275px,#ffde00 279px,#ffea00 281px,#ffe200 286px,#feed00 287px,#ffe200 291px,#fbf100 294px,#ffe600 296px,#f8f500 306px,#ffea00 309px,#f4f802 312px,#feed00 316px,#f1fc06 318px,#fbf100 322px,#eeff09 330px,#f4f802 340px,#e7ff0f 342px,#f1fc06 346px,#e4ff13 348px,#eeff09 352px,#deff19 360px,#ebff0c 364px,#deff19 366px,#e7ff0f 370px,#dbff1c 372px,#e1ff16 382px,#d4ff23 384px,#deff19 388px,#d1ff26 390px,#dbff1c 394px,#ceff29 396px,#d7ff1f 400px,#c7ff30 408px,#d1ff26 412px,#c4ff33 414px,#caff2c 418px,#b7ff40 438px,#baff3c 448px,#adff49 451px,#b7ff40 454px,#aaff4d 457px,#a7ff50 478px,#9aff5d 481px,#9aff5d 497px,#8dff6a 499px,#8dff6a 515px,#80ff77 517px,#8aff6d"></i><i class=h2 style="--g:#ffab00,#ffa300 4px,#ffb600 7px,#ffa300 10px,#ffb600 14px,#ff9f00 17px,#ffab00 21px,#ff9800 24px,#ffae00 28px,#ff8d00 32px,#ff9f00 34px,#ff9100 38px,#ffae00 42px,#ff7700 44px,#ff9100 48px,#ff8d00 52px,#ffa700 54px,#ff9100 58px,#ffa300 62px,#ff8600 66px,#ff9800 68px,#ff8900 72px,#ff9c00 76px,#ff7a00 80px,#ff8d00 82px,#ff8200 86px,#ff9c00 90px,#ff6c00 92px,#ff6800 93px,#ff8200 96px,#ff7e00 100px,#ff9800 103px,#ff8200 106px,#ff9100 110px,#ff7a00 114px,#ff9100 117px,#ff8200 120px,#ff8d00 124px,#ff6f00 128px,#ff8200 131px,#ff7a00 135px,#ff9100 138px,#ff5900 141px,#ff7700 145px,#ff7700 149px,#ff9100 151px,#ff7a00 155px,#ff8900 158px,#ff7700 162px,#ff8d00 165px,#ff7700 169px,#ff8600 173px,#ff6800 177px,#ff7e00 179px,#ff6f00 183px,#ff8600 187px,#ff4e00 189px,#ff7300 193px,#ff6f00 197px,#ff8d00 199px,#ff7300 203px,#ff8600 207px,#ff6f00 211px,#ff8900 213px,#ff7700 217px,#ff8900 221px,#ff6800 225px,#ff7e00 227px,#ff6f00 231px,#ff8900 235px,#ff5500 237px,#ff5500 238px,#ff7300 241px,#ff7300 245px,#ffa300 249px,#ff7a00 251px,#ff8600 255px,#ff7300 259px,#ff8d00 262px,#ff7a00 265px,#ff9100 269px,#ff7300 273px,#ff8900 276px,#ff7a00 280px,#ff9100 283px,#ff6000 286px,#ff8600 289px,#ff7a00 293px,#ff9c00 297px,#ff6c00 300px,#ff8600 304px,#ff7a00 307px,#ff9400 310px,#ff8600 314px,#ff9800 317px,#ff8200 321px,#ff9400 324px,#ff8200 328px,#ff9800 332px,#ff7e00 334px,#ff7a00 336px,#ff9100 338px,#ff8200 342px,#ffa300 346px,#ff6800 348px,#ff8d00 352px,#ff8900 356px,#ffa700 358px,#ff9100 362px,#ffa700 366px,#ff8900 370px,#ffa300 372px,#ff9100 376px,#ffab00 380px,#ff8900 384px,#ff9f00 386px,#ff9400 390px,#ffb600 394px,#ff8200 396px,#ff7e00 397px,#ff9c00 400px,#ff9c00 404px,#ffb600 406px,#ff9f00 410px,#ffb600 414px,#ff9f00 418px,#ffb900 420px,#ffab00 424px,#ffb900 428px,#ff9c00 432px,#ffb200 435px,#ffae00 439px,#ffc800 442px,#ff9100 445px,#ffae00 448px,#ffae00 452px,#ffcc00 455px,#ffb900 458px,#ffcc00 462px,#ffb900 466px,#ffd300 469px,#ffc100 472px,#ffd300 476px,#ffb900 480px,#ffd000 483px,#ffc400 487px,#ffdb00 491px,#ffa700 493px,#ffd000 497px,#ffc800 500px,#ffea00 503px,#ffd000 507px,#ffea00 511px,#ffd300 514px,#fbf100 517px,#ffdb00"></i><i style="--g:#0090ff,#0078ff 4px,#009cff 6px,#0078ff 12px,#00a0ff 14px,#007cff 20px,#00a4ff 22px,#007cff 28px,#00a4ff 30px,#007cff 36px,#00a8ff 38px,#0080ff 44px,#00acff 46px,#0098ff 50px,#0080ff 52px,#00a8ff 54px,#0084ff 60px,#00a8ff 62px,#00a8ff 63px,#0084ff 68px,#00a8ff 70px,#009cff 74px,#0088ff 76px,#00acff 78px,#00a0ff 82px,#008cff 84px,#00acff 86px,#00acff 87px,#008cff 92px,#00b0ff 95px,#0090ff 100px,#00b4ff 103px,#0094ff 108px,#00b4ff 111px,#0094ff 116px,#00b8ff 119px,#0098ff 124px,#00b8ff 127px,#009cff 132px,#00c0ff 135px,#00a0ff 140px,#00c0ff 143px,#00a0ff 149px,#00c0ff 151px,#00a4ff 156px,#00a4ff 157px,#00c4ff 159px,#00a8ff 164px,#00a8ff 165px,#00c4ff 167px,#00a8ff 173px,#00c4ff 175px,#00c4ff 176px,#00a8ff 181px,#00c8ff 183px,#00acff 189px,#00ccff 191px,#00c0ff 195px,#00acff 197px,#00ccff 199px,#00c0ff 203px,#00acff 205px,#00d0ff 207px,#00c4ff 211px,#00b0ff 213px,#00d0ff 215px,#00b4ff 221px,#00d0ff 223px,#00ccff 227px,#00b8ff 229px,#00d4ff 231px,#00bcff 237px,#00d4ff 240px,#00b4ff 245px,#00ccff 247px,#00b4ff 253px,#00ccff 256px,#00acff 261px,#00c4ff 264px,#00b0ff 269px,#00d0ff 272px,#00b4ff 277px,#00d0ff 280px,#00ccff 283px,#00b4ff 285px,#00d0ff 288px,#00ccff 291px,#00b8ff 293px,#00b8ff 294px,#00d4ff 296px,#00c8ff 300px,#00b8ff 301px,#00b8ff 302px,#00d8ff 304px,#00d4ff 307px,#00c0ff 309px,#00c0ff 310px,#00dcfe 312px,#00dcfe 315px,#00c8ff 318px,#06ecf1 321px,#06ecf1 323px,#00d0ff 326px,#09f0ee 329px,#02e8f4 332px,#00d0ff 334px,#09f0ee 336px,#06ecf1 340px,#00d4ff 342px,#0cf4eb 345px,#06ecf1 348px,#00d4ff 350px,#0cf4eb 352px,#06ecf1 356px,#00d4ff 358px,#0cf4eb 360px,#0cf4eb 363px,#00d4ff 366px,#0cf4eb 368px,#0ff8e7 370px,#00d8ff 374px,#0ff8e7 377px,#0cf4eb 380px,#00dcfe 382px,#13fce4 385px,#0cf4eb 388px,#00dcfe 390px,#0ff8e7 392px,#0ff8e7 395px,#00e0fb 398px,#13fce4 401px,#0ff8e7 404px,#00e0fb 406px,#13fce4 409px,#00e4f8 414px,#16ffe1 417px,#02e8f4 422px,#16ffe1 426px,#00e4f8 430px,#13fce4 433px,#02e8f4 439px,#16ffe1 441px,#02e8f4 446px,#16ffe1 449px,#02e8f4 454px,#16ffe1 457px,#16ffe1 459px,#02e8f4 463px,#16ffe1 466px,#02e8f4 471px,#16ffe1 473px,#02e8f4 479px,#16ffe1 481px,#16ffe1 483px,#02e8f4 487px,#16ffe1 489px,#02e8f4 495px,#16ffe1 497px,#16ffe1 500px,#02e8f4 503px,#16ffe1 505px,#02e8f4 511px,#16ffe1 515px,#02e8f4 519px,#16ffe1"></i><i style="--g:#4dffaa,#53ffa4 4px,#3cffba 6px,#43ffb4 13px,#2cffca 16px,#66ff90 24px,#53ffa4 26px,#6aff8d 34px,#50ffa7 36px,#66ff90 44px,#49ffad 46px,#5dff9a 52px,#46ffb1 54px,#49ffad 62px,#33ffc4 64px,#6dff8a 72px,#5dff9a 75px,#70ff87 82px,#56ffa0 85px,#6dff8a 92px,#56ffa0 94px,#66ff90 100px,#50ffa7 102px,#53ffa4 110px,#40ffb7 113px,#70ff87 120px,#63ff94 123px,#77ff80 130px,#5dff9a 133px,#73ff83 140px,#5aff9d 143px,#6aff8d 148px,#50ffa7 151px,#56ffa0 158px,#40ffb7 161px,#73ff83 168px,#66ff90 171px,#7aff7d 179px,#60ff97 181px,#77ff80 187px,#77ff80 189px,#5dff9a 191px,#70ff87 197px,#53ffa4 199px,#5dff9a 207px,#46ffb1 209px,#7aff7d 217px,#6aff8d 221px,#80ff77 227px,#66ff90 229px,#7dff7a 237px,#60ff97 240px,#70ff87 245px,#53ffa4 249px,#5dff9a 255px,#49ffad 257px,#7aff7d 265px,#6dff8a 269px,#80ff77 275px,#66ff90 278px,#80ff77 285px,#66ff90 288px,#73ff83 293px,#5aff9d 296px,#6dff8a 303px,#56ffa0 306px,#56ffa0 313px,#43ffb4 316px,#7aff7d 323px,#63ff94 326px,#7dff7a 333px,#66ff90 336px,#73ff83 342px,#5aff9d 345px,#70ff87 352px,#56ffa0 354px,#5aff9d 362px,#43ffb4 364px,#7dff7a 372px,#63ff94 374px,#7dff7a 382px,#63ff94 384px,#73ff83 390px,#56ffa0 394px,#6dff8a 400px,#56ffa0 403px,#56ffa0 410px,#46ffb1 412px,#49ffad 414px,#77ff80 420px,#63ff94 423px,#7aff7d 430px,#60ff97 433px,#73ff83 440px,#5aff9d 443px,#6aff8d 448px,#50ffa7 451px,#56ffa0 458px,#43ffb4 461px,#70ff87 468px,#5dff9a 471px,#73ff83 478px,#5aff9d 481px,#70ff87 489px,#53ffa4 491px,#66ff90 497px,#50ffa7 499px,#53ffa4 507px,#3cffba 509px,#70ff87 517px,#56ffa0 519px,#60ff97"></i><i class=h2 style="--g:#008cff,#008cff 5px,#00acff 8px,#008cff 10px,#008cff 18px,#00acff 20px,#008cff 22px,#0088ff 27px,#0088ff 30px,#00a8ff 32px,#0088ff 34px,#0088ff 42px,#00a8ff 44px,#0088ff 46px,#0088ff 54px,#00a8ff 56px,#0088ff 58px,#0088ff 66px,#00a8ff 68px,#008cff 70px,#0088ff 78px,#00a8ff 80px,#0088ff 83px,#0088ff 90px,#00a8ff 92px,#008cff 95px,#0088ff 102px,#00a4ff 104px,#0088ff 107px,#0088ff 114px,#00a0ff 117px,#0088ff 119px,#0084ff 126px,#00a0ff 129px,#0084ff 131px,#0084ff 138px,#009cff 140px,#0084ff 143px,#0084ff 150px,#00a4ff 153px,#0084ff 155px,#0080ff 162px,#0080ff 163px,#00a0ff 165px,#0080ff 167px,#0080ff 175px,#00a0ff 177px,#007cff 179px,#007cff 187px,#00a0ff 189px,#007cff 191px,#0088ff 195px,#007cff 199px,#009cff 201px,#0078ff 203px,#0084ff 207px,#007cff 211px,#00a0ff 213px,#0078ff 215px,#007cff 223px,#009cff 225px,#0078ff 227px,#0078ff 235px,#0098ff 237px,#0078ff 239px,#0078ff 247px,#0098ff 249px,#0074ff 252px,#0078ff 259px,#009cff 261px,#0080ff 264px,#0084ff 268px,#0070ff 271px,#0080ff 273px,#0058ff 276px,#0064ff 283px,#0078ff 285px,#0054ff 288px,#005cff 295px,#0074ff 298px,#005cff 299px,#0054ff 301px,#0060ff 307px,#0078ff 310px,#0058ff 312px,#0058ff 313px,#0070ff 320px,#0084ff 322px,#0068ff 324px,#006cff 332px,#0084ff 334px,#0068ff 336px,#0068ff 343px,#0084ff 346px,#0064ff 348px,#0064ff 350px,#0068ff 356px,#0084ff 358px,#0064ff 360px,#0064ff 368px,#0080ff 370px,#0060ff 372px,#0064ff 380px,#007cff 382px,#0060ff 384px,#0060ff 392px,#0078ff 394px,#0060ff 396px,#005cff 399px,#0060ff 404px,#0078ff 406px,#0058ff 409px,#0058ff 411px,#0060ff 416px,#0078ff 418px,#005cff 421px,#005cff 428px,#0074ff 430px,#0054ff 433px,#0054ff 435px,#0058ff 439px,#0070ff 443px,#0050ff 445px,#0054ff 451px,#0070ff 455px,#004cff 458px,#0050ff 464px,#0070ff 467px,#004cff 470px,#004cff 475px,#006cff 479px,#004cff 481px,#0048ff 484px,#004cff 488px,#006cff 491px,#0048ff 493px,#0044ff 495px,#0050ff 501px,#006cff 503px,#0048ff 505px,#0044ff 511px,#004cff 513px,#006cff 515px,#0044ff 517px,#0044ff"></i><i style="--g:#ebff0c,#a7ff50 6px,#aaff4d 8px,#ceff29 10px,#ebff0c 16px,#a7ff50 22px,#adff49 24px,#d7ff1f 27px,#ebff0c 32px,#a7ff50 38px,#adff49 40px,#d7ff1f 42px,#dbff1c 46px,#eeff09 48px,#aaff4d 54px,#b1ff46 56px,#d7ff1f 58px,#eeff09 64px,#adff49 70px,#b4ff43 72px,#dbff1c 74px,#eeff09 80px,#b7ff40 85px,#adff49 87px,#b1ff46 88px,#e1ff16 91px,#f4f802 96px,#adff49 103px,#deff19 107px,#f4f802 112px,#adff49 119px,#baff3c 121px,#dbff1c 123px,#f1fc06 128px,#f1fc06 129px,#b1ff46 135px,#baff3c 137px,#dbff1c 139px,#f4f802 145px,#b1ff46 151px,#baff3c 153px,#dbff1c 155px,#f4f802 161px,#b7ff40 166px,#b1ff46 168px,#deff19 171px,#e4ff13 175px,#f8f500 177px,#b1ff46 183px,#b7ff40 185px,#dbff1c 187px,#e4ff13 191px,#f8f500 193px,#b1ff46 199px,#b4ff43 201px,#dbff1c 203px,#e1ff16 207px,#f8f500 209px,#c7ff30 213px,#b4ff43 216px,#d7ff1f 219px,#deff19 223px,#f8f500 225px,#baff3c 231px,#baff3c 233px,#d7ff1f 235px,#deff19 239px,#f4f802 241px,#adff49 249px,#caff2c 251px,#d4ff23 255px,#ebff0c 258px,#9dff5a 265px,#ceff29 271px,#fbf100 274px,#f8f500 276px,#beff39 281px,#beff39 282px,#d4ff23 287px,#feed00 290px,#f1fc06 293px,#beff39 298px,#caff2c 299px,#d1ff26 303px,#f1fc06 305px,#fbf100 307px,#f1fc06 309px,#baff3c 314px,#ceff29 316px,#ceff29 319px,#ebff0c 321px,#fbf100 322px,#fbf100 323px,#f1fc06 325px,#baff3c 330px,#ceff29 332px,#d4ff23 336px,#fbf100 338px,#fbf100 339px,#f1fc06 341px,#baff3c 346px,#ceff29 348px,#d1ff26 352px,#fbf100 354px,#fbf100 356px,#e7ff0f 358px,#b7ff40 362px,#ceff29 364px,#ceff29 368px,#f8f500 370px,#fbf100 371px,#e7ff0f 374px,#b7ff40 378px,#caff2c 380px,#ceff29 384px,#f1fc06 386px,#f4f802 387px,#e4ff13 390px,#b7ff40 394px,#caff2c 396px,#d1ff26 400px,#f4f802 403px,#b7ff40 410px,#caff2c 412px,#d4ff23 416px,#f1fc06 419px,#b4ff43 426px,#ceff29 429px,#d4ff23 432px,#f4f802 435px,#b1ff46 442px,#d4ff23 448px,#f8f500 451px,#b1ff46 458px,#d4ff23 464px,#f8f500 467px,#adff49 475px,#f8f500 483px,#aaff4d 491px,#c7ff30 493px,#d1ff26 496px,#f8f500 499px,#a7ff50 507px,#c4ff33 509px,#d7ff1f 513px,#f8f500 515px,#baff3c"></i><i class=h2 style="--g:#0060ff,#0088ff 4px,#0040ff 11px,#0044ff 14px,#002cff 18px,#006cff 26px,#0088ff 28px,#003cff 36px,#0048ff 38px,#0030ff 40px,#002cff 42px,#006cff 50px,#008cff 52px,#003cff 60px,#0048ff 62px,#002cff 66px,#0068ff 74px,#0088ff 76px,#0040ff 84px,#0048ff 86px,#0030ff 90px,#0080ff 101px,#0044ff 108px,#004cff 110px,#0034ff 115px,#0088ff 125px,#004cff 132px,#0048ff 135px,#002cff 139px,#0088ff 149px,#0054ff 156px,#0054ff 159px,#0030ff 163px,#0088ff 174px,#0050ff 181px,#0058ff 183px,#0030ff 187px,#0068ff 195px,#008cff 197px,#0088ff 199px,#0054ff 205px,#0058ff 207px,#002cff 211px,#008cff 222px,#0054ff 229px,#0058ff 231px,#0030ff 235px,#006cff 243px,#008cff 245px,#008cff 247px,#0030ff 259px,#0070ff 267px,#009cff 270px,#0088ff 273px,#0058ff 277px,#0064ff 280px,#0034ff 285px,#006cff 291px,#009cff 294px,#0088ff 297px,#0058ff 301px,#0064ff 304px,#0038ff 308px,#0038ff 310px,#0070ff 315px,#00a4ff 318px,#0094ff 321px,#0064ff 325px,#006cff 328px,#0040ff 332px,#0040ff 334px,#007cff 340px,#00a8ff 342px,#0098ff 345px,#0060ff 350px,#006cff 352px,#0040ff 357px,#0078ff 364px,#00a8ff 366px,#0090ff 370px,#0064ff 374px,#0070ff 376px,#0044ff 380px,#0040ff 382px,#0078ff 388px,#00a0ff 390px,#009cff 392px,#0064ff 398px,#0070ff 400px,#0044ff 406px,#0074ff 412px,#00a4ff 415px,#0068ff 422px,#0068ff 425px,#0040ff 430px,#0074ff 436px,#00a0ff 438px,#00a8ff 439px,#00a0ff 441px,#0068ff 446px,#0068ff 449px,#0044ff 454px,#0074ff 460px,#00a8ff 463px,#0090ff 467px,#006cff 470px,#006cff 473px,#0044ff 478px,#0074ff 484px,#00acff 487px,#0094ff 491px,#0068ff 495px,#0070ff 497px,#0048ff 501px,#0044ff 503px,#007cff 509px,#00acff 511px,#0094ff 515px,#0068ff 519px,#0070ff"></i></div>
<div class="sp" style="left:727px;top:2082px;width:511px;height:344px"><i class=h3 style="--g:#0000a8,#000080 30px,#000084"></i><i class=h3 style="--g:#0000a8,#000080 30px,#000084"></i><i style="--g:#0000a8,#000080 31px,#000084"></i><i class=h12 style="--g:#0000a8,#000080 32px,#000084"></i><i class=h12 style="--g:#0000a8,#000080 34px,#000084"></i><i style="--g:#0000a8,#000080 34px,#000084"></i><i class=h4 style="--g:#0000a8,#000080 35px,#000084"></i><i class=h12 style="--g:#0000a8,#000080 34px,#000084"></i><i class=h11 style="--g:#0000ad,#000080 40px,#000084"></i><i class=h6 style="--g:#0000ad,#000080 41px,#000084"></i><i class=h2 style="--g:#0000ad,#000080 40px,#000080 268px,#00008d 270px,#000080 278px,#000084"></i><i class=h2 style="--g:#0000ad,#000080 40px,#000080 243px,#00008b 268px,#000080 296px,#000084"></i><i class=h4 style="--g:#0000ad,#000080 40px,#000080 238px,#00008b 267px,#000080 293px,#000084"></i><i class=h2 style="--g:#0000ad,#000080 39px,#000080 243px,#00008d 266px,#000080 280px,#000084"></i><i style="--g:#0000ad,#000080 39px,#000080 260px,#00008d 264px,#000080 266px,#00008d 270px,#000080 272px,#000084"></i><i class=h11 style="--g:#0000ad,#000080 41px,#000084"></i><i style="--g:#0000ad,#000080 41px,#000080 248px,#00008d 280px,#000080 305px,#000084"></i><i class=h6 style="--g:#0000ad,#000080 44px,#000084"></i><i style="--g:#0000ad,#000080 47px,#000080 245px,#00008d 266px,#000080 298px,#000084"></i><i style="--g:#0000ad,#000080 47px,#000080 244px,#000092 272px,#000084 274px,#00008d 278px,#000080 294px,#000084"></i><i class=h2 style="--g:#0000ad,#000080 46px,#000080 249px,#00008d 252px,#000080 254px,#000092 264px,#000084 266px,#000092 270px,#000084 273px,#000092 276px,#000084 278px,#00008d 288px,#000080 290px,#000084"></i><i style="--g:#0000ad,#000080 47px,#000080 252px,#00008d 260px,#000084 263px,#000092 266px,#000084 268px,#00008d 276px,#000080 278px,#00008d 280px,#00008d 286px,#000080 288px,#000084"></i><i class=h2 style="--g:#0000ad,#000080 47px,#000080 243px,#00008d 260px,#000080 299px,#000084"></i><i class=h5 style="--g:#0000ad,#000080 46px,#000080 233px,#00008d 266px,#000080 303px,#000084"></i><i style="--g:#0000ad,#000080 43px,#000080 243px,#00008d 256px,#000084 259px,#000092 261px,#000084 264px,#000092 272px,#000080 296px,#000084"></i><i class=h2 style="--g:#0000ad,#000080 44px,#000080 239px,#00008d 254px,#00008d 280px,#000080 282px,#000084"></i><i style="--g:#0000ad,#000080 43px,#000080 239px,#00008d 249px,#000084 259px,#000092 263px,#000084 266px,#00008d 283px,#000080 294px,#000084"></i><i style="--g:#0000ad,#000080 43px,#000080 231px,#00008d 258px,#000080 290px,#000084"></i><i class=h2 style="--g:#0000ad,#000080 45px,#000080 235px,#00008d 252px,#00008d 282px,#000080 294px,#000084"></i><i style="--g:#0000ad,#000080 44px,#000080 233px,#00008d 254px,#000080 290px,#000084"></i><i style="--g:#0000ad,#000080 44px,#000080 235px,#00008d 258px,#000080 295px,#000084"></i><i class=h6 style="--g:#0000b0,#000080 48px,#000080 229px,#00008c 262px,#000080 298px,#000084"></i><i style="--g:#0000b2,#000080 51px,#000080 235px,#000092 266px,#000080 293px,#000084"></i><i class=h2 style="--g:#0000b2,#000080 51px,#000080 235px,#00008d 255px,#000080 296px,#000084"></i><i class=h2 style="--g:#0000b2,#000080 55px,#000080 233px,#000090 262px,#000086 280px,#000090 284px,#000082 288px,#000080 299px,#000084"></i><i class=h2 style="--g:#0000b2,#000080 56px,#000080 243px,#00008d 253px,#000084 258px,#000092 260px,#000084 264px,#000092 269px,#000084 272px,#00008d 284px,#000080 296px,#000084"></i><i style="--g:#0000b2,#000080 59px,#000080 241px,#000092 264px,#000080 296px,#000084"></i><i style="--g:#0000b2,#000080 55px,#000080 235px,#000092 260px,#000092 284px,#000084 286px,#00008d 296px,#000080 306px,#000084"></i><i class=h2 style="--g:#0000b2,#000080 55px,#000080 236px,#000089 271px,#000096 274px,#000089 276px,#000092 280px,#000080 319px,#000084"></i><i style="--g:#0000b2,#000080 51px,#000080 247px,#000092 266px,#000080 312px,#000089"></i><i class=h3 style="--g:#0000b2,#000080 51px,#000080 240px,#000090 272px,#000080 324px,#000084"></i><i style="--g:#0000b2,#000080 49px,#000080 240px,#000092 264px,#000080 321px,#000084"></i><i style="--g:#0000b2,#000080 48px,#000080 241px,#00008d 258px,#000084 260px,#000092 263px,#000084 270px,#000096 272px,#000089 276px,#000092 288px,#000080 325px,#000084"></i><i class=h2 style="--g:#0000b2,#000080 51px,#000080 241px,#00008d 250px,#000089 264px,#000096 266px,#000089 270px,#000096 272px,#000080 328px,#000084"></i><i style="--g:#0000b2,#000080 51px,#000080 231px,#00008d 246px,#000084 250px,#000092 253px,#000089 262px,#000096 264px,#000089 268px,#000096 270px,#000089 274px,#000096 276px,#000089 280px,#000096 283px,#000089 286px,#000092 294px,#000084 298px,#00008d 302px,#000080 322px,#000089"></i><i style="--g:#0000b2,#000080 51px,#000080 237px,#000092 262px,#000089 274px,#000096 278px,#000089 280px,#000092 292px,#000080 323px,#000084"></i><i class=h2 style="--g:#0000b2,#000080 60px,#000080 241px,#00008d 245px,#000084 257px,#000092 260px,#000089 266px,#000096 278px,#000089 282px,#000096 287px,#000089 290px,#000092 295px,#000080 326px,#000089"></i><i style="--g:#0000b2,#000080 58px,#000080 226px,#000092 256px,#000092 295px,#000080 325px,#000089"></i><i style="--g:#0000b2,#000080 62px,#000080 227px,#000084 252px,#000092 260px,#000084 264px,#000096 268px,#000089 278px,#000096 280px,#000096 286px,#000089 289px,#000092 298px,#000084 302px,#00008d 306px,#000080 324px,#000089"></i><i class=h2 style="--g:#0000b2,#000080 60px,#000080 230px,#000096 266px,#000080 324px,#000089"></i><i style="--g:#0000b6,#000080 59px,#000080 235px,#000096 282px,#000089 286px,#000092 291px,#000080 322px,#000089"></i><i class=h3 style="--g:#0000b6,#000080 58px,#000080 220px,#000095 270px,#000080 327px,#000089"></i><i class=h3 style="--g:#0000b6,#000080 57px,#000080 225px,#000093 275px,#000080 330px,#000089"></i><i style="--g:#0000b6,#000080 60px,#000080 229px,#000089 260px,#000096 264px,#000080 326px,#000089"></i><i style="--g:#0000b6,#000080 60px,#000080 234px,#000096 271px,#000080 322px,#000089"></i><i class=h2 style="--g:#0000b6,#000080 57px,#000080 241px,#00008d 245px,#000084 250px,#000092 262px,#000084 268px,#00009b 272px,#00008d 275px,#000092 291px,#000080 321px,#000089"></i><i style="--g:#0000b6,#000080 57px,#000080 243px,#000092 263px,#000089 274px,#000096 278px,#000089 282px,#000092 287px,#000080 314px,#000089"></i><i style="--g:#0000b6,#000080 60px,#000080 233px,#00008d 242px,#000084 253px,#000092 255px,#000084 258px,#000096 262px,#000089 265px,#000096 276px,#000084 278px,#000096 282px,#000089 285px,#000092 290px,#000080 317px,#000089"></i><i class=h2 style="--g:#0000b6,#000080 61px,#000080 236px,#000092 262px,#000092 292px,#000080 318px,#000089"></i><i style="--g:#0000b6,#000080 61px,#000080 237px,#00008d 250px,#000084 262px,#000096 266px,#000089 268px,#000092 292px,#000084 294px,#00008d 299px,#000080 319px,#000089"></i><i style="--g:#0000b6,#000080 60px,#000080 235px,#000092 265px,#000080 320px,#000089"></i><i class=h3 style="--g:#0000b6,#000080 62px,#000084 232px,#000090 267px,#000081 325px,#000089"></i><i style="--g:#0000b6,#000080 61px,#000084 221px,#000092 266px,#000080 385px,#000089"></i><i class=h2 style="--g:#0000bb,#000080 63px,#000084 221px,#000092 258px,#000084 297px,#000080 400px,#000089"></i><i style="--g:#0000bb,#000080 66px,#000080 163px,#000092 248px,#000080 396px,#000089"></i><i class=h2 style="--g:#0000bb,#000080 71px,#00008d 229px,#000080 402px,#000089"></i><i style="--g:#0000bb,#000080 72px,#000080 155px,#000092 231px,#000089 249px,#000096 251px,#000089 254px,#000089 263px,#000096 266px,#000089 268px,#000092 273px,#000084 276px,#000092 280px,#000084 282px,#00008d 293px,#000080 296px,#000089"></i><i style="--g:#0000bb,#000080 75px,#000092 256px,#00008d 278px,#000080 280px,#00008d 284px,#000080 288px,#000089"></i><i class=h2 style="--g:#0000bb,#00008d 48px,#000080 88px,#00008d 209px,#000084 225px,#000092 229px,#000084 233px,#000092 238px,#000084 243px,#000092 250px,#000084 254px,#000096 258px,#000084 262px,#000092 269px,#000080 272px,#000092 278px,#000080 282px,#00008d 286px,#000080 292px,#000089"></i><i style="--g:#0000bb,#000089 54px,#000080 91px,#00008d 235px,#00008d 283px,#000080 286px,#000089"></i><i style="--g:#0000bb,#0000b6 16px,#000084 61px,#000089"></i><i class=h2 style="--g:#0000bb,#0000b2 19px,#000084 57px,#000089"></i><i style="--g:#0000bb,#000080 70px,#000080 242px,#00008d 254px,#000080 258px,#000089"></i><i class=h3 style="--g:#0000be,#000080 62px,#000089"></i><i style="--g:#0000bf,#000080 64px,#000080 249px,#000092 254px,#000084 264px,#000096 276px,#000089 283px,#000092 302px,#000080 357px,#000089"></i><i style="--g:#0000bf,#0000bb 14px,#000084 63px,#000080 241px,#00008d 251px,#000084 263px,#000092 267px,#000089 278px,#000096 281px,#000089 294px,#000096 299px,#000089 309px,#000092 315px,#000080 357px,#000089"></i><i class=h2 style="--g:#0000bf,#000084 73px,#000080 236px,#00008d 241px,#000080 247px,#00008d 250px,#000084 260px,#000096 263px,#000089 268px,#000089 282px,#000096 286px,#000089 294px,#000096 298px,#000080 365px,#000084"></i><i style="--g:#0000bf,#000084 77px,#000080 225px,#00008d 237px,#000089 265px,#000096 270px,#000089 274px,#000096 277px,#000089 284px,#00009b 288px,#00008d 292px,#000092 327px,#000080 375px,#000084"></i><i style="--g:#0000bf,#00008d 59px,#000084 87px,#000080 231px,#00008d 235px,#000084 240px,#000092 243px,#000084 247px,#000096 250px,#000084 254px,#000096 258px,#000089 262px,#000096 267px,#000089 270px,#00009b 273px,#000089 278px,#00009b 281px,#00008d 285px,#00009b 290px,#00008d 294px,#000096 314px,#000084 349px,#000084"></i><i class=h2 style="--g:#0000bf,#000084 86px,#000080 214px,#000089 255px,#000096 264px,#00008d 275px,#00009b 284px,#00008d 288px,#000096 306px,#000084 356px,#000084"></i><i style="--g:#0000bf,#000084 85px,#000080 215px,#000096 265px,#00008d 274px,#00009b 284px,#000084 354px,#000084"></i><i class=h2 style="--g:#0000bf,#000080 96px,#000080 219px,#000092 247px,#00008d 260px,#00009b 264px,#00008d 268px,#00009b 280px,#000092 284px,#00009b 304px,#000084 353px,#000080"></i><i style="--g:#0000bf,#000080 92px,#000080 217px,#00009b 274px,#00008d 278px,#00009b 288px,#00008d 292px,#000096 302px,#000084 350px,#000080"></i><i style="--g:#0000bf,#0000bb 16px,#00008d 59px,#000080 92px,#000080 205px,#000096 261px,#000080 363px,#000080"></i><i class=h2 style="--g:#0000bf,#00008d 55px,#000080 98px,#000084 229px,#00009b 270px,#000080 359px,#000080"></i><i style="--g:#0000bf,#000089 59px,#000080 102px,#000080 213px,#000096 258px,#00008d 268px,#00009b 280px,#00008d 286px,#000096 303px,#000080 357px,#000080"></i><i style="--g:#0000bf,#0000bb 15px,#000084 65px,#000080 226px,#00008d 230px,#000084 237px,#000096 254px,#000089 259px,#00009b 264px,#000089 268px,#000096 272px,#00008d 284px,#00009b 288px,#00008d 291px,#000096 296px,#000089 302px,#000092 310px,#000080 359px,#000080"></i><i class=h2 style="--g:#0000bf,#0000b2 24px,#000080 67px,#000080 223px,#000096 264px,#000080 377px,#000084"></i><i style="--g:#0000bf,#0000bb 14px,#000080 64px,#000080 218px,#000096 262px,#000084 312px,#00008d 426px,#000080"></i><i style="--g:#0000bf,#000080 71px,#000080 216px,#000092 249px,#000089 272px,#000096 276px,#000080 325px,#00008d 397px,#000084"></i><i class=h2 style="--g:#0000bf,#0000bb 16px,#000084 69px,#000080 209px,#00008d 221px,#000084 234px,#000092 237px,#000084 242px,#000096 245px,#000089 250px,#000096 255px,#000089 259px,#00009b 262px,#000089 266px,#00009b 272px,#000084 276px,#000096 280px,#000084 284px,#000096 288px,#000084 292px,#000092 296px,#000084 299px,#000080 308px,#00008d 381px,#000084"></i><i style="--g:#0000bf,#000084 84px,#000080 213px,#000092 245px,#000080 308px,#000080 348px,#000092 384px,#000084"></i><i style="--g:#0000c4,#0000bb 21px,#000096 53px,#000084 98px,#000080 211px,#00008d 215px,#000084 224px,#000092 227px,#000084 235px,#000096 240px,#000089 246px,#000096 256px,#000089 260px,#00009b 263px,#000084 272px,#000096 275px,#000096 280px,#000084 284px,#000092 291px,#000084 295px,#00008d 303px,#000080 321px,#000092 390px,#000084"></i><i class=h2 style="--g:#0000c4,#0000bb 23px,#00008d 69px,#000080 123px,#00008d 218px,#000084 229px,#000092 233px,#000089 241px,#000096 250px,#000096 269px,#000089 273px,#000096 284px,#000084 290px,#00008d 301px,#000080 320px,#000092 382px,#000084"></i><i style="--g:#0000c4,#0000bf 19px,#00008d 73px,#000080 119px,#000080 198px,#000092 239px,#000084 245px,#000096 249px,#000096 264px,#000089 268px,#000096 278px,#000089 284px,#000080 319px,#000096 400px,#000080 460px,#000089"></i><i style="--g:#0000c4,#0000bf 20px,#00008d 73px,#000080 120px,#000080 208px,#000092 237px,#000089 260px,#000096 268px,#000080 335px,#000096 391px,#000080 458px,#000089"></i><i class=h2 style="--g:#0000c4,#0000c4 16px,#00008d 71px,#000084 99px,#000080 208px,#000092 274px,#000080 339px,#000096 383px,#000096 420px,#000084 453px,#000089"></i><i style="--g:#0000c4,#0000bf 23px,#000084 82px,#000080 203px,#00008d 221px,#000089 247px,#00009b 266px,#000089 278px,#00008d 312px,#000080 321px,#00009b 393px,#000084 465px,#000089"></i><i class=h2 style="--g:#0000c8,#0000bf 23px,#000080 82px,#000084 202px,#000096 256px,#000096 280px,#000089 288px,#000092 304px,#000080 321px,#00009f 397px,#000084 475px,#000089"></i><i style="--g:#0000c4,#0000bb 29px,#000080 83px,#00008d 122px,#000089 238px,#000096 241px,#000089 253px,#00009b 257px,#000089 266px,#000096 270px,#000092 278px,#000084 282px,#000096 286px,#000084 298px,#000084 333px,#00009f 387px,#000089"></i><i style="--g:#0000c4,#0000bf 24px,#000084 87px,#000096 144px,#000089 201px,#000096 221px,#000089 337px,#0000a4 386px,#000084 486px,#000089"></i><i class=h2 style="--g:#0000c4,#0000bb 31px,#00008d 87px,#000096 224px,#000089 228px,#00009b 233px,#000089 237px,#000096 241px,#000089 246px,#00009b 251px,#000084 255px,#00009b 260px,#000084 264px,#000096 268px,#000089 273px,#000096 279px,#000084 282px,#000096 288px,#000080 292px,#00009b 296px,#000089 301px,#000096 306px,#000089 320px,#000096 325px,#00008d 332px,#0000a4 380px,#0000a4 414px,#000089 465px,#000089"></i><i style="--g:#0000c4,#000096 81px,#00009f 162px,#000084 286px,#000092 290px,#000089 302px,#0000a8 405px,#000084 469px,#000089"></i><i style="--g:#0000bf,#00009b 78px,#0000a4 171px,#000092 233px,#000084 242px,#000084 261px,#000092 264px,#000084 268px,#000084 275px,#000092 278px,#000084 287px,#000092 296px,#000089 307px,#0000a8 376px,#0000a4 424px,#000080 476px,#000089"></i><i class=h2 style="--g:#0000bf,#00009f 59px,#0000a4 195px,#000084 239px,#000084 293px,#0000ad 382px,#0000a4 425px,#000080 474px,#000089"></i><i style="--g:#0000bb,#0000b2 28px,#00009b 49px,#0000ad 178px,#000096 224px,#000089 228px,#00008d 239px,#000080 244px,#000080 296px,#00008d 300px,#000084 307px,#0000ad 379px,#0000a4 427px,#000084 481px,#000089"></i><i style="--g:#0000bb,#000092 47px,#0000b2 168px,#000080 251px,#000080 305px,#0000ad 381px,#0000ad 408px,#000089 477px,#00008d"></i><i class=h2 style="--g:#0000b6,#0000b6 10px,#000084 55px,#0000b2 152px,#0000ad 192px,#000080 271px,#000084 308px,#0000a4 353px,#0000ad 396px,#00008d"></i><i style="--g:#0000b6,#0000ad 20px,#000084 55px,#0000b2 168px,#00008d 263px,#000096 273px,#000089 284px,#0000a8 388px,#000092"></i><i style="--g:#0000b6,#00008d 59px,#0000b2 179px,#00009f 228px,#0000a8 235px,#00009b 240px,#00009f 258px,#00008d 274px,#0000a4 370px,#000096"></i><i class=h2 style="--g:#0000bb,#000096 62px,#000096 121px,#0000b2 191px,#0000a8 209px,#0000b6 216px,#000096 288px,#00009f 417px,#000092"></i><i style="--g:#0000bb,#000092 92px,#000092 131px,#0000b6 217px,#0000b2 256px,#0000a4 268px,#0000ad 278px,#00009f 283px,#0000a8 294px,#00009b 300px,#0000a4 310px,#000096 315px,#000092 337px,#000096"></i><i style="--g:#0000bf,#000089 104px,#00008d 140px,#0000bb 231px,#0000ad 292px,#000089 347px,#000096 384px,#000089 439px,#000096"></i><i class=h2 style="--g:#0000c4,#0000b2 45px,#000080 109px,#00009f 189px,#0000bf 226px,#0000b6 231px,#0000c8 240px,#0000b6 250px,#0000c8 254px,#0000b6 264px,#0000c8 274px,#0000b2 278px,#0000bf 289px,#0000a8 292px,#0000b6 302px,#0000a4 306px,#0000a8 316px,#000092 326px,#000092 337px,#000084 340px,#000080 358px,#000096 394px,#000080 446px,#000096"></i><i style="--g:#0000c4,#0000bb 33px,#000084 105px,#000092 177px,#0000cd 256px,#0000c8 283px,#0000b2 296px,#0000bb 300px,#0000ad 303px,#0000b2 309px,#0000a4 312px,#000084 353px,#000096 400px,#000089 462px,#00009b"></i><i class=h2 style="--g:#0000c4,#0000bb 33px,#00008d 93px,#000084 130px,#000096 192px,#0000a4 209px,#0000b6 213px,#0000ad 219px,#0000c4 224px,#0000b6 229px,#0000cd 233px,#0000bf 240px,#0000d6 244px,#0000c4 249px,#0000da 254px,#0000cd 258px,#0000da 264px,#0000c8 268px,#0000d6 273px,#0000c8 278px,#0000d1 282px,#0000bb 288px,#0000cd 292px,#0000b6 297px,#0000c4 302px,#0000b2 306px,#0000bb 312px,#0000a4 318px,#0000ad 323px,#00009f 327px,#000092 347px,#00009b"></i><i style="--g:#0000c4,#0000bb 34px,#000096 75px,#000080 149px,#000089 183px,#0000a4 200px,#00009b 205px,#0000b2 211px,#0000a8 217px,#0000c4 223px,#0000b6 229px,#0000d1 235px,#0000c4 241px,#0000da 247px,#0000cd 252px,#0000df 260px,#0000d1 266px,#0000e3 271px,#0000cd 278px,#0000df 284px,#0000c8 290px,#0000d1 297px,#0000bb 302px,#0000c8 308px,#0000b2 313px,#0000bb 321px,#0000a4 326px,#0000ad 333px,#000096 350px,#00009f"></i><i style="--g:#0000c4,#0000bb 33px,#000096 74px,#000080 175px,#000092 183px,#00008d 192px,#0000a4 201px,#00009f 209px,#0000b6 214px,#0000b2 225px,#0000d1 233px,#0000c4 241px,#0000e3 249px,#0000cd 257px,#0000f1 264px,#0000f1 267px,#0000d1 273px,#0000f1 282px,#0000cd 290px,#0000df 300px,#0000bf 306px,#0000cd 316px,#0000b2 322px,#0000bb 332px,#0000a4 338px,#0000a8 350px,#000096 355px,#0000a8 468px,#00009f"></i><i class=h2 style="--g:#0000c4,#00008d 91px,#000084 170px,#0000a8 211px,#0000b6 220px,#0000d1 227px,#0000c4 234px,#0000ed 250px,#0000df 258px,#0000fa 278px,#0000df 283px,#0000e8 301px,#0000d1 306px,#0000c8 327px,#0000b2 332px,#0000a4 341px,#0000a8 349px,#000092 363px,#00008d 379px,#0000ad 454px,#0000a4"></i><i style="--g:#0000bf,#0000b6 30px,#00008d 74px,#000080 146px,#00009b 197px,#0000cd 221px,#0000d1 234px,#0000e8 240px,#0000da 249px,#0000ed 254px,#0000ff 274px,#0000ed 284px,#0000fa 292px,#0000da 298px,#0000d1 322px,#0000b2 335px,#0000ad 345px,#00009b 349px,#000084 376px,#0000ad 443px,#0000a8"></i><i style="--g:#0000bf,#000084 87px,#000080 146px,#00009f 190px,#0000fa 253px,#0000ff 288px,#000089 371px,#0000b2 456px,#0000a8"></i><i class=h2 style="--g:#0000bf,#0000bb 20px,#000080 86px,#000080 138px,#00009f 187px,#0000ff 246px,#0000ff 307px,#0000b6 347px,#00009f 375px,#0000b2 458px,#0000a4"></i><i style="--g:#0000c4,#0000b2 35px,#000080 88px,#000084 129px,#00009b 175px,#0000bb 192px,#0000b6 199px,#0000d6 207px,#0000da 223px,#0000fa 229px,#0000ff 236px,#0000ff 250px,#000cff 253px,#0000ff 270px,#0014ff 274px,#0000ff 288px,#0000ff 311px,#0000ed 316px,#0000f6 323px,#0000d1 338px,#0000d1 347px,#0000b6 363px,#0000a4"></i><i style="--g:#0000c8,#0000bb 33px,#000092 71px,#000089 110px,#0000a8 175px,#0000ff 232px,#0008ff 266px,#0018ff 270px,#0000ff 323px,#0000ed 328px,#0000f6 333px,#0000da 342px,#0000df 349px,#0000c8 359px,#0000bf 382px,#0000b2 387px,#0000b6 398px,#0000a8 403px,#0000b2 412px,#0000a4 418px,#0000ad 428px,#00009f"></i><i class=h2 style="--g:#0000c8,#0000bb 41px,#00009f 71px,#000096 120px,#0000b6 179px,#0000c8 185px,#0000c4 191px,#0000da 197px,#0000d1 203px,#0000ed 209px,#0000e3 215px,#0000ff 220px,#0000f6 227px,#0000ff 241px,#0010ff 245px,#0000ff 250px,#001cff 255px,#0008ff 262px,#001cff 266px,#0010ff 273px,#0024ff 278px,#000cff 284px,#001cff 290px,#0008ff 295px,#0010ff 302px,#0000ff 307px,#0000ff 328px,#0000ed 333px,#0000f1 339px,#0000df 343px,#0000df 351px,#0000d1 355px,#0000a4 408px,#000096 447px,#00009b"></i><i style="--g:#0000cd,#0000bb 53px,#0000a8 71px,#00009f 126px,#0000bb 179px,#0000da 204px,#0000ed 210px,#0000e8 215px,#0000ff 222px,#0000ff 242px,#0010ff 248px,#001cff 274px,#0000ff 326px,#0000cd 356px,#00009b 408px,#000089 458px,#000096"></i><i style="--g:#0000cd,#00009f 126px,#0000b6 178px,#0000e8 217px,#0000f6 219px,#0000f1 224px,#0000ff 227px,#0008ff 254px,#0014ff 258px,#0008ff 262px,#001cff 266px,#0000ff 322px,#0000c8 353px,#000096 402px,#000080 446px,#000092"></i><i class=h2 style="--g:#0000d1,#0000c8 35px,#00009f 91px,#000096 138px,#0000b6 191px,#0000ff 231px,#0000ff 250px,#0014ff 265px,#0000ff 321px,#0000cd 343px,#000092 390px,#000080 457px,#000092"></i><i style="--g:#0000cd,#0000c8 31px,#000096 92px,#00008d 162px,#0000a8 190px,#0000ff 239px,#000cff 269px,#0000ff 313px,#00009f 368px,#000084 398px,#000092"></i><i style="--g:#0000cd,#0000bf 39px,#000084 102px,#000080 164px,#0000bb 206px,#0000ff 241px,#0000ff 308px,#00009f 366px,#000080 400px,#000092"></i><i class=h2 style="--g:#0000cd,#0000c4 30px,#000084 98px,#000080 122px,#000089 161px,#00009f 186px,#0000da 218px,#0000d6 224px,#0000ed 227px,#0000f1 238px,#0000ff 241px,#0000ff 305px,#0000a8 361px,#00008d 393px,#000092"></i><i style="--g:#0000cd,#000089 122px,#000096 164px,#0000b2 182px,#0000b2 193px,#0000d6 208px,#0000d6 219px,#0000ff 235px,#0000ff 310px,#0000e8 316px,#0000e8 324px,#0000c4 342px,#000096 390px,#000092"></i><i class=h2 style="--g:#0000d1,#00009b 96px,#000096 137px,#0000ad 175px,#0000ff 234px,#0000ff 307px,#0000a4 373px,#00008d 405px,#000092"></i><i style="--g:#0000d1,#000096 116px,#0000b6 180px,#0000d1 191px,#0000d1 203px,#0000ed 212px,#0000ed 225px,#0000ff 231px,#0000ff 273px,#0010ff 279px,#0000ff 286px,#0000ff 309px,#0000ad 362px,#000084 410px,#000092"></i><i style="--g:#0000d1,#0000cd 29px,#000096 95px,#00008d 133px,#0000a4 164px,#0000e3 212px,#0000f6 216px,#0000ed 222px,#0000ff 228px,#0000ff 268px,#0010ff 273px,#0000ff 278px,#0000ff 310px,#0000f6 322px,#0000e3 325px,#0000cd 346px,#0000bf 349px,#00008d 396px,#000080 435px,#000092"></i><i class=h2 style="--g:#0000d1,#0000c4 43px,#000080 120px,#0000a8 167px,#0000e8 208px,#0000e8 215px,#0000ff 224px,#0000ff 260px,#000cff 264px,#0000ff 311px,#0000c4 346px,#0000c8 351px,#0000b2 359px,#000092 392px,#000084 428px,#00008d"></i><i style="--g:#0000d6,#000092 123px,#0000a4 158px,#0000ff 226px,#000cff 268px,#0000ff 314px,#0000b2 365px,#00008d 404px,#00008d"></i><i style="--g:#0000d6,#0000c8 42px,#000096 110px,#000096 138px,#0000bf 184px,#0000e3 203px,#0000e3 212px,#0000fa 218px,#0000ff 258px,#0010ff 265px,#0004ff 270px,#0000ff 316px,#0000a8 376px,#000089 414px,#000080 446px,#00008d 456px,#000092"></i><i class=h2 style="--g:#0000d6,#0000cd 36px,#000084 128px,#0000cd 195px,#0000e8 207px,#0000ed 219px,#0000ff 223px,#0000ff 268px,#0010ff 271px,#0000ff 276px,#0010ff 280px,#0000ff 284px,#000cff 288px,#0000ff 291px,#0000ff 321px,#0000f1 324px,#0000ed 337px,#0000df 340px,#0000b2 379px,#000096 416px,#000096"></i><i style="--g:#0000da,#0000cd 44px,#000096 106px,#000092 128px,#0000ad 167px,#0000ff 228px,#0000ff 263px,#000cff 266px,#0000ff 272px,#0010ff 276px,#0000ff 282px,#0000ff 326px,#0000f1 329px,#0000f6 335px,#0000e3 339px,#0000a4 407px,#000096"></i><i style="--g:#0000da,#0000d6 34px,#0000a8 108px,#0000a8 139px,#0000bb 173px,#0000cd 179px,#0000c8 186px,#0000da 191px,#0000d1 197px,#0000e8 203px,#0000df 210px,#0000f6 215px,#0000e8 221px,#0000ff 225px,#0000ff 272px,#000cff 274px,#0000ff 279px,#0000ff 324px,#0000ed 328px,#0000f1 336px,#0000df 340px,#0000e3 347px,#0000d1 352px,#0000d6 359px,#0000c4 365px,#00009f 411px,#000096"></i><i class=h2 style="--g:#0000da,#0000cd 54px,#0000a4 112px,#0000a4 142px,#0000b2 148px,#0000ad 159px,#0000bf 166px,#0000b2 172px,#0000cd 180px,#0000bf 189px,#0000df 197px,#0000c8 203px,#0000ed 211px,#0000d6 219px,#0000ff 227px,#0000e3 235px,#0000ff 240px,#0000ff 248px,#0000f1 250px,#0000ff 254px,#0000ff 282px,#0000f1 284px,#0000ff 286px,#0000ff 297px,#0000f1 300px,#0000ff 302px,#0000ff 311px,#0000e8 315px,#0000ff 324px,#0000da 332px,#0000ed 336px,#0000ed 340px,#0000cd 347px,#0000da 353px,#0000bb 363px,#0000c4 369px,#0000a8 379px,#0000ad 390px,#00009b 395px,#00009f 403px,#00008d 412px,#000096"></i><i style="--g:#0000da,#0000d6 36px,#0000b2 71px,#0000b2 83px,#00009b 95px,#00008d 138px,#00009b 143px,#00009b 159px,#0000b2 166px,#0000a4 177px,#0000cd 193px,#0000bb 201px,#0000e3 214px,#0000d1 225px,#0000fa 238px,#0000e3 248px,#0000ff 258px,#0000ff 267px,#0000e8 272px,#0000ff 276px,#0000ff 293px,#0000ed 297px,#0000ff 314px,#0000e3 321px,#0000ed 337px,#0000cd 345px,#0000cd 362px,#0000b2 371px,#0000ad 388px,#000092 401px,#000092 418px,#000080 426px,#000092 451px,#000089 462px,#000096 467px,#000092"></i><i style="--g:#0000da,#0000df 12px,#0000c4 59px,#000089 122px,#000096 155px,#0000ad 164px,#00009f 172px,#0000a8 192px,#0000da 211px,#0000da 216px,#0000c4 221px,#0000d6 233px,#0000d1 241px,#0000e8 248px,#0000e8 253px,#0000ff 258px,#0000ff 265px,#0000e3 270px,#0000f6 277px,#0000ed 294px,#0000ff 315px,#0000e3 321px,#0000e8 330px,#0000cd 352px,#0000d6 365px,#0000bb 373px,#00009f 401px,#0000ad 415px,#000096 426px,#000092 454px,#00009f 469px,#000092 477px,#000092"></i><i class=h2 style="--g:#0000df,#0000d6 34px,#00009f 120px,#00009f 167px,#0000e8 269px,#0000f1 306px,#0000a8 419px,#000096"></i><i style="--g:#0000df,#0000d1 51px,#0000a8 103px,#0000a4 128px,#00008d 146px,#00009b 165px,#00008d 190px,#0000b2 209px,#0000ad 223px,#0000d1 242px,#0000d1 267px,#0000e3 272px,#0000df 280px,#0000f1 286px,#0000e3 294px,#0000ed 334px,#0000da 342px,#0000da 363px,#0000b6 393px,#0000bb 408px,#00009b 437px,#000092"></i><i style="--g:#0000df,#0000df 29px,#0000cd 41px,#0000c4 77px,#0000b2 87px,#000084 164px,#000092 169px,#000092 199px,#0000b2 217px,#0000a8 223px,#0000c4 239px,#0000c8 259px,#0000da 266px,#0000e8 322px,#0000da 327px,#0000e3 338px,#0000d1 350px,#0000d6 364px,#0000c4 373px,#0000b2 412px,#00009f 420px,#000084"></i><i class=h2 style="--g:#0000df,#0000d6 38px,#0000a8 101px,#0000a4 139px,#000096 142px,#0000a4 152px,#000096 163px,#0000a8 170px,#000096 177px,#0000ad 183px,#00009b 193px,#0000bb 201px,#0000a4 210px,#0000c4 215px,#0000c4 219px,#0000ad 225px,#0000d1 232px,#0000bb 242px,#0000da 250px,#0000c4 257px,#0000e8 263px,#0000d1 272px,#0000f1 278px,#0000d6 284px,#0000d6 288px,#0000f1 295px,#0000da 300px,#0000da 304px,#0000ed 308px,#0000ed 312px,#0000d6 317px,#0000e8 328px,#0000d1 335px,#0000df 344px,#0000cd 349px,#0000d6 359px,#0000c4 365px,#0000c8 375px,#00009b 427px,#000084 478px,#000084"></i><i style="--g:#0000df,#0000cd 50px,#00009f 100px,#000089 143px,#000096 150px,#000096 169px,#0000a4 173px,#00009f 181px,#0000ad 185px,#0000a8 193px,#0000bf 208px,#0000b6 215px,#0000c8 220px,#0000c4 228px,#0000d1 232px,#0000c8 239px,#0000e8 259px,#0000da 273px,#0000e8 278px,#0000e8 282px,#0000da 284px,#0000e8 289px,#0000e8 305px,#0000da 308px,#0000da 340px,#0000cd 344px,#0000bb 387px,#0000a8 402px,#00008d"></i><i class=h2 style="--g:#0000df,#0000cd 58px,#00009f 111px,#000092 144px,#00009f 164px,#0000ad 168px,#0000a8 183px,#0000c4 197px,#0000bb 201px,#0000d6 207px,#0000c4 211px,#0000c4 221px,#0000d6 225px,#0000cd 229px,#0000e3 235px,#0000d6 239px,#0000f1 244px,#0000df 248px,#0000e8 253px,#0000d6 258px,#0000e8 262px,#0000df 268px,#0000f1 271px,#0000df 276px,#0000ff 282px,#0000e8 286px,#0000ed 291px,#0000da 294px,#0000ed 300px,#0000da 304px,#0000ed 309px,#0000da 313px,#0000ed 320px,#0000da 323px,#0000df 327px,#0000cd 331px,#0000d6 338px,#0000c8 341px,#0000d1 347px,#0000c4 352px,#0000d1 357px,#0000b2 369px,#0000bb 375px,#0000ad 378px,#000096 424px,#000092"></i><i style="--g:#0000e3,#0000bb 132px,#0000c4 171px,#0000ff 272px,#0000ed 276px,#0000f6 282px,#0000e8 284px,#0000ed 305px,#0000da 316px,#0000d6 336px,#0000c8 340px,#0000c8 351px,#0000b2 363px,#0000b2 375px,#0000a4 379px,#000089 410px,#000080 438px,#000092 472px,#000092"></i><i style="--g:#0000e3,#0000bf 140px,#0000d1 158px,#0000d6 187px,#0000e8 192px,#0000df 207px,#0000ed 210px,#0000e8 219px,#0000fa 224px,#0000f1 240px,#0000ff 245px,#0000f1 252px,#0000ff 256px,#0000ff 279px,#0000f1 287px,#0000ff 293px,#0000f1 301px,#0000ff 306px,#0000df 321px,#0000df 345px,#0000c4 355px,#0000cd 359px,#00009f 402px,#000092 436px,#000096"></i><i class=h2 style="--g:#0000df,#0000d6 39px,#000096 113px,#000096 131px,#0000ff 232px,#0000ff 323px,#0000b6 415px,#00009f"></i><i style="--g:#0000e3,#0000d6 47px,#0000a4 117px,#0000b2 124px,#0000a4 134px,#0000b6 139px,#0000ad 150px,#0000c4 156px,#0000c4 167px,#0000ff 218px,#0000ff 248px,#0014ff 280px,#0000ff 286px,#0010ff 292px,#0000ff 302px,#000cff 309px,#0000ff 315px,#0000ff 345px,#0000b2 436px,#00009f"></i><i style="--g:#0000e3,#0000d1 112px,#0000ed 174px,#0000ff 186px,#0000ff 210px,#0014ff 234px,#0010ff 246px,#0024ff 258px,#0018ff 265px,#001cff 300px,#0000ff 329px,#0000ff 350px,#0000f6 368px,#0000cd 391px,#0000c8 407px,#0000a4 435px,#000096 456px,#000092"></i><i class=h2 style="--g:#0000e3,#0000bf 120px,#0000df 161px,#0000ff 179px,#0000ff 203px,#0018ff 217px,#0018ff 235px,#002cff 252px,#0024ff 260px,#0030ff 266px,#0030ff 279px,#0020ff 287px,#0030ff 296px,#001cff 307px,#0020ff 321px,#0008ff 332px,#0000ff 369px,#0000da 384px,#0000da 396px,#0000bf 406px,#0000bf 416px,#00008d 457px,#00008d"></i><i style="--g:#0000e3,#0000d6 40px,#000096 97px,#000092 112px,#0000ad 136px,#0000ff 181px,#0000ff 192px,#0034ff 243px,#0058ff 265px,#003cff 276px,#0040ff 309px,#0000ff 370px,#0000ff 389px,#0000bb 452px,#0000a4"></i><i style="--g:#0000f1,#0000f6 87px,#0000e8 97px,#0000fa 104px,#0000f1 118px,#0000ff 122px,#0000ff 150px,#0010ff 159px,#0008ff 167px,#0028ff 181px,#0024ff 193px,#0044ff 206px,#0038ff 215px,#0058ff 229px,#0048ff 239px,#0068ff 251px,#0050ff 260px,#0068ff 271px,#0054ff 280px,#0064ff 300px,#004cff 306px,#0054ff 322px,#0038ff 329px,#0044ff 341px,#0024ff 351px,#0028ff 367px,#000cff 376px,#0000ff 414px,#0000ed 418px,#0000ed 433px,#0000d1 445px,#0000d6 457px,#0000c4 465px,#0000c8 476px,#0000b6 486px,#0000bb 501px,#0000a8"></i><i class=h2 style="--g:#0000ff,#000cff 106px,#0034ff 162px,#0044ff 167px,#004cff 186px,#005cff 191px,#005cff 209px,#0070ff 215px,#006cff 233px,#007cff 238px,#0074ff 256px,#0088ff 262px,#0078ff 266px,#0084ff 274px,#006cff 289px,#0078ff 297px,#005cff 314px,#0064ff 321px,#0044ff 336px,#004cff 344px,#0028ff 360px,#0030ff 367px,#0000ff 392px,#0000ff 411px,#0000da 432px,#0000d6 446px,#0000bb 464px,#0000a4"></i><i style="--g:#0000e3,#0000e3 38px,#0000d6 47px,#0000df 54px,#0000d1 57px,#0000df 59px,#0000d1 63px,#0000e3 69px,#0000d1 73px,#0000df 75px,#0000d6 79px,#0000e8 85px,#0000da 88px,#0000da 94px,#0000f1 100px,#0000e8 110px,#0000fa 112px,#0000ff 116px,#0000ff 136px,#0004ff 142px,#001cff 148px,#0014ff 152px,#0030ff 163px,#0030ff 172px,#0048ff 179px,#0040ff 183px,#0058ff 192px,#0054ff 199px,#006cff 209px,#0068ff 216px,#007cff 225px,#0074ff 231px,#0088ff 240px,#0080ff 251px,#0090ff 256px,#0080ff 271px,#008cff 278px,#007cff 287px,#0084ff 294px,#0074ff 303px,#0078ff 311px,#0050ff 335px,#0054ff 342px,#003cff 351px,#0040ff 357px,#002cff 363px,#0000ff 392px,#0000ff 406px,#0000e8 413px,#0000e8 420px,#0000a8 461px,#000084"></i><i style="--g:#0000da,#0000bf 43px,#0000ad 51px,#0000b2 55px,#0000a4 57px,#0000ad 61px,#00009f 63px,#0000a4 73px,#000096 75px,#0000a4 79px,#000096 81px,#0000a4 84px,#00009b 87px,#0000b6 104px,#0000ff 138px,#0000ff 147px,#0070ff 212px,#0098ff 266px,#0094ff 290px,#0074ff 330px,#0000ff 409px,#0000ff 423px,#0000bb 473px,#0000a8"></i><i class=h2 style="--g:#0000ff,#0000ff 61px,#0010ff 67px,#0008ff 76px,#0018ff 80px,#000cff 89px,#0020ff 94px,#0034ff 114px,#0030ff 122px,#0040ff 127px,#0038ff 136px,#0050ff 142px,#0048ff 150px,#0060ff 156px,#0078ff 184px,#0088ff 189px,#0080ff 197px,#0098ff 205px,#0088ff 211px,#00a4ff 219px,#00b4ff 247px,#00a8ff 259px,#00b8ff 266px,#00a4ff 272px,#00b4ff 279px,#00b4ff 289px,#00a0ff 305px,#00a4ff 314px,#008cff 320px,#0090ff 334px,#0070ff 360px,#005cff 366px,#005cff 375px,#0044ff 381px,#0044ff 390px,#0000ff 439px,#0000ff 456px,#0000e3 473px,#0000c8"></i><i style="--g:#0004ff,#0020ff 63px,#004cff 119px,#00a8ff 202px,#00ccff 275px,#00b8ff 280px,#00bcff 298px,#00acff 304px,#00acff 322px,#0000ff 445px,#0000ff 460px,#0000c8"></i><i style="--g:#0000ed,#0000df 7px,#0000df 15px,#0000ed 19px,#0000da 25px,#0000e8 29px,#0000d6 35px,#0000e3 39px,#0000d1 45px,#0000e3 48px,#0000cd 55px,#0000e3 57px,#0000d1 63px,#0000e8 65px,#0000d6 72px,#0000f1 75px,#0000da 82px,#0000f6 85px,#0000e3 92px,#0000fa 95px,#0000ed 102px,#0000ff 104px,#0000ff 120px,#0010ff 122px,#000cff 129px,#0020ff 132px,#001cff 140px,#0030ff 142px,#0024ff 146px,#003cff 152px,#0034ff 157px,#0048ff 162px,#0040ff 166px,#006cff 180px,#0074ff 195px,#0088ff 199px,#007cff 203px,#0094ff 209px,#0088ff 213px,#0098ff 219px,#008cff 223px,#00b0ff 236px,#00acff 252px,#00bcff 256px,#00acff 260px,#00b8ff 267px,#00acff 270px,#00b4ff 276px,#00a4ff 280px,#00b4ff 285px,#00b8ff 295px,#00a4ff 307px,#00a8ff 315px,#008cff 327px,#0088ff 349px,#0044ff 384px,#0044ff 395px,#0000ff 432px,#0000ff 452px,#0000c8 483px,#0000b6"></i><i class=h2 style="--g:#0000da,#0000e3 8px,#0000d6 14px,#0000e3 19px,#0000d1 22px,#0000d1 26px,#0000df 31px,#0000cd 33px,#0000da 43px,#0000c4 46px,#0000df 55px,#0000c4 58px,#0000df 67px,#0000c8 70px,#0000e3 79px,#0000d1 82px,#0000ed 90px,#0000df 93px,#0000fa 102px,#0000f1 105px,#0000ff 111px,#0000ff 123px,#0010ff 126px,#0010ff 134px,#0024ff 138px,#0024ff 146px,#0050ff 166px,#0060ff 183px,#0070ff 186px,#0070ff 195px,#0084ff 200px,#0080ff 207px,#0094ff 211px,#008cff 219px,#00a4ff 225px,#0098ff 231px,#00acff 236px,#00a0ff 243px,#00b8ff 248px,#00a8ff 255px,#00b8ff 259px,#00b0ff 266px,#00c0ff 271px,#00a8ff 278px,#00b8ff 286px,#00a4ff 292px,#00b4ff 298px,#009cff 304px,#00acff 308px,#0098ff 315px,#00a8ff 321px,#008cff 328px,#0098ff 331px,#0080ff 339px,#008cff 345px,#0074ff 351px,#007cff 357px,#0064ff 363px,#006cff 369px,#0054ff 375px,#005cff 380px,#0044ff 386px,#004cff 391px,#0034ff 398px,#0038ff 404px,#0020ff 410px,#0028ff 415px,#0010ff 422px,#0018ff 426px,#0000ff 434px,#0000ff 453px,#0000da 470px,#0000e3 474px,#0000d1 480px,#0000d6 486px,#0000c4 492px,#0000b6"></i><i style="--g:#001cff,#0044ff 52px,#003cff 55px,#0050ff 68px,#0048ff 71px,#0080ff 121px,#007cff 128px,#0094ff 138px,#008cff 144px,#00a4ff 153px,#009cff 161px,#00b4ff 169px,#00a8ff 177px,#00c4ff 186px,#00b4ff 193px,#00d0ff 201px,#00c0ff 210px,#00d8ff 218px,#00c4ff 225px,#00e0fb 233px,#00ccff 242px,#00e4f8 249px,#00c8ff 258px,#02e8f4 266px,#00c4ff 272px,#00d8ff 283px,#00bcff 291px,#00d0ff 298px,#00b0ff 305px,#00c4ff 314px,#00a4ff 321px,#00b4ff 328px,#0094ff 337px,#00a4ff 345px,#0080ff 353px,#0090ff 361px,#006cff 368px,#0078ff 377px,#0054ff 385px,#0060ff 394px,#0040ff 400px,#0048ff 409px,#0028ff 417px,#0030ff 426px,#0014ff 433px,#001cff 441px,#0000ff 449px,#0000ff 474px,#0000ed 479px,#0000f1 489px,#0000da 496px,#0000df 505px,#0000cd"></i><i class=h2 style="--g:#0024ff,#002cff 21px,#0044ff 35px,#003cff 45px,#005cff 60px,#005cff 77px,#0074ff 84px,#0068ff 92px,#0070ff 100px,#0090ff 109px,#0084ff 124px,#00acff 133px,#0098ff 149px,#00c8ff 158px,#00acff 165px,#00a8ff 171px,#00b0ff 174px,#00dcfe 180px,#00dcfe 183px,#00bcff 190px,#00b8ff 196px,#09f0ee 204px,#00c8ff 214px,#00c0ff 220px,#00d8ff 223px,#0cf4eb 226px,#13fce4 229px,#00dcfe 235px,#00c4ff 244px,#0cf4eb 249px,#16ffe1 253px,#00dcfe 259px,#00c0ff 265px,#00c0ff 268px,#06ecf1 273px,#0ff8e7 278px,#00d8ff 283px,#00b0ff 291px,#00b8ff 294px,#02e8f4 300px,#00e0fb 304px,#00acff 311px,#009cff 316px,#00d0ff 324px,#00ccff 327px,#00a0ff 333px,#0088ff 339px,#00b4ff 349px,#0068ff 363px,#0090ff 373px,#004cff 386px,#006cff 396px,#0030ff 409px,#0044ff 421px,#000cff 434px,#0020ff 446px,#0000ff 454px,#0000ff 475px,#0000e3 483px,#0000f1 493px,#0000cd 506px,#0000d1"></i><i style="--g:#0000e8,#0000d6 7px,#0000cd 47px,#0000ed 49px,#0000ff 97px,#0010ff 99px,#0010ff 104px,#0028ff 112px,#0024ff 124px,#0048ff 134px,#003cff 143px,#0050ff 146px,#0070ff 158px,#0068ff 171px,#0094ff 180px,#0088ff 193px,#00b4ff 209px,#009cff 221px,#00c8ff 229px,#00b4ff 241px,#00d0ff 254px,#00b0ff 270px,#00d4ff 276px,#00b8ff 294px,#00c8ff 304px,#0098ff 317px,#00b8ff 327px,#0094ff 342px,#0098ff 353px,#0064ff 366px,#0078ff 377px,#0054ff 392px,#0054ff 400px,#0024ff 414px,#0030ff 422px,#0000ff 458px,#0000ed 464px,#0000f6 475px,#0000da 498px,#0000b6"></i><i style="--g:#0000e3,#0000ff 73px,#00a8ff 191px,#00d8ff 254px,#00d8ff 287px,#00bcff 333px,#0000ff 477px,#0000ff 493px,#0000e8"></i><i class=h2 style="--g:#005cff,#0074ff 23px,#0068ff 33px,#0088ff 42px,#0094ff 49px,#0090ff 61px,#00a8ff 70px,#0098ff 80px,#00c0ff 89px,#00c8ff 98px,#00bcff 104px,#00dcfe 116px,#00c8ff 126px,#09f0ee 135px,#0ff8e7 141px,#02e8f4 150px,#1cffdb 166px,#0cf4eb 174px,#29ffce 181px,#30ffc7 189px,#1cffdb 198px,#33ffc4 211px,#1cffdb 219px,#3cffba 229px,#3cffba 237px,#26ffd1 243px,#36ffc1 254px,#26ffd1 269px,#39ffbe 277px,#33ffc4 284px,#19ffde 290px,#26ffd1 302px,#0cf4eb 310px,#1fffd7 320px,#16ffe1 330px,#00dcfe 338px,#00e4f8 349px,#00ccff 357px,#00d8ff 368px,#00ccff 376px,#00a8ff 383px,#00a8ff 394px,#008cff 402px,#0098ff 413px,#008cff 422px,#0064ff 433px,#0054ff 460px,#0014ff 495px,#0014ff"></i><i style="--g:#0058ff,#004cff 3px,#0070ff 15px,#0064ff 27px,#008cff 39px,#0088ff 47px,#0078ff 49px,#00a8ff 63px,#00a0ff 71px,#0090ff 73px,#00b4ff 79px,#00c0ff 84px,#00b0ff 97px,#00d4ff 103px,#00dcfe 109px,#00ccff 120px,#0ff8e7 131px,#00e4f8 138px,#00e4f8 144px,#16ffe1 149px,#23ffd4 154px,#0ff8e7 167px,#33ffc4 177px,#16ffe1 189px,#40ffb7 201px,#1cffdb 213px,#36ffc1 217px,#46ffb1 223px,#26ffd1 237px,#49ffad 246px,#43ffb4 251px,#29ffce 256px,#46ffb1 271px,#1fffd7 279px,#3cffba 294px,#13fce4 303px,#30ffc7 317px,#19ffde 322px,#02e8f4 327px,#19ffde 335px,#16ffe1 343px,#02e8f4 346px,#00d4ff 350px,#02e8f4 364px,#00b8ff 373px,#00c8ff 387px,#0098ff 397px,#00a4ff 412px,#0078ff 422px,#0084ff 432px,#0058ff 444px,#0064ff 455px,#0038ff 466px,#0044ff 477px,#0018ff 491px,#0024ff 501px,#0008ff"></i><i style="--g:#0000da,#0000e3 7px,#0000c8 10px,#0000e8 16px,#0000f1 23px,#0000d6 26px,#0000fa 32px,#0000ff 39px,#0000ed 42px,#0000ff 44px,#0000ff 59px,#0018ff 69px,#000cff 73px,#002cff 81px,#0030ff 87px,#0024ff 89px,#0044ff 96px,#0040ff 105px,#005cff 111px,#0058ff 120px,#0070ff 124px,#0074ff 136px,#008cff 141px,#008cff 152px,#00a4ff 157px,#00a4ff 168px,#00b8ff 172px,#00b8ff 183px,#00ccff 187px,#00c8ff 195px,#00dcfe 203px,#00d8ff 212px,#06ecf1 219px,#00e4f8 228px,#0ff8e7 235px,#06ecf1 243px,#16ffe1 250px,#06ecf1 258px,#1cffdb 267px,#0cf4eb 273px,#16ffe1 282px,#09f0ee 292px,#13fce4 296px,#02e8f4 306px,#09f0ee 313px,#00dcfe 321px,#02e8f4 327px,#00d0ff 337px,#00d8ff 344px,#00c0ff 353px,#00c8ff 359px,#00b0ff 368px,#00b4ff 376px,#009cff 384px,#00a0ff 391px,#0084ff 401px,#008cff 407px,#0074ff 413px,#0074ff 423px,#005cff 430px,#0060ff 438px,#004cff 443px,#0048ff 454px,#0030ff 462px,#0034ff 469px,#0018ff 478px,#001cff 485px,#0004ff 494px,#0000ff"></i><i class=h2 style="--g:#0028ff,#0014ff 7px,#0038ff 10px,#0020ff 19px,#0044ff 22px,#002cff 31px,#0050ff 34px,#0038ff 43px,#0060ff 45px,#0044ff 54px,#0048ff 55px,#0070ff 57px,#0054ff 66px,#0058ff 67px,#007cff 69px,#0064ff 78px,#008cff 81px,#0074ff 90px,#009cff 93px,#0084ff 102px,#00acff 105px,#0094ff 111px,#0098ff 114px,#00bcff 117px,#00a4ff 125px,#00a8ff 126px,#00ccff 128px,#00b0ff 136px,#00b8ff 138px,#00dcfe 140px,#00c0ff 148px,#00ccff 150px,#06ecf1 152px,#00d0ff 160px,#00dcfe 162px,#0ff8e7 164px,#00e0fb 172px,#19ffde 176px,#02e8f4 183px,#23ffd4 188px,#0cf4eb 195px,#29ffce 199px,#13fce4 207px,#30ffc7 211px,#1cffdb 219px,#36ffc1 223px,#1fffd7 231px,#39ffbe 236px,#23ffd4 242px,#40ffb7 247px,#26ffd1 253px,#3cffba 259px,#26ffd1 265px,#40ffb7 270px,#29ffce 276px,#39ffbe 282px,#26ffd1 288px,#3cffba 294px,#23ffd4 299px,#36ffc1 306px,#1cffdb 311px,#2cffca 318px,#13fce4 324px,#26ffd1 329px,#0cf4eb 335px,#1cffdb 340px,#16ffe1 343px,#02e8f4 347px,#13fce4 353px,#00dcfe 359px,#09f0ee 365px,#00d0ff 371px,#00e0fb 377px,#00c4ff 382px,#00d0ff 389px,#00b4ff 394px,#00c4ff 400px,#00a4ff 406px,#00b0ff 412px,#0094ff 418px,#009cff 424px,#0084ff 430px,#008cff 436px,#0074ff 442px,#007cff 447px,#0054ff 465px,#0058ff 472px,#0044ff 478px,#0048ff 484px,#0034ff 489px,#0038ff 495px,#0024ff 501px,#0020ff"></i><i style="--g:#00d0ff,#00e4f8 19px,#16ffe1 37px,#53ffa4 89px,#66ff90 124px,#7dff7a 136px,#a4ff53 221px,#90ff66 302px,#16ffe1 423px,#00d8ff 440px,#0070ff"></i><i style="--g:#00d8ff,#00c8ff 2px,#00e0fb 7px,#00d0ff 10px,#09f0ee 15px,#00e0fb 18px,#13fce4 23px,#02e8f4 26px,#16ffe1 30px,#0cf4eb 34px,#23ffd4 39px,#16ffe1 42px,#2cffca 47px,#1cffdb 49px,#36ffc1 55px,#26ffd1 57px,#40ffb7 62px,#30ffc7 65px,#49ffad 70px,#39ffbe 73px,#53ffa4 78px,#43ffb4 81px,#5aff9d 85px,#4dffaa 89px,#63ff94 94px,#56ffa0 97px,#6dff8a 102px,#5dff9a 105px,#73ff83 109px,#66ff90 113px,#7aff7d 117px,#6dff8a 121px,#80ff77 125px,#70ff87 128px,#8aff6d 134px,#7aff7d 136px,#90ff66 141px,#80ff77 144px,#97ff60 148px,#8aff6d 152px,#9dff5a 157px,#90ff66 160px,#a4ff53 165px,#97ff60 168px,#a7ff50 173px,#a0ff56 184px,#b4ff43 196px,#a7ff50 199px,#b7ff40 204px,#aaff4d 207px,#baff3c 211px,#aaff4d 215px,#baff3c 218px,#adff49 223px,#beff39 226px,#b4ff43 231px,#c1ff36 235px,#b7ff40 238px,#beff39 251px,#b1ff46 254px,#c4ff33 267px,#b4ff43 278px,#c1ff36 284px,#94ff63 343px,#16ffe1 446px,#00d8ff 466px,#0094ff"></i><i class=h2 style="--g:#0030ff,#003cff 2px,#0028ff 4px,#003cff 7px,#0034ff 10px,#004cff 15px,#0040ff 17px,#0050ff 21px,#0044ff 24px,#0054ff 27px,#004cff 30px,#006cff 35px,#0060ff 37px,#0070ff 41px,#0068ff 43px,#0088ff 49px,#0074ff 51px,#008cff 55px,#0084ff 57px,#0098ff 63px,#0088ff 65px,#00a0ff 69px,#0094ff 71px,#00a0ff 77px,#00bcff 82px,#00b0ff 85px,#00d4ff 96px,#00c8ff 99px,#02e8f4 110px,#00dcfe 112px,#09f0ee 116px,#02e8f4 119px,#16ffe1 127px,#23ffd4 130px,#16ffe1 132px,#30ffc7 144px,#26ffd1 146px,#33ffc4 158px,#49ffad 163px,#46ffb1 171px,#5aff9d 177px,#50ffa7 180px,#5dff9a 183px,#63ff94 205px,#77ff80 211px,#6dff8a 213px,#80ff77 225px,#80ff77 252px,#94ff63 258px,#87ff70 261px,#8aff6d 286px,#97ff60 292px,#90ff66 315px,#7dff7a 331px,#87ff70 339px,#60ff97 378px,#66ff90 386px,#16ffe1 454px,#00dcfe 473px,#00d8ff 481px,#00b8ff 495px,#00bcff 501px,#00a4ff"></i><i style="--g:#009cff,#0094ff 2px,#00acff 4px,#009cff 8px,#00b8ff 10px,#00a4ff 13px,#00c0ff 16px,#00acff 19px,#00c8ff 22px,#00b4ff 25px,#00d0ff 28px,#00bcff 31px,#00d4ff 33px,#00c8ff 37px,#00e0fb 39px,#00d0ff 43px,#06ecf1 45px,#00d8ff 49px,#0cf4eb 51px,#00e0fb 55px,#16ffe1 57px,#02e8f4 61px,#1cffdb 63px,#0cf4eb 67px,#26ffd1 69px,#16ffe1 73px,#2cffca 75px,#1cffdb 79px,#33ffc4 81px,#26ffd1 85px,#39ffbe 87px,#2cffca 90px,#40ffb7 93px,#33ffc4 96px,#49ffad 99px,#39ffbe 102px,#50ffa7 105px,#43ffb4 108px,#56ffa0 111px,#49ffad 114px,#5dff9a 116px,#50ffa7 120px,#63ff94 122px,#56ffa0 126px,#6dff8a 128px,#5dff9a 132px,#73ff83 134px,#63ff94 138px,#7aff7d 140px,#6aff8d 144px,#80ff77 146px,#73ff83 149px,#87ff70 152px,#7aff7d 155px,#8dff6a 158px,#80ff77 162px,#94ff63 164px,#87ff70 168px,#97ff60 170px,#8aff6d 173px,#9dff5a 176px,#90ff66 179px,#a0ff56 181px,#94ff63 185px,#a7ff50 188px,#9aff5d 191px,#aaff4d 195px,#9dff5a 197px,#b1ff46 199px,#a4ff53 203px,#b4ff43 206px,#a7ff50 209px,#baff3c 211px,#aaff4d 215px,#beff39 217px,#b1ff46 221px,#c1ff36 223px,#b4ff43 227px,#c4ff33 229px,#b7ff40 233px,#c7ff30 235px,#baff3c 239px,#c7ff30 241px,#beff39 245px,#caff2c 247px,#beff39 250px,#caff2c 252px,#c1ff36 256px,#ceff29 259px,#c1ff36 262px,#ceff29 266px,#c1ff36 268px,#d1ff26 276px,#c4ff33 280px,#d1ff26 282px,#c4ff33 286px,#d1ff26 288px,#c4ff33 292px,#d1ff26 294px,#c4ff33 298px,#d1ff26 300px,#c4ff33 303px,#ceff29 307px,#c1ff36 310px,#ceff29 312px,#c1ff36 315px,#c7ff30 330px,#baff3c 333px,#c4ff33 336px,#b7ff40 339px,#c1ff36 341px,#b1ff46 351px,#baff3c 354px,#adff49 357px,#b4ff43 365px,#a0ff56 375px,#aaff4d 377px,#97ff60 387px,#9aff5d 395px,#73ff83 432px,#66ff90 434px,#6dff8a 438px,#60ff97 440px,#66ff90 443px,#5aff9d 446px,#60ff97 449px,#53ffa4 452px,#5aff9d 454px,#16ffe1 508px,#0cf4eb"></i><i style="--g:#73ff83,#c1ff36 57px,#eeff09 102px,#ffea00 114px,#ffa700 184px,#ff8d00 241px,#ff9f00 265px,#ff8900 272px,#ff9f00 280px,#ff9400 288px,#ff9f00 311px,#ffea00 389px,#eeff09 402px,#c7ff30 442px,#66ff90"></i><i class=h2 style="--g:#56ffa0,#46ffb1 2px,#5dff9a 5px,#53ffa4 8px,#63ff94 10px,#56ffa0 11px,#5dff9a 14px,#50ffa7 16px,#6dff8a 19px,#70ff87 24px,#63ff94 26px,#7dff7a 29px,#70ff87 31px,#80ff77 33px,#70ff87 35px,#77ff80 38px,#6aff8d 39px,#8aff6d 43px,#7dff7a 45px,#90ff66 47px,#80ff77 49px,#9aff5d 53px,#8aff6d 55px,#9dff5a 57px,#87ff70 59px,#97ff60 61px,#83ff73 63px,#a7ff50 67px,#9aff5d 69px,#adff49 71px,#9aff5d 73px,#b1ff46 76px,#a7ff50 79px,#b7ff40 81px,#a7ff50 83px,#b1ff46 85px,#a0ff56 87px,#c1ff36 91px,#b7ff40 93px,#c4ff33 95px,#b7ff40 97px,#ceff29 100px,#c1ff36 106px,#caff2c 108px,#baff3c 111px,#d7ff1f 114px,#ceff29 116px,#deff19 118px,#ceff29 120px,#e7ff0f 124px,#d7ff1f 126px,#e7ff0f 128px,#d4ff23 130px,#e1ff16 132px,#ceff29 134px,#f1fc06 138px,#e4ff13 140px,#f4f802 142px,#e4ff13 144px,#f8f500 147px,#eeff09 150px,#fbf100 152px,#eeff09 153px,#f1fc06 156px,#e1ff16 158px,#eeff09 160px,#ffea00 162px,#f8f500 164px,#ffe600 166px,#f8f500 168px,#ffde00 172px,#ffea00 173px,#ffe200 176px,#fbf100 177px,#ffea00 180px,#f4f802 182px,#ffd700 185px,#ffe200 187px,#ffd300 189px,#ffe600 191px,#ffcc00 195px,#ffde00 197px,#ffcc00 199px,#ffe200 201px,#ffd700 203px,#feed00 205px,#ffe600 207px,#ffc800 209px,#ffd700 211px,#ffc400 213px,#ffdb00 215px,#ffc100 219px,#ffd300 221px,#ffc400 223px,#ffd700 225px,#ffd000 227px,#ffe200 229px,#ffc400 233px,#ffcc00 235px,#ffc100 237px,#ffd000 239px,#ffbd00 242px,#ffc800 244px,#ffc100 247px,#ffd000 248px,#ffcc00 250px,#ffdb00 252px,#ffc400 256px,#ffcc00 258px,#ffc100 260px,#ffd300 262px,#ffc400 266px,#ffd300 268px,#ffc100 270px,#ffd000 272px,#ffc100 274px,#ffd300 276px,#ffb900 284px,#ffd300 286px,#ffd000 288px,#ffe200 290px,#ffc400 294px,#ffd000 296px,#ffc100 298px,#ffd300 300px,#ffc800 308px,#ffe600 314px,#ffd000 318px,#ffd700 331px,#f8f500 337px,#ffdb00 345px,#ffea00 347px,#fbf100 359px,#ebff0c 361px,#fbf100 365px,#f1fc06 367px,#feed00 369px,#f1fc06 371px,#f4f802 375px,#e7ff0f 377px,#f1fc06 379px,#d7ff1f 386px,#e7ff0f 393px,#dbff1c 403px,#c1ff36 410px,#d1ff26 416px,#c4ff33 418px,#c4ff33 426px,#aaff4d 433px,#b7ff40 440px,#aaff4d 450px,#90ff66 457px,#9aff5d 464px,#77ff80 480px,#77ff80 493px,#5aff9d 504px,#63ff94"></i><i style="--g:#00c4ff,#00e4f8 10px,#02e8f4 22px,#16ffe1 31px,#16ffe1 44px,#36ffc1 57px,#30ffc7 65px,#53ffa4 81px,#49ffad 91px,#6aff8d 104px,#66ff90 121px,#83ff73 132px,#77ff80 138px,#97ff60 153px,#87ff70 165px,#a7ff50 179px,#9aff5d 186px,#b4ff43 202px,#a4ff53 214px,#beff39 225px,#adff49 233px,#c4ff33 248px,#adff49 257px,#c4ff33 274px,#b1ff46 283px,#c1ff36 300px,#adff49 306px,#beff39 321px,#a4ff53 329px,#b1ff46 343px,#b1ff46 348px,#9dff5a 353px,#a7ff50 368px,#87ff70 380px,#94ff63 394px,#7aff7d 403px,#7dff7a 420px,#66ff90 426px,#6aff8d 442px,#49ffad 453px,#50ffa7 467px,#39ffbe 474px,#36ffc1 490px,#1cffdb 498px,#1cffdb"></i><i style="--g:#b1ff46,#c4ff33 2px,#b7ff40 4px,#c7ff30 6px,#baff3c 8px,#caff2c 10px,#c4ff33 16px,#deff19 29px,#d4ff23 31px,#e4ff13 33px,#d7ff1f 35px,#eeff09 41px,#e1ff16 43px,#f1fc06 45px,#e4ff13 47px,#f8f500 49px,#ebff0c 51px,#feed00 53px,#eeff09 55px,#ffea00 57px,#f1fc06 59px,#ffe600 61px,#f4f802 63px,#ffe200 65px,#fbf100 67px,#ffde00 69px,#feed00 71px,#ffdb00 73px,#feed00 75px,#ffdb00 77px,#ffea00 79px,#ffd700 81px,#ffe200 83px,#ffd300 85px,#ffe200 87px,#ffd300 89px,#ffde00 91px,#ffd000 92px,#ffd700 95px,#ffcc00 97px,#ffd700 98px,#ffc400 104px,#ffd000 106px,#ffbd00 112px,#ffcc00 114px,#ffb900 116px,#ffcc00 118px,#ffb600 120px,#ffc800 122px,#ffb600 124px,#ffc800 126px,#ffb200 128px,#ffc800 130px,#ffae00 132px,#ffc400 134px,#ffae00 136px,#ffc400 138px,#ffae00 140px,#ffc100 142px,#ffab00 144px,#ffbd00 146px,#ffab00 148px,#ffb900 150px,#ffa700 152px,#ffb600 154px,#ffa700 156px,#ffb200 158px,#ff9f00 164px,#ffae00 166px,#ff9f00 168px,#ffab00 169px,#ff9c00 172px,#ffa700 173px,#ff9c00 175px,#ffa700 178px,#ff9800 179px,#ffa700 181px,#ff9400 187px,#ffa300 189px,#ff9100 191px,#ffa300 193px,#ff9100 195px,#ffa300 197px,#ff9100 199px,#ffa300 201px,#ff8d00 203px,#ff9f00 205px,#ff8900 207px,#ff9f00 209px,#ff8900 211px,#ff9c00 213px,#ff8900 215px,#ff9c00 217px,#ff8900 219px,#ff9c00 221px,#ff8900 223px,#ff9800 225px,#ff8900 227px,#ff9800 229px,#ff8900 231px,#ff9400 233px,#ff8900 239px,#ff9800 241px,#ff9400 246px,#ffb600 256px,#ff9800 266px,#ffa300 268px,#ff9100 270px,#ff9f00 272px,#ff8d00 274px,#ff9f00 276px,#ff9100 278px,#ffa300 280px,#ff9100 282px,#ff9f00 284px,#ff8900 286px,#ff9f00 288px,#ff9100 290px,#ffa300 292px,#ff9400 294px,#ffa300 296px,#ff9100 298px,#ff9f00 300px,#ff9100 302px,#ff9f00 304px,#ff9100 306px,#ff9f00 308px,#ff9100 310px,#ff9c00 312px,#ff9100 313px,#ff9c00 315px,#ff9100 318px,#ff9f00 320px,#ff9400 321px,#ffa300 327px,#ff9c00 330px,#ffa700 331px,#ff9c00 333px,#ffab00 335px,#ff9f00 337px,#ffae00 339px,#ffa300 341px,#ffb600 347px,#ffa700 349px,#ffb900 351px,#ffab00 353px,#ffbd00 355px,#ffae00 357px,#ffc100 359px,#ffae00 361px,#ffc100 363px,#ffb200 365px,#ffc400 367px,#ffb600 369px,#ffc400 371px,#ffb900 373px,#ffc800 375px,#ffbd00 377px,#ffcc00 379px,#ffc100 381px,#ffd000 383px,#ffc400 385px,#ffd000 386px,#ffc800 389px,#ffd300 391px,#ffd700 405px,#ffe200 406px,#ffdb00 409px,#ffe600 410px,#ffde00 412px,#f8f500 418px,#feed00 420px,#eeff09 426px,#f4f802 428px,#e1ff16 434px,#ebff0c 436px,#dbff1c 438px,#e4ff13 440px,#d7ff1f 442px,#e1ff16 444px,#d4ff23 446px,#d7ff1f 452px,#caff2c 454px,#ceff29 460px,#a0ff56 485px,#9aff5d 499px,#8dff6a 501px,#97ff60 503px,#8dff6a"></i><i class=h2 style="--g:#ff9400,#ff7700 8px,#ff6f00 24px,#ff4e00 35px,#ff5500 48px,#ff3800 56px,#ff3800 71px,#ff1a00 80px,#ff1300 97px,#e80000 102px,#e40000 111px,#f10800 118px,#d10000 127px,#d10000 142px,#b20000 149px,#c40000 166px,#a40000 172px,#ad0000 188px,#8d0000 196px,#a40000 213px,#890000 219px,#9b0000 235px,#800000 244px,#960000 255px,#800000 271px,#9b0000 281px,#840000 288px,#9b0000 302px,#890000 315px,#b20000 329px,#9f0000 334px,#bb0000 351px,#a80000 363px,#d60000 376px,#c40000 384px,#e80000 398px,#da0000 404px,#e80000 415px,#ff1300 421px,#ff1e00 423px,#ff1300 431px,#ff3400 446px,#ff2900 452px,#ff4e00 469px,#ff5500 485px,#ff7300 493px,#ff6800 499px,#ff8200"></i><i style="--g:#9aff5d,#94ff63 2px,#a7ff50 4px,#9aff5d 6px,#b4ff43 8px,#9dff5a 11px,#b4ff43 14px,#a7ff50 16px,#baff3c 18px,#9dff5a 21px,#beff39 27px,#b4ff43 29px,#caff2c 31px,#b7ff40 35px,#ceff29 37px,#beff39 39px,#d4ff23 41px,#b4ff43 45px,#ceff29 47px,#c4ff33 49px,#dbff1c 51px,#caff2c 53px,#e7ff0f 55px,#d1ff26 59px,#ebff0c 61px,#d4ff23 63px,#eeff09 65px,#caff2c 69px,#e7ff0f 71px,#deff19 73px,#f4f802 75px,#e4ff13 77px,#feed00 79px,#ebff0c 83px,#fbf100 84px,#f1fc06 87px,#ffea00 89px,#ebff0c 91px,#e7ff0f 93px,#feed00 95px,#f8f500 96px,#ffe200 98px,#ffea00 101px,#ffd700 102px,#ffe600 106px,#ffd300 109px,#ffe200 110px,#ffd000 112px,#fbf100 116px,#ffd300 118px,#ffdb00 120px,#ffc100 122px,#ffd700 124px,#ffb900 126px,#ffcc00 130px,#ffb600 132px,#ffd000 134px,#ffb200 136px,#ffd000 138px,#ffd700 140px,#ffb600 142px,#ffc100 144px,#ffa700 146px,#ffbd00 148px,#ffa300 150px,#ffb200 154px,#ff9f00 156px,#ffae00 158px,#ff9f00 160px,#ffb900 162px,#ffbd00 164px,#ffa300 166px,#ffa700 168px,#ff9400 170px,#ff9f00 172px,#ff8d00 174px,#ff9c00 177px,#ff8900 179px,#ff9800 181px,#ff8d00 184px,#ffab00 187px,#ff9100 189px,#ff9400 191px,#ff7e00 193px,#ff9100 195px,#ff7700 197px,#ff8900 201px,#ff7300 203px,#ff8900 205px,#ff7300 207px,#ff9800 211px,#ff7700 213px,#ff8200 215px,#ff6800 217px,#ff8200 219px,#ff6400 221px,#ff7300 225px,#ff6000 227px,#ff7700 229px,#ff6800 231px,#ff8200 234px,#ff6800 237px,#ff6f00 239px,#ff5d00 241px,#ff6c00 243px,#ff5900 245px,#ff6400 247px,#ff5500 250px,#ff6400 252px,#ff5900 254px,#ff7700 258px,#ff6000 260px,#ff6800 262px,#ff5500 264px,#ff6800 266px,#ff5900 268px,#ff6400 272px,#ff5200 274px,#ff6000 276px,#ff4a00 278px,#ff6400 282px,#ff4a00 284px,#ff5900 286px,#ff4300 288px,#ff5d00 290px,#ff4700 292px,#ff5d00 296px,#ff4a00 298px,#ff5500 300px,#ff3f00 302px,#ff5500 305px,#ff4700 308px,#ff5200 310px,#ff4300 312px,#ff5200 314px,#ff4300 316px,#ff4e00 318px,#ff4a00 324px,#ff3b00 325px,#ff4a00 329px,#ff3b00 331px,#ff4700 333px,#ff3b00 335px,#ff4e00 337px,#ff3f00 339px,#ff4a00 347px,#ff3800 349px,#ff4a00 353px,#ff3800 355px,#ff4700 357px,#ff3800 359px,#ff5200 361px,#ff3f00 363px,#ff4e00 367px,#ff3f00 369px,#ff4a00 371px,#ff3800 373px,#ff4a00 376px,#ff3b00 379px,#ff4700 381px,#ff3f00 383px,#ff5200 385px,#ff4700 387px,#ff4e00 394px,#ff3f00 397px,#ff4e00 399px,#ff4300 406px,#ff6000 410px,#ff5200 412px,#ff5500 418px,#ff4700 420px,#ff5200 424px,#ff4700 426px,#ff5500 428px,#ff4a00 430px,#ff6800 434px,#ff5500 436px,#ff6000 442px,#ff4e00 444px,#ff5d00 447px,#ff5900 454px,#ff7300 457px,#ff6400 460px,#ff6c00 466px,#ff6000 468px,#ff6800 477px,#ff8200 481px,#ff7300 484px,#ff7a00 489px,#ff6f00 491px,#ff7300 497px,#ff8200 499px,#ff7a00 501px,#ff9400 505px,#ff8600 507px,#ff8600"></i><i class=h2 style="--g:#7dff7a,#90ff66 2px,#80ff77 4px,#8dff6a 6px,#7dff7a 8px,#97ff60 12px,#80ff77 14px,#9dff5a 18px,#90ff66 19px,#9aff5d 22px,#8dff6a 24px,#a4ff53 27px,#8dff6a 30px,#aaff4d 33px,#9dff5a 35px,#aaff4d 37px,#9aff5d 39px,#b4ff43 43px,#9dff5a 46px,#baff3c 49px,#aaff4d 51px,#baff3c 53px,#a7ff50 55px,#c7ff30 59px,#aaff4d 61px,#caff2c 65px,#b7ff40 67px,#caff2c 69px,#b7ff40 71px,#d1ff26 75px,#baff3c 77px,#d7ff1f 81px,#c7ff30 83px,#d4ff23 85px,#c7ff30 87px,#dbff1c 91px,#c7ff30 93px,#e1ff16 97px,#d4ff23 103px,#ebff0c 106px,#d4ff23 109px,#eeff09 112px,#e1ff16 114px,#f1fc06 116px,#e1ff16 118px,#fbf100 122px,#e4ff13 125px,#feed00 128px,#ebff0c 130px,#feed00 132px,#ebff0c 134px,#ffe200 138px,#eeff09 140px,#f4f802 142px,#ffde00 144px,#f8f500 146px,#ffe200 148px,#f8f500 150px,#ffdb00 154px,#fbf100 156px,#ffd700 160px,#ffe600 162px,#ffd700 164px,#ffe600 166px,#ffd000 170px,#ffe200 171px,#ffe600 173px,#ffd000 175px,#ffd700 178px,#ffcc00 179px,#ffdb00 182px,#ffc400 185px,#ffdb00 188px,#ffc100 191px,#ffd000 193px,#ffc100 195px,#ffd000 198px,#ffb900 201px,#ffd300 203px,#ffb600 207px,#ffc800 209px,#ffb600 211px,#ffc800 213px,#ffb200 217px,#ffc800 220px,#ffae00 223px,#ffc100 229px,#ffab00 233px,#ffc100 235px,#ffae00 238px,#ffbd00 245px,#ffae00 249px,#ffc100 252px,#ffab00 254px,#ffb200 257px,#ffa700 258px,#ffb600 261px,#ffa700 264px,#ffbd00 267px,#ffab00 270px,#ffc100 276px,#ffa300 280px,#ffb200 283px,#ff9c00 286px,#ffb600 288px,#ffc100 292px,#ff9f00 296px,#ffab00 298px,#ff9800 302px,#ffae00 304px,#ffb900 308px,#ff9c00 312px,#ff9800 318px,#ffb600 324px,#ff9c00 327px,#ff9400 333px,#ffb600 340px,#ff9c00 343px,#ff9f00 347px,#ff9100 349px,#ffa700 351px,#ffb600 355px,#ff9800 359px,#ff9f00 363px,#ff9100 365px,#ffa700 367px,#ffb600 371px,#ff9c00 375px,#ff9400 381px,#ffb600 387px,#ff9f00 390px,#ff9800 396px,#ffb200 402px,#ff9800 412px,#ffb600 418px,#ff9f00 422px,#ffa700 426px,#ff9800 428px,#ffb900 434px,#ffa300 438px,#ffab00 442px,#ff9f00 444px,#ffbd00 450px,#ffab00 454px,#ffa700 460px,#ffc100 466px,#ffae00 470px,#ffae00 476px,#ffc400 481px,#ffb600 491px,#ffd000 497px,#ffbd00 501px,#ffd000"></i><i style="--g:#ff7e00,#ff8600 4px,#ff7700 7px,#ff8200 10px,#ff7300 13px,#ff7e00 16px,#ff6c00 30px,#ff7700 33px,#ff6800 37px,#ff7300 39px,#ff6000 49px,#ff6f00 51px,#ff6000 54px,#ff6c00 57px,#ff5d00 61px,#ff6c00 63px,#ff5d00 65px,#ff6800 69px,#ff5900 72px,#ff6400 81px,#ff5500 83px,#ff6000 87px,#ff5200 90px,#ff5d00 99px,#ff4e00 102px,#ff5900 104px,#ff4e00 107px,#ff5900 116px,#ff4a00 120px,#ff5900 122px,#ff4a00 125px,#ff5900 128px,#ff4a00 130px,#ff5500 134px,#ff4700 138px,#ff5500 140px,#ff4700 143px,#ff5500 146px,#ff4700 149px,#ff5200 152px,#ff4700 154px,#ff5200 158px,#ff4700 160px,#ff5200 164px,#ff4700 166px,#ff5200 170px,#ff4700 179px,#ff5200 181px,#ff4700 184px,#ff5200 187px,#ff4700 190px,#ff5200 193px,#ff4700 209px,#ff5500 211px,#ff4700 214px,#ff5500 217px,#ff4700 220px,#ff5500 223px,#ff4a00 225px,#ff5500 229px,#ff4a00 238px,#ff5900 247px,#ff4e00 256px,#ff5d00 264px,#ff5200 268px,#ff6000 276px,#ff5500 280px,#ff6400 282px,#ff5900 292px,#ff6800 294px,#ff5d00 298px,#ff6c00 306px,#ff6000 309px,#ff6c00 311px,#ff6400 315px,#ff7300 324px,#ff6f00 339px,#ff8200 353px,#ff7a00 357px,#ff8600 359px,#ff7e00 363px,#ff8900 365px,#ff8900 381px,#ff9400 383px,#ff9400 398px,#ffa700 412px,#ff9f00 416px,#ffab00 418px,#ffa300 422px,#ffb600 430px,#ffb900 451px,#ffcc00 460px,#ffc400 463px,#ffd000 466px,#ffc800 469px,#ffd300 471px,#ffde00 493px,#ffea00 495px,#ffe200 499px,#f8f500 507px,#feed00"></i><i style="--g:#ff8900,#ff9100 8px,#ff8600 10px,#ff9400 16px,#ff8200 24px,#ff9100 29px,#ff7300 37px,#ff7300 44px,#ff8600 49px,#ff7a00 57px,#ff8d00 63px,#ff7a00 71px,#ff8900 77px,#ff6c00 86px,#ff7e00 96px,#ff7a00 105px,#ff8d00 110px,#ff7a00 118px,#ff8d00 124px,#ff7700 128px,#ff6c00 138px,#ff8600 144px,#ff7a00 146px,#ff7e00 152px,#ff9100 158px,#ff8200 165px,#ff9100 171px,#ff7e00 175px,#ff7700 185px,#ff8d00 191px,#ff8600 194px,#ff9c00 205px,#ff8d00 213px,#ff9c00 219px,#ff8d00 222px,#ff8600 233px,#ff9c00 239px,#ff9400 241px,#ffab00 252px,#ffa300 261px,#ffb200 266px,#ffa300 270px,#ffae00 278px,#ff9f00 289px,#ffae00 292px,#ffc400 313px,#ffbd00 322px,#ffcc00 328px,#ffb600 337px,#ffe200 361px,#ffd700 369px,#ffe600 375px,#ffd300 384px,#ffea00 398px,#eeff09 408px,#f1fc06 417px,#e4ff13 422px,#f4f802 431px,#ceff29 456px,#d1ff26 483px,#b1ff46 499px,#b1ff46"></i><i class=h2 style="--g:#ff6c00,#ff8600 4px,#ff5500 6px,#ff8600 11px,#ff8200 12px,#ff5200 14px,#ff8200 19px,#ff5200 22px,#ff7e00 27px,#ff4e00 30px,#ff7a00 35px,#ff4e00 37px,#ff4a00 38px,#ff7a00 43px,#ff4a00 45px,#ff4a00 46px,#ff7700 51px,#ff4300 53px,#ff7700 59px,#ff3f00 61px,#ff7300 67px,#ff3f00 69px,#ff6f00 75px,#ff3f00 77px,#ff6c00 82px,#ff6c00 83px,#ff3f00 85px,#ff6c00 90px,#ff6800 91px,#ff3b00 93px,#ff6c00 98px,#ff3b00 101px,#ff6800 106px,#ff3800 109px,#ff6800 114px,#ff3800 116px,#ff6400 122px,#ff3400 124px,#ff6400 130px,#ff2d00 132px,#ff6400 138px,#ff2d00 140px,#ff6000 146px,#ff2d00 148px,#ff5d00 153px,#ff5d00 154px,#ff2d00 156px,#ff5d00 161px,#ff5900 162px,#ff2d00 164px,#ff5900 169px,#ff5500 170px,#ff2d00 172px,#ff5d00 177px,#ff2d00 180px,#ff5d00 185px,#ff3000 187px,#ff5900 193px,#ff2d00 195px,#ff2d00 196px,#ff5900 201px,#ff2900 203px,#ff5900 209px,#ff2500 211px,#ff5900 217px,#ff2500 219px,#ff5500 225px,#ff2900 227px,#ff5500 232px,#ff5500 233px,#ff2900 235px,#ff5900 240px,#ff5500 241px,#ff3000 243px,#ff6000 248px,#ff3f00 251px,#ff6f00 256px,#ff4300 259px,#ff6400 264px,#ff3800 266px,#ff5200 272px,#ff1e00 274px,#ff1600 275px,#ff1e00 277px,#ff4300 280px,#ff1600 282px,#ff1a00 284px,#ff4a00 288px,#ff1a00 290px,#ff1a00 292px,#ff4700 296px,#ff1a00 298px,#ff1a00 299px,#ff4700 304px,#ff1a00 306px,#ff1e00 308px,#ff4300 311px,#ff4300 312px,#ff1a00 314px,#ff1a00 315px,#ff4300 319px,#ff3f00 320px,#ff1600 322px,#ff2500 325px,#ff3f00 327px,#ff1600 330px,#ff1600 331px,#ff4300 335px,#ff1a00 338px,#ff2900 341px,#ff4300 343px,#ff1e00 345px,#ff1a00 347px,#ff4700 351px,#ff1e00 353px,#ff1e00 355px,#ff4700 359px,#ff1e00 361px,#ff1e00 362px,#ff4700 367px,#ff1e00 369px,#ff2200 371px,#ff4700 375px,#ff2200 377px,#ff2500 379px,#ff4700 383px,#ff2500 385px,#ff2900 387px,#ff4700 390px,#ff2900 394px,#ff4a00 398px,#ff2900 401px,#ff3800 404px,#ff5200 406px,#ff3400 408px,#ff2d00 410px,#ff5900 414px,#ff3b00 416px,#ff3800 418px,#ff6000 422px,#ff3b00 424px,#ff3b00 425px,#ff4300 427px,#ff6800 430px,#ff4300 432px,#ff4300 434px,#ff6f00 438px,#ff4700 440px,#ff4a00 442px,#ff6f00 446px,#ff4a00 448px,#ff6f00 454px,#ff4e00 456px,#ff5200 458px,#ff6f00 461px,#ff5200 465px,#ff7300 469px,#ff5500 473px,#ff7700 477px,#ff5900 480px,#ff6400 483px,#ff7e00 485px,#ff6400 487px,#ff6000 489px,#ff8600 493px,#ff6400 496px,#ff8900 501px,#ff6800 503px,#ff6c00 505px,#ff9100 509px,#ff6c00"></i><i style="--g:#23ffd4,#39ffbe 13px,#26ffd1 16px,#33ffc4 23px,#1cffdb 26px,#29ffce 33px,#19ffde 36px,#36ffc1 43px,#26ffd1 45px,#49ffad 59px,#49ffad 61px,#36ffc1 63px,#40ffb7 71px,#2cffca 73px,#33ffc4 81px,#26ffd1 83px,#40ffb7 90px,#33ffc4 93px,#49ffad 98px,#40ffb7 101px,#56ffa0 106px,#56ffa0 108px,#40ffb7 111px,#50ffa7 118px,#39ffbe 122px,#43ffb4 128px,#33ffc4 130px,#50ffa7 138px,#3cffba 140px,#56ffa0 145px,#4dffaa 149px,#63ff94 154px,#49ffad 159px,#5aff9d 165px,#43ffb4 169px,#4dffaa 175px,#3cffba 178px,#5aff9d 185px,#49ffad 187px,#60ff97 193px,#56ffa0 196px,#6dff8a 201px,#53ffa4 207px,#63ff94 211px,#63ff94 213px,#4dffaa 215px,#5aff9d 223px,#46ffb1 225px,#63ff94 232px,#53ffa4 235px,#6aff8d 240px,#60ff97 243px,#77ff80 249px,#5dff9a 254px,#6dff8a 260px,#56ffa0 263px,#60ff97 270px,#4dffaa 272px,#6aff8d 280px,#56ffa0 282px,#6aff8d 287px,#5aff9d 290px,#7aff7d 298px,#6dff8a 300px,#7dff7a 305px,#6aff8d 311px,#77ff80 317px,#5aff9d 320px,#6dff8a 327px,#60ff97 329px,#70ff87 334px,#63ff94 339px,#80ff77 345px,#77ff80 349px,#87ff70 353px,#73ff83 358px,#80ff77 365px,#63ff94 367px,#73ff83 375px,#60ff97 377px,#77ff80 382px,#6aff8d 386px,#83ff73 392px,#7aff7d 395px,#8dff6a 400px,#77ff80 405px,#87ff70 412px,#6aff8d 415px,#7aff7d 422px,#66ff90 424px,#83ff73 432px,#6dff8a 434px,#83ff73 438px,#7dff7a 444px,#8dff6a 448px,#8dff6a 450px,#7aff7d 452px,#83ff73 459px,#6aff8d 462px,#73ff83 469px,#63ff94 472px,#7dff7a 478px,#70ff87 482px,#87ff70 487px,#7dff7a 491px,#90ff66 496px,#77ff80 501px,#83ff73 507px,#6dff8a 509px,#6dff8a"></i><i style="--g:#ffea00,#ffea00 4px,#ffd000 8px,#feed00 14px,#ffcc00 19px,#ffea00 26px,#ffc800 31px,#ffe600 38px,#ffc100 43px,#ffe600 49px,#ffbd00 55px,#ffe200 61px,#ffb600 67px,#ffdb00 72px,#ffb600 78px,#ffd700 85px,#ffae00 90px,#ffd700 97px,#ffab00 102px,#ffd700 108px,#ffa700 114px,#ffd300 120px,#ffa700 126px,#ffd300 132px,#ffa300 138px,#ffd000 144px,#ffa300 150px,#ffcc00 155px,#ffa300 162px,#ffc800 167px,#ffc100 170px,#ffa300 173px,#ffc800 180px,#ffa300 185px,#ffc400 192px,#ffa300 197px,#ffc400 205px,#ffa300 209px,#ffc400 217px,#ffa300 221px,#ffc400 228px,#ffa700 233px,#ffc400 240px,#ffa700 245px,#ffc400 253px,#ffa300 257px,#ffc800 264px,#ffab00 269px,#ffd700 276px,#ffbd00 282px,#ffd000 289px,#ffc100 292px,#ffcc00 300px,#ffb900 304px,#ffc400 312px,#ffb200 315px,#ffc100 324px,#ffa700 328px,#ffc100 335px,#ffab00 339px,#ffbd00 348px,#ffa700 351px,#ffbd00 359px,#ffa700 363px,#ffbd00 371px,#ffa700 375px,#ffbd00 383px,#ffa700 387px,#ffbd00 393px,#ffab00 399px,#ffc100 406px,#ffae00 412px,#ffc800 418px,#ffb200 424px,#ffd000 430px,#ffb600 434px,#ffd000 442px,#ffd000 444px,#ffb900 446px,#ffd000 453px,#ffcc00 456px,#ffb900 458px,#ffd000 467px,#ffbd00 469px,#ffb900 472px,#ffd000 478px,#ffb600 482px,#ffd000 489px,#ffb600 494px,#ffd000 501px,#ffd000 503px,#ffb900 505px,#ffcc00"></i><i class=h2 style="--g:#ebff0c,#d4ff23 2px,#80ff77 6px,#77ff80 7px,#7dff7a 8px,#c4ff33 10px,#eeff09 15px,#e1ff16 17px,#90ff66 21px,#77ff80 23px,#87ff70 24px,#c7ff30 26px,#f1fc06 31px,#e1ff16 33px,#90ff66 37px,#77ff80 39px,#caff2c 42px,#f4f802 47px,#e1ff16 49px,#8dff6a 53px,#77ff80 55px,#c1ff36 57px,#f4f802 62px,#deff19 65px,#8dff6a 69px,#7dff7a 71px,#c7ff30 73px,#f4f802 78px,#dbff1c 81px,#80ff77 86px,#87ff70 87px,#caff2c 89px,#d7ff1f 90px,#f1fc06 93px,#f1fc06 95px,#7dff7a 102px,#ceff29 105px,#e7ff0f 107px,#f8f500 110px,#e7ff0f 112px,#97ff60 116px,#80ff77 118px,#c1ff36 120px,#e4ff13 122px,#fbf100 126px,#ebff0c 128px,#9aff5d 132px,#80ff77 134px,#caff2c 136px,#f8f500 140px,#ffea00 142px,#ebff0c 144px,#9aff5d 148px,#8aff6d 150px,#ceff29 152px,#deff19 153px,#f4f802 155px,#ffea00 157px,#ebff0c 160px,#a7ff50 163px,#8aff6d 165px,#94ff63 166px,#d4ff23 168px,#eeff09 170px,#ffea00 173px,#f8f500 175px,#a7ff50 179px,#8dff6a 181px,#d7ff1f 184px,#e4ff13 185px,#f8f500 187px,#ffe600 189px,#feed00 190px,#e7ff0f 192px,#a4ff53 195px,#87ff70 197px,#dbff1c 200px,#ffea00 204px,#ffe200 205px,#f8f500 207px,#9dff5a 211px,#87ff70 213px,#ceff29 215px,#eeff09 217px,#ffea00 220px,#f4f802 223px,#9dff5a 227px,#8dff6a 229px,#d1ff26 231px,#eeff09 233px,#feed00 235px,#ffe600 237px,#f1fc06 239px,#8dff6a 244px,#97ff60 245px,#d7ff1f 247px,#f4f802 249px,#ffde00 252px,#ffe600 254px,#e1ff16 256px,#94ff63 260px,#c7ff30 262px,#e7ff0f 264px,#ffea00 268px,#f8f500 270px,#80ff77 276px,#b7ff40 278px,#f1fc06 284px,#f1fc06 286px,#8aff6d 292px,#beff39 294px,#c1ff36 296px,#eeff09 300px,#f1fc06 302px,#d7ff1f 304px,#9aff5d 307px,#94ff63 308px,#c1ff36 310px,#c7ff30 312px,#eeff09 315px,#fbf100 317px,#eeff09 319px,#9dff5a 323px,#9dff5a 324px,#b7ff40 325px,#ebff0c 330px,#feed00 332px,#eeff09 335px,#9aff5d 339px,#beff39 341px,#c7ff30 343px,#eeff09 346px,#ffea00 348px,#eeff09 351px,#97ff60 355px,#c1ff36 357px,#c7ff30 359px,#f1fc06 362px,#ffea00 363px,#f8f500 366px,#97ff60 371px,#c4ff33 373px,#caff2c 375px,#e7ff0f 377px,#ffea00 379px,#f4f802 382px,#a4ff53 386px,#9dff5a 387px,#c4ff33 389px,#ceff29 391px,#ebff0c 393px,#ffea00 395px,#f1fc06 398px,#9dff5a 402px,#ebff0c 409px,#ffea00 411px,#eeff09 414px,#97ff60 418px,#beff39 420px,#c4ff33 422px,#eeff09 425px,#feed00 426px,#ffea00 428px,#ebff0c 430px,#90ff66 434px,#beff39 436px,#c1ff36 438px,#eeff09 441px,#feed00 443px,#e4ff13 446px,#94ff63 450px,#beff39 452px,#c4ff33 454px,#f1fc06 457px,#feed00 458px,#eeff09 461px,#9dff5a 465px,#9aff5d 466px,#b1ff46 467px,#c7ff30 470px,#ebff0c 472px,#ffea00 474px,#eeff09 477px,#9aff5d 481px,#e1ff16 487px,#ffea00 489px,#ffe600 491px,#eeff09 493px,#97ff60 497px,#c1ff36 499px,#e4ff13 503px,#ffea00 505px,#f8f500 508px,#beff39"></i><i style="--g:#9aff5d,#a0ff56 4px,#87ff70 11px,#77ff80 12px,#49ffad 13px,#30ffc7 14px,#97ff60 24px,#a0ff56 27px,#87ff70 35px,#39ffbe 37px,#33ffc4 38px,#73ff83 45px,#94ff63 47px,#a0ff56 51px,#83ff73 59px,#2cffca 61px,#73ff83 69px,#94ff63 71px,#a0ff56 75px,#83ff73 82px,#73ff83 83px,#2cffca 85px,#9aff5d 96px,#9aff5d 101px,#83ff73 106px,#3cffba 108px,#30ffc7 109px,#90ff66 118px,#a0ff56 122px,#83ff73 130px,#2cffca 132px,#94ff63 142px,#a0ff56 145px,#87ff70 153px,#7aff7d 154px,#30ffc7 156px,#97ff60 166px,#a0ff56 170px,#94ff63 174px,#87ff70 177px,#6dff8a 178px,#40ffb7 179px,#30ffc7 180px,#73ff83 187px,#94ff63 189px,#a4ff53 193px,#8dff6a 201px,#36ffc1 203px,#36ffc1 205px,#77ff80 211px,#9aff5d 213px,#a7ff50 217px,#87ff70 225px,#36ffc1 227px,#36ffc1 228px,#66ff90 233px,#a0ff56 237px,#aaff4d 239px,#94ff63 245px,#97ff60 248px,#80ff77 249px,#53ffa4 250px,#40ffb7 251px,#40ffb7 252px,#6dff8a 256px,#b1ff46 260px,#c1ff36 264px,#90ff66 268px,#83ff73 272px,#30ffc7 274px,#36ffc1 277px,#aaff4d 288px,#87ff70 296px,#2cffca 298px,#2cffca 300px,#a0ff56 310px,#aaff4d 312px,#97ff60 319px,#80ff77 320px,#4dffaa 321px,#33ffc4 322px,#36ffc1 324px,#43ffb4 326px,#b1ff46 335px,#97ff60 343px,#3cffba 345px,#33ffc4 346px,#3cffba 349px,#a4ff53 357px,#b1ff46 359px,#94ff63 367px,#33ffc4 369px,#40ffb7 373px,#a4ff53 381px,#b1ff46 383px,#97ff60 390px,#83ff73 391px,#50ffa7 392px,#33ffc4 393px,#43ffb4 397px,#adff49 406px,#90ff66 414px,#3cffba 416px,#33ffc4 418px,#50ffa7 422px,#b1ff46 430px,#8aff6d 438px,#2cffca 440px,#46ffb1 445px,#adff49 454px,#90ff66 461px,#7dff7a 462px,#4dffaa 463px,#30ffc7 464px,#49ffad 469px,#b1ff46 477px,#94ff63 485px,#43ffb4 487px,#36ffc1 489px,#7aff7d 497px,#b7ff40 501px,#90ff66 509px,#33ffc4"></i></div>
<svg width="1245" height="2500" viewBox="0 0 1245 2500">
<defs>

</defs>
<text x="4.2" y="38.6" font-size="40.5" text-anchor="start" font-family='"Liberation Sans", sans-serif' font-weight="bold" >A</text>
<path d="M112.5,276.6 L114.8,275.5 L117.3,271.0 L119.9,268.5 L123.1,269.4 L125.7,265.9 L128.3,260.8 L131.5,256.5 L134.4,255.0 L137.3,252.2 L139.8,246.6 L142.4,244.4 L145.0,245.3 L148.2,246.0 L150.8,242.8 L153.3,241.2 L156.5,244.4 L159.8,245.3 L163.0,246.2 L165.5,249.8 L167.9,257.3 L170.0,259.5 L172.0,262.7 L174.8,265.0 L176.9,270.4 L178.7,280.0 L182.2,282.0 L185.5,284.3 L188.7,287.8 L190.6,289.0 L193.2,288.7 L195.7,290.7 L197.7,291.6 L199.6,294.8 L202.2,296.7 L204.4,297.6 L206.0,295.5 L209.2,298.7 L212.1,301.0 L215.0,298.0 L217.6,297.1 L220.8,298.0 L223.6,298.9 L226.6,295.8 L229.8,296.7 L232.4,297.4 L234.9,298.4 L239.4,295.8 L241.4,297.4 L244.6,298.9 L247.8,296.1 L250.4,292.9 L252.9,293.5 L256.1,294.2 L258.7,291.6 L259.6,289.9 L262.2,287.8 L264.8,286.5 L267.3,289.0 L269.9,288.1 L272.5,283.9 L275.7,280.9 L279.6,279.4 L281.5,276.2 L283.4,274.9 L286.0,277.5 L288.6,279.4 L291.8,280.0 L294.3,282.0 L296.9,285.2 L298.8,291.0 L300.4,292.5 L302.7,291.2 L305.3,292.9 L307.8,293.8 L311.0,292.9 L313.6,284.5 L316.2,274.3 L319.4,264.0 L322.0,253.7 L324.5,242.1 L326.6,224.9 L329.8,212.1 L333.1,201.8 L335.0,191.5 L338.8,168.4 L342.7,147.8 L346.5,122.1 L349.8,102.8 L351.7,95.1 L353.0,92.8 L354.9,95.8 L356.8,98.7 L359.4,96.4 L362.0,91.3 L364.3,86.1 L366.9,83.6 L368.7,77.1 L370.7,66.8 L372.2,60.4 L373.5,58.1 L375.5,61.1 L377.1,68.1 L378.7,83.6 L380.0,109.3 L381.5,135.0 L383.2,160.7 L384.8,186.4 L386.1,212.1 L387.0,224.9 L388.5,248.6 L390.1,267.8 L392.0,287.1 L393.9,302.5 L396.5,318.0 L397.6,327.8 L400.1,334.0 L402.7,335.3 L405.3,338.1 L407.9,341.3 L410.2,344.8 L413.6,345.8 L416.8,348.1 L419.4,351.0 L421.3,354.2 L423.9,354.2 L426.5,353.5 L429.1,356.4 L432.0,360.0 L434.8,356.4 L437.7,356.4 L440.0,358.4 L442.6,361.0 L445.1,362.8 L447.9,361.2 L450.3,364.8 L453.5,369.0 L456.4,370.5 L459.3,370.5 L461.2,368.3 L463.1,372.8 L465.0,375.1 L467.6,373.1 L470.8,372.6 L473.4,374.4 L476.6,376.7 L479.2,375.4 L481.7,373.8 L484.3,376.0 L486.5,378.0 L489.5,373.8 L492.0,371.8 L494.6,370.0 L496.5,370.0 L499.1,366.1 L501.7,361.9 L504.2,359.3 L506.8,358.4 L508.7,358.4 L511.3,354.8 L513.9,349.0 L515.8,346.9 L518.4,345.8 L520.3,341.3 L522.2,335.5 L524.8,329.8 L528.0,326.3 L531.2,324.6 L533.8,321.4 L536.4,318.6 L538.9,319.1 L541.5,322.0 L544.7,321.1 L547.9,320.8 L550.5,322.7 L553.1,324.6 L555.0,324.0 L556.9,320.0 L559.3,319.3 L561.7,322.4 L564.1,323.4 L566.5,322.2 L568.9,321.6 L571.8,323.9 L575.0,328.0 L578.1,325.8 L581.4,323.6 L584.3,322.2 L586.7,323.2 L588.5,323.6" fill="none" stroke="#176aad" stroke-width="2.3" stroke-linejoin="round" stroke-linecap="butt"/>
<rect x="90.5" y="43.8" width="521.7" height="350.6" fill="none" stroke="#1a1a1a" stroke-width="1.5"/>
<line x1="114.1" y1="394.4" x2="114.1" y2="400.6" stroke="#1a1a1a" stroke-width="1.5"/>
<text x="114.1" y="429.3" font-size="34.3" text-anchor="middle" font-family='"Liberation Serif", serif' font-weight="normal" >0.0</text>
<line x1="245.9" y1="394.4" x2="245.9" y2="400.6" stroke="#1a1a1a" stroke-width="1.5"/>
<text x="245.9" y="429.3" font-size="34.3" text-anchor="middle" font-family='"Liberation Serif", serif' font-weight="normal" >0.2</text>
<line x1="377.7" y1="394.4" x2="377.7" y2="400.6" stroke="#1a1a1a" stroke-width="1.5"/>
<text x="377.7" y="429.3" font-size="34.3" text-anchor="middle" font-family='"Liberation Serif", serif' font-weight="normal" >0.4</text>
<line x1="509.5" y1="394.4" x2="509.5" y2="400.6" stroke="#1a1a1a" stroke-width="1.5"/>
<text x="509.5" y="429.3" font-size="34.3" text-anchor="middle" font-family='"Liberation Serif", serif' font-weight="normal" >0.6</text>
<text x="351.4" y="467.0" font-size="34.3" text-anchor="middle" font-family='"Liberation Serif", serif' font-weight="normal" >Time/s</text>
<line x1="84.3" y1="131.1" x2="90.5" y2="131.1" stroke="#1a1a1a" stroke-width="1.5"/>
<text x="77.7" y="143.0" font-size="34.3" text-anchor="end" font-family='"Liberation Serif", serif' font-weight="normal" >1</text>
<line x1="84.3" y1="259.4" x2="90.5" y2="259.4" stroke="#1a1a1a" stroke-width="1.5"/>
<text x="77.7" y="271.3" font-size="34.3" text-anchor="end" font-family='"Liberation Serif", serif' font-weight="normal" >0</text>
<line x1="84.3" y1="387.6" x2="90.5" y2="387.6" stroke="#1a1a1a" stroke-width="1.5"/>
<text x="77.7" y="399.5" font-size="34.3" text-anchor="end" font-family='"Liberation Serif", serif' font-weight="normal" >−1</text>
<text x="351.4" y="34.0" font-size="40.7" text-anchor="middle" font-family='"Liberation Serif", serif' font-weight="normal" >Type: F</text>
<text x="0.0" y="0.0" font-size="34.3" text-anchor="middle" font-family='"Liberation Serif", serif' font-weight="normal" transform="translate(26.4,221.4) rotate(-90)">U/mV</text>
<rect x="716.7" y="43.8" width="521.3" height="350.6" fill="none" stroke="#1a1a1a" stroke-width="1.5"/>
<line x1="717.0" y1="394.4" x2="717.0" y2="400.6" stroke="#1a1a1a" stroke-width="1.5"/>
<text x="717.0" y="429.3" font-size="34.3" text-anchor="middle" font-family='"Liberation Serif", serif' font-weight="normal" >0.0</text>
<line x1="861.8" y1="394.4" x2="861.8" y2="400.6" stroke="#1a1a1a" stroke-width="1.5"/>
<text x="861.8" y="429.3" font-size="34.3" text-anchor="middle" font-family='"Liberation Serif", serif' font-weight="normal" >0.2</text>
<line x1="1006.6" y1="394.4" x2="1006.6" y2="400.6" stroke="#1a1a1a" stroke-width="1.5"/>
<text x="1006.6" y="429.3" font-size="34.3" text-anchor="middle" font-family='"Liberation Serif", serif' font-weight="normal" >0.4</text>
<line x1="1151.4" y1="394.4" x2="1151.4" y2="400.6" stroke="#1a1a1a" stroke-width="1.5"/>
<text x="1151.4" y="429.3" font-size="34.3" text-anchor="middle" font-family='"Liberation Serif", serif' font-weight="normal" >0.6</text>
<text x="977.4" y="467.0" font-size="34.3" text-anchor="middle" font-family='"Liberation Serif", serif' font-weight="normal" >Time/s</text>
<line x1="710.5" y1="102.6" x2="716.7" y2="102.6" stroke="#1a1a1a" stroke-width="1.5"/>
<text x="703.9" y="114.5" font-size="34.3" text-anchor="end" font-family='"Liberation Serif", serif' font-weight="normal" >150</text>
<line x1="710.5" y1="200.5" x2="716.7" y2="200.5" stroke="#1a1a1a" stroke-width="1.5"/>
<text x="703.9" y="212.4" font-size="34.3" text-anchor="end" font-family='"Liberation Serif", serif' font-weight="normal" >100</text>
<line x1="710.5" y1="298.4" x2="716.7" y2="298.4" stroke="#1a1a1a" stroke-width="1.5"/>
<text x="703.9" y="310.3" font-size="34.3" text-anchor="end" font-family='"Liberation Serif", serif' font-weight="normal" >50</text>
<text x="977.4" y="34.0" font-size="40.7" text-anchor="middle" font-family='"Liberation Serif", serif' font-weight="normal" >Type: F</text>
<text x="0.0" y="0.0" font-size="34.3" text-anchor="middle" font-family='"Liberation Serif", serif' font-weight="normal" transform="translate(638.7,221.1) rotate(-90)">Frequency/Hz</text>
<text x="5.0" y="518.6" font-size="40.5" text-anchor="start" font-family='"Liberation Sans", sans-serif' font-weight="bold" >B</text>
<path d="M135.5,830.0 L137.9,829.4 L140.4,826.8 L143.0,826.2 L144.9,827.5 L146.8,832.0 L148.8,832.6 L150.7,828.1 L152.6,825.5 L155.2,827.5 L157.8,828.8 L159.4,830.4 L161.2,827.5 L162.9,829.4 L165.1,828.8 L166.8,830.0 L168.4,832.6 L170.2,830.0 L172.8,830.4 L175.1,828.8 L177.0,827.5 L179.0,830.0 L180.9,833.5 L182.8,830.0 L184.4,827.5 L186.7,830.0 L188.6,831.7 L191.2,830.9 L193.8,830.0 L196.3,828.4 L198.9,830.0 L200.8,831.7 L202.8,829.4 L204.7,826.8 L207.2,825.8 L209.8,829.4 L212.4,829.4 L215.0,826.2 L216.9,826.6 L218.8,825.5 L220.4,826.8 L222.0,824.9 L224.0,827.1 L226.5,828.4 L229.1,829.1 L231.4,826.6 L233.6,825.5 L235.8,823.6 L238.1,820.4 L240.0,815.3 L242.2,813.7 L244.5,812.0 L247.1,812.9 L249.4,810.1 L251.6,807.3 L254.2,807.3 L256.1,806.3 L258.7,803.1 L261.2,802.2 L263.2,804.3 L265.1,806.9 L267.0,809.9 L269.6,808.6 L271.5,808.8 L273.4,807.8 L275.0,808.8 L276.5,813.3 L278.6,810.8 L280.4,805.0 L282.1,801.8 L283.7,801.4 L285.3,805.0 L286.8,812.7 L288.5,816.5 L290.4,817.8 L293.0,822.3 L295.6,826.2 L298.1,829.4 L300.7,829.1 L302.6,827.9 L304.6,826.6 L306.9,830.0 L309.4,832.6 L311.6,830.7 L314.2,832.2 L316.8,834.3 L319.3,834.8 L321.9,835.8 L324.1,833.0 L326.4,833.5 L327.9,833.0 L330.0,835.6 L332.6,833.9 L335.1,833.5 L337.3,834.5 L339.9,839.0 L342.5,843.5 L344.4,852.5 L346.3,857.7 L348.9,862.8 L350.8,871.8 L352.1,878.2 L353.1,881.1 L354.7,876.9 L356.2,862.8 L357.5,843.5 L358.8,817.8 L360.1,792.1 L361.4,766.4 L362.4,728.7 L363.9,683.7 L365.2,638.7 L366.6,605.0 L367.7,582.5 L368.8,569.6 L369.7,569.0 L371.1,573.5 L372.2,593.7 L373.3,627.5 L374.4,672.4 L375.6,717.4 L376.5,751.2 L377.4,824.3 L378.1,847.4 L379.1,857.7 L380.1,862.2 L381.4,856.4 L383.0,848.7 L384.9,842.2 L387.1,837.8 L389.1,838.7 L390.9,841.6 L393.0,838.7 L395.2,839.9 L397.7,840.7 L399.7,841.6 L401.6,838.7 L403.5,842.2 L406.1,845.5 L408.4,845.1 L410.6,842.2 L412.3,839.9 L414.1,842.9 L416.4,845.5 L418.3,845.8 L420.2,843.5 L422.1,841.6 L424.1,842.9 L425.0,843.3 L427.6,843.9 L429.9,840.7 L431.4,843.3 L433.7,842.2 L435.5,843.3 L437.2,843.9 L439.4,841.3 L441.7,838.8 L444.3,837.5 L446.2,842.0 L448.8,842.6 L451.3,839.4 L453.5,838.1 L455.8,840.0 L458.2,841.7 L460.7,840.7 L463.6,839.4 L466.1,837.5 L468.1,841.7 L470.0,841.7 L472.6,839.4 L475.1,838.1 L477.0,837.5 L479.6,840.0 L481.8,843.0 L484.1,838.1 L486.7,836.6 L488.6,838.1 L491.2,841.7 L493.8,840.0 L495.9,837.5 L498.3,839.4 L500.8,840.0 L503.4,843.0 L505.7,840.0 L507.9,837.9 L509.8,839.4 L512.1,840.0 L514.3,841.7 L516.5,838.8 L518.6,837.5 L520.7,838.8 L522.9,841.3 L525.2,842.6 L527.8,839.4 L529.7,839.1 L532.3,840.7 L534.2,843.3 L536.2,846.1 L538.7,842.0 L540.7,841.3 L542.6,842.2 L544.8,843.3 L546.8,845.8 L549.0,842.0 L550.9,840.7 L553.5,843.3 L555.8,847.1 L558.7,844.5 L561.2,841.3 L563.8,839.1 L566.4,838.8 L568.9,836.8 L571.5,831.7 L574.1,829.1 L576.6,828.9 L579.2,827.2 L581.8,824.6 L585.0,823.3 L586.6,824.1 L589.4,825.3 L591.4,822.5 L593.4,819.6 L595.4,821.7 L597.0,825.3 L599.4,823.3 L601.4,823.6" fill="none" stroke="#176aad" stroke-width="2.3" stroke-linejoin="round" stroke-linecap="butt"/>
<rect x="114.5" y="554.0" width="508.8" height="343.3" fill="none" stroke="#1a1a1a" stroke-width="1.5"/>
<line x1="136.2" y1="897.3" x2="136.2" y2="903.5" stroke="#1a1a1a" stroke-width="1.5"/>
<text x="136.2" y="931.5" font-size="34.3" text-anchor="middle" font-family='"Liberation Serif", serif' font-weight="normal" >0.0</text>
<line x1="265.5" y1="897.3" x2="265.5" y2="903.5" stroke="#1a1a1a" stroke-width="1.5"/>
<text x="265.5" y="931.5" font-size="34.3" text-anchor="middle" font-family='"Liberation Serif", serif' font-weight="normal" >0.2</text>
<line x1="394.8" y1="897.3" x2="394.8" y2="903.5" stroke="#1a1a1a" stroke-width="1.5"/>
<text x="394.8" y="931.5" font-size="34.3" text-anchor="middle" font-family='"Liberation Serif", serif' font-weight="normal" >0.4</text>
<line x1="524.1" y1="897.3" x2="524.1" y2="903.5" stroke="#1a1a1a" stroke-width="1.5"/>
<text x="524.1" y="931.5" font-size="34.3" text-anchor="middle" font-family='"Liberation Serif", serif' font-weight="normal" >0.6</text>
<text x="368.9" y="968.5" font-size="34.3" text-anchor="middle" font-family='"Liberation Serif", serif' font-weight="normal" >Time/s</text>
<line x1="108.3" y1="569.5" x2="114.5" y2="569.5" stroke="#1a1a1a" stroke-width="1.5"/>
<text x="101.7" y="581.4" font-size="34.3" text-anchor="end" font-family='"Liberation Serif", serif' font-weight="normal" >1.0</text>
<line x1="108.3" y1="670.4" x2="114.5" y2="670.4" stroke="#1a1a1a" stroke-width="1.5"/>
<text x="101.7" y="682.3" font-size="34.3" text-anchor="end" font-family='"Liberation Serif", serif' font-weight="normal" >0.5</text>
<line x1="108.3" y1="771.4" x2="114.5" y2="771.4" stroke="#1a1a1a" stroke-width="1.5"/>
<text x="101.7" y="783.3" font-size="34.3" text-anchor="end" font-family='"Liberation Serif", serif' font-weight="normal" >0.0</text>
<line x1="108.3" y1="872.6" x2="114.5" y2="872.6" stroke="#1a1a1a" stroke-width="1.5"/>
<text x="101.7" y="884.5" font-size="34.3" text-anchor="end" font-family='"Liberation Serif", serif' font-weight="normal" >−0.5</text>
<text x="368.9" y="544.2" font-size="40.7" text-anchor="middle" font-family='"Liberation Serif", serif' font-weight="normal" >Type: N</text>
<text x="0.0" y="0.0" font-size="34.3" text-anchor="middle" font-family='"Liberation Serif", serif' font-weight="normal" transform="translate(26.4,727.9) rotate(-90)">U/mV</text>
<rect x="726.8" y="554.0" width="511.2" height="343.3" fill="none" stroke="#1a1a1a" stroke-width="1.5"/>
<line x1="727.1" y1="897.3" x2="727.1" y2="903.5" stroke="#1a1a1a" stroke-width="1.5"/>
<text x="727.1" y="931.5" font-size="34.3" text-anchor="middle" font-family='"Liberation Serif", serif' font-weight="normal" >0.0</text>
<line x1="869.1" y1="897.3" x2="869.1" y2="903.5" stroke="#1a1a1a" stroke-width="1.5"/>
<text x="869.1" y="931.5" font-size="34.3" text-anchor="middle" font-family='"Liberation Serif", serif' font-weight="normal" >0.2</text>
<line x1="1011.1" y1="897.3" x2="1011.1" y2="903.5" stroke="#1a1a1a" stroke-width="1.5"/>
<text x="1011.1" y="931.5" font-size="34.3" text-anchor="middle" font-family='"Liberation Serif", serif' font-weight="normal" >0.4</text>
<line x1="1153.1" y1="897.3" x2="1153.1" y2="903.5" stroke="#1a1a1a" stroke-width="1.5"/>
<text x="1153.1" y="931.5" font-size="34.3" text-anchor="middle" font-family='"Liberation Serif", serif' font-weight="normal" >0.6</text>
<text x="982.4" y="968.5" font-size="34.3" text-anchor="middle" font-family='"Liberation Serif", serif' font-weight="normal" >Time/s</text>
<line x1="720.6" y1="611.5" x2="726.8" y2="611.5" stroke="#1a1a1a" stroke-width="1.5"/>
<text x="714.0" y="623.4" font-size="34.3" text-anchor="end" font-family='"Liberation Serif", serif' font-weight="normal" >150</text>
<line x1="720.6" y1="707.4" x2="726.8" y2="707.4" stroke="#1a1a1a" stroke-width="1.5"/>
<text x="714.0" y="719.3" font-size="34.3" text-anchor="end" font-family='"Liberation Serif", serif' font-weight="normal" >100</text>
<line x1="720.6" y1="803.3" x2="726.8" y2="803.3" stroke="#1a1a1a" stroke-width="1.5"/>
<text x="714.0" y="815.2" font-size="34.3" text-anchor="end" font-family='"Liberation Serif", serif' font-weight="normal" >50</text>
<text x="982.4" y="544.2" font-size="40.7" text-anchor="middle" font-family='"Liberation Serif", serif' font-weight="normal" >Type: N</text>
<text x="0.0" y="0.0" font-size="34.3" text-anchor="middle" font-family='"Liberation Serif", serif' font-weight="normal" transform="translate(648.8,727.6) rotate(-90)">Frequency/Hz</text>
<text x="5.0" y="999.2" font-size="40.5" text-anchor="start" font-family='"Liberation Sans", sans-serif' font-weight="bold" >C</text>
<path d="M112.6,1227.1 L114.1,1229.9 L116.1,1231.2 L118.6,1230.3 L120.6,1228.7 L122.5,1229.7 L125.1,1233.5 L127.6,1236.1 L130.2,1237.4 L133.2,1238.4 L135.3,1241.9 L137.0,1244.1 L139.2,1242.5 L141.4,1240.6 L143.1,1238.7 L146.3,1238.0 L148.8,1239.3 L151.1,1240.2 L154.0,1238.7 L157.2,1235.8 L159.1,1234.2 L161.0,1236.1 L164.0,1237.4 L166.2,1235.8 L168.8,1231.0 L170.7,1224.5 L172.6,1215.5 L174.5,1206.5 L176.5,1199.5 L179.0,1195.6 L181.6,1193.1 L184.8,1190.9 L187.4,1187.3 L190.0,1183.4 L192.5,1179.3 L194.8,1176.3 L197.0,1175.7 L199.6,1177.2 L201.8,1180.2 L203.5,1183.7 L206.0,1184.1 L209.0,1185.0 L211.6,1183.7 L213.7,1186.0 L216.3,1190.5 L218.9,1193.7 L221.4,1195.0 L224.0,1197.8 L226.6,1202.7 L228.5,1207.2 L230.4,1209.8 L233.0,1213.6 L234.9,1218.8 L236.9,1224.5 L239.1,1229.0 L241.4,1231.6 L243.9,1236.1 L246.5,1240.6 L248.8,1245.1 L250.0,1246.6 L252.6,1246.4 L254.5,1244.8 L257.1,1246.1 L259.6,1250.2 L262.9,1254.1 L265.4,1258.0 L268.0,1262.4 L270.6,1266.3 L273.1,1268.9 L275.1,1268.9 L277.6,1266.9 L280.8,1265.7 L283.2,1264.1 L284.7,1259.2 L286.6,1254.7 L288.6,1251.5 L291.1,1248.3 L294.3,1244.8 L296.9,1243.6 L298.8,1241.9 L301.4,1241.5 L304.0,1239.7 L306.5,1236.7 L308.9,1231.6 L310.7,1232.2 L312.7,1233.5 L314.9,1231.2 L316.8,1225.2 L318.8,1216.8 L320.4,1210.7 L322.6,1207.2 L325.2,1205.0 L327.8,1202.7 L329.9,1193.7 L332.0,1182.1 L333.8,1169.3 L335.5,1156.4 L337.1,1146.6 L338.6,1136.9 L340.0,1127.3 L341.4,1116.7 L342.6,1107.0 L343.9,1100.3 L345.8,1094.5 L347.7,1085.8 L349.3,1078.1 L350.6,1071.9 L351.6,1069.9 L352.8,1069.0 L354.0,1070.4 L355.1,1075.2 L356.4,1083.9 L357.6,1095.5 L358.8,1109.0 L359.8,1122.5 L360.5,1136.9 L361.2,1149.5 L362.4,1182.1 L363.3,1201.4 L364.4,1227.1 L365.4,1252.8 L366.7,1278.5 L368.0,1297.8 L369.3,1314.5 L370.8,1327.3 L372.1,1335.1 L373.6,1336.3 L375.3,1328.6 L377.2,1320.9 L379.2,1317.1 L381.1,1313.2 L383.0,1307.4 L384.9,1301.0 L386.9,1296.5 L388.5,1293.7 L390.3,1292.0 L392.0,1292.9 L393.9,1293.9 L396.2,1291.4 L398.8,1289.8 L400.0,1290.0 L402.3,1293.3 L404.5,1296.1 L407.1,1294.5 L409.6,1297.1 L412.2,1301.0 L414.8,1304.2 L417.3,1304.8 L419.9,1306.1 L423.1,1308.0 L426.3,1308.0 L429.3,1304.8 L432.1,1301.6 L435.3,1301.6 L438.6,1300.7 L441.1,1298.4 L443.4,1293.3 L445.2,1290.4 L447.6,1291.3 L450.1,1292.6 L452.7,1291.7 L455.9,1291.3 L458.9,1291.7 L461.0,1287.5 L463.2,1284.0 L465.8,1283.2 L468.8,1281.4 L470.7,1278.5 L472.2,1271.4 L473.9,1263.7 L475.8,1255.3 L477.8,1251.5 L480.3,1250.2 L482.9,1250.6 L485.5,1252.8 L488.0,1256.6 L490.0,1262.4 L491.9,1269.5 L494.1,1275.0 L496.1,1272.7 L498.3,1265.6 L500.9,1257.3 L503.5,1250.2 L505.4,1247.0 L507.7,1250.2 L509.9,1254.7 L511.8,1259.8 L514.1,1263.7 L516.3,1268.2 L518.2,1272.0 L520.8,1274.6 L523.4,1279.1 L525.9,1284.3 L527.9,1290.7 L529.8,1298.4 L531.7,1304.8 L533.7,1310.6 L535.6,1315.1 L537.5,1316.4 L540.1,1314.8 L542.0,1317.0 L543.9,1321.5 L546.5,1328.0 L549.1,1331.8 L551.0,1336.9 L552.9,1344.7 L553.7,1345.8 L555.7,1353.0 L557.3,1361.0 L558.6,1368.3 L559.8,1375.5 L561.0,1381.9 L562.2,1387.1 L563.8,1388.4 L565.0,1385.1 L566.6,1379.5 L568.2,1373.1 L569.8,1365.1 L571.4,1356.2 L573.0,1351.4 L575.0,1353.8 L577.0,1357.8 L579.0,1361.0 L581.0,1362.2 L583.5,1360.6 L585.9,1358.2 L588.3,1355.0" fill="none" stroke="#176aad" stroke-width="2.3" stroke-linejoin="round" stroke-linecap="butt"/>
<rect x="90.5" y="1054.0" width="521.7" height="350.8" fill="none" stroke="#1a1a1a" stroke-width="1.5"/>
<line x1="114.1" y1="1404.8" x2="114.1" y2="1411.0" stroke="#1a1a1a" stroke-width="1.5"/>
<text x="114.1" y="1439.4" font-size="34.3" text-anchor="middle" font-family='"Liberation Serif", serif' font-weight="normal" >0.0</text>
<line x1="245.9" y1="1404.8" x2="245.9" y2="1411.0" stroke="#1a1a1a" stroke-width="1.5"/>
<text x="245.9" y="1439.4" font-size="34.3" text-anchor="middle" font-family='"Liberation Serif", serif' font-weight="normal" >0.2</text>
<line x1="377.7" y1="1404.8" x2="377.7" y2="1411.0" stroke="#1a1a1a" stroke-width="1.5"/>
<text x="377.7" y="1439.4" font-size="34.3" text-anchor="middle" font-family='"Liberation Serif", serif' font-weight="normal" >0.4</text>
<line x1="509.5" y1="1404.8" x2="509.5" y2="1411.0" stroke="#1a1a1a" stroke-width="1.5"/>
<text x="509.5" y="1439.4" font-size="34.3" text-anchor="middle" font-family='"Liberation Serif", serif' font-weight="normal" >0.6</text>
<text x="351.4" y="1477.6" font-size="34.3" text-anchor="middle" font-family='"Liberation Serif", serif' font-weight="normal" >Time/s</text>
<line x1="84.3" y1="1104.0" x2="90.5" y2="1104.0" stroke="#1a1a1a" stroke-width="1.5"/>
<text x="77.7" y="1115.9" font-size="34.3" text-anchor="end" font-family='"Liberation Serif", serif' font-weight="normal" >1</text>
<line x1="84.3" y1="1208.5" x2="90.5" y2="1208.5" stroke="#1a1a1a" stroke-width="1.5"/>
<text x="77.7" y="1220.4" font-size="34.3" text-anchor="end" font-family='"Liberation Serif", serif' font-weight="normal" >0</text>
<line x1="84.3" y1="1313.0" x2="90.5" y2="1313.0" stroke="#1a1a1a" stroke-width="1.5"/>
<text x="77.7" y="1324.9" font-size="34.3" text-anchor="end" font-family='"Liberation Serif", serif' font-weight="normal" >−1</text>
<text x="351.4" y="1043.9" font-size="40.7" text-anchor="middle" font-family='"Liberation Serif", serif' font-weight="normal" >Type: Q</text>
<text x="0.0" y="0.0" font-size="34.3" text-anchor="middle" font-family='"Liberation Serif", serif' font-weight="normal" transform="translate(26.4,1231.7) rotate(-90)">U/mV</text>
<rect x="716.7" y="1054.0" width="521.3" height="350.8" fill="none" stroke="#1a1a1a" stroke-width="1.5"/>
<line x1="717.0" y1="1404.8" x2="717.0" y2="1411.0" stroke="#1a1a1a" stroke-width="1.5"/>
<text x="717.0" y="1439.4" font-size="34.3" text-anchor="middle" font-family='"Liberation Serif", serif' font-weight="normal" >0.0</text>
<line x1="861.8" y1="1404.8" x2="861.8" y2="1411.0" stroke="#1a1a1a" stroke-width="1.5"/>
<text x="861.8" y="1439.4" font-size="34.3" text-anchor="middle" font-family='"Liberation Serif", serif' font-weight="normal" >0.2</text>
<line x1="1006.6" y1="1404.8" x2="1006.6" y2="1411.0" stroke="#1a1a1a" stroke-width="1.5"/>
<text x="1006.6" y="1439.4" font-size="34.3" text-anchor="middle" font-family='"Liberation Serif", serif' font-weight="normal" >0.4</text>
<line x1="1151.4" y1="1404.8" x2="1151.4" y2="1411.0" stroke="#1a1a1a" stroke-width="1.5"/>
<text x="1151.4" y="1439.4" font-size="34.3" text-anchor="middle" font-family='"Liberation Serif", serif' font-weight="normal" >0.6</text>
<text x="977.4" y="1477.6" font-size="34.3" text-anchor="middle" font-family='"Liberation Serif", serif' font-weight="normal" >Time/s</text>
<line x1="710.5" y1="1112.8" x2="716.7" y2="1112.8" stroke="#1a1a1a" stroke-width="1.5"/>
<text x="703.9" y="1124.7" font-size="34.3" text-anchor="end" font-family='"Liberation Serif", serif' font-weight="normal" >150</text>
<line x1="710.5" y1="1210.8" x2="716.7" y2="1210.8" stroke="#1a1a1a" stroke-width="1.5"/>
<text x="703.9" y="1222.7" font-size="34.3" text-anchor="end" font-family='"Liberation Serif", serif' font-weight="normal" >100</text>
<line x1="710.5" y1="1308.8" x2="716.7" y2="1308.8" stroke="#1a1a1a" stroke-width="1.5"/>
<text x="703.9" y="1320.7" font-size="34.3" text-anchor="end" font-family='"Liberation Serif", serif' font-weight="normal" >50</text>
<text x="977.4" y="1043.9" font-size="40.7" text-anchor="middle" font-family='"Liberation Serif", serif' font-weight="normal" >Type: Q</text>
<text x="0.0" y="0.0" font-size="34.3" text-anchor="middle" font-family='"Liberation Serif", serif' font-weight="normal" transform="translate(638.7,1231.4) rotate(-90)">Frequency/Hz</text>
<text x="5.0" y="1521.2" font-size="40.5" text-anchor="start" font-family='"Liberation Sans", sans-serif' font-weight="bold" >D</text>
<path d="M112.6,1764.5 L114.8,1766.8 L117.3,1767.9 L119.3,1770.0 L121.2,1774.5 L123.1,1779.7 L125.1,1784.2 L126.3,1786.4 L128.0,1782.2 L129.8,1777.1 L131.5,1772.6 L133.2,1770.9 L135.0,1773.9 L136.6,1779.0 L138.3,1784.8 L140.5,1788.0 L142.4,1784.8 L144.3,1778.4 L146.0,1774.8 L147.8,1774.5 L150.1,1776.5 L152.4,1778.1 L154.6,1778.1 L157.2,1775.2 L159.8,1771.3 L162.3,1767.5 L164.9,1763.6 L167.5,1759.4 L170.4,1756.8 L172.6,1753.7 L175.2,1749.5 L177.8,1746.3 L180.3,1745.6 L183.5,1746.3 L186.7,1748.8 L190.0,1750.4 L191.9,1747.6 L193.8,1741.8 L195.7,1736.0 L197.7,1732.1 L199.6,1731.1 L201.8,1733.7 L203.8,1739.2 L205.6,1743.7 L207.7,1746.0 L209.9,1743.4 L212.4,1743.1 L215.0,1745.0 L217.2,1749.5 L219.5,1756.5 L221.4,1764.3 L223.1,1769.4 L225.3,1768.1 L227.5,1765.3 L229.5,1757.8 L231.7,1750.1 L234.3,1744.3 L236.9,1741.8 L239.4,1740.5 L241.4,1744.3 L243.3,1748.2 L245.2,1751.4 L247.1,1757.8 L249.1,1764.3 L250.0,1767.5 L252.6,1768.8 L254.9,1768.1 L256.4,1761.7 L259.0,1756.5 L261.3,1753.3 L263.5,1758.5 L266.1,1760.4 L269.0,1761.9 L271.2,1759.1 L273.8,1755.3 L276.3,1753.3 L278.9,1754.2 L281.5,1754.0 L284.1,1756.5 L286.6,1761.0 L289.2,1765.5 L291.1,1764.9 L293.1,1759.1 L295.0,1753.3 L297.6,1750.1 L299.5,1752.7 L301.4,1758.5 L303.3,1763.0 L305.3,1764.0 L307.2,1761.7 L309.1,1756.5 L311.0,1754.0 L313.2,1755.3 L314.9,1756.5 L316.2,1761.7 L317.9,1766.8 L320.0,1770.4 L322.6,1768.8 L325.2,1768.1 L327.1,1766.8 L329.0,1763.6 L331.0,1757.8 L332.2,1751.4 L333.8,1738.6 L335.5,1725.7 L337.1,1714.1 L338.4,1706.4 L340.0,1696.3 L341.9,1691.4 L343.9,1685.7 L345.1,1678.9 L346.3,1669.3 L347.2,1656.7 L348.2,1642.3 L349.2,1627.8 L350.1,1613.4 L351.1,1598.9 L352.0,1589.3 L352.8,1584.0 L354.0,1585.9 L355.1,1592.2 L355.9,1603.7 L356.7,1618.2 L357.3,1637.5 L357.8,1656.7 L358.4,1676.0 L359.0,1695.3 L359.5,1712.9 L360.0,1732.1 L360.5,1751.4 L361.3,1777.1 L362.1,1802.8 L362.9,1819.3 L363.5,1833.7 L364.1,1846.3 L364.9,1857.8 L365.8,1867.5 L367.0,1875.2 L368.9,1880.0 L371.3,1883.4 L373.3,1888.7 L375.2,1894.5 L376.6,1899.3 L378.1,1901.7 L380.0,1902.9 L381.9,1901.2 L384.3,1899.8 L386.3,1896.4 L388.2,1889.6 L390.1,1882.9 L392.0,1875.2 L394.0,1867.5 L395.7,1859.8 L397.3,1850.1 L398.8,1840.5 L400.2,1828.9 L401.5,1819.3 L402.5,1809.6 L403.6,1792.5 L405.1,1779.7 L406.7,1772.6 L408.4,1768.8 L410.3,1767.1 L412.9,1767.9 L415.4,1764.9 L418.0,1761.4 L420.6,1759.1 L423.8,1756.3 L426.3,1756.5 L429.3,1754.6 L431.5,1752.7 L433.7,1755.5 L436.6,1756.5 L439.2,1758.1 L441.4,1759.8 L443.7,1759.8 L446.3,1761.0 L448.8,1762.7 L451.1,1763.6 L453.7,1762.3 L455.5,1760.7 L457.2,1763.6 L458.9,1769.4 L460.4,1775.8 L462.3,1782.2 L464.3,1785.5 L466.2,1785.5 L467.9,1782.2 L469.4,1777.1 L470.9,1773.3 L472.6,1771.7 L474.3,1774.5 L476.1,1779.7 L477.8,1783.5 L479.7,1785.8 L482.0,1784.2 L483.5,1780.3 L485.1,1775.2 L486.7,1773.3 L488.4,1775.2 L490.0,1780.3 L491.9,1786.1 L493.6,1791.2 L494.8,1793.6 L497.0,1792.8 L499.0,1791.5 L500.5,1787.4 L502.2,1781.6 L503.8,1775.8 L505.6,1772.6 L507.7,1772.0 L509.9,1774.5 L512.4,1778.1 L514.6,1774.5 L516.7,1770.0 L518.5,1766.8 L520.5,1765.5 L522.3,1768.1 L524.0,1770.9 L526.6,1771.7 L528.5,1768.1 L530.4,1763.6 L533.0,1759.8 L535.6,1758.9 L537.5,1761.0 L539.4,1763.2 L541.4,1764.3 L543.9,1761.7 L547.1,1759.1 L549.1,1760.1 L551.6,1759.4 L554.2,1759.1 L556.8,1760.4 L560.0,1761.0 L560.9,1761.4 L562.9,1762.2 L565.3,1759.8 L567.3,1757.3 L569.4,1756.9 L571.4,1759.4 L573.4,1763.4 L575.4,1767.4 L577.8,1769.8 L579.8,1768.2 L581.8,1764.6 L583.4,1760.2 L585.0,1756.5 L586.6,1755.3 L588.6,1755.5" fill="none" stroke="#176aad" stroke-width="2.3" stroke-linejoin="round" stroke-linecap="butt"/>
<rect x="90.5" y="1568.8" width="521.7" height="350.8" fill="none" stroke="#1a1a1a" stroke-width="1.5"/>
<line x1="114.1" y1="1919.6" x2="114.1" y2="1925.8" stroke="#1a1a1a" stroke-width="1.5"/>
<text x="114.1" y="1954.2" font-size="34.3" text-anchor="middle" font-family='"Liberation Serif", serif' font-weight="normal" >0.0</text>
<line x1="245.9" y1="1919.6" x2="245.9" y2="1925.8" stroke="#1a1a1a" stroke-width="1.5"/>
<text x="245.9" y="1954.2" font-size="34.3" text-anchor="middle" font-family='"Liberation Serif", serif' font-weight="normal" >0.2</text>
<line x1="377.7" y1="1919.6" x2="377.7" y2="1925.8" stroke="#1a1a1a" stroke-width="1.5"/>
<text x="377.7" y="1954.2" font-size="34.3" text-anchor="middle" font-family='"Liberation Serif", serif' font-weight="normal" >0.4</text>
<line x1="509.5" y1="1919.6" x2="509.5" y2="1925.8" stroke="#1a1a1a" stroke-width="1.5"/>
<text x="509.5" y="1954.2" font-size="34.3" text-anchor="middle" font-family='"Liberation Serif", serif' font-weight="normal" >0.6</text>
<text x="351.4" y="1992.4" font-size="34.3" text-anchor="middle" font-family='"Liberation Serif", serif' font-weight="normal" >Time/s</text>
<line x1="84.3" y1="1673.5" x2="90.5" y2="1673.5" stroke="#1a1a1a" stroke-width="1.5"/>
<text x="77.7" y="1685.4" font-size="34.3" text-anchor="end" font-family='"Liberation Serif", serif' font-weight="normal" >0</text>
<line x1="84.3" y1="1783.9" x2="90.5" y2="1783.9" stroke="#1a1a1a" stroke-width="1.5"/>
<text x="77.7" y="1795.8" font-size="34.3" text-anchor="end" font-family='"Liberation Serif", serif' font-weight="normal" >−1</text>
<line x1="84.3" y1="1894.2" x2="90.5" y2="1894.2" stroke="#1a1a1a" stroke-width="1.5"/>
<text x="77.7" y="1906.1" font-size="34.3" text-anchor="end" font-family='"Liberation Serif", serif' font-weight="normal" >−2</text>
<text x="351.4" y="1559.0" font-size="40.7" text-anchor="middle" font-family='"Liberation Serif", serif' font-weight="normal" >Type: S</text>
<text x="0.0" y="0.0" font-size="34.3" text-anchor="middle" font-family='"Liberation Serif", serif' font-weight="normal" transform="translate(26.4,1746.5) rotate(-90)">U/mV</text>
<rect x="716.7" y="1568.8" width="521.3" height="350.8" fill="none" stroke="#1a1a1a" stroke-width="1.5"/>
<line x1="717.0" y1="1919.6" x2="717.0" y2="1925.8" stroke="#1a1a1a" stroke-width="1.5"/>
<text x="717.0" y="1954.2" font-size="34.3" text-anchor="middle" font-family='"Liberation Serif", serif' font-weight="normal" >0.0</text>
<line x1="861.8" y1="1919.6" x2="861.8" y2="1925.8" stroke="#1a1a1a" stroke-width="1.5"/>
<text x="861.8" y="1954.2" font-size="34.3" text-anchor="middle" font-family='"Liberation Serif", serif' font-weight="normal" >0.2</text>
<line x1="1006.6" y1="1919.6" x2="1006.6" y2="1925.8" stroke="#1a1a1a" stroke-width="1.5"/>
<text x="1006.6" y="1954.2" font-size="34.3" text-anchor="middle" font-family='"Liberation Serif", serif' font-weight="normal" >0.4</text>
<line x1="1151.4" y1="1919.6" x2="1151.4" y2="1925.8" stroke="#1a1a1a" stroke-width="1.5"/>
<text x="1151.4" y="1954.2" font-size="34.3" text-anchor="middle" font-family='"Liberation Serif", serif' font-weight="normal" >0.6</text>
<text x="977.4" y="1992.4" font-size="34.3" text-anchor="middle" font-family='"Liberation Serif", serif' font-weight="normal" >Time/s</text>
<line x1="710.5" y1="1627.6" x2="716.7" y2="1627.6" stroke="#1a1a1a" stroke-width="1.5"/>
<text x="703.9" y="1639.5" font-size="34.3" text-anchor="end" font-family='"Liberation Serif", serif' font-weight="normal" >150</text>
<line x1="710.5" y1="1725.6" x2="716.7" y2="1725.6" stroke="#1a1a1a" stroke-width="1.5"/>
<text x="703.9" y="1737.5" font-size="34.3" text-anchor="end" font-family='"Liberation Serif", serif' font-weight="normal" >100</text>
<line x1="710.5" y1="1823.6" x2="716.7" y2="1823.6" stroke="#1a1a1a" stroke-width="1.5"/>
<text x="703.9" y="1835.5" font-size="34.3" text-anchor="end" font-family='"Liberation Serif", serif' font-weight="normal" >50</text>
<text x="977.4" y="1559.0" font-size="40.7" text-anchor="middle" font-family='"Liberation Serif", serif' font-weight="normal" >Type: S</text>
<text x="0.0" y="0.0" font-size="34.3" text-anchor="middle" font-family='"Liberation Serif", serif' font-weight="normal" transform="translate(638.7,1746.2) rotate(-90)">Frequency/Hz</text>
<text x="5.0" y="2043.9" font-size="40.5" text-anchor="start" font-family='"Liberation Sans", sans-serif' font-weight="bold" >E</text>
<path d="M135.5,2289.9 L137.9,2286.9 L140.4,2285.4 L142.7,2286.4 L144.9,2288.2 L146.8,2284.7 L149.2,2281.3 L151.3,2280.2 L153.9,2281.5 L156.5,2279.6 L159.1,2276.1 L161.6,2273.2 L164.2,2271.9 L166.8,2271.0 L169.3,2268.0 L171.9,2265.5 L173.8,2264.2 L176.1,2264.2 L178.3,2260.3 L180.9,2255.2 L183.5,2251.7 L186.0,2250.7 L188.0,2246.8 L189.9,2240.4 L192.5,2236.5 L195.4,2235.3 L197.6,2231.4 L199.5,2226.3 L201.9,2221.1 L204.0,2217.9 L207.2,2215.3 L209.8,2213.7 L211.7,2211.9 L213.4,2205.7 L215.6,2203.8 L217.8,2205.1 L220.1,2207.2 L222.0,2207.0 L224.0,2204.2 L226.3,2205.1 L228.5,2207.0 L230.6,2210.8 L233.0,2213.2 L235.3,2214.4 L237.4,2217.9 L239.6,2223.1 L241.9,2227.6 L244.5,2228.2 L246.4,2231.4 L248.4,2237.8 L250.7,2244.0 L253.3,2244.3 L255.8,2243.6 L258.0,2246.8 L259.9,2252.6 L262.3,2257.8 L264.4,2259.7 L267.0,2258.7 L269.6,2260.3 L271.8,2264.8 L274.1,2270.6 L275.0,2270.0 L276.9,2268.0 L278.6,2267.4 L280.4,2270.0 L282.1,2272.5 L284.3,2272.5 L286.3,2269.3 L288.5,2266.4 L290.2,2271.2 L292.0,2275.7 L294.0,2279.6 L296.2,2276.4 L298.8,2274.5 L301.3,2272.8 L303.0,2276.4 L304.8,2280.0 L306.9,2277.0 L308.7,2271.9 L310.7,2268.7 L312.9,2270.0 L315.1,2272.8 L317.2,2274.8 L319.3,2273.8 L321.5,2271.5 L323.6,2268.0 L325.1,2267.4 L326.7,2269.3 L328.7,2266.7 L330.5,2263.3 L331.8,2261.2 L333.5,2263.5 L335.1,2264.8 L336.9,2263.5 L339.0,2259.0 L340.8,2253.9 L342.5,2248.8 L344.4,2243.0 L346.3,2241.7 L348.5,2239.8 L350.2,2235.3 L351.9,2227.6 L353.7,2218.6 L355.3,2209.6 L357.0,2200.6 L358.5,2191.6 L359.6,2176.6 L361.1,2162.1 L362.2,2147.7 L363.2,2133.2 L364.5,2118.7 L365.7,2106.2 L366.9,2098.5 L367.6,2097.0 L368.8,2099.5 L370.0,2106.2 L371.2,2118.7 L372.5,2133.2 L373.6,2147.7 L374.8,2162.1 L376.0,2173.7 L377.3,2184.3 L378.6,2203.1 L379.6,2218.6 L380.6,2237.8 L381.7,2259.7 L382.7,2282.8 L383.7,2328.6 L384.3,2343.0 L384.9,2357.5 L385.4,2371.9 L386.0,2386.4 L386.8,2398.0 L387.8,2404.7 L388.9,2409.5 L390.1,2406.6 L391.3,2400.8 L392.3,2391.2 L393.3,2381.6 L394.2,2372.9 L395.2,2368.1 L396.1,2366.6 L397.6,2370.0 L398.7,2375.8 L400.0,2382.5 L401.3,2387.3 L402.4,2388.3 L403.9,2388.3 L404.8,2384.5 L405.8,2377.7 L406.7,2371.9 L408.2,2369.0 L409.6,2366.1 L411.1,2363.3 L412.5,2357.5 L414.0,2351.7 L415.4,2344.9 L416.9,2337.2 L418.3,2328.6 L419.8,2318.9 L420.9,2312.2 L422.5,2306.4 L424.1,2302.0 L426.0,2297.2 L427.5,2292.9 L428.4,2286.8 L430.0,2277.8 L431.6,2273.3 L434.1,2270.1 L436.7,2267.3 L438.6,2266.5 L440.8,2268.8 L442.9,2270.7 L444.7,2266.9 L447.0,2263.0 L449.6,2259.5 L451.9,2257.9 L454.1,2259.2 L456.6,2260.8 L458.6,2257.9 L460.9,2254.9 L462.4,2254.4 L464.3,2257.0 L466.5,2257.5 L468.6,2256.6 L469.9,2257.2 L471.1,2251.4 L472.9,2248.0 L475.0,2249.3 L476.8,2250.8 L479.1,2249.5 L481.4,2246.3 L483.6,2243.3 L485.5,2244.4 L487.1,2244.6 L489.1,2241.2 L490.9,2235.4 L493.0,2230.5 L495.2,2230.2 L497.1,2231.3 L498.7,2231.5 L500.3,2227.7 L502.0,2217.4 L503.5,2211.0 L505.1,2213.5 L507.4,2217.4 L509.3,2212.2 L511.2,2204.5 L512.8,2194.3 L514.1,2186.5 L515.7,2182.7 L517.9,2180.8 L520.0,2176.3 L521.8,2171.1 L523.8,2164.7 L525.6,2158.3 L528.0,2152.5 L530.3,2146.7 L532.4,2144.1 L534.4,2140.9 L536.3,2138.4 L538.9,2137.1 L541.4,2134.5 L543.6,2136.4 L545.7,2139.0 L547.9,2140.3 L550.4,2140.9 L553.0,2141.6 L555.6,2143.5 L557.5,2146.7 L559.1,2151.8 L560.3,2157.0 L562.0,2160.8 L563.9,2163.2 L565.9,2165.3 L567.8,2169.2 L569.1,2173.7 L570.6,2178.8 L572.7,2184.0 L574.9,2187.8 L577.4,2191.0 L580.0,2193.6 L581.0,2195.1 L583.0,2199.9 L584.6,2204.7 L586.2,2209.5 L588.2,2209.1 L591.0,2206.7 L592.6,2209.5 L594.2,2213.5 L595.8,2217.6 L597.4,2219.2 L600.6,2217.6" fill="none" stroke="#176aad" stroke-width="2.3" stroke-linejoin="round" stroke-linecap="butt"/>
<rect x="114.5" y="2082.4" width="508.8" height="343.6" fill="none" stroke="#1a1a1a" stroke-width="1.5"/>
<line x1="136.2" y1="2426.0" x2="136.2" y2="2432.2" stroke="#1a1a1a" stroke-width="1.5"/>
<text x="136.2" y="2460.0" font-size="34.3" text-anchor="middle" font-family='"Liberation Serif", serif' font-weight="normal" >0.0</text>
<line x1="265.5" y1="2426.0" x2="265.5" y2="2432.2" stroke="#1a1a1a" stroke-width="1.5"/>
<text x="265.5" y="2460.0" font-size="34.3" text-anchor="middle" font-family='"Liberation Serif", serif' font-weight="normal" >0.2</text>
<line x1="394.8" y1="2426.0" x2="394.8" y2="2432.2" stroke="#1a1a1a" stroke-width="1.5"/>
<text x="394.8" y="2460.0" font-size="34.3" text-anchor="middle" font-family='"Liberation Serif", serif' font-weight="normal" >0.4</text>
<line x1="524.1" y1="2426.0" x2="524.1" y2="2432.2" stroke="#1a1a1a" stroke-width="1.5"/>
<text x="524.1" y="2460.0" font-size="34.3" text-anchor="middle" font-family='"Liberation Serif", serif' font-weight="normal" >0.6</text>
<text x="368.9" y="2496.8" font-size="34.3" text-anchor="middle" font-family='"Liberation Serif", serif' font-weight="normal" >Time/s</text>
<line x1="108.3" y1="2131.0" x2="114.5" y2="2131.0" stroke="#1a1a1a" stroke-width="1.5"/>
<text x="101.7" y="2142.9" font-size="34.3" text-anchor="end" font-family='"Liberation Serif", serif' font-weight="normal" >0.5</text>
<line x1="108.3" y1="2202.1" x2="114.5" y2="2202.1" stroke="#1a1a1a" stroke-width="1.5"/>
<text x="101.7" y="2214.0" font-size="34.3" text-anchor="end" font-family='"Liberation Serif", serif' font-weight="normal" >0.0</text>
<line x1="108.3" y1="2273.2" x2="114.5" y2="2273.2" stroke="#1a1a1a" stroke-width="1.5"/>
<text x="101.7" y="2285.1" font-size="34.3" text-anchor="end" font-family='"Liberation Serif", serif' font-weight="normal" >−0.5</text>
<line x1="108.3" y1="2344.4" x2="114.5" y2="2344.4" stroke="#1a1a1a" stroke-width="1.5"/>
<text x="101.7" y="2356.3" font-size="34.3" text-anchor="end" font-family='"Liberation Serif", serif' font-weight="normal" >−1.0</text>
<line x1="108.3" y1="2415.6" x2="114.5" y2="2415.6" stroke="#1a1a1a" stroke-width="1.5"/>
<text x="101.7" y="2427.5" font-size="34.3" text-anchor="end" font-family='"Liberation Serif", serif' font-weight="normal" >−1.5</text>
<text x="368.9" y="2073.2" font-size="40.7" text-anchor="middle" font-family='"Liberation Serif", serif' font-weight="normal" >Type: V</text>
<text x="0.0" y="0.0" font-size="34.3" text-anchor="middle" font-family='"Liberation Serif", serif' font-weight="normal" transform="translate(26.4,2256.5) rotate(-90)">U/mV</text>
<rect x="726.8" y="2082.4" width="511.2" height="343.6" fill="none" stroke="#1a1a1a" stroke-width="1.5"/>
<line x1="727.1" y1="2426.0" x2="727.1" y2="2432.2" stroke="#1a1a1a" stroke-width="1.5"/>
<text x="727.1" y="2460.0" font-size="34.3" text-anchor="middle" font-family='"Liberation Serif", serif' font-weight="normal" >0.0</text>
<line x1="869.1" y1="2426.0" x2="869.1" y2="2432.2" stroke="#1a1a1a" stroke-width="1.5"/>
<text x="869.1" y="2460.0" font-size="34.3" text-anchor="middle" font-family='"Liberation Serif", serif' font-weight="normal" >0.2</text>
<line x1="1011.1" y1="2426.0" x2="1011.1" y2="2432.2" stroke="#1a1a1a" stroke-width="1.5"/>
<text x="1011.1" y="2460.0" font-size="34.3" text-anchor="middle" font-family='"Liberation Serif", serif' font-weight="normal" >0.4</text>
<line x1="1153.1" y1="2426.0" x2="1153.1" y2="2432.2" stroke="#1a1a1a" stroke-width="1.5"/>
<text x="1153.1" y="2460.0" font-size="34.3" text-anchor="middle" font-family='"Liberation Serif", serif' font-weight="normal" >0.6</text>
<text x="982.4" y="2496.8" font-size="34.3" text-anchor="middle" font-family='"Liberation Serif", serif' font-weight="normal" >Time/s</text>
<line x1="720.6" y1="2140.0" x2="726.8" y2="2140.0" stroke="#1a1a1a" stroke-width="1.5"/>
<text x="714.0" y="2151.9" font-size="34.3" text-anchor="end" font-family='"Liberation Serif", serif' font-weight="normal" >150</text>
<line x1="720.6" y1="2236.0" x2="726.8" y2="2236.0" stroke="#1a1a1a" stroke-width="1.5"/>
<text x="714.0" y="2247.9" font-size="34.3" text-anchor="end" font-family='"Liberation Serif", serif' font-weight="normal" >100</text>
<line x1="720.6" y1="2331.9" x2="726.8" y2="2331.9" stroke="#1a1a1a" stroke-width="1.5"/>
<text x="714.0" y="2343.8" font-size="34.3" text-anchor="end" font-family='"Liberation Serif", serif' font-weight="normal" >50</text>
<text x="982.4" y="2073.2" font-size="40.7" text-anchor="middle" font-family='"Liberation Serif", serif' font-weight="normal" >Type: V</text>
<text x="0.0" y="0.0" font-size="34.3" text-anchor="middle" font-family='"Liberation Serif", serif' font-weight="normal" transform="translate(648.8,2256.2) rotate(-90)">Frequency/Hz</text>
</svg>
</div>
</body></html>
